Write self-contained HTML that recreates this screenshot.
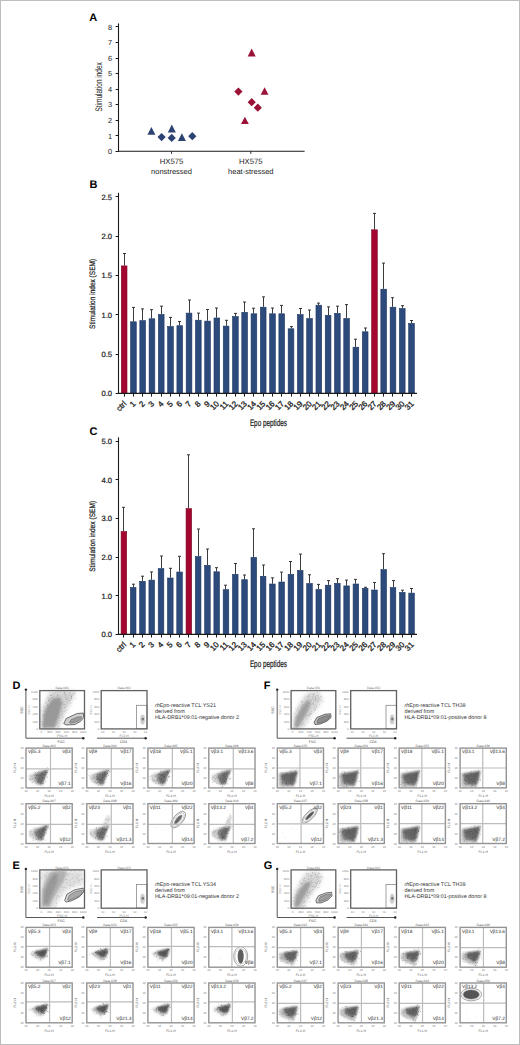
<!DOCTYPE html>
<html><head><meta charset="utf-8"><style>
html,body{margin:0;padding:0;background:#fff;}
body{width:520px;height:1045px;overflow:hidden;position:relative;}
svg{position:absolute;left:0;top:0;display:block;}
svg text{font-family:"Liberation Sans", sans-serif;text-rendering:geometricPrecision;}
.bt{stroke:#222;stroke-width:0.22px;}
</style></head><body>
<svg width="520" height="1045" viewBox="0 0 520 1045">
<defs>
<filter id="b1" x="-30%" y="-30%" width="160%" height="160%"><feGaussianBlur stdDeviation="1.2"/></filter>
<filter id="b2" x="-30%" y="-30%" width="160%" height="160%"><feGaussianBlur stdDeviation="2.2"/></filter>
<linearGradient id="coreg" x1="0" y1="0" x2="1" y2="0.3"><stop offset="0" stop-color="#a4a4a4"/><stop offset="0.45" stop-color="#747474"/><stop offset="1" stop-color="#626262"/></linearGradient>
<linearGradient id="coreF" x1="0" y1="1" x2="1" y2="0.2"><stop offset="0" stop-color="#979797"/><stop offset="0.35" stop-color="#6a6a6a"/><stop offset="1" stop-color="#5c5c5c"/></linearGradient>
<filter id="b07" x="-30%" y="-30%" width="160%" height="160%"><feGaussianBlur stdDeviation="0.8"/></filter>
<filter id="b05" x="-30%" y="-30%" width="160%" height="160%"><feGaussianBlur stdDeviation="0.6"/></filter>
</defs>
<rect x="0" y="0" width="520" height="1045" fill="#fff"/>
<text x="89.2" y="20.7" font-size="11" text-anchor="start" font-weight="bold" fill="#000" >A</text>
<line x1="118.5" y1="23.4" x2="118.5" y2="151.8" stroke="#1a1a1a" stroke-width="1.1" />
<line x1="115.6" y1="151.5" x2="118.5" y2="151.5" stroke="#1a1a1a" stroke-width="1.0" />
<text x="112" y="154.1" font-size="7.4" text-anchor="end" font-weight="normal" fill="#222" >0</text>
<line x1="115.6" y1="135.5" x2="118.5" y2="135.5" stroke="#1a1a1a" stroke-width="1.0" />
<text x="112" y="138.55" font-size="7.4" text-anchor="end" font-weight="normal" fill="#222" >1</text>
<line x1="115.6" y1="120.5" x2="118.5" y2="120.5" stroke="#1a1a1a" stroke-width="1.0" />
<text x="112" y="123" font-size="7.4" text-anchor="end" font-weight="normal" fill="#222" >2</text>
<line x1="115.6" y1="104.5" x2="118.5" y2="104.5" stroke="#1a1a1a" stroke-width="1.0" />
<text x="112" y="107.45" font-size="7.4" text-anchor="end" font-weight="normal" fill="#222" >3</text>
<line x1="115.6" y1="89.5" x2="118.5" y2="89.5" stroke="#1a1a1a" stroke-width="1.0" />
<text x="112" y="91.9" font-size="7.4" text-anchor="end" font-weight="normal" fill="#222" >4</text>
<line x1="115.6" y1="73.5" x2="118.5" y2="73.5" stroke="#1a1a1a" stroke-width="1.0" />
<text x="112" y="76.35" font-size="7.4" text-anchor="end" font-weight="normal" fill="#222" >5</text>
<line x1="115.6" y1="58.5" x2="118.5" y2="58.5" stroke="#1a1a1a" stroke-width="1.0" />
<text x="112" y="60.8" font-size="7.4" text-anchor="end" font-weight="normal" fill="#222" >6</text>
<line x1="115.6" y1="42.5" x2="118.5" y2="42.5" stroke="#1a1a1a" stroke-width="1.0" />
<text x="112" y="45.25" font-size="7.4" text-anchor="end" font-weight="normal" fill="#222" >7</text>
<line x1="115.6" y1="26.5" x2="118.5" y2="26.5" stroke="#1a1a1a" stroke-width="1.0" />
<text x="112" y="29.7" font-size="7.4" text-anchor="end" font-weight="normal" fill="#222" >8</text>
<line x1="118" y1="151.3" x2="304.6" y2="151.3" stroke="#1a1a1a" stroke-width="1.1" />
<line x1="171.5" y1="151.3" x2="171.5" y2="153.9" stroke="#1a1a1a" stroke-width="0.9" />
<line x1="250.8" y1="151.3" x2="250.8" y2="153.9" stroke="#1a1a1a" stroke-width="0.9" />
<text x="171.5" y="164" font-size="7.7" text-anchor="middle" font-weight="normal" fill="#222" >HX575</text>
<text x="171.5" y="173.5" font-size="7.5" text-anchor="middle" font-weight="normal" fill="#222" >nonstressed</text>
<text x="250.8" y="164" font-size="7.7" text-anchor="middle" font-weight="normal" fill="#222" >HX575</text>
<text x="250.8" y="173.5" font-size="7.5" text-anchor="middle" font-weight="normal" fill="#222" >heat-stressed</text>
<text transform="translate(102.2 86.9) rotate(-90)" font-size="9.6" text-anchor="middle" fill="#222" textLength="49.4" lengthAdjust="spacingAndGlyphs">Stimulation index</text>
<polygon points="151.4,126.9 155.4,134.8 147.4,134.8" fill="#2c4272"/>
<polygon points="161.6,133 165.7,137.1 161.6,141.2 157.5,137.1" fill="#2c4272"/>
<polygon points="171.8,124.6 175.8,132.5 167.8,132.5" fill="#2c4272"/>
<polygon points="171.7,133.8 175.8,137.9 171.7,142 167.6,137.9" fill="#2c4272"/>
<polygon points="181.9,133.3 185.9,141 177.9,141" fill="#2c4272"/>
<polygon points="192.3,132.1 196.4,136.2 192.3,140.3 188.2,136.2" fill="#2c4272"/>
<polygon points="251.7,48.6 255.7,56.4 247.7,56.4" fill="#9a1236"/>
<polygon points="238.4,87.5 242.5,91.6 238.4,95.7 234.3,91.6" fill="#9a1236"/>
<polygon points="264.6,87.2 268.5,94.7 260.7,94.7" fill="#9a1236"/>
<polygon points="251.7,98.1 255.8,102.2 251.7,106.3 247.6,102.2" fill="#9a1236"/>
<polygon points="257.8,103.6 261.9,107.7 257.8,111.8 253.7,107.7" fill="#9a1236"/>
<polygon points="244.9,116.7 248.8,124 241,124" fill="#9a1236"/>
<text x="89.6" y="188" font-size="11" text-anchor="start" font-weight="bold" fill="#000" >B</text>
<line x1="118.5" y1="192.8" x2="118.5" y2="393.9" stroke="#1a1a1a" stroke-width="1.1" />
<line x1="115.6" y1="393.5" x2="118.5" y2="393.5" stroke="#1a1a1a" stroke-width="1.0" />
<text class="bt" x="112" y="396.2" font-size="7.6" text-anchor="end" font-weight="normal" fill="#222" >0.0</text>
<line x1="115.6" y1="354.5" x2="118.5" y2="354.5" stroke="#1a1a1a" stroke-width="1.0" />
<text class="bt" x="112" y="356.9" font-size="7.6" text-anchor="end" font-weight="normal" fill="#222" >0.5</text>
<line x1="115.6" y1="314.5" x2="118.5" y2="314.5" stroke="#1a1a1a" stroke-width="1.0" />
<text class="bt" x="112" y="317.6" font-size="7.6" text-anchor="end" font-weight="normal" fill="#222" >1.0</text>
<line x1="115.6" y1="275.5" x2="118.5" y2="275.5" stroke="#1a1a1a" stroke-width="1.0" />
<text class="bt" x="112" y="278.3" font-size="7.6" text-anchor="end" font-weight="normal" fill="#222" >1.5</text>
<line x1="115.6" y1="236.5" x2="118.5" y2="236.5" stroke="#1a1a1a" stroke-width="1.0" />
<text class="bt" x="112" y="239" font-size="7.6" text-anchor="end" font-weight="normal" fill="#222" >2.0</text>
<line x1="115.6" y1="196.5" x2="118.5" y2="196.5" stroke="#1a1a1a" stroke-width="1.0" />
<text class="bt" x="112" y="199.7" font-size="7.6" text-anchor="end" font-weight="normal" fill="#222" >2.5</text>
<line x1="124.5" y1="253.5" x2="124.5" y2="265.6" stroke="#3c3c3c" stroke-width="1.0" />
<line x1="123" y1="253.5" x2="126" y2="253.5" stroke="#333" stroke-width="1.0" />
<rect x="121.3" y="265.9" width="5.7" height="127.5" fill="#a5062f" stroke="#780a24" stroke-width="0.6"/>
<line x1="124.5" y1="393.4" x2="124.5" y2="396.6" stroke="#1a1a1a" stroke-width="1.0" />
<text transform="translate(126.95 404.3) rotate(-45)" font-size="8" text-anchor="end" fill="#222" class="bt" style="stroke-width:0.3px">ctrl</text>
<line x1="133.5" y1="307.4" x2="133.5" y2="321.5" stroke="#3c3c3c" stroke-width="1.0" />
<line x1="132" y1="307.4" x2="135" y2="307.4" stroke="#333" stroke-width="1.0" />
<rect x="130.57" y="321.8" width="5.7" height="71.6" fill="#2c4a7c" stroke="#1f3760" stroke-width="0.6"/>
<line x1="133.5" y1="393.4" x2="133.5" y2="396.6" stroke="#1a1a1a" stroke-width="1.0" />
<text transform="translate(136.22 404.3) rotate(-45)" font-size="8" text-anchor="end" fill="#222" class="bt" style="stroke-width:0.3px">1</text>
<line x1="142.5" y1="308.9" x2="142.5" y2="320.3" stroke="#3c3c3c" stroke-width="1.0" />
<line x1="141" y1="308.9" x2="144" y2="308.9" stroke="#333" stroke-width="1.0" />
<rect x="139.84" y="320.6" width="5.7" height="72.8" fill="#2c4a7c" stroke="#1f3760" stroke-width="0.6"/>
<line x1="142.5" y1="393.4" x2="142.5" y2="396.6" stroke="#1a1a1a" stroke-width="1.0" />
<text transform="translate(145.49 404.3) rotate(-45)" font-size="8" text-anchor="end" fill="#222" class="bt" style="stroke-width:0.3px">2</text>
<line x1="151.5" y1="309.7" x2="151.5" y2="318.5" stroke="#3c3c3c" stroke-width="1.0" />
<line x1="150" y1="309.7" x2="153" y2="309.7" stroke="#333" stroke-width="1.0" />
<rect x="149.11" y="318.8" width="5.7" height="74.6" fill="#2c4a7c" stroke="#1f3760" stroke-width="0.6"/>
<line x1="151.5" y1="393.4" x2="151.5" y2="396.6" stroke="#1a1a1a" stroke-width="1.0" />
<text transform="translate(154.76 404.3) rotate(-45)" font-size="8" text-anchor="end" fill="#222" class="bt" style="stroke-width:0.3px">3</text>
<line x1="161.5" y1="306.2" x2="161.5" y2="314.2" stroke="#3c3c3c" stroke-width="1.0" />
<line x1="160" y1="306.2" x2="163" y2="306.2" stroke="#333" stroke-width="1.0" />
<rect x="158.38" y="314.5" width="5.7" height="78.9" fill="#2c4a7c" stroke="#1f3760" stroke-width="0.6"/>
<line x1="161.5" y1="393.4" x2="161.5" y2="396.6" stroke="#1a1a1a" stroke-width="1.0" />
<text transform="translate(164.03 404.3) rotate(-45)" font-size="8" text-anchor="end" fill="#222" class="bt" style="stroke-width:0.3px">4</text>
<line x1="170.5" y1="317.4" x2="170.5" y2="326.2" stroke="#3c3c3c" stroke-width="1.0" />
<line x1="169" y1="317.4" x2="172" y2="317.4" stroke="#333" stroke-width="1.0" />
<rect x="167.65" y="326.5" width="5.7" height="66.9" fill="#2c4a7c" stroke="#1f3760" stroke-width="0.6"/>
<line x1="170.5" y1="393.4" x2="170.5" y2="396.6" stroke="#1a1a1a" stroke-width="1.0" />
<text transform="translate(173.3 404.3) rotate(-45)" font-size="8" text-anchor="end" fill="#222" class="bt" style="stroke-width:0.3px">5</text>
<line x1="179.5" y1="321.5" x2="179.5" y2="325.4" stroke="#3c3c3c" stroke-width="1.0" />
<line x1="178" y1="321.5" x2="181" y2="321.5" stroke="#333" stroke-width="1.0" />
<rect x="176.92" y="325.7" width="5.7" height="67.7" fill="#2c4a7c" stroke="#1f3760" stroke-width="0.6"/>
<line x1="179.5" y1="393.4" x2="179.5" y2="396.6" stroke="#1a1a1a" stroke-width="1.0" />
<text transform="translate(182.57 404.3) rotate(-45)" font-size="8" text-anchor="end" fill="#222" class="bt" style="stroke-width:0.3px">6</text>
<line x1="189.5" y1="300" x2="189.5" y2="312.8" stroke="#3c3c3c" stroke-width="1.0" />
<line x1="188" y1="300" x2="191" y2="300" stroke="#333" stroke-width="1.0" />
<rect x="186.19" y="313.1" width="5.7" height="80.3" fill="#2c4a7c" stroke="#1f3760" stroke-width="0.6"/>
<line x1="189.5" y1="393.4" x2="189.5" y2="396.6" stroke="#1a1a1a" stroke-width="1.0" />
<text transform="translate(191.84 404.3) rotate(-45)" font-size="8" text-anchor="end" fill="#222" class="bt" style="stroke-width:0.3px">7</text>
<line x1="198.5" y1="313.1" x2="198.5" y2="319.9" stroke="#3c3c3c" stroke-width="1.0" />
<line x1="197" y1="313.1" x2="200" y2="313.1" stroke="#333" stroke-width="1.0" />
<rect x="195.46" y="320.2" width="5.7" height="73.2" fill="#2c4a7c" stroke="#1f3760" stroke-width="0.6"/>
<line x1="198.5" y1="393.4" x2="198.5" y2="396.6" stroke="#1a1a1a" stroke-width="1.0" />
<text transform="translate(201.11 404.3) rotate(-45)" font-size="8" text-anchor="end" fill="#222" class="bt" style="stroke-width:0.3px">8</text>
<line x1="207.5" y1="309.5" x2="207.5" y2="320.8" stroke="#3c3c3c" stroke-width="1.0" />
<line x1="206" y1="309.5" x2="209" y2="309.5" stroke="#333" stroke-width="1.0" />
<rect x="204.73" y="321.1" width="5.7" height="72.3" fill="#2c4a7c" stroke="#1f3760" stroke-width="0.6"/>
<line x1="207.5" y1="393.4" x2="207.5" y2="396.6" stroke="#1a1a1a" stroke-width="1.0" />
<text transform="translate(210.38 404.3) rotate(-45)" font-size="8" text-anchor="end" fill="#222" class="bt" style="stroke-width:0.3px">9</text>
<line x1="216.5" y1="308" x2="216.5" y2="317.7" stroke="#3c3c3c" stroke-width="1.0" />
<line x1="215" y1="308" x2="218" y2="308" stroke="#333" stroke-width="1.0" />
<rect x="214" y="318" width="5.7" height="75.4" fill="#2c4a7c" stroke="#1f3760" stroke-width="0.6"/>
<line x1="216.5" y1="393.4" x2="216.5" y2="396.6" stroke="#1a1a1a" stroke-width="1.0" />
<text transform="translate(219.65 404.3) rotate(-45)" font-size="8" text-anchor="end" fill="#222" class="bt" style="stroke-width:0.3px">10</text>
<line x1="226.5" y1="320.3" x2="226.5" y2="325.8" stroke="#3c3c3c" stroke-width="1.0" />
<line x1="225" y1="320.3" x2="228" y2="320.3" stroke="#333" stroke-width="1.0" />
<rect x="223.27" y="326.1" width="5.7" height="67.3" fill="#2c4a7c" stroke="#1f3760" stroke-width="0.6"/>
<line x1="226.5" y1="393.4" x2="226.5" y2="396.6" stroke="#1a1a1a" stroke-width="1.0" />
<text transform="translate(228.92 404.3) rotate(-45)" font-size="8" text-anchor="end" fill="#222" class="bt" style="stroke-width:0.3px">11</text>
<line x1="235.5" y1="313.4" x2="235.5" y2="316.2" stroke="#3c3c3c" stroke-width="1.0" />
<line x1="234" y1="313.4" x2="237" y2="313.4" stroke="#333" stroke-width="1.0" />
<rect x="232.54" y="316.5" width="5.7" height="76.9" fill="#2c4a7c" stroke="#1f3760" stroke-width="0.6"/>
<line x1="235.5" y1="393.4" x2="235.5" y2="396.6" stroke="#1a1a1a" stroke-width="1.0" />
<text transform="translate(238.19 404.3) rotate(-45)" font-size="8" text-anchor="end" fill="#222" class="bt" style="stroke-width:0.3px">12</text>
<line x1="244.5" y1="302" x2="244.5" y2="312" stroke="#3c3c3c" stroke-width="1.0" />
<line x1="243" y1="302" x2="246" y2="302" stroke="#333" stroke-width="1.0" />
<rect x="241.81" y="312.3" width="5.7" height="81.1" fill="#2c4a7c" stroke="#1f3760" stroke-width="0.6"/>
<line x1="244.5" y1="393.4" x2="244.5" y2="396.6" stroke="#1a1a1a" stroke-width="1.0" />
<text transform="translate(247.46 404.3) rotate(-45)" font-size="8" text-anchor="end" fill="#222" class="bt" style="stroke-width:0.3px">13</text>
<line x1="253.5" y1="308.2" x2="253.5" y2="313.5" stroke="#3c3c3c" stroke-width="1.0" />
<line x1="252" y1="308.2" x2="255" y2="308.2" stroke="#333" stroke-width="1.0" />
<rect x="251.08" y="313.8" width="5.7" height="79.6" fill="#2c4a7c" stroke="#1f3760" stroke-width="0.6"/>
<line x1="253.5" y1="393.4" x2="253.5" y2="396.6" stroke="#1a1a1a" stroke-width="1.0" />
<text transform="translate(256.73 404.3) rotate(-45)" font-size="8" text-anchor="end" fill="#222" class="bt" style="stroke-width:0.3px">14</text>
<line x1="263.5" y1="296.9" x2="263.5" y2="306.9" stroke="#3c3c3c" stroke-width="1.0" />
<line x1="262" y1="296.9" x2="265" y2="296.9" stroke="#333" stroke-width="1.0" />
<rect x="260.35" y="307.2" width="5.7" height="86.2" fill="#2c4a7c" stroke="#1f3760" stroke-width="0.6"/>
<line x1="263.5" y1="393.4" x2="263.5" y2="396.6" stroke="#1a1a1a" stroke-width="1.0" />
<text transform="translate(266 404.3) rotate(-45)" font-size="8" text-anchor="end" fill="#222" class="bt" style="stroke-width:0.3px">15</text>
<line x1="272.5" y1="308" x2="272.5" y2="313.5" stroke="#3c3c3c" stroke-width="1.0" />
<line x1="271" y1="308" x2="274" y2="308" stroke="#333" stroke-width="1.0" />
<rect x="269.62" y="313.8" width="5.7" height="79.6" fill="#2c4a7c" stroke="#1f3760" stroke-width="0.6"/>
<line x1="272.5" y1="393.4" x2="272.5" y2="396.6" stroke="#1a1a1a" stroke-width="1.0" />
<text transform="translate(275.27 404.3) rotate(-45)" font-size="8" text-anchor="end" fill="#222" class="bt" style="stroke-width:0.3px">16</text>
<line x1="281.5" y1="305.4" x2="281.5" y2="313.5" stroke="#3c3c3c" stroke-width="1.0" />
<line x1="280" y1="305.4" x2="283" y2="305.4" stroke="#333" stroke-width="1.0" />
<rect x="278.89" y="313.8" width="5.7" height="79.6" fill="#2c4a7c" stroke="#1f3760" stroke-width="0.6"/>
<line x1="281.5" y1="393.4" x2="281.5" y2="396.6" stroke="#1a1a1a" stroke-width="1.0" />
<text transform="translate(284.54 404.3) rotate(-45)" font-size="8" text-anchor="end" fill="#222" class="bt" style="stroke-width:0.3px">17</text>
<line x1="291.5" y1="326.6" x2="291.5" y2="328.5" stroke="#3c3c3c" stroke-width="1.0" />
<line x1="290" y1="326.6" x2="293" y2="326.6" stroke="#333" stroke-width="1.0" />
<rect x="288.16" y="328.8" width="5.7" height="64.6" fill="#2c4a7c" stroke="#1f3760" stroke-width="0.6"/>
<line x1="291.5" y1="393.4" x2="291.5" y2="396.6" stroke="#1a1a1a" stroke-width="1.0" />
<text transform="translate(293.81 404.3) rotate(-45)" font-size="8" text-anchor="end" fill="#222" class="bt" style="stroke-width:0.3px">18</text>
<line x1="300.5" y1="308.5" x2="300.5" y2="314.3" stroke="#3c3c3c" stroke-width="1.0" />
<line x1="299" y1="308.5" x2="302" y2="308.5" stroke="#333" stroke-width="1.0" />
<rect x="297.43" y="314.6" width="5.7" height="78.8" fill="#2c4a7c" stroke="#1f3760" stroke-width="0.6"/>
<line x1="300.5" y1="393.4" x2="300.5" y2="396.6" stroke="#1a1a1a" stroke-width="1.0" />
<text transform="translate(303.08 404.3) rotate(-45)" font-size="8" text-anchor="end" fill="#222" class="bt" style="stroke-width:0.3px">19</text>
<line x1="309.5" y1="310" x2="309.5" y2="318.2" stroke="#3c3c3c" stroke-width="1.0" />
<line x1="308" y1="310" x2="311" y2="310" stroke="#333" stroke-width="1.0" />
<rect x="306.7" y="318.5" width="5.7" height="74.9" fill="#2c4a7c" stroke="#1f3760" stroke-width="0.6"/>
<line x1="309.5" y1="393.4" x2="309.5" y2="396.6" stroke="#1a1a1a" stroke-width="1.0" />
<text transform="translate(312.35 404.3) rotate(-45)" font-size="8" text-anchor="end" fill="#222" class="bt" style="stroke-width:0.3px">20</text>
<line x1="318.5" y1="303.1" x2="318.5" y2="304.9" stroke="#3c3c3c" stroke-width="1.0" />
<line x1="317" y1="303.1" x2="320" y2="303.1" stroke="#333" stroke-width="1.0" />
<rect x="315.97" y="305.2" width="5.7" height="88.2" fill="#2c4a7c" stroke="#1f3760" stroke-width="0.6"/>
<line x1="318.5" y1="393.4" x2="318.5" y2="396.6" stroke="#1a1a1a" stroke-width="1.0" />
<text transform="translate(321.62 404.3) rotate(-45)" font-size="8" text-anchor="end" fill="#222" class="bt" style="stroke-width:0.3px">21</text>
<line x1="328.5" y1="306.9" x2="328.5" y2="315" stroke="#3c3c3c" stroke-width="1.0" />
<line x1="327" y1="306.9" x2="330" y2="306.9" stroke="#333" stroke-width="1.0" />
<rect x="325.24" y="315.3" width="5.7" height="78.1" fill="#2c4a7c" stroke="#1f3760" stroke-width="0.6"/>
<line x1="328.5" y1="393.4" x2="328.5" y2="396.6" stroke="#1a1a1a" stroke-width="1.0" />
<text transform="translate(330.89 404.3) rotate(-45)" font-size="8" text-anchor="end" fill="#222" class="bt" style="stroke-width:0.3px">22</text>
<line x1="337.5" y1="306.2" x2="337.5" y2="313" stroke="#3c3c3c" stroke-width="1.0" />
<line x1="336" y1="306.2" x2="339" y2="306.2" stroke="#333" stroke-width="1.0" />
<rect x="334.51" y="313.3" width="5.7" height="80.1" fill="#2c4a7c" stroke="#1f3760" stroke-width="0.6"/>
<line x1="337.5" y1="393.4" x2="337.5" y2="396.6" stroke="#1a1a1a" stroke-width="1.0" />
<text transform="translate(340.16 404.3) rotate(-45)" font-size="8" text-anchor="end" fill="#222" class="bt" style="stroke-width:0.3px">23</text>
<line x1="346.5" y1="304.6" x2="346.5" y2="318.2" stroke="#3c3c3c" stroke-width="1.0" />
<line x1="345" y1="304.6" x2="348" y2="304.6" stroke="#333" stroke-width="1.0" />
<rect x="343.78" y="318.5" width="5.7" height="74.9" fill="#2c4a7c" stroke="#1f3760" stroke-width="0.6"/>
<line x1="346.5" y1="393.4" x2="346.5" y2="396.6" stroke="#1a1a1a" stroke-width="1.0" />
<text transform="translate(349.43 404.3) rotate(-45)" font-size="8" text-anchor="end" fill="#222" class="bt" style="stroke-width:0.3px">24</text>
<line x1="355.5" y1="339.2" x2="355.5" y2="346.9" stroke="#3c3c3c" stroke-width="1.0" />
<line x1="354" y1="339.2" x2="357" y2="339.2" stroke="#333" stroke-width="1.0" />
<rect x="353.05" y="347.2" width="5.7" height="46.2" fill="#2c4a7c" stroke="#1f3760" stroke-width="0.6"/>
<line x1="355.5" y1="393.4" x2="355.5" y2="396.6" stroke="#1a1a1a" stroke-width="1.0" />
<text transform="translate(358.7 404.3) rotate(-45)" font-size="8" text-anchor="end" fill="#222" class="bt" style="stroke-width:0.3px">25</text>
<line x1="365.5" y1="328" x2="365.5" y2="331.5" stroke="#3c3c3c" stroke-width="1.0" />
<line x1="364" y1="328" x2="367" y2="328" stroke="#333" stroke-width="1.0" />
<rect x="362.32" y="331.8" width="5.7" height="61.6" fill="#2c4a7c" stroke="#1f3760" stroke-width="0.6"/>
<line x1="365.5" y1="393.4" x2="365.5" y2="396.6" stroke="#1a1a1a" stroke-width="1.0" />
<text transform="translate(367.97 404.3) rotate(-45)" font-size="8" text-anchor="end" fill="#222" class="bt" style="stroke-width:0.3px">26</text>
<line x1="374.5" y1="213.4" x2="374.5" y2="229.5" stroke="#3c3c3c" stroke-width="1.0" />
<line x1="373" y1="213.4" x2="376" y2="213.4" stroke="#333" stroke-width="1.0" />
<rect x="371.59" y="229.8" width="5.7" height="163.6" fill="#a5062f" stroke="#780a24" stroke-width="0.6"/>
<line x1="374.5" y1="393.4" x2="374.5" y2="396.6" stroke="#1a1a1a" stroke-width="1.0" />
<text transform="translate(377.24 404.3) rotate(-45)" font-size="8" text-anchor="end" fill="#222" class="bt" style="stroke-width:0.3px">27</text>
<line x1="383.5" y1="263.1" x2="383.5" y2="288.9" stroke="#3c3c3c" stroke-width="1.0" />
<line x1="382" y1="263.1" x2="385" y2="263.1" stroke="#333" stroke-width="1.0" />
<rect x="380.86" y="289.2" width="5.7" height="104.2" fill="#2c4a7c" stroke="#1f3760" stroke-width="0.6"/>
<line x1="383.5" y1="393.4" x2="383.5" y2="396.6" stroke="#1a1a1a" stroke-width="1.0" />
<text transform="translate(386.51 404.3) rotate(-45)" font-size="8" text-anchor="end" fill="#222" class="bt" style="stroke-width:0.3px">28</text>
<line x1="392.5" y1="297.7" x2="392.5" y2="306.9" stroke="#3c3c3c" stroke-width="1.0" />
<line x1="391" y1="297.7" x2="394" y2="297.7" stroke="#333" stroke-width="1.0" />
<rect x="390.13" y="307.2" width="5.7" height="86.2" fill="#2c4a7c" stroke="#1f3760" stroke-width="0.6"/>
<line x1="392.5" y1="393.4" x2="392.5" y2="396.6" stroke="#1a1a1a" stroke-width="1.0" />
<text transform="translate(395.78 404.3) rotate(-45)" font-size="8" text-anchor="end" fill="#222" class="bt" style="stroke-width:0.3px">29</text>
<line x1="402.5" y1="305.7" x2="402.5" y2="308.2" stroke="#3c3c3c" stroke-width="1.0" />
<line x1="401" y1="305.7" x2="404" y2="305.7" stroke="#333" stroke-width="1.0" />
<rect x="399.4" y="308.5" width="5.7" height="84.9" fill="#2c4a7c" stroke="#1f3760" stroke-width="0.6"/>
<line x1="402.5" y1="393.4" x2="402.5" y2="396.6" stroke="#1a1a1a" stroke-width="1.0" />
<text transform="translate(405.05 404.3) rotate(-45)" font-size="8" text-anchor="end" fill="#222" class="bt" style="stroke-width:0.3px">30</text>
<line x1="411.5" y1="320.5" x2="411.5" y2="323.1" stroke="#3c3c3c" stroke-width="1.0" />
<line x1="410" y1="320.5" x2="413" y2="320.5" stroke="#333" stroke-width="1.0" />
<rect x="408.67" y="323.4" width="5.7" height="70" fill="#2c4a7c" stroke="#1f3760" stroke-width="0.6"/>
<line x1="411.5" y1="393.4" x2="411.5" y2="396.6" stroke="#1a1a1a" stroke-width="1.0" />
<text transform="translate(414.32 404.3) rotate(-45)" font-size="8" text-anchor="end" fill="#222" class="bt" style="stroke-width:0.3px">31</text>
<line x1="117.8" y1="393.4" x2="417" y2="393.4" stroke="#1a1a1a" stroke-width="1.2" />
<text x="268.4" y="425.6" font-size="9.5" text-anchor="middle" fill="#222" textLength="37" lengthAdjust="spacingAndGlyphs" class="bt">Epo peptides</text>
<text transform="translate(95.4 293.9) rotate(-90)" font-size="7.9" text-anchor="middle" fill="#222" textLength="70" lengthAdjust="spacingAndGlyphs" class="bt">Stimulation index (SEM)</text>
<text x="89.6" y="435.4" font-size="11" text-anchor="start" font-weight="bold" fill="#000" >C</text>
<line x1="118.5" y1="437.3" x2="118.5" y2="634.8" stroke="#1a1a1a" stroke-width="1.1" />
<line x1="115.6" y1="634.5" x2="118.5" y2="634.5" stroke="#1a1a1a" stroke-width="1.0" />
<text class="bt" x="112" y="637.1" font-size="7.6" text-anchor="end" font-weight="normal" fill="#222" >0.0</text>
<line x1="115.6" y1="595.5" x2="118.5" y2="595.5" stroke="#1a1a1a" stroke-width="1.0" />
<text class="bt" x="112" y="598.5" font-size="7.6" text-anchor="end" font-weight="normal" fill="#222" >1.0</text>
<line x1="115.6" y1="557.5" x2="118.5" y2="557.5" stroke="#1a1a1a" stroke-width="1.0" />
<text class="bt" x="112" y="559.9" font-size="7.6" text-anchor="end" font-weight="normal" fill="#222" >2.0</text>
<line x1="115.6" y1="518.5" x2="118.5" y2="518.5" stroke="#1a1a1a" stroke-width="1.0" />
<text class="bt" x="112" y="521.3" font-size="7.6" text-anchor="end" font-weight="normal" fill="#222" >3.0</text>
<line x1="115.6" y1="479.5" x2="118.5" y2="479.5" stroke="#1a1a1a" stroke-width="1.0" />
<text class="bt" x="112" y="482.7" font-size="7.6" text-anchor="end" font-weight="normal" fill="#222" >4.0</text>
<line x1="115.6" y1="441.5" x2="118.5" y2="441.5" stroke="#1a1a1a" stroke-width="1.0" />
<text class="bt" x="112" y="444.1" font-size="7.6" text-anchor="end" font-weight="normal" fill="#222" >5.0</text>
<line x1="123.5" y1="507.3" x2="123.5" y2="531.3" stroke="#3c3c3c" stroke-width="1.0" />
<line x1="122" y1="507.3" x2="125" y2="507.3" stroke="#333" stroke-width="1.0" />
<rect x="121.1" y="531.6" width="5.6" height="102.7" fill="#a5062f" stroke="#780a24" stroke-width="0.6"/>
<line x1="123.5" y1="634.3" x2="123.5" y2="637.5" stroke="#1a1a1a" stroke-width="1.0" />
<text transform="translate(126.7 645.2) rotate(-45)" font-size="8" text-anchor="end" fill="#222" class="bt" style="stroke-width:0.3px">ctrl</text>
<line x1="133.5" y1="584.2" x2="133.5" y2="587.1" stroke="#3c3c3c" stroke-width="1.0" />
<line x1="132" y1="584.2" x2="135" y2="584.2" stroke="#333" stroke-width="1.0" />
<rect x="130.38" y="587.4" width="5.6" height="46.9" fill="#2c4a7c" stroke="#1f3760" stroke-width="0.6"/>
<line x1="133.5" y1="634.3" x2="133.5" y2="637.5" stroke="#1a1a1a" stroke-width="1.0" />
<text transform="translate(135.98 645.2) rotate(-45)" font-size="8" text-anchor="end" fill="#222" class="bt" style="stroke-width:0.3px">1</text>
<line x1="142.5" y1="576.2" x2="142.5" y2="581" stroke="#3c3c3c" stroke-width="1.0" />
<line x1="141" y1="576.2" x2="144" y2="576.2" stroke="#333" stroke-width="1.0" />
<rect x="139.66" y="581.3" width="5.6" height="53" fill="#2c4a7c" stroke="#1f3760" stroke-width="0.6"/>
<line x1="142.5" y1="634.3" x2="142.5" y2="637.5" stroke="#1a1a1a" stroke-width="1.0" />
<text transform="translate(145.26 645.2) rotate(-45)" font-size="8" text-anchor="end" fill="#222" class="bt" style="stroke-width:0.3px">2</text>
<line x1="151.5" y1="571.9" x2="151.5" y2="579.8" stroke="#3c3c3c" stroke-width="1.0" />
<line x1="150" y1="571.9" x2="153" y2="571.9" stroke="#333" stroke-width="1.0" />
<rect x="148.94" y="580.1" width="5.6" height="54.2" fill="#2c4a7c" stroke="#1f3760" stroke-width="0.6"/>
<line x1="151.5" y1="634.3" x2="151.5" y2="637.5" stroke="#1a1a1a" stroke-width="1.0" />
<text transform="translate(154.54 645.2) rotate(-45)" font-size="8" text-anchor="end" fill="#222" class="bt" style="stroke-width:0.3px">3</text>
<line x1="161.5" y1="556" x2="161.5" y2="568.3" stroke="#3c3c3c" stroke-width="1.0" />
<line x1="160" y1="556" x2="163" y2="556" stroke="#333" stroke-width="1.0" />
<rect x="158.22" y="568.6" width="5.6" height="65.7" fill="#2c4a7c" stroke="#1f3760" stroke-width="0.6"/>
<line x1="161.5" y1="634.3" x2="161.5" y2="637.5" stroke="#1a1a1a" stroke-width="1.0" />
<text transform="translate(163.82 645.2) rotate(-45)" font-size="8" text-anchor="end" fill="#222" class="bt" style="stroke-width:0.3px">4</text>
<line x1="170.5" y1="568.3" x2="170.5" y2="577.7" stroke="#3c3c3c" stroke-width="1.0" />
<line x1="169" y1="568.3" x2="172" y2="568.3" stroke="#333" stroke-width="1.0" />
<rect x="167.5" y="578" width="5.6" height="56.3" fill="#2c4a7c" stroke="#1f3760" stroke-width="0.6"/>
<line x1="170.5" y1="634.3" x2="170.5" y2="637.5" stroke="#1a1a1a" stroke-width="1.0" />
<text transform="translate(173.1 645.2) rotate(-45)" font-size="8" text-anchor="end" fill="#222" class="bt" style="stroke-width:0.3px">5</text>
<line x1="179.5" y1="556.3" x2="179.5" y2="571.7" stroke="#3c3c3c" stroke-width="1.0" />
<line x1="178" y1="556.3" x2="181" y2="556.3" stroke="#333" stroke-width="1.0" />
<rect x="176.78" y="572" width="5.6" height="62.3" fill="#2c4a7c" stroke="#1f3760" stroke-width="0.6"/>
<line x1="179.5" y1="634.3" x2="179.5" y2="637.5" stroke="#1a1a1a" stroke-width="1.0" />
<text transform="translate(182.38 645.2) rotate(-45)" font-size="8" text-anchor="end" fill="#222" class="bt" style="stroke-width:0.3px">6</text>
<line x1="188.5" y1="454.8" x2="188.5" y2="508.3" stroke="#3c3c3c" stroke-width="1.0" />
<line x1="187" y1="454.8" x2="190" y2="454.8" stroke="#333" stroke-width="1.0" />
<rect x="186.06" y="508.6" width="5.6" height="125.7" fill="#a5062f" stroke="#780a24" stroke-width="0.6"/>
<line x1="188.5" y1="634.3" x2="188.5" y2="637.5" stroke="#1a1a1a" stroke-width="1.0" />
<text transform="translate(191.66 645.2) rotate(-45)" font-size="8" text-anchor="end" fill="#222" class="bt" style="stroke-width:0.3px">7</text>
<line x1="198.5" y1="529" x2="198.5" y2="556.2" stroke="#3c3c3c" stroke-width="1.0" />
<line x1="197" y1="529" x2="200" y2="529" stroke="#333" stroke-width="1.0" />
<rect x="195.34" y="556.5" width="5.6" height="77.8" fill="#2c4a7c" stroke="#1f3760" stroke-width="0.6"/>
<line x1="198.5" y1="634.3" x2="198.5" y2="637.5" stroke="#1a1a1a" stroke-width="1.0" />
<text transform="translate(200.94 645.2) rotate(-45)" font-size="8" text-anchor="end" fill="#222" class="bt" style="stroke-width:0.3px">8</text>
<line x1="207.5" y1="549" x2="207.5" y2="565" stroke="#3c3c3c" stroke-width="1.0" />
<line x1="206" y1="549" x2="209" y2="549" stroke="#333" stroke-width="1.0" />
<rect x="204.62" y="565.3" width="5.6" height="69" fill="#2c4a7c" stroke="#1f3760" stroke-width="0.6"/>
<line x1="207.5" y1="634.3" x2="207.5" y2="637.5" stroke="#1a1a1a" stroke-width="1.0" />
<text transform="translate(210.22 645.2) rotate(-45)" font-size="8" text-anchor="end" fill="#222" class="bt" style="stroke-width:0.3px">9</text>
<line x1="216.5" y1="567.7" x2="216.5" y2="571.5" stroke="#3c3c3c" stroke-width="1.0" />
<line x1="215" y1="567.7" x2="218" y2="567.7" stroke="#333" stroke-width="1.0" />
<rect x="213.9" y="571.8" width="5.6" height="62.5" fill="#2c4a7c" stroke="#1f3760" stroke-width="0.6"/>
<line x1="216.5" y1="634.3" x2="216.5" y2="637.5" stroke="#1a1a1a" stroke-width="1.0" />
<text transform="translate(219.5 645.2) rotate(-45)" font-size="8" text-anchor="end" fill="#222" class="bt" style="stroke-width:0.3px">10</text>
<line x1="225.5" y1="585.2" x2="225.5" y2="589.4" stroke="#3c3c3c" stroke-width="1.0" />
<line x1="224" y1="585.2" x2="227" y2="585.2" stroke="#333" stroke-width="1.0" />
<rect x="223.18" y="589.7" width="5.6" height="44.6" fill="#2c4a7c" stroke="#1f3760" stroke-width="0.6"/>
<line x1="225.5" y1="634.3" x2="225.5" y2="637.5" stroke="#1a1a1a" stroke-width="1.0" />
<text transform="translate(228.78 645.2) rotate(-45)" font-size="8" text-anchor="end" fill="#222" class="bt" style="stroke-width:0.3px">11</text>
<line x1="235.5" y1="563.5" x2="235.5" y2="574" stroke="#3c3c3c" stroke-width="1.0" />
<line x1="234" y1="563.5" x2="237" y2="563.5" stroke="#333" stroke-width="1.0" />
<rect x="232.46" y="574.3" width="5.6" height="60" fill="#2c4a7c" stroke="#1f3760" stroke-width="0.6"/>
<line x1="235.5" y1="634.3" x2="235.5" y2="637.5" stroke="#1a1a1a" stroke-width="1.0" />
<text transform="translate(238.06 645.2) rotate(-45)" font-size="8" text-anchor="end" fill="#222" class="bt" style="stroke-width:0.3px">12</text>
<line x1="244.5" y1="575" x2="244.5" y2="579.4" stroke="#3c3c3c" stroke-width="1.0" />
<line x1="243" y1="575" x2="246" y2="575" stroke="#333" stroke-width="1.0" />
<rect x="241.74" y="579.7" width="5.6" height="54.6" fill="#2c4a7c" stroke="#1f3760" stroke-width="0.6"/>
<line x1="244.5" y1="634.3" x2="244.5" y2="637.5" stroke="#1a1a1a" stroke-width="1.0" />
<text transform="translate(247.34 645.2) rotate(-45)" font-size="8" text-anchor="end" fill="#222" class="bt" style="stroke-width:0.3px">13</text>
<line x1="253.5" y1="528.8" x2="253.5" y2="557.1" stroke="#3c3c3c" stroke-width="1.0" />
<line x1="252" y1="528.8" x2="255" y2="528.8" stroke="#333" stroke-width="1.0" />
<rect x="251.02" y="557.4" width="5.6" height="76.9" fill="#2c4a7c" stroke="#1f3760" stroke-width="0.6"/>
<line x1="253.5" y1="634.3" x2="253.5" y2="637.5" stroke="#1a1a1a" stroke-width="1.0" />
<text transform="translate(256.62 645.2) rotate(-45)" font-size="8" text-anchor="end" fill="#222" class="bt" style="stroke-width:0.3px">14</text>
<line x1="263.5" y1="565" x2="263.5" y2="576" stroke="#3c3c3c" stroke-width="1.0" />
<line x1="262" y1="565" x2="265" y2="565" stroke="#333" stroke-width="1.0" />
<rect x="260.3" y="576.3" width="5.6" height="58" fill="#2c4a7c" stroke="#1f3760" stroke-width="0.6"/>
<line x1="263.5" y1="634.3" x2="263.5" y2="637.5" stroke="#1a1a1a" stroke-width="1.0" />
<text transform="translate(265.9 645.2) rotate(-45)" font-size="8" text-anchor="end" fill="#222" class="bt" style="stroke-width:0.3px">15</text>
<line x1="272.5" y1="577.9" x2="272.5" y2="583.7" stroke="#3c3c3c" stroke-width="1.0" />
<line x1="271" y1="577.9" x2="274" y2="577.9" stroke="#333" stroke-width="1.0" />
<rect x="269.58" y="584" width="5.6" height="50.3" fill="#2c4a7c" stroke="#1f3760" stroke-width="0.6"/>
<line x1="272.5" y1="634.3" x2="272.5" y2="637.5" stroke="#1a1a1a" stroke-width="1.0" />
<text transform="translate(275.18 645.2) rotate(-45)" font-size="8" text-anchor="end" fill="#222" class="bt" style="stroke-width:0.3px">16</text>
<line x1="281.5" y1="572.1" x2="281.5" y2="581.7" stroke="#3c3c3c" stroke-width="1.0" />
<line x1="280" y1="572.1" x2="283" y2="572.1" stroke="#333" stroke-width="1.0" />
<rect x="278.86" y="582" width="5.6" height="52.3" fill="#2c4a7c" stroke="#1f3760" stroke-width="0.6"/>
<line x1="281.5" y1="634.3" x2="281.5" y2="637.5" stroke="#1a1a1a" stroke-width="1.0" />
<text transform="translate(284.46 645.2) rotate(-45)" font-size="8" text-anchor="end" fill="#222" class="bt" style="stroke-width:0.3px">17</text>
<line x1="290.5" y1="561.5" x2="290.5" y2="574" stroke="#3c3c3c" stroke-width="1.0" />
<line x1="289" y1="561.5" x2="292" y2="561.5" stroke="#333" stroke-width="1.0" />
<rect x="288.14" y="574.3" width="5.6" height="60" fill="#2c4a7c" stroke="#1f3760" stroke-width="0.6"/>
<line x1="290.5" y1="634.3" x2="290.5" y2="637.5" stroke="#1a1a1a" stroke-width="1.0" />
<text transform="translate(293.74 645.2) rotate(-45)" font-size="8" text-anchor="end" fill="#222" class="bt" style="stroke-width:0.3px">18</text>
<line x1="300.5" y1="554.1" x2="300.5" y2="570.1" stroke="#3c3c3c" stroke-width="1.0" />
<line x1="299" y1="554.1" x2="302" y2="554.1" stroke="#333" stroke-width="1.0" />
<rect x="297.42" y="570.4" width="5.6" height="63.9" fill="#2c4a7c" stroke="#1f3760" stroke-width="0.6"/>
<line x1="300.5" y1="634.3" x2="300.5" y2="637.5" stroke="#1a1a1a" stroke-width="1.0" />
<text transform="translate(303.02 645.2) rotate(-45)" font-size="8" text-anchor="end" fill="#222" class="bt" style="stroke-width:0.3px">19</text>
<line x1="309.5" y1="574.8" x2="309.5" y2="583.2" stroke="#3c3c3c" stroke-width="1.0" />
<line x1="308" y1="574.8" x2="311" y2="574.8" stroke="#333" stroke-width="1.0" />
<rect x="306.7" y="583.5" width="5.6" height="50.8" fill="#2c4a7c" stroke="#1f3760" stroke-width="0.6"/>
<line x1="309.5" y1="634.3" x2="309.5" y2="637.5" stroke="#1a1a1a" stroke-width="1.0" />
<text transform="translate(312.3 645.2) rotate(-45)" font-size="8" text-anchor="end" fill="#222" class="bt" style="stroke-width:0.3px">20</text>
<line x1="318.5" y1="584.4" x2="318.5" y2="589.2" stroke="#3c3c3c" stroke-width="1.0" />
<line x1="317" y1="584.4" x2="320" y2="584.4" stroke="#333" stroke-width="1.0" />
<rect x="315.98" y="589.5" width="5.6" height="44.8" fill="#2c4a7c" stroke="#1f3760" stroke-width="0.6"/>
<line x1="318.5" y1="634.3" x2="318.5" y2="637.5" stroke="#1a1a1a" stroke-width="1.0" />
<text transform="translate(321.58 645.2) rotate(-45)" font-size="8" text-anchor="end" fill="#222" class="bt" style="stroke-width:0.3px">21</text>
<line x1="328.5" y1="580.6" x2="328.5" y2="584.9" stroke="#3c3c3c" stroke-width="1.0" />
<line x1="327" y1="580.6" x2="330" y2="580.6" stroke="#333" stroke-width="1.0" />
<rect x="325.26" y="585.2" width="5.6" height="49.1" fill="#2c4a7c" stroke="#1f3760" stroke-width="0.6"/>
<line x1="328.5" y1="634.3" x2="328.5" y2="637.5" stroke="#1a1a1a" stroke-width="1.0" />
<text transform="translate(330.86 645.2) rotate(-45)" font-size="8" text-anchor="end" fill="#222" class="bt" style="stroke-width:0.3px">22</text>
<line x1="337.5" y1="578.7" x2="337.5" y2="583" stroke="#3c3c3c" stroke-width="1.0" />
<line x1="336" y1="578.7" x2="339" y2="578.7" stroke="#333" stroke-width="1.0" />
<rect x="334.54" y="583.3" width="5.6" height="51" fill="#2c4a7c" stroke="#1f3760" stroke-width="0.6"/>
<line x1="337.5" y1="634.3" x2="337.5" y2="637.5" stroke="#1a1a1a" stroke-width="1.0" />
<text transform="translate(340.14 645.2) rotate(-45)" font-size="8" text-anchor="end" fill="#222" class="bt" style="stroke-width:0.3px">23</text>
<line x1="346.5" y1="580.1" x2="346.5" y2="585.6" stroke="#3c3c3c" stroke-width="1.0" />
<line x1="345" y1="580.1" x2="348" y2="580.1" stroke="#333" stroke-width="1.0" />
<rect x="343.82" y="585.9" width="5.6" height="48.4" fill="#2c4a7c" stroke="#1f3760" stroke-width="0.6"/>
<line x1="346.5" y1="634.3" x2="346.5" y2="637.5" stroke="#1a1a1a" stroke-width="1.0" />
<text transform="translate(349.42 645.2) rotate(-45)" font-size="8" text-anchor="end" fill="#222" class="bt" style="stroke-width:0.3px">24</text>
<line x1="355.5" y1="579.4" x2="355.5" y2="583.7" stroke="#3c3c3c" stroke-width="1.0" />
<line x1="354" y1="579.4" x2="357" y2="579.4" stroke="#333" stroke-width="1.0" />
<rect x="353.1" y="584" width="5.6" height="50.3" fill="#2c4a7c" stroke="#1f3760" stroke-width="0.6"/>
<line x1="355.5" y1="634.3" x2="355.5" y2="637.5" stroke="#1a1a1a" stroke-width="1.0" />
<text transform="translate(358.7 645.2) rotate(-45)" font-size="8" text-anchor="end" fill="#222" class="bt" style="stroke-width:0.3px">25</text>
<line x1="365.5" y1="587.3" x2="365.5" y2="588" stroke="#3c3c3c" stroke-width="1.0" />
<line x1="364" y1="587.3" x2="367" y2="587.3" stroke="#333" stroke-width="1.0" />
<rect x="362.38" y="588.3" width="5.6" height="46" fill="#2c4a7c" stroke="#1f3760" stroke-width="0.6"/>
<line x1="365.5" y1="634.3" x2="365.5" y2="637.5" stroke="#1a1a1a" stroke-width="1.0" />
<text transform="translate(367.98 645.2) rotate(-45)" font-size="8" text-anchor="end" fill="#222" class="bt" style="stroke-width:0.3px">26</text>
<line x1="374.5" y1="582.5" x2="374.5" y2="589.7" stroke="#3c3c3c" stroke-width="1.0" />
<line x1="373" y1="582.5" x2="376" y2="582.5" stroke="#333" stroke-width="1.0" />
<rect x="371.66" y="590" width="5.6" height="44.3" fill="#2c4a7c" stroke="#1f3760" stroke-width="0.6"/>
<line x1="374.5" y1="634.3" x2="374.5" y2="637.5" stroke="#1a1a1a" stroke-width="1.0" />
<text transform="translate(377.26 645.2) rotate(-45)" font-size="8" text-anchor="end" fill="#222" class="bt" style="stroke-width:0.3px">27</text>
<line x1="383.5" y1="553.7" x2="383.5" y2="569.3" stroke="#3c3c3c" stroke-width="1.0" />
<line x1="382" y1="553.7" x2="385" y2="553.7" stroke="#333" stroke-width="1.0" />
<rect x="380.94" y="569.6" width="5.6" height="64.7" fill="#2c4a7c" stroke="#1f3760" stroke-width="0.6"/>
<line x1="383.5" y1="634.3" x2="383.5" y2="637.5" stroke="#1a1a1a" stroke-width="1.0" />
<text transform="translate(386.54 645.2) rotate(-45)" font-size="8" text-anchor="end" fill="#222" class="bt" style="stroke-width:0.3px">28</text>
<line x1="393.5" y1="580.6" x2="393.5" y2="587.3" stroke="#3c3c3c" stroke-width="1.0" />
<line x1="392" y1="580.6" x2="395" y2="580.6" stroke="#333" stroke-width="1.0" />
<rect x="390.22" y="587.6" width="5.6" height="46.7" fill="#2c4a7c" stroke="#1f3760" stroke-width="0.6"/>
<line x1="393.5" y1="634.3" x2="393.5" y2="637.5" stroke="#1a1a1a" stroke-width="1.0" />
<text transform="translate(395.82 645.2) rotate(-45)" font-size="8" text-anchor="end" fill="#222" class="bt" style="stroke-width:0.3px">29</text>
<line x1="402.5" y1="590.2" x2="402.5" y2="592.1" stroke="#3c3c3c" stroke-width="1.0" />
<line x1="401" y1="590.2" x2="404" y2="590.2" stroke="#333" stroke-width="1.0" />
<rect x="399.5" y="592.4" width="5.6" height="41.9" fill="#2c4a7c" stroke="#1f3760" stroke-width="0.6"/>
<line x1="402.5" y1="634.3" x2="402.5" y2="637.5" stroke="#1a1a1a" stroke-width="1.0" />
<text transform="translate(405.1 645.2) rotate(-45)" font-size="8" text-anchor="end" fill="#222" class="bt" style="stroke-width:0.3px">30</text>
<line x1="411.5" y1="588.5" x2="411.5" y2="592.8" stroke="#3c3c3c" stroke-width="1.0" />
<line x1="410" y1="588.5" x2="413" y2="588.5" stroke="#333" stroke-width="1.0" />
<rect x="408.78" y="593.1" width="5.6" height="41.2" fill="#2c4a7c" stroke="#1f3760" stroke-width="0.6"/>
<line x1="411.5" y1="634.3" x2="411.5" y2="637.5" stroke="#1a1a1a" stroke-width="1.0" />
<text transform="translate(414.38 645.2) rotate(-45)" font-size="8" text-anchor="end" fill="#222" class="bt" style="stroke-width:0.3px">31</text>
<line x1="117.8" y1="634.3" x2="417" y2="634.3" stroke="#1a1a1a" stroke-width="1.2" />
<text x="268.4" y="666.7" font-size="9.5" text-anchor="middle" fill="#222" textLength="37" lengthAdjust="spacingAndGlyphs" class="bt">Epo peptides</text>
<text transform="translate(95.4 536.3) rotate(-90)" font-size="7.9" text-anchor="middle" fill="#222" textLength="71" lengthAdjust="spacingAndGlyphs" class="bt">Stimulation index (SEM)</text>
<text x="12.5" y="689.3" font-size="11" text-anchor="start" font-weight="bold" fill="#000" >D</text>
<polygon points="41.14,728.13 41.59,711.66 45.16,702.09 49.63,692.13 59.91,691.37 75.56,691.37 71.98,700.17 66.62,709.75 62.15,719.33 58.57,728.13" fill="#d0d0d0" filter="url(#b2)"/>
<polygon points="42.48,727.75 43.38,715.5 46.95,706.69 52.32,699.03 59.91,697.49 62.15,703.24 59.47,713.58 56.79,721.24 54.55,727.75" fill="#999999" filter="url(#b1)"/>
<path d="M51.3 695.3h0.6v0.6h-0.6zM64.4 692.1h0.6v0.6h-0.6zM59.8 704.2h0.6v0.6h-0.6zM40.8 710.1h0.6v0.6h-0.6zM55.7 692.0h0.6v0.6h-0.6zM50.0 695.0h0.6v0.6h-0.6zM45.6 713.1h0.6v0.6h-0.6zM63.9 704.5h0.6v0.6h-0.6zM60.2 691.7h0.6v0.6h-0.6zM55.5 702.1h0.6v0.6h-0.6zM61.8 707.8h0.6v0.6h-0.6zM50.4 721.9h0.6v0.6h-0.6zM66.3 699.2h0.6v0.6h-0.6zM61.3 710.8h0.6v0.6h-0.6zM68.6 695.4h0.6v0.6h-0.6zM50.9 717.8h0.6v0.6h-0.6zM62.1 713.1h0.6v0.6h-0.6zM56.6 723.8h0.6v0.6h-0.6zM53.8 716.7h0.6v0.6h-0.6zM73.1 692.4h0.6v0.6h-0.6zM56.3 711.8h0.6v0.6h-0.6zM49.5 706.2h0.6v0.6h-0.6zM52.7 725.6h0.6v0.6h-0.6zM47.7 698.7h0.6v0.6h-0.6zM57.8 713.4h0.6v0.6h-0.6zM53.1 712.5h0.6v0.6h-0.6zM63.0 717.0h0.6v0.6h-0.6zM54.3 693.4h0.6v0.6h-0.6zM63.7 691.6h0.6v0.6h-0.6zM52.9 694.1h0.6v0.6h-0.6zM57.7 692.6h0.6v0.6h-0.6zM71.4 695.7h0.6v0.6h-0.6zM44.3 711.5h0.6v0.6h-0.6zM53.0 696.0h0.6v0.6h-0.6zM51.6 698.3h0.6v0.6h-0.6zM47.5 710.5h0.6v0.6h-0.6zM49.6 699.8h0.6v0.6h-0.6zM53.0 698.2h0.6v0.6h-0.6zM47.5 697.2h0.6v0.6h-0.6zM46.6 714.9h0.6v0.6h-0.6zM69.9 702.8h0.6v0.6h-0.6zM52.4 711.8h0.6v0.6h-0.6zM64.3 710.8h0.6v0.6h-0.6zM71.3 697.8h0.6v0.6h-0.6zM48.5 701.2h0.6v0.6h-0.6zM48.0 713.3h0.6v0.6h-0.6zM48.8 706.4h0.6v0.6h-0.6zM43.7 726.7h0.6v0.6h-0.6zM52.5 708.0h0.6v0.6h-0.6zM45.3 708.7h0.6v0.6h-0.6zM59.1 712.0h0.6v0.6h-0.6zM69.7 693.5h0.6v0.6h-0.6zM60.7 699.3h0.6v0.6h-0.6zM49.5 721.0h0.6v0.6h-0.6zM58.7 712.3h0.6v0.6h-0.6zM62.8 710.0h0.6v0.6h-0.6zM58.8 717.7h0.6v0.6h-0.6zM56.5 711.1h0.6v0.6h-0.6zM57.5 728.0h0.6v0.6h-0.6zM48.8 712.2h0.6v0.6h-0.6zM43.3 707.4h0.6v0.6h-0.6zM44.6 718.7h0.6v0.6h-0.6zM64.7 695.0h0.6v0.6h-0.6zM55.6 710.4h0.6v0.6h-0.6zM52.0 697.2h0.6v0.6h-0.6zM51.1 718.9h0.6v0.6h-0.6zM58.8 691.7h0.6v0.6h-0.6zM69.4 700.3h0.6v0.6h-0.6zM43.6 706.5h0.6v0.6h-0.6zM44.4 727.1h0.6v0.6h-0.6zM61.2 718.0h0.6v0.6h-0.6zM55.4 692.1h0.6v0.6h-0.6zM41.8 724.5h0.6v0.6h-0.6zM52.0 711.9h0.6v0.6h-0.6zM59.4 698.9h0.6v0.6h-0.6zM46.5 702.0h0.6v0.6h-0.6zM50.6 720.5h0.6v0.6h-0.6zM50.0 709.8h0.6v0.6h-0.6zM45.5 703.4h0.6v0.6h-0.6zM57.3 727.7h0.6v0.6h-0.6zM42.7 722.9h0.6v0.6h-0.6zM55.7 709.5h0.6v0.6h-0.6zM54.6 703.4h0.6v0.6h-0.6zM67.9 699.6h0.6v0.6h-0.6zM48.1 701.2h0.6v0.6h-0.6zM56.7 695.6h0.6v0.6h-0.6zM56.2 700.0h0.6v0.6h-0.6zM57.3 709.9h0.6v0.6h-0.6zM46.5 709.9h0.6v0.6h-0.6zM50.6 698.7h0.6v0.6h-0.6zM61.8 711.0h0.6v0.6h-0.6zM70.8 694.8h0.6v0.6h-0.6zM59.3 709.9h0.6v0.6h-0.6zM66.0 698.6h0.6v0.6h-0.6zM42.6 723.6h0.6v0.6h-0.6zM60.7 715.0h0.6v0.6h-0.6zM58.5 711.2h0.6v0.6h-0.6zM64.7 691.8h0.6v0.6h-0.6zM67.8 699.5h0.6v0.6h-0.6zM46.6 719.7h0.6v0.6h-0.6zM57.5 717.3h0.6v0.6h-0.6zM68.0 701.7h0.6v0.6h-0.6zM49.2 716.9h0.6v0.6h-0.6zM59.0 708.3h0.6v0.6h-0.6zM57.0 694.0h0.6v0.6h-0.6zM49.1 697.7h0.6v0.6h-0.6zM44.1 710.7h0.6v0.6h-0.6zM58.7 725.8h0.6v0.6h-0.6zM66.4 698.6h0.6v0.6h-0.6zM50.5 694.9h0.6v0.6h-0.6zM52.1 702.1h0.6v0.6h-0.6zM71.8 694.0h0.6v0.6h-0.6zM50.0 704.5h0.6v0.6h-0.6zM52.8 706.8h0.6v0.6h-0.6zM48.4 700.1h0.6v0.6h-0.6zM58.8 696.9h0.6v0.6h-0.6zM57.2 703.3h0.6v0.6h-0.6zM50.3 719.6h0.6v0.6h-0.6zM50.4 712.1h0.6v0.6h-0.6zM54.1 696.0h0.6v0.6h-0.6zM58.2 698.2h0.6v0.6h-0.6zM52.1 692.8h0.6v0.6h-0.6zM48.0 699.8h0.6v0.6h-0.6zM54.9 706.2h0.6v0.6h-0.6zM59.3 704.7h0.6v0.6h-0.6zM49.2 699.3h0.6v0.6h-0.6zM54.4 707.5h0.6v0.6h-0.6zM59.2 717.3h0.6v0.6h-0.6zM66.3 693.7h0.6v0.6h-0.6zM53.9 698.3h0.6v0.6h-0.6zM65.3 706.4h0.6v0.6h-0.6zM48.7 716.7h0.6v0.6h-0.6zM75.3 698.4h0.6v0.6h-0.6zM51.9 706.5h0.6v0.6h-0.6zM65.6 697.3h0.6v0.6h-0.6zM71.1 698.6h0.6v0.6h-0.6zM47.3 720.5h0.6v0.6h-0.6zM54.1 697.9h0.6v0.6h-0.6zM64.9 704.7h0.6v0.6h-0.6zM53.3 702.8h0.6v0.6h-0.6zM48.7 720.0h0.6v0.6h-0.6zM67.0 702.2h0.6v0.6h-0.6zM48.4 706.9h0.6v0.6h-0.6zM58.1 727.5h0.6v0.6h-0.6zM45.7 722.3h0.6v0.6h-0.6zM62.6 702.6h0.6v0.6h-0.6zM51.2 704.0h0.6v0.6h-0.6zM69.6 692.3h0.6v0.6h-0.6zM46.3 720.2h0.6v0.6h-0.6zM60.4 702.5h0.6v0.6h-0.6zM49.0 692.5h0.6v0.6h-0.6zM58.3 718.4h0.6v0.6h-0.6zM56.2 698.8h0.6v0.6h-0.6zM55.0 714.7h0.6v0.6h-0.6zM64.9 694.1h0.6v0.6h-0.6zM53.3 719.6h0.6v0.6h-0.6zM44.6 725.6h0.6v0.6h-0.6zM61.5 702.6h0.6v0.6h-0.6zM47.7 722.5h0.6v0.6h-0.6zM57.3 722.9h0.6v0.6h-0.6zM50.1 694.0h0.6v0.6h-0.6zM56.3 699.8h0.6v0.6h-0.6zM62.2 714.7h0.6v0.6h-0.6zM47.1 704.3h0.6v0.6h-0.6zM62.3 716.0h0.6v0.6h-0.6zM65.4 696.7h0.6v0.6h-0.6zM50.9 697.5h0.6v0.6h-0.6zM63.9 692.8h0.6v0.6h-0.6zM45.0 717.8h0.6v0.6h-0.6zM54.8 700.8h0.6v0.6h-0.6zM61.0 703.8h0.6v0.6h-0.6zM55.0 724.8h0.6v0.6h-0.6zM67.4 697.5h0.6v0.6h-0.6zM56.8 695.8h0.6v0.6h-0.6zM74.7 692.8h0.6v0.6h-0.6zM63.2 704.4h0.6v0.6h-0.6zM58.5 695.1h0.6v0.6h-0.6zM49.7 710.6h0.6v0.6h-0.6zM43.5 728.1h0.6v0.6h-0.6zM69.7 698.3h0.6v0.6h-0.6zM54.6 724.1h0.6v0.6h-0.6zM71.4 696.6h0.6v0.6h-0.6zM47.1 705.6h0.6v0.6h-0.6zM59.1 704.9h0.6v0.6h-0.6zM43.1 713.9h0.6v0.6h-0.6zM60.3 715.0h0.6v0.6h-0.6zM50.6 706.4h0.6v0.6h-0.6zM61.6 706.7h0.6v0.6h-0.6zM64.7 707.5h0.6v0.6h-0.6zM57.9 698.8h0.6v0.6h-0.6zM45.6 708.6h0.6v0.6h-0.6zM52.4 720.3h0.6v0.6h-0.6zM44.8 726.2h0.6v0.6h-0.6zM49.4 722.8h0.6v0.6h-0.6zM44.2 709.8h0.6v0.6h-0.6zM58.6 702.3h0.6v0.6h-0.6zM45.2 721.5h0.6v0.6h-0.6zM43.0 711.0h0.6v0.6h-0.6zM63.8 703.9h0.6v0.6h-0.6zM73.6 693.4h0.6v0.6h-0.6zM70.2 700.0h0.6v0.6h-0.6zM48.6 715.5h0.6v0.6h-0.6zM44.4 714.6h0.6v0.6h-0.6zM55.7 710.3h0.6v0.6h-0.6zM74.1 694.5h0.6v0.6h-0.6zM47.5 716.1h0.6v0.6h-0.6zM61.7 713.4h0.6v0.6h-0.6zM46.6 714.9h0.6v0.6h-0.6zM57.4 694.6h0.6v0.6h-0.6zM42.3 715.5h0.6v0.6h-0.6zM60.8 703.6h0.6v0.6h-0.6zM64.1 707.4h0.6v0.6h-0.6zM54.6 698.9h0.6v0.6h-0.6zM40.8 721.3h0.6v0.6h-0.6zM46.4 714.2h0.6v0.6h-0.6zM58.6 715.6h0.6v0.6h-0.6zM70.8 696.3h0.6v0.6h-0.6zM50.8 701.5h0.6v0.6h-0.6zM56.5 698.4h0.6v0.6h-0.6zM51.8 720.1h0.6v0.6h-0.6zM49.0 712.0h0.6v0.6h-0.6zM55.8 721.7h0.6v0.6h-0.6zM59.3 700.0h0.6v0.6h-0.6zM47.9 719.8h0.6v0.6h-0.6zM55.9 719.0h0.6v0.6h-0.6zM61.1 701.8h0.6v0.6h-0.6zM46.9 714.8h0.6v0.6h-0.6zM41.6 726.7h0.6v0.6h-0.6zM63.6 701.0h0.6v0.6h-0.6zM46.6 702.3h0.6v0.6h-0.6zM49.7 718.7h0.6v0.6h-0.6zM53.1 702.3h0.6v0.6h-0.6zM55.8 721.0h0.6v0.6h-0.6zM52.3 718.2h0.6v0.6h-0.6zM59.9 698.0h0.6v0.6h-0.6zM72.8 692.8h0.6v0.6h-0.6zM71.1 696.1h0.6v0.6h-0.6zM58.0 722.0h0.6v0.6h-0.6zM45.8 709.5h0.6v0.6h-0.6zM52.3 723.5h0.6v0.6h-0.6zM48.8 728.1h0.6v0.6h-0.6zM49.7 697.9h0.6v0.6h-0.6zM66.3 709.7h0.6v0.6h-0.6zM42.8 715.4h0.6v0.6h-0.6zM41.7 721.7h0.6v0.6h-0.6zM52.6 705.7h0.6v0.6h-0.6zM54.2 725.9h0.6v0.6h-0.6zM41.9 725.8h0.6v0.6h-0.6zM59.6 720.3h0.6v0.6h-0.6zM51.5 695.5h0.6v0.6h-0.6zM45.2 707.2h0.6v0.6h-0.6zM56.8 725.7h0.6v0.6h-0.6zM47.9 697.0h0.6v0.6h-0.6zM50.5 718.2h0.6v0.6h-0.6zM72.0 695.5h0.6v0.6h-0.6zM59.2 695.7h0.6v0.6h-0.6zM51.5 696.9h0.6v0.6h-0.6zM55.8 697.2h0.6v0.6h-0.6zM63.8 693.5h0.6v0.6h-0.6zM46.7 705.1h0.6v0.6h-0.6z" fill="#999"/>
<polygon points="63.8,723.58 66.22,718.44 76.9,713.58 83.25,713.01 83.74,717.49 80.79,721.24 74.98,724.5 66.22,724.99" fill="#d0d0d0" filter="url(#b05)"/>
<polygon points="69.3,722.39 71.09,719.71 77.35,717.03 81.37,716.64 81.37,718.56 78.69,720.86 73.77,722.77 70.2,723.15" fill="#9c9c9c" filter="url(#b05)"/>
<polygon points="63.8,723.58 66.22,718.44 76.9,713.58 83.25,713.01 83.74,717.49 80.79,721.24 74.98,724.5 66.22,724.99" fill="none" stroke="#3a3a3a" stroke-width="0.7" stroke-linejoin="round"/>
<polygon points="69.3,722.39 71.09,719.71 77.35,717.03 81.37,716.64 81.37,718.56 78.69,720.86 73.77,722.77 70.2,723.15" fill="none" stroke="#555" stroke-width="0.5" stroke-linejoin="round"/>
<rect x="39.8" y="690.6" width="44.7" height="38.3" fill="none" stroke="#606060" stroke-width="1.3"/>
<text x="62.15" y="689.4" font-size="3.3" text-anchor="middle" fill="#777" >Data.001</text>
<line x1="25.9" y1="738.2" x2="25.9" y2="689.5" stroke="#444" stroke-width="0.9" />
<line x1="25.9" y1="738.2" x2="83" y2="738.2" stroke="#444" stroke-width="0.9" />
<circle cx="25.9" cy="689.6" r="1.2" fill="#222"/>
<circle cx="83.3" cy="738.2" r="1.2" fill="#222"/>
<text x="37.8" y="729.9" font-size="3.0" text-anchor="end" fill="#888" >0</text>
<text x="41.3" y="733.4" font-size="3.0" text-anchor="middle" fill="#888" >0</text>
<text x="37.8" y="722.54" font-size="3.0" text-anchor="end" fill="#888" >200</text>
<text x="49.64" y="733.4" font-size="3.0" text-anchor="middle" fill="#888" >200</text>
<text x="37.8" y="715.18" font-size="3.0" text-anchor="end" fill="#888" >400</text>
<text x="57.98" y="733.4" font-size="3.0" text-anchor="middle" fill="#888" >400</text>
<text x="37.8" y="707.82" font-size="3.0" text-anchor="end" fill="#888" >600</text>
<text x="66.32" y="733.4" font-size="3.0" text-anchor="middle" fill="#888" >600</text>
<text x="37.8" y="700.46" font-size="3.0" text-anchor="end" fill="#888" >800</text>
<text x="74.66" y="733.4" font-size="3.0" text-anchor="middle" fill="#888" >800</text>
<text x="37.8" y="693.1" font-size="3.0" text-anchor="end" fill="#888" >1000</text>
<text x="83" y="733.4" font-size="3.0" text-anchor="middle" fill="#888" >1000</text>
<text x="62.15" y="737.2" font-size="3.3" text-anchor="middle" fill="#777" >FSC-H</text>
<text x="61.15" y="742.6" font-size="3.6" text-anchor="middle" fill="#444" >FSC</text>
<text transform="translate(22.9 710) rotate(-90)" font-size="3.6" text-anchor="middle" fill="#444">SSC</text>
<text transform="translate(29.9 710) rotate(-90)" font-size="3.0" text-anchor="middle" fill="#888">SSC-H</text>
<ellipse cx="142.6" cy="719.5" rx="2.4" ry="5" fill="#cfcfcf" filter="url(#b05)"/>
<ellipse cx="142.8" cy="719" rx="1.2" ry="1.5" fill="#777" filter="url(#b05)"/>
<rect x="136.5" y="705.3" width="10.5" height="23.4" fill="none" stroke="#8a8a8a" stroke-width="0.8"/>
<rect x="101.2" y="690.6" width="45.8" height="38.3" fill="none" stroke="#606060" stroke-width="1.3"/>
<text x="124.1" y="689.4" font-size="3.3" text-anchor="middle" fill="#777" >Data.002</text>
<text x="99.2" y="729.9" font-size="3.0" text-anchor="end" fill="#888" >0</text>
<text x="99.2" y="722.54" font-size="3.0" text-anchor="end" fill="#888" >200</text>
<text x="99.2" y="715.18" font-size="3.0" text-anchor="end" fill="#888" >400</text>
<text x="99.2" y="707.82" font-size="3.0" text-anchor="end" fill="#888" >600</text>
<text x="99.2" y="700.46" font-size="3.0" text-anchor="end" fill="#888" >800</text>
<text x="99.2" y="693.1" font-size="3.0" text-anchor="end" fill="#888" >1000</text>
<text x="102.7" y="733.4" font-size="3.0" text-anchor="middle" fill="#888" >10</text>
<text x="113.4" y="733.4" font-size="3.0" text-anchor="middle" fill="#888" >10</text>
<text x="124.1" y="733.4" font-size="3.0" text-anchor="middle" fill="#888" >10</text>
<text x="134.8" y="733.4" font-size="3.0" text-anchor="middle" fill="#888" >10</text>
<text x="145.5" y="733.4" font-size="3.0" text-anchor="middle" fill="#888" >10</text>
<text x="124.1" y="737.2" font-size="3.3" text-anchor="middle" fill="#777" >FL3-H</text>
<line x1="97" y1="738.2" x2="145.5" y2="738.2" stroke="#444" stroke-width="0.9" />
<circle cx="145.7" cy="738.2" r="1.2" fill="#222"/>
<text x="123.5" y="742.6" font-size="3.6" text-anchor="middle" fill="#444" >CD4</text>
<text transform="translate(91.7 710) rotate(-90)" font-size="3.0" text-anchor="middle" fill="#888">SSC-H</text>
<text x="154.9" y="706.7" font-size="5.4" fill="#333"><tspan font-style="italic">rh</tspan>Epo-reactive TCL YS21</text>
<text x="154.9" y="712.9" font-size="5.4" text-anchor="start" font-weight="normal" fill="#333" >derived from</text>
<text x="154.9" y="719" font-size="5.4" text-anchor="start" font-weight="normal" fill="#333" >HLA-DRB1*09:01-negative donor 2</text>
<text x="49.1" y="746.8" font-size="3.3" text-anchor="middle" fill="#666" >Data.003</text>
<g>
<polygon points="29.05,774.93 34.13,773.21 41.99,770.55 49.1,768.6 46.51,773.77 44.25,778.43 43.14,784.76 38.61,785.59 32.98,783.04 29.05,779.58" fill="#d4d4d4" filter="url(#b1)"/>
<path d="M44.0 777.1h0.6v0.6h-0.6zM42.5 776.3h0.6v0.6h-0.6zM29.9 779.4h0.6v0.6h-0.6zM36.6 782.3h0.6v0.6h-0.6zM45.5 775.4h0.6v0.6h-0.6zM32.1 781.9h0.6v0.6h-0.6zM37.9 773.0h0.6v0.6h-0.6zM32.7 775.4h0.6v0.6h-0.6zM37.9 779.7h0.6v0.6h-0.6zM36.8 780.9h0.6v0.6h-0.6zM40.1 781.8h0.6v0.6h-0.6zM39.4 780.1h0.6v0.6h-0.6zM36.3 782.8h0.6v0.6h-0.6zM44.1 773.9h0.6v0.6h-0.6zM42.5 776.4h0.6v0.6h-0.6zM40.7 771.1h0.6v0.6h-0.6zM33.8 778.1h0.6v0.6h-0.6zM32.8 775.5h0.6v0.6h-0.6zM38.6 775.5h0.6v0.6h-0.6zM42.6 780.6h0.6v0.6h-0.6zM46.1 773.8h0.6v0.6h-0.6zM44.0 777.8h0.6v0.6h-0.6zM45.3 775.8h0.6v0.6h-0.6zM38.9 777.1h0.6v0.6h-0.6zM40.1 785.0h0.6v0.6h-0.6zM40.7 780.7h0.6v0.6h-0.6zM42.3 773.6h0.6v0.6h-0.6zM39.7 783.0h0.6v0.6h-0.6zM31.7 775.7h0.6v0.6h-0.6zM37.1 778.3h0.6v0.6h-0.6zM36.6 777.2h0.6v0.6h-0.6zM33.2 777.2h0.6v0.6h-0.6zM34.7 773.1h0.6v0.6h-0.6zM33.9 779.0h0.6v0.6h-0.6zM42.5 783.3h0.6v0.6h-0.6zM41.9 780.5h0.6v0.6h-0.6zM42.1 779.9h0.6v0.6h-0.6zM44.1 779.2h0.6v0.6h-0.6zM43.7 770.8h0.6v0.6h-0.6zM43.3 776.2h0.6v0.6h-0.6zM43.1 774.2h0.6v0.6h-0.6zM34.4 775.6h0.6v0.6h-0.6zM42.7 786.5h0.6v0.6h-0.6zM38.4 775.2h0.6v0.6h-0.6zM45.1 770.3h0.6v0.6h-0.6zM42.4 781.6h0.6v0.6h-0.6zM37.5 780.9h0.6v0.6h-0.6zM42.8 779.9h0.6v0.6h-0.6zM37.0 774.6h0.6v0.6h-0.6zM40.8 772.6h0.6v0.6h-0.6zM34.2 775.5h0.6v0.6h-0.6zM37.1 779.0h0.6v0.6h-0.6zM40.9 772.2h0.6v0.6h-0.6zM40.4 783.6h0.6v0.6h-0.6zM32.3 779.4h0.6v0.6h-0.6zM43.6 776.3h0.6v0.6h-0.6zM46.5 776.2h0.6v0.6h-0.6zM39.6 776.6h0.6v0.6h-0.6zM40.7 775.0h0.6v0.6h-0.6zM39.5 769.5h0.6v0.6h-0.6zM42.5 783.4h0.6v0.6h-0.6zM30.3 779.2h0.6v0.6h-0.6zM35.1 777.5h0.6v0.6h-0.6zM40.7 780.2h0.6v0.6h-0.6zM32.8 773.9h0.6v0.6h-0.6zM43.6 772.7h0.6v0.6h-0.6zM41.4 782.7h0.6v0.6h-0.6zM29.5 776.7h0.6v0.6h-0.6zM42.4 776.1h0.6v0.6h-0.6zM38.8 773.1h0.6v0.6h-0.6zM31.7 776.6h0.6v0.6h-0.6zM31.0 775.7h0.6v0.6h-0.6zM44.5 770.5h0.6v0.6h-0.6zM39.0 772.2h0.6v0.6h-0.6zM31.6 779.5h0.6v0.6h-0.6zM36.7 781.9h0.6v0.6h-0.6zM35.8 779.2h0.6v0.6h-0.6zM44.5 774.5h0.6v0.6h-0.6zM39.9 777.9h0.6v0.6h-0.6zM47.2 766.9h0.6v0.6h-0.6zM44.2 770.5h0.6v0.6h-0.6zM39.7 781.5h0.6v0.6h-0.6zM39.1 772.3h0.6v0.6h-0.6zM29.4 775.0h0.6v0.6h-0.6zM29.8 779.1h0.6v0.6h-0.6zM48.3 769.4h0.6v0.6h-0.6zM40.9 782.5h0.6v0.6h-0.6zM36.2 775.4h0.6v0.6h-0.6zM32.7 775.4h0.6v0.6h-0.6zM42.5 774.1h0.6v0.6h-0.6zM42.5 783.8h0.6v0.6h-0.6zM42.7 772.0h0.6v0.6h-0.6zM43.6 772.2h0.6v0.6h-0.6zM32.7 777.5h0.6v0.6h-0.6zM34.1 780.3h0.6v0.6h-0.6zM29.4 779.1h0.6v0.6h-0.6zM38.2 777.8h0.6v0.6h-0.6zM33.8 775.1h0.6v0.6h-0.6zM33.7 771.5h0.6v0.6h-0.6zM40.3 784.5h0.6v0.6h-0.6zM41.9 778.6h0.6v0.6h-0.6zM42.9 770.6h0.6v0.6h-0.6zM44.5 776.2h0.6v0.6h-0.6zM40.3 779.6h0.6v0.6h-0.6zM38.3 773.0h0.6v0.6h-0.6zM36.1 779.0h0.6v0.6h-0.6zM32.4 778.3h0.6v0.6h-0.6zM38.9 772.4h0.6v0.6h-0.6zM37.5 782.2h0.6v0.6h-0.6zM35.3 780.9h0.6v0.6h-0.6z" fill="#9c9c9c"/>
<polygon points="34.69,774.37 47.71,769.79 44.48,778.35 42.63,783.52 38.47,784.12 35.24,779.54" fill="url(#coreg)" filter="url(#b07)"/>
<path d="M41.5 781.5h0.6v0.6h-0.6zM39.0 776.0h0.6v0.6h-0.6zM40.4 781.2h0.6v0.6h-0.6zM37.4 774.9h0.6v0.6h-0.6zM42.2 774.7h0.6v0.6h-0.6zM37.9 782.4h0.6v0.6h-0.6zM42.6 778.5h0.6v0.6h-0.6zM35.7 775.5h0.6v0.6h-0.6zM42.4 776.9h0.6v0.6h-0.6zM44.6 774.8h0.6v0.6h-0.6zM38.6 778.8h0.6v0.6h-0.6zM39.4 778.1h0.6v0.6h-0.6zM41.0 775.8h0.6v0.6h-0.6zM41.8 783.0h0.6v0.6h-0.6zM47.3 777.2h0.6v0.6h-0.6zM43.6 778.9h0.6v0.6h-0.6zM37.6 780.6h0.6v0.6h-0.6zM42.8 780.2h0.6v0.6h-0.6zM35.6 776.9h0.6v0.6h-0.6zM42.2 772.5h0.6v0.6h-0.6zM43.9 777.6h0.6v0.6h-0.6zM41.6 783.1h0.6v0.6h-0.6zM43.3 782.8h0.6v0.6h-0.6zM45.2 774.2h0.6v0.6h-0.6zM35.1 772.5h0.6v0.6h-0.6zM40.3 774.8h0.6v0.6h-0.6zM36.4 774.8h0.6v0.6h-0.6zM45.3 771.6h0.6v0.6h-0.6zM46.6 772.1h0.6v0.6h-0.6zM35.1 774.2h0.6v0.6h-0.6zM39.1 775.1h0.6v0.6h-0.6zM37.2 771.9h0.6v0.6h-0.6zM44.3 773.9h0.6v0.6h-0.6zM34.8 780.9h0.6v0.6h-0.6zM40.1 783.4h0.6v0.6h-0.6zM46.9 770.4h0.6v0.6h-0.6zM38.5 781.2h0.6v0.6h-0.6zM41.4 777.8h0.6v0.6h-0.6zM44.1 778.2h0.6v0.6h-0.6zM37.7 774.9h0.6v0.6h-0.6zM37.9 780.1h0.6v0.6h-0.6zM41.2 773.1h0.6v0.6h-0.6zM44.2 774.1h0.6v0.6h-0.6zM39.6 780.0h0.6v0.6h-0.6zM44.9 772.1h0.6v0.6h-0.6zM45.5 781.0h0.6v0.6h-0.6zM37.5 774.7h0.6v0.6h-0.6zM45.2 772.3h0.6v0.6h-0.6zM40.0 780.5h0.6v0.6h-0.6zM46.3 772.9h0.6v0.6h-0.6zM46.6 771.4h0.6v0.6h-0.6zM44.8 774.9h0.6v0.6h-0.6zM42.4 773.8h0.6v0.6h-0.6zM40.5 782.0h0.6v0.6h-0.6zM38.6 771.3h0.6v0.6h-0.6zM40.6 774.3h0.6v0.6h-0.6zM35.4 777.8h0.6v0.6h-0.6zM37.9 774.4h0.6v0.6h-0.6zM42.1 774.5h0.6v0.6h-0.6zM47.4 772.0h0.6v0.6h-0.6z" fill="#505050"/>
</g>
<line x1="50.49" y1="748.1" x2="50.49" y2="787.9" stroke="#bcbcbc" stroke-width="1.2" />
<line x1="26" y1="768.8" x2="72.2" y2="768.8" stroke="#bcbcbc" stroke-width="1.2" />
<rect x="26" y="748.1" width="46.2" height="39.8" fill="none" stroke="#939393" stroke-width="1.4"/>
<text x="27.9" y="753.2" font-size="4.75" text-anchor="start" font-weight="normal" fill="#2a2a2a" >Vβ5.3</text>
<text x="70.7" y="753.2" font-size="4.75" text-anchor="end" font-weight="normal" fill="#2a2a2a" >Vβ3</text>
<text x="70.7" y="784.9" font-size="4.75" text-anchor="end" font-weight="normal" fill="#2a2a2a" >Vβ7.1</text>
<text x="23.6" y="788.9" font-size="2.8" text-anchor="end" fill="#777" >10</text>
<text x="26" y="791.9" font-size="2.8" text-anchor="middle" fill="#777" >10</text>
<text x="23.6" y="778.95" font-size="2.8" text-anchor="end" fill="#777" >10</text>
<text x="37.55" y="791.9" font-size="2.8" text-anchor="middle" fill="#777" >10</text>
<text x="23.6" y="769" font-size="2.8" text-anchor="end" fill="#777" >10</text>
<text x="49.1" y="791.9" font-size="2.8" text-anchor="middle" fill="#777" >10</text>
<text x="23.6" y="759.05" font-size="2.8" text-anchor="end" fill="#777" >10</text>
<text x="60.65" y="791.9" font-size="2.8" text-anchor="middle" fill="#777" >10</text>
<text x="23.6" y="749.1" font-size="2.8" text-anchor="end" fill="#777" >10</text>
<text x="72.2" y="791.9" font-size="2.8" text-anchor="middle" fill="#777" >10</text>
<text x="49.1" y="796.9" font-size="3.4" text-anchor="middle" fill="#555" >FL1-H</text>
<text transform="translate(16 768) rotate(-90)" font-size="3.4" text-anchor="middle" fill="#555">FL2-H</text>
<text x="109.9" y="746.8" font-size="3.3" text-anchor="middle" fill="#666" >Data.004</text>
<g>
<polygon points="89.85,774.93 94.93,773.21 102.79,770.55 109.9,768.6 107.31,773.77 105.05,778.43 103.94,784.76 99.41,785.59 93.78,783.04 89.85,779.58" fill="#d4d4d4" filter="url(#b1)"/>
<path d="M101.6 779.9h0.6v0.6h-0.6zM94.3 780.6h0.6v0.6h-0.6zM100.2 775.4h0.6v0.6h-0.6zM95.7 775.8h0.6v0.6h-0.6zM101.5 773.8h0.6v0.6h-0.6zM102.9 783.9h0.6v0.6h-0.6zM94.7 778.6h0.6v0.6h-0.6zM94.7 773.7h0.6v0.6h-0.6zM104.4 775.9h0.6v0.6h-0.6zM101.9 775.3h0.6v0.6h-0.6zM100.6 778.5h0.6v0.6h-0.6zM109.1 771.7h0.6v0.6h-0.6zM100.7 771.7h0.6v0.6h-0.6zM99.6 778.3h0.6v0.6h-0.6zM92.9 778.7h0.6v0.6h-0.6zM90.0 777.4h0.6v0.6h-0.6zM101.2 781.8h0.6v0.6h-0.6zM101.5 783.1h0.6v0.6h-0.6zM93.1 774.3h0.6v0.6h-0.6zM94.8 781.6h0.6v0.6h-0.6zM95.8 782.8h0.6v0.6h-0.6zM96.6 782.3h0.6v0.6h-0.6zM104.4 771.8h0.6v0.6h-0.6zM92.0 775.9h0.6v0.6h-0.6zM91.8 778.3h0.6v0.6h-0.6zM94.5 781.2h0.6v0.6h-0.6zM100.9 781.2h0.6v0.6h-0.6zM97.1 776.6h0.6v0.6h-0.6zM96.3 776.4h0.6v0.6h-0.6zM101.8 774.7h0.6v0.6h-0.6zM104.3 772.1h0.6v0.6h-0.6zM94.1 777.1h0.6v0.6h-0.6zM93.8 778.6h0.6v0.6h-0.6zM103.3 774.1h0.6v0.6h-0.6zM103.3 773.8h0.6v0.6h-0.6zM101.2 775.0h0.6v0.6h-0.6zM98.7 775.9h0.6v0.6h-0.6zM101.6 772.8h0.6v0.6h-0.6zM95.0 782.0h0.6v0.6h-0.6zM91.7 778.8h0.6v0.6h-0.6zM98.0 785.1h0.6v0.6h-0.6zM93.9 781.5h0.6v0.6h-0.6zM92.7 774.9h0.6v0.6h-0.6zM92.2 779.3h0.6v0.6h-0.6zM100.8 785.3h0.6v0.6h-0.6zM95.4 782.5h0.6v0.6h-0.6zM103.7 775.0h0.6v0.6h-0.6zM104.5 773.6h0.6v0.6h-0.6zM88.5 775.2h0.6v0.6h-0.6zM103.1 773.5h0.6v0.6h-0.6zM99.7 779.2h0.6v0.6h-0.6zM93.7 776.3h0.6v0.6h-0.6zM105.6 773.4h0.6v0.6h-0.6zM97.9 777.9h0.6v0.6h-0.6zM102.1 778.3h0.6v0.6h-0.6zM103.9 779.3h0.6v0.6h-0.6zM95.5 782.3h0.6v0.6h-0.6zM93.7 781.7h0.6v0.6h-0.6zM94.2 777.6h0.6v0.6h-0.6zM111.2 769.1h0.6v0.6h-0.6zM99.3 780.5h0.6v0.6h-0.6zM106.9 774.1h0.6v0.6h-0.6zM110.7 769.7h0.6v0.6h-0.6zM107.0 771.5h0.6v0.6h-0.6zM95.9 783.6h0.6v0.6h-0.6zM98.9 773.3h0.6v0.6h-0.6zM103.1 771.1h0.6v0.6h-0.6zM103.5 772.7h0.6v0.6h-0.6zM93.9 782.6h0.6v0.6h-0.6zM104.6 779.2h0.6v0.6h-0.6zM98.7 778.8h0.6v0.6h-0.6zM96.3 783.2h0.6v0.6h-0.6zM93.0 775.6h0.6v0.6h-0.6zM91.7 781.1h0.6v0.6h-0.6zM97.5 778.3h0.6v0.6h-0.6zM103.8 778.1h0.6v0.6h-0.6zM101.1 781.2h0.6v0.6h-0.6zM97.3 773.1h0.6v0.6h-0.6zM96.9 775.1h0.6v0.6h-0.6zM102.7 774.4h0.6v0.6h-0.6zM103.6 778.2h0.6v0.6h-0.6zM103.2 782.4h0.6v0.6h-0.6zM96.8 781.7h0.6v0.6h-0.6zM97.1 777.7h0.6v0.6h-0.6zM102.8 781.0h0.6v0.6h-0.6zM95.3 779.9h0.6v0.6h-0.6zM100.6 777.6h0.6v0.6h-0.6zM100.6 783.9h0.6v0.6h-0.6zM98.9 780.2h0.6v0.6h-0.6zM104.9 776.0h0.6v0.6h-0.6zM99.3 783.6h0.6v0.6h-0.6zM96.5 777.5h0.6v0.6h-0.6zM93.2 774.3h0.6v0.6h-0.6zM95.8 774.5h0.6v0.6h-0.6zM105.3 772.6h0.6v0.6h-0.6zM97.5 780.3h0.6v0.6h-0.6zM104.1 773.4h0.6v0.6h-0.6zM100.5 777.0h0.6v0.6h-0.6zM102.2 776.3h0.6v0.6h-0.6zM98.9 784.5h0.6v0.6h-0.6zM97.7 776.5h0.6v0.6h-0.6zM100.2 784.2h0.6v0.6h-0.6zM104.2 782.3h0.6v0.6h-0.6zM101.3 783.0h0.6v0.6h-0.6zM97.8 778.9h0.6v0.6h-0.6zM100.8 774.3h0.6v0.6h-0.6zM99.0 776.9h0.6v0.6h-0.6zM102.0 774.2h0.6v0.6h-0.6zM107.6 770.6h0.6v0.6h-0.6zM95.1 777.8h0.6v0.6h-0.6z" fill="#9c9c9c"/>
<polygon points="95.49,774.37 108.51,769.79 105.28,778.35 103.43,783.52 99.27,784.12 96.04,779.54" fill="url(#coreg)" filter="url(#b07)"/>
<path d="M100.3 778.2h0.6v0.6h-0.6zM98.1 781.0h0.6v0.6h-0.6zM103.1 782.7h0.6v0.6h-0.6zM102.0 780.3h0.6v0.6h-0.6zM105.2 773.0h0.6v0.6h-0.6zM109.8 771.4h0.6v0.6h-0.6zM100.4 780.0h0.6v0.6h-0.6zM97.0 778.5h0.6v0.6h-0.6zM98.6 778.1h0.6v0.6h-0.6zM99.8 779.6h0.6v0.6h-0.6zM96.9 777.8h0.6v0.6h-0.6zM100.7 780.4h0.6v0.6h-0.6zM102.5 773.0h0.6v0.6h-0.6zM99.2 781.7h0.6v0.6h-0.6zM101.9 785.2h0.6v0.6h-0.6zM98.9 776.0h0.6v0.6h-0.6zM107.3 773.1h0.6v0.6h-0.6zM93.3 777.2h0.6v0.6h-0.6zM99.3 774.6h0.6v0.6h-0.6zM101.9 777.6h0.6v0.6h-0.6zM102.7 777.1h0.6v0.6h-0.6zM102.3 773.0h0.6v0.6h-0.6zM97.1 778.8h0.6v0.6h-0.6zM97.3 778.8h0.6v0.6h-0.6zM102.0 782.3h0.6v0.6h-0.6zM96.4 779.3h0.6v0.6h-0.6zM106.0 774.1h0.6v0.6h-0.6zM100.8 783.2h0.6v0.6h-0.6zM96.4 776.2h0.6v0.6h-0.6zM97.1 776.8h0.6v0.6h-0.6zM100.0 782.4h0.6v0.6h-0.6zM108.1 775.2h0.6v0.6h-0.6zM103.9 776.1h0.6v0.6h-0.6zM100.9 780.0h0.6v0.6h-0.6zM97.4 774.1h0.6v0.6h-0.6zM102.3 774.6h0.6v0.6h-0.6zM104.4 774.6h0.6v0.6h-0.6zM102.4 780.3h0.6v0.6h-0.6zM104.6 772.8h0.6v0.6h-0.6zM106.9 773.0h0.6v0.6h-0.6zM102.8 775.4h0.6v0.6h-0.6zM105.3 774.7h0.6v0.6h-0.6zM101.4 778.1h0.6v0.6h-0.6zM98.1 779.4h0.6v0.6h-0.6zM97.5 782.1h0.6v0.6h-0.6zM105.3 775.3h0.6v0.6h-0.6zM100.0 782.8h0.6v0.6h-0.6zM102.6 777.4h0.6v0.6h-0.6zM102.0 783.7h0.6v0.6h-0.6zM105.1 778.4h0.6v0.6h-0.6zM100.2 778.4h0.6v0.6h-0.6zM108.3 770.3h0.6v0.6h-0.6zM104.1 772.7h0.6v0.6h-0.6zM103.0 782.8h0.6v0.6h-0.6zM96.9 779.4h0.6v0.6h-0.6zM99.0 773.7h0.6v0.6h-0.6zM103.6 775.0h0.6v0.6h-0.6zM102.2 778.7h0.6v0.6h-0.6zM105.9 776.1h0.6v0.6h-0.6zM102.3 775.8h0.6v0.6h-0.6z" fill="#505050"/>
</g>
<line x1="111.29" y1="748.1" x2="111.29" y2="787.9" stroke="#bcbcbc" stroke-width="1.2" />
<line x1="86.8" y1="768.8" x2="133" y2="768.8" stroke="#bcbcbc" stroke-width="1.2" />
<rect x="86.8" y="748.1" width="46.2" height="39.8" fill="none" stroke="#939393" stroke-width="1.4"/>
<text x="88.7" y="753.2" font-size="4.75" text-anchor="start" font-weight="normal" fill="#2a2a2a" >Vβ9</text>
<text x="131.5" y="753.2" font-size="4.75" text-anchor="end" font-weight="normal" fill="#2a2a2a" >Vβ17</text>
<text x="131.5" y="784.9" font-size="4.75" text-anchor="end" font-weight="normal" fill="#2a2a2a" >Vβ16</text>
<text x="84.4" y="788.9" font-size="2.8" text-anchor="end" fill="#777" >10</text>
<text x="86.8" y="791.9" font-size="2.8" text-anchor="middle" fill="#777" >10</text>
<text x="84.4" y="778.95" font-size="2.8" text-anchor="end" fill="#777" >10</text>
<text x="98.35" y="791.9" font-size="2.8" text-anchor="middle" fill="#777" >10</text>
<text x="84.4" y="769" font-size="2.8" text-anchor="end" fill="#777" >10</text>
<text x="109.9" y="791.9" font-size="2.8" text-anchor="middle" fill="#777" >10</text>
<text x="84.4" y="759.05" font-size="2.8" text-anchor="end" fill="#777" >10</text>
<text x="121.45" y="791.9" font-size="2.8" text-anchor="middle" fill="#777" >10</text>
<text x="84.4" y="749.1" font-size="2.8" text-anchor="end" fill="#777" >10</text>
<text x="133" y="791.9" font-size="2.8" text-anchor="middle" fill="#777" >10</text>
<text x="109.9" y="796.9" font-size="3.4" text-anchor="middle" fill="#555" >FL1-H</text>
<text transform="translate(76.8 768) rotate(-90)" font-size="3.4" text-anchor="middle" fill="#555">FL2-H</text>
<text x="171" y="746.8" font-size="3.3" text-anchor="middle" fill="#666" >Data.005</text>
<g>
<polygon points="150.95,774.93 156.03,773.21 163.89,770.55 171,768.6 168.41,773.77 166.15,778.43 165.04,784.76 160.51,785.59 154.88,783.04 150.95,779.58" fill="#d4d4d4" filter="url(#b1)"/>
<path d="M153.2 781.5h0.6v0.6h-0.6zM164.3 772.0h0.6v0.6h-0.6zM168.8 776.1h0.6v0.6h-0.6zM166.9 774.6h0.6v0.6h-0.6zM168.3 776.3h0.6v0.6h-0.6zM156.5 779.8h0.6v0.6h-0.6zM163.2 780.1h0.6v0.6h-0.6zM166.3 775.8h0.6v0.6h-0.6zM160.2 774.9h0.6v0.6h-0.6zM165.4 781.7h0.6v0.6h-0.6zM154.3 780.3h0.6v0.6h-0.6zM165.9 776.5h0.6v0.6h-0.6zM154.0 774.7h0.6v0.6h-0.6zM153.8 780.8h0.6v0.6h-0.6zM166.3 770.3h0.6v0.6h-0.6zM168.8 769.8h0.6v0.6h-0.6zM161.0 779.7h0.6v0.6h-0.6zM163.4 783.6h0.6v0.6h-0.6zM155.6 774.9h0.6v0.6h-0.6zM162.2 773.9h0.6v0.6h-0.6zM155.9 782.8h0.6v0.6h-0.6zM152.0 779.4h0.6v0.6h-0.6zM163.5 777.5h0.6v0.6h-0.6zM159.8 775.1h0.6v0.6h-0.6zM163.8 780.3h0.6v0.6h-0.6zM167.4 772.2h0.6v0.6h-0.6zM154.6 775.2h0.6v0.6h-0.6zM156.2 779.9h0.6v0.6h-0.6zM157.6 777.9h0.6v0.6h-0.6zM164.8 777.9h0.6v0.6h-0.6zM167.5 771.6h0.6v0.6h-0.6zM164.6 779.1h0.6v0.6h-0.6zM165.0 779.2h0.6v0.6h-0.6zM166.0 772.8h0.6v0.6h-0.6zM155.2 783.0h0.6v0.6h-0.6zM158.6 781.2h0.6v0.6h-0.6zM159.6 782.1h0.6v0.6h-0.6zM165.3 772.3h0.6v0.6h-0.6zM152.2 780.6h0.6v0.6h-0.6zM163.2 780.6h0.6v0.6h-0.6zM162.8 771.1h0.6v0.6h-0.6zM154.6 774.2h0.6v0.6h-0.6zM168.5 772.4h0.6v0.6h-0.6zM157.9 782.9h0.6v0.6h-0.6zM158.0 774.2h0.6v0.6h-0.6zM164.6 776.5h0.6v0.6h-0.6zM169.6 771.3h0.6v0.6h-0.6zM148.9 775.8h0.6v0.6h-0.6zM159.9 781.7h0.6v0.6h-0.6zM162.6 785.2h0.6v0.6h-0.6zM160.0 782.1h0.6v0.6h-0.6zM153.4 780.6h0.6v0.6h-0.6zM160.5 770.1h0.6v0.6h-0.6zM164.9 777.4h0.6v0.6h-0.6zM161.9 771.3h0.6v0.6h-0.6zM160.9 779.4h0.6v0.6h-0.6zM154.0 779.2h0.6v0.6h-0.6zM160.4 777.3h0.6v0.6h-0.6zM164.1 770.9h0.6v0.6h-0.6zM169.5 770.6h0.6v0.6h-0.6zM157.0 780.8h0.6v0.6h-0.6zM154.8 776.1h0.6v0.6h-0.6zM162.6 781.7h0.6v0.6h-0.6zM161.5 778.9h0.6v0.6h-0.6zM152.5 779.0h0.6v0.6h-0.6zM159.8 775.1h0.6v0.6h-0.6zM158.9 777.7h0.6v0.6h-0.6zM165.0 779.0h0.6v0.6h-0.6zM161.6 781.0h0.6v0.6h-0.6zM160.2 780.8h0.6v0.6h-0.6zM165.5 781.6h0.6v0.6h-0.6zM168.3 771.3h0.6v0.6h-0.6zM154.1 782.2h0.6v0.6h-0.6zM157.4 780.7h0.6v0.6h-0.6zM153.7 772.0h0.6v0.6h-0.6zM151.7 775.1h0.6v0.6h-0.6zM166.2 775.7h0.6v0.6h-0.6zM152.7 776.7h0.6v0.6h-0.6zM167.8 772.8h0.6v0.6h-0.6zM166.7 772.1h0.6v0.6h-0.6zM155.0 781.7h0.6v0.6h-0.6zM156.8 777.6h0.6v0.6h-0.6zM156.4 775.3h0.6v0.6h-0.6zM160.4 771.8h0.6v0.6h-0.6zM156.9 776.9h0.6v0.6h-0.6zM158.0 781.8h0.6v0.6h-0.6zM161.8 782.0h0.6v0.6h-0.6zM155.6 780.1h0.6v0.6h-0.6zM165.9 779.6h0.6v0.6h-0.6zM165.1 771.9h0.6v0.6h-0.6zM168.5 773.0h0.6v0.6h-0.6zM156.3 781.9h0.6v0.6h-0.6zM149.6 779.5h0.6v0.6h-0.6zM161.5 774.1h0.6v0.6h-0.6zM160.6 771.7h0.6v0.6h-0.6zM165.3 771.0h0.6v0.6h-0.6zM156.3 776.6h0.6v0.6h-0.6zM164.5 772.3h0.6v0.6h-0.6zM151.5 776.4h0.6v0.6h-0.6zM164.0 772.7h0.6v0.6h-0.6zM155.5 782.9h0.6v0.6h-0.6zM152.4 777.8h0.6v0.6h-0.6zM169.5 769.9h0.6v0.6h-0.6zM155.6 776.3h0.6v0.6h-0.6zM154.7 776.4h0.6v0.6h-0.6zM157.5 774.4h0.6v0.6h-0.6zM157.2 774.4h0.6v0.6h-0.6zM158.7 780.1h0.6v0.6h-0.6zM154.7 780.5h0.6v0.6h-0.6zM162.0 773.5h0.6v0.6h-0.6z" fill="#9c9c9c"/>
<polygon points="156.59,774.37 169.61,769.79 166.38,778.35 164.53,783.52 160.37,784.12 157.14,779.54" fill="url(#coreg)" filter="url(#b07)"/>
<path d="M164.0 776.1h0.6v0.6h-0.6zM160.1 782.4h0.6v0.6h-0.6zM160.1 772.2h0.6v0.6h-0.6zM167.6 771.2h0.6v0.6h-0.6zM162.4 775.1h0.6v0.6h-0.6zM162.8 775.4h0.6v0.6h-0.6zM160.5 774.3h0.6v0.6h-0.6zM161.8 781.1h0.6v0.6h-0.6zM161.9 774.7h0.6v0.6h-0.6zM159.4 773.7h0.6v0.6h-0.6zM167.4 771.0h0.6v0.6h-0.6zM164.0 777.0h0.6v0.6h-0.6zM171.0 771.4h0.6v0.6h-0.6zM163.3 776.3h0.6v0.6h-0.6zM158.6 777.3h0.6v0.6h-0.6zM157.6 778.6h0.6v0.6h-0.6zM167.0 772.6h0.6v0.6h-0.6zM161.4 779.2h0.6v0.6h-0.6zM161.3 774.2h0.6v0.6h-0.6zM161.7 774.1h0.6v0.6h-0.6zM166.6 774.9h0.6v0.6h-0.6zM160.4 779.4h0.6v0.6h-0.6zM159.4 778.0h0.6v0.6h-0.6zM161.3 770.9h0.6v0.6h-0.6zM159.8 776.6h0.6v0.6h-0.6zM163.0 774.3h0.6v0.6h-0.6zM160.0 774.8h0.6v0.6h-0.6zM160.7 774.8h0.6v0.6h-0.6zM158.9 773.8h0.6v0.6h-0.6zM169.1 770.5h0.6v0.6h-0.6zM165.1 780.3h0.6v0.6h-0.6zM161.9 774.9h0.6v0.6h-0.6zM157.1 774.7h0.6v0.6h-0.6zM168.4 777.2h0.6v0.6h-0.6zM164.4 781.3h0.6v0.6h-0.6zM167.9 772.4h0.6v0.6h-0.6zM162.9 772.7h0.6v0.6h-0.6zM161.7 785.2h0.6v0.6h-0.6zM167.3 772.3h0.6v0.6h-0.6zM167.4 779.8h0.6v0.6h-0.6zM163.0 781.2h0.6v0.6h-0.6zM157.8 779.9h0.6v0.6h-0.6zM159.0 774.5h0.6v0.6h-0.6zM161.7 778.3h0.6v0.6h-0.6zM156.5 780.4h0.6v0.6h-0.6zM158.4 783.0h0.6v0.6h-0.6zM162.5 781.1h0.6v0.6h-0.6zM167.4 774.0h0.6v0.6h-0.6zM163.1 773.8h0.6v0.6h-0.6zM168.4 772.2h0.6v0.6h-0.6zM165.5 777.6h0.6v0.6h-0.6zM169.7 775.9h0.6v0.6h-0.6zM167.6 771.8h0.6v0.6h-0.6zM162.4 783.1h0.6v0.6h-0.6zM166.5 778.0h0.6v0.6h-0.6zM162.5 776.8h0.6v0.6h-0.6zM158.8 774.4h0.6v0.6h-0.6zM164.1 782.0h0.6v0.6h-0.6zM161.0 777.9h0.6v0.6h-0.6zM160.5 779.0h0.6v0.6h-0.6z" fill="#505050"/>
</g>
<line x1="172.39" y1="748.1" x2="172.39" y2="787.9" stroke="#bcbcbc" stroke-width="1.2" />
<line x1="147.9" y1="768.8" x2="194.1" y2="768.8" stroke="#bcbcbc" stroke-width="1.2" />
<rect x="147.9" y="748.1" width="46.2" height="39.8" fill="none" stroke="#939393" stroke-width="1.4"/>
<text x="149.8" y="753.2" font-size="4.75" text-anchor="start" font-weight="normal" fill="#2a2a2a" >Vβ18</text>
<text x="192.6" y="753.2" font-size="4.75" text-anchor="end" font-weight="normal" fill="#2a2a2a" >Vβ5.1</text>
<text x="192.6" y="784.9" font-size="4.75" text-anchor="end" font-weight="normal" fill="#2a2a2a" >Vβ20</text>
<text x="145.5" y="788.9" font-size="2.8" text-anchor="end" fill="#777" >10</text>
<text x="147.9" y="791.9" font-size="2.8" text-anchor="middle" fill="#777" >10</text>
<text x="145.5" y="778.95" font-size="2.8" text-anchor="end" fill="#777" >10</text>
<text x="159.45" y="791.9" font-size="2.8" text-anchor="middle" fill="#777" >10</text>
<text x="145.5" y="769" font-size="2.8" text-anchor="end" fill="#777" >10</text>
<text x="171" y="791.9" font-size="2.8" text-anchor="middle" fill="#777" >10</text>
<text x="145.5" y="759.05" font-size="2.8" text-anchor="end" fill="#777" >10</text>
<text x="182.55" y="791.9" font-size="2.8" text-anchor="middle" fill="#777" >10</text>
<text x="145.5" y="749.1" font-size="2.8" text-anchor="end" fill="#777" >10</text>
<text x="194.1" y="791.9" font-size="2.8" text-anchor="middle" fill="#777" >10</text>
<text x="171" y="796.9" font-size="3.4" text-anchor="middle" fill="#555" >FL1-H</text>
<text transform="translate(137.9 768) rotate(-90)" font-size="3.4" text-anchor="middle" fill="#555">FL2-H</text>
<text x="231.9" y="746.8" font-size="3.3" text-anchor="middle" fill="#666" >Data.006</text>
<g>
<polygon points="211.85,774.93 216.93,773.21 224.79,770.55 231.9,768.6 229.31,773.77 227.05,778.43 225.94,784.76 221.41,785.59 215.78,783.04 211.85,779.58" fill="#d4d4d4" filter="url(#b1)"/>
<path d="M226.4 781.7h0.6v0.6h-0.6zM224.2 784.2h0.6v0.6h-0.6zM224.1 783.6h0.6v0.6h-0.6zM213.2 777.2h0.6v0.6h-0.6zM223.8 778.4h0.6v0.6h-0.6zM219.6 778.0h0.6v0.6h-0.6zM230.2 771.5h0.6v0.6h-0.6zM217.7 782.9h0.6v0.6h-0.6zM214.8 780.8h0.6v0.6h-0.6zM217.0 777.4h0.6v0.6h-0.6zM216.9 773.3h0.6v0.6h-0.6zM227.4 777.3h0.6v0.6h-0.6zM213.4 780.8h0.6v0.6h-0.6zM220.2 780.6h0.6v0.6h-0.6zM214.8 774.9h0.6v0.6h-0.6zM226.2 771.1h0.6v0.6h-0.6zM219.3 781.2h0.6v0.6h-0.6zM214.0 780.8h0.6v0.6h-0.6zM221.8 783.8h0.6v0.6h-0.6zM227.4 783.6h0.6v0.6h-0.6zM227.6 773.8h0.6v0.6h-0.6zM226.9 774.2h0.6v0.6h-0.6zM227.3 772.2h0.6v0.6h-0.6zM214.1 777.5h0.6v0.6h-0.6zM221.4 773.6h0.6v0.6h-0.6zM218.6 777.3h0.6v0.6h-0.6zM224.1 771.1h0.6v0.6h-0.6zM216.2 777.2h0.6v0.6h-0.6zM222.0 775.3h0.6v0.6h-0.6zM226.1 770.2h0.6v0.6h-0.6zM222.7 772.2h0.6v0.6h-0.6zM222.3 771.6h0.6v0.6h-0.6zM216.5 775.0h0.6v0.6h-0.6zM227.8 770.8h0.6v0.6h-0.6zM220.6 774.0h0.6v0.6h-0.6zM216.9 774.0h0.6v0.6h-0.6zM226.4 780.0h0.6v0.6h-0.6zM226.8 772.1h0.6v0.6h-0.6zM216.0 776.8h0.6v0.6h-0.6zM228.9 774.4h0.6v0.6h-0.6zM219.3 779.2h0.6v0.6h-0.6zM228.6 773.5h0.6v0.6h-0.6zM226.5 779.8h0.6v0.6h-0.6zM224.7 772.6h0.6v0.6h-0.6zM215.0 779.0h0.6v0.6h-0.6zM223.8 773.2h0.6v0.6h-0.6zM224.5 777.3h0.6v0.6h-0.6zM219.7 774.1h0.6v0.6h-0.6zM224.1 774.4h0.6v0.6h-0.6zM216.0 783.1h0.6v0.6h-0.6zM219.0 783.6h0.6v0.6h-0.6zM220.9 770.8h0.6v0.6h-0.6zM220.1 777.3h0.6v0.6h-0.6zM216.5 781.5h0.6v0.6h-0.6zM222.1 777.0h0.6v0.6h-0.6zM224.8 778.5h0.6v0.6h-0.6zM222.7 773.3h0.6v0.6h-0.6zM226.1 775.9h0.6v0.6h-0.6zM220.8 784.3h0.6v0.6h-0.6zM218.7 782.2h0.6v0.6h-0.6zM226.5 780.9h0.6v0.6h-0.6zM221.8 776.5h0.6v0.6h-0.6zM226.8 771.8h0.6v0.6h-0.6zM213.5 777.3h0.6v0.6h-0.6zM217.1 778.2h0.6v0.6h-0.6zM212.5 776.7h0.6v0.6h-0.6zM226.4 778.1h0.6v0.6h-0.6zM224.9 783.2h0.6v0.6h-0.6zM223.7 771.0h0.6v0.6h-0.6zM220.4 784.3h0.6v0.6h-0.6zM223.6 782.6h0.6v0.6h-0.6zM218.4 776.0h0.6v0.6h-0.6zM211.8 779.5h0.6v0.6h-0.6zM226.7 777.8h0.6v0.6h-0.6zM229.4 772.3h0.6v0.6h-0.6zM223.2 779.5h0.6v0.6h-0.6zM231.1 769.3h0.6v0.6h-0.6zM227.0 776.3h0.6v0.6h-0.6zM230.4 771.6h0.6v0.6h-0.6zM226.9 774.8h0.6v0.6h-0.6zM218.5 777.3h0.6v0.6h-0.6zM225.9 775.0h0.6v0.6h-0.6zM221.2 777.2h0.6v0.6h-0.6zM229.2 770.5h0.6v0.6h-0.6zM227.6 773.9h0.6v0.6h-0.6zM225.3 776.7h0.6v0.6h-0.6zM218.7 778.8h0.6v0.6h-0.6zM214.7 775.7h0.6v0.6h-0.6zM222.8 775.8h0.6v0.6h-0.6zM222.0 784.4h0.6v0.6h-0.6zM216.9 782.0h0.6v0.6h-0.6zM214.9 778.7h0.6v0.6h-0.6zM225.7 774.3h0.6v0.6h-0.6zM221.6 771.7h0.6v0.6h-0.6zM216.8 776.3h0.6v0.6h-0.6zM218.6 783.4h0.6v0.6h-0.6zM222.2 775.8h0.6v0.6h-0.6zM220.3 782.9h0.6v0.6h-0.6zM226.0 778.4h0.6v0.6h-0.6zM220.9 778.7h0.6v0.6h-0.6zM215.4 778.3h0.6v0.6h-0.6zM225.1 780.0h0.6v0.6h-0.6zM216.8 781.7h0.6v0.6h-0.6zM227.7 770.7h0.6v0.6h-0.6zM225.5 780.5h0.6v0.6h-0.6zM217.4 779.2h0.6v0.6h-0.6zM223.0 783.8h0.6v0.6h-0.6zM212.0 782.1h0.6v0.6h-0.6zM221.9 775.2h0.6v0.6h-0.6zM212.2 777.6h0.6v0.6h-0.6z" fill="#9c9c9c"/>
<polygon points="217.49,774.37 230.51,769.79 227.28,778.35 225.43,783.52 221.27,784.12 218.04,779.54" fill="url(#coreg)" filter="url(#b07)"/>
<path d="M220.7 779.7h0.6v0.6h-0.6zM222.9 782.0h0.6v0.6h-0.6zM219.1 778.1h0.6v0.6h-0.6zM218.3 777.3h0.6v0.6h-0.6zM219.9 776.9h0.6v0.6h-0.6zM218.2 775.8h0.6v0.6h-0.6zM219.9 778.6h0.6v0.6h-0.6zM224.1 781.1h0.6v0.6h-0.6zM221.7 775.3h0.6v0.6h-0.6zM229.8 778.1h0.6v0.6h-0.6zM221.7 780.7h0.6v0.6h-0.6zM225.3 777.2h0.6v0.6h-0.6zM223.5 773.4h0.6v0.6h-0.6zM221.6 782.7h0.6v0.6h-0.6zM218.7 773.8h0.6v0.6h-0.6zM224.9 782.9h0.6v0.6h-0.6zM225.4 782.3h0.6v0.6h-0.6zM226.4 778.8h0.6v0.6h-0.6zM223.3 781.9h0.6v0.6h-0.6zM223.9 773.8h0.6v0.6h-0.6zM232.8 770.7h0.6v0.6h-0.6zM222.1 779.7h0.6v0.6h-0.6zM224.1 773.6h0.6v0.6h-0.6zM225.6 778.5h0.6v0.6h-0.6zM221.7 776.8h0.6v0.6h-0.6zM229.6 778.8h0.6v0.6h-0.6zM227.1 772.7h0.6v0.6h-0.6zM219.3 778.4h0.6v0.6h-0.6zM221.8 773.1h0.6v0.6h-0.6zM223.6 779.5h0.6v0.6h-0.6zM224.6 780.9h0.6v0.6h-0.6zM219.1 774.7h0.6v0.6h-0.6zM226.0 773.6h0.6v0.6h-0.6zM221.9 774.0h0.6v0.6h-0.6zM229.6 770.7h0.6v0.6h-0.6zM225.1 782.2h0.6v0.6h-0.6zM220.8 783.3h0.6v0.6h-0.6zM219.2 780.7h0.6v0.6h-0.6zM228.9 773.3h0.6v0.6h-0.6zM223.4 783.0h0.6v0.6h-0.6zM224.6 780.8h0.6v0.6h-0.6zM220.0 781.5h0.6v0.6h-0.6zM223.1 778.2h0.6v0.6h-0.6zM223.7 774.7h0.6v0.6h-0.6zM224.3 772.9h0.6v0.6h-0.6zM223.0 776.3h0.6v0.6h-0.6zM222.4 786.3h0.6v0.6h-0.6zM223.4 775.3h0.6v0.6h-0.6zM221.7 775.3h0.6v0.6h-0.6zM226.5 774.4h0.6v0.6h-0.6zM225.5 775.9h0.6v0.6h-0.6zM225.7 777.8h0.6v0.6h-0.6zM223.9 775.9h0.6v0.6h-0.6zM219.9 775.9h0.6v0.6h-0.6zM221.2 782.8h0.6v0.6h-0.6zM225.8 779.9h0.6v0.6h-0.6zM222.0 778.1h0.6v0.6h-0.6zM224.6 779.6h0.6v0.6h-0.6zM220.3 781.2h0.6v0.6h-0.6zM221.2 781.9h0.6v0.6h-0.6z" fill="#505050"/>
</g>
<line x1="233.29" y1="748.1" x2="233.29" y2="787.9" stroke="#bcbcbc" stroke-width="1.2" />
<line x1="208.8" y1="768.8" x2="255" y2="768.8" stroke="#bcbcbc" stroke-width="1.2" />
<rect x="208.8" y="748.1" width="46.2" height="39.8" fill="none" stroke="#939393" stroke-width="1.4"/>
<text x="210.7" y="753.2" font-size="4.75" text-anchor="start" font-weight="normal" fill="#2a2a2a" >Vβ3.1</text>
<text x="253.5" y="753.2" font-size="4.75" text-anchor="end" font-weight="normal" fill="#2a2a2a" >Vβ13.6</text>
<text x="253.5" y="784.9" font-size="4.75" text-anchor="end" font-weight="normal" fill="#2a2a2a" >Vβ8</text>
<text x="206.4" y="788.9" font-size="2.8" text-anchor="end" fill="#777" >10</text>
<text x="208.8" y="791.9" font-size="2.8" text-anchor="middle" fill="#777" >10</text>
<text x="206.4" y="778.95" font-size="2.8" text-anchor="end" fill="#777" >10</text>
<text x="220.35" y="791.9" font-size="2.8" text-anchor="middle" fill="#777" >10</text>
<text x="206.4" y="769" font-size="2.8" text-anchor="end" fill="#777" >10</text>
<text x="231.9" y="791.9" font-size="2.8" text-anchor="middle" fill="#777" >10</text>
<text x="206.4" y="759.05" font-size="2.8" text-anchor="end" fill="#777" >10</text>
<text x="243.45" y="791.9" font-size="2.8" text-anchor="middle" fill="#777" >10</text>
<text x="206.4" y="749.1" font-size="2.8" text-anchor="end" fill="#777" >10</text>
<text x="255" y="791.9" font-size="2.8" text-anchor="middle" fill="#777" >10</text>
<text x="231.9" y="796.9" font-size="3.4" text-anchor="middle" fill="#555" >FL1-H</text>
<text transform="translate(198.8 768) rotate(-90)" font-size="3.4" text-anchor="middle" fill="#555">FL2-H</text>
<text x="49.1" y="802.4" font-size="3.3" text-anchor="middle" fill="#666" >Data.007</text>
<g>
<polygon points="29.05,830.53 34.13,828.81 41.99,826.15 49.1,824.2 46.51,829.37 44.25,834.03 43.14,840.36 38.61,841.19 32.98,838.64 29.05,835.18" fill="#d4d4d4" filter="url(#b1)"/>
<path d="M40.9 839.6h0.6v0.6h-0.6zM40.2 830.3h0.6v0.6h-0.6zM46.0 828.7h0.6v0.6h-0.6zM45.6 832.5h0.6v0.6h-0.6zM46.0 826.6h0.6v0.6h-0.6zM43.3 838.4h0.6v0.6h-0.6zM42.6 831.5h0.6v0.6h-0.6zM40.0 834.8h0.6v0.6h-0.6zM44.9 826.1h0.6v0.6h-0.6zM34.2 829.3h0.6v0.6h-0.6zM33.5 838.1h0.6v0.6h-0.6zM44.1 834.0h0.6v0.6h-0.6zM31.4 831.2h0.6v0.6h-0.6zM32.7 834.4h0.6v0.6h-0.6zM37.7 828.4h0.6v0.6h-0.6zM39.7 838.7h0.6v0.6h-0.6zM44.8 829.3h0.6v0.6h-0.6zM38.4 829.0h0.6v0.6h-0.6zM40.0 840.0h0.6v0.6h-0.6zM35.2 832.7h0.6v0.6h-0.6zM43.3 826.0h0.6v0.6h-0.6zM42.3 831.1h0.6v0.6h-0.6zM30.1 833.3h0.6v0.6h-0.6zM43.8 830.7h0.6v0.6h-0.6zM36.1 839.3h0.6v0.6h-0.6zM38.3 839.5h0.6v0.6h-0.6zM34.0 833.7h0.6v0.6h-0.6zM37.5 834.8h0.6v0.6h-0.6zM47.1 827.8h0.6v0.6h-0.6zM45.2 826.4h0.6v0.6h-0.6zM38.0 835.9h0.6v0.6h-0.6zM29.5 830.9h0.6v0.6h-0.6zM45.7 828.4h0.6v0.6h-0.6zM44.9 826.3h0.6v0.6h-0.6zM40.5 834.8h0.6v0.6h-0.6zM46.1 825.5h0.6v0.6h-0.6zM42.9 838.8h0.6v0.6h-0.6zM39.5 834.1h0.6v0.6h-0.6zM41.3 832.6h0.6v0.6h-0.6zM37.2 831.0h0.6v0.6h-0.6zM37.3 834.0h0.6v0.6h-0.6zM35.5 830.3h0.6v0.6h-0.6zM37.2 829.9h0.6v0.6h-0.6zM44.7 830.4h0.6v0.6h-0.6zM37.8 834.7h0.6v0.6h-0.6zM35.7 827.0h0.6v0.6h-0.6zM38.2 828.9h0.6v0.6h-0.6zM35.0 834.3h0.6v0.6h-0.6zM34.6 831.4h0.6v0.6h-0.6zM47.1 825.8h0.6v0.6h-0.6zM44.7 829.0h0.6v0.6h-0.6zM42.2 835.7h0.6v0.6h-0.6zM32.8 834.6h0.6v0.6h-0.6zM33.0 831.4h0.6v0.6h-0.6zM36.4 838.3h0.6v0.6h-0.6zM36.6 832.2h0.6v0.6h-0.6zM36.4 838.7h0.6v0.6h-0.6zM43.7 830.1h0.6v0.6h-0.6zM35.5 837.0h0.6v0.6h-0.6zM38.1 833.3h0.6v0.6h-0.6zM43.7 833.6h0.6v0.6h-0.6zM35.1 839.0h0.6v0.6h-0.6zM43.0 824.3h0.6v0.6h-0.6zM32.8 840.3h0.6v0.6h-0.6zM43.0 829.6h0.6v0.6h-0.6zM49.0 828.3h0.6v0.6h-0.6zM42.7 836.7h0.6v0.6h-0.6zM33.5 827.7h0.6v0.6h-0.6zM42.4 836.1h0.6v0.6h-0.6zM39.4 832.2h0.6v0.6h-0.6zM40.4 837.6h0.6v0.6h-0.6zM29.9 834.9h0.6v0.6h-0.6zM30.3 836.2h0.6v0.6h-0.6zM40.4 833.8h0.6v0.6h-0.6zM36.6 839.2h0.6v0.6h-0.6zM40.0 839.0h0.6v0.6h-0.6zM36.7 833.5h0.6v0.6h-0.6zM35.8 829.3h0.6v0.6h-0.6zM39.4 838.0h0.6v0.6h-0.6zM40.5 829.7h0.6v0.6h-0.6zM39.8 833.9h0.6v0.6h-0.6zM40.1 830.7h0.6v0.6h-0.6zM42.7 839.4h0.6v0.6h-0.6zM30.2 833.4h0.6v0.6h-0.6zM46.0 825.2h0.6v0.6h-0.6zM36.5 832.2h0.6v0.6h-0.6zM43.7 828.4h0.6v0.6h-0.6zM45.0 832.4h0.6v0.6h-0.6zM43.8 831.6h0.6v0.6h-0.6zM40.7 839.3h0.6v0.6h-0.6zM48.0 825.0h0.6v0.6h-0.6zM34.9 837.4h0.6v0.6h-0.6zM33.0 831.6h0.6v0.6h-0.6zM40.6 831.5h0.6v0.6h-0.6zM34.2 834.9h0.6v0.6h-0.6zM44.9 839.8h0.6v0.6h-0.6zM39.8 828.4h0.6v0.6h-0.6zM43.5 834.0h0.6v0.6h-0.6zM41.6 828.3h0.6v0.6h-0.6zM38.3 831.9h0.6v0.6h-0.6zM41.4 839.8h0.6v0.6h-0.6zM35.5 834.4h0.6v0.6h-0.6zM32.8 839.7h0.6v0.6h-0.6zM35.7 834.5h0.6v0.6h-0.6zM32.3 837.2h0.6v0.6h-0.6zM33.3 833.1h0.6v0.6h-0.6zM48.0 826.1h0.6v0.6h-0.6zM41.4 831.1h0.6v0.6h-0.6zM32.3 834.6h0.6v0.6h-0.6zM34.4 832.2h0.6v0.6h-0.6z" fill="#9c9c9c"/>
<polygon points="34.69,829.97 47.71,825.39 44.48,833.95 42.63,839.12 38.47,839.72 35.24,835.14" fill="url(#coreg)" filter="url(#b07)"/>
<path d="M34.9 830.7h0.6v0.6h-0.6zM44.9 829.2h0.6v0.6h-0.6zM46.7 826.5h0.6v0.6h-0.6zM44.4 830.1h0.6v0.6h-0.6zM40.7 832.0h0.6v0.6h-0.6zM35.4 831.9h0.6v0.6h-0.6zM42.3 829.3h0.6v0.6h-0.6zM36.1 835.0h0.6v0.6h-0.6zM45.6 827.7h0.6v0.6h-0.6zM40.8 837.2h0.6v0.6h-0.6zM43.7 826.9h0.6v0.6h-0.6zM38.6 834.8h0.6v0.6h-0.6zM42.0 828.0h0.6v0.6h-0.6zM39.2 833.0h0.6v0.6h-0.6zM39.7 831.4h0.6v0.6h-0.6zM43.6 829.0h0.6v0.6h-0.6zM38.2 830.9h0.6v0.6h-0.6zM42.6 830.8h0.6v0.6h-0.6zM43.4 827.3h0.6v0.6h-0.6zM42.4 830.5h0.6v0.6h-0.6zM36.8 832.7h0.6v0.6h-0.6zM43.8 834.2h0.6v0.6h-0.6zM46.5 830.0h0.6v0.6h-0.6zM38.6 829.2h0.6v0.6h-0.6zM41.2 833.7h0.6v0.6h-0.6zM44.4 827.5h0.6v0.6h-0.6zM43.8 835.2h0.6v0.6h-0.6zM35.8 833.2h0.6v0.6h-0.6zM42.9 833.1h0.6v0.6h-0.6zM36.4 834.3h0.6v0.6h-0.6zM41.8 829.5h0.6v0.6h-0.6zM41.9 839.0h0.6v0.6h-0.6zM42.5 831.4h0.6v0.6h-0.6zM44.3 832.5h0.6v0.6h-0.6zM38.4 832.6h0.6v0.6h-0.6zM41.8 830.4h0.6v0.6h-0.6zM37.8 837.2h0.6v0.6h-0.6zM41.1 838.2h0.6v0.6h-0.6zM38.8 830.6h0.6v0.6h-0.6zM38.9 835.3h0.6v0.6h-0.6zM36.9 832.3h0.6v0.6h-0.6zM40.8 827.9h0.6v0.6h-0.6zM34.7 832.5h0.6v0.6h-0.6zM41.4 834.1h0.6v0.6h-0.6zM40.5 832.0h0.6v0.6h-0.6zM39.1 831.6h0.6v0.6h-0.6zM40.4 832.9h0.6v0.6h-0.6zM46.5 826.6h0.6v0.6h-0.6zM48.2 827.4h0.6v0.6h-0.6zM38.0 838.9h0.6v0.6h-0.6zM44.8 825.3h0.6v0.6h-0.6zM43.3 834.9h0.6v0.6h-0.6zM46.2 832.9h0.6v0.6h-0.6zM36.0 835.5h0.6v0.6h-0.6zM40.0 834.0h0.6v0.6h-0.6zM42.7 829.1h0.6v0.6h-0.6zM40.7 836.6h0.6v0.6h-0.6zM43.6 828.5h0.6v0.6h-0.6zM36.7 832.7h0.6v0.6h-0.6zM41.2 829.8h0.6v0.6h-0.6z" fill="#505050"/>
</g>
<line x1="50.49" y1="803.7" x2="50.49" y2="843.5" stroke="#bcbcbc" stroke-width="1.2" />
<line x1="26" y1="824.4" x2="72.2" y2="824.4" stroke="#bcbcbc" stroke-width="1.2" />
<rect x="26" y="803.7" width="46.2" height="39.8" fill="none" stroke="#939393" stroke-width="1.4"/>
<text x="27.9" y="808.8" font-size="4.75" text-anchor="start" font-weight="normal" fill="#2a2a2a" >Vβ5.2</text>
<text x="70.7" y="808.8" font-size="4.75" text-anchor="end" font-weight="normal" fill="#2a2a2a" >Vβ2</text>
<text x="70.7" y="840.5" font-size="4.75" text-anchor="end" font-weight="normal" fill="#2a2a2a" >Vβ12</text>
<text x="23.6" y="844.5" font-size="2.8" text-anchor="end" fill="#777" >10</text>
<text x="26" y="847.5" font-size="2.8" text-anchor="middle" fill="#777" >10</text>
<text x="23.6" y="834.55" font-size="2.8" text-anchor="end" fill="#777" >10</text>
<text x="37.55" y="847.5" font-size="2.8" text-anchor="middle" fill="#777" >10</text>
<text x="23.6" y="824.6" font-size="2.8" text-anchor="end" fill="#777" >10</text>
<text x="49.1" y="847.5" font-size="2.8" text-anchor="middle" fill="#777" >10</text>
<text x="23.6" y="814.65" font-size="2.8" text-anchor="end" fill="#777" >10</text>
<text x="60.65" y="847.5" font-size="2.8" text-anchor="middle" fill="#777" >10</text>
<text x="23.6" y="804.7" font-size="2.8" text-anchor="end" fill="#777" >10</text>
<text x="72.2" y="847.5" font-size="2.8" text-anchor="middle" fill="#777" >10</text>
<text x="49.1" y="852.5" font-size="3.4" text-anchor="middle" fill="#555" >FL1-H</text>
<text transform="translate(16 823.6) rotate(-90)" font-size="3.4" text-anchor="middle" fill="#555">FL2-H</text>
<text x="109.9" y="802.4" font-size="3.3" text-anchor="middle" fill="#666" >Data.008</text>
<g>
<polygon points="89.85,830.53 94.93,828.81 102.79,826.15 109.9,824.2 107.31,829.37 105.05,834.03 103.94,840.36 99.41,841.19 93.78,838.64 89.85,835.18" fill="#d4d4d4" filter="url(#b1)"/>
<path d="M111.1 827.2h0.6v0.6h-0.6zM104.5 829.1h0.6v0.6h-0.6zM98.4 836.7h0.6v0.6h-0.6zM104.5 834.6h0.6v0.6h-0.6zM99.1 833.1h0.6v0.6h-0.6zM94.3 831.9h0.6v0.6h-0.6zM100.1 832.2h0.6v0.6h-0.6zM103.8 832.7h0.6v0.6h-0.6zM103.6 839.4h0.6v0.6h-0.6zM105.1 825.6h0.6v0.6h-0.6zM99.7 828.9h0.6v0.6h-0.6zM104.0 837.3h0.6v0.6h-0.6zM98.9 827.8h0.6v0.6h-0.6zM97.8 837.4h0.6v0.6h-0.6zM104.1 833.2h0.6v0.6h-0.6zM100.2 837.3h0.6v0.6h-0.6zM99.7 830.2h0.6v0.6h-0.6zM102.6 838.0h0.6v0.6h-0.6zM97.6 829.7h0.6v0.6h-0.6zM99.6 833.7h0.6v0.6h-0.6zM104.6 833.4h0.6v0.6h-0.6zM99.8 827.4h0.6v0.6h-0.6zM92.8 836.4h0.6v0.6h-0.6zM89.7 829.6h0.6v0.6h-0.6zM97.0 831.1h0.6v0.6h-0.6zM102.7 833.3h0.6v0.6h-0.6zM96.3 830.3h0.6v0.6h-0.6zM98.3 831.8h0.6v0.6h-0.6zM100.0 839.2h0.6v0.6h-0.6zM97.9 838.3h0.6v0.6h-0.6zM98.2 830.9h0.6v0.6h-0.6zM97.4 833.1h0.6v0.6h-0.6zM90.5 833.8h0.6v0.6h-0.6zM96.1 837.5h0.6v0.6h-0.6zM95.2 833.4h0.6v0.6h-0.6zM94.3 836.4h0.6v0.6h-0.6zM97.6 837.2h0.6v0.6h-0.6zM94.5 831.7h0.6v0.6h-0.6zM101.3 837.5h0.6v0.6h-0.6zM103.8 831.2h0.6v0.6h-0.6zM104.5 834.4h0.6v0.6h-0.6zM98.0 835.0h0.6v0.6h-0.6zM103.9 831.4h0.6v0.6h-0.6zM96.6 835.7h0.6v0.6h-0.6zM96.6 829.9h0.6v0.6h-0.6zM100.2 827.3h0.6v0.6h-0.6zM98.2 831.1h0.6v0.6h-0.6zM90.8 833.7h0.6v0.6h-0.6zM101.8 827.8h0.6v0.6h-0.6zM108.3 826.4h0.6v0.6h-0.6zM103.7 833.9h0.6v0.6h-0.6zM100.5 839.6h0.6v0.6h-0.6zM107.6 826.9h0.6v0.6h-0.6zM105.2 832.6h0.6v0.6h-0.6zM90.0 832.1h0.6v0.6h-0.6zM97.8 832.8h0.6v0.6h-0.6zM102.5 833.8h0.6v0.6h-0.6zM91.2 834.1h0.6v0.6h-0.6zM103.8 835.1h0.6v0.6h-0.6zM105.0 825.6h0.6v0.6h-0.6zM104.7 835.3h0.6v0.6h-0.6zM104.6 830.5h0.6v0.6h-0.6zM102.4 827.5h0.6v0.6h-0.6zM97.2 839.1h0.6v0.6h-0.6zM103.8 833.6h0.6v0.6h-0.6zM109.4 822.5h0.6v0.6h-0.6zM97.6 834.8h0.6v0.6h-0.6zM100.9 831.9h0.6v0.6h-0.6zM97.6 836.8h0.6v0.6h-0.6zM109.0 825.9h0.6v0.6h-0.6zM95.7 833.0h0.6v0.6h-0.6zM105.7 831.6h0.6v0.6h-0.6zM105.2 829.7h0.6v0.6h-0.6zM104.0 832.5h0.6v0.6h-0.6zM94.0 832.9h0.6v0.6h-0.6zM90.0 833.1h0.6v0.6h-0.6zM95.0 838.0h0.6v0.6h-0.6zM94.3 832.0h0.6v0.6h-0.6zM106.7 827.9h0.6v0.6h-0.6zM102.9 830.0h0.6v0.6h-0.6zM99.2 833.4h0.6v0.6h-0.6zM95.9 837.9h0.6v0.6h-0.6zM101.5 833.3h0.6v0.6h-0.6zM92.1 835.2h0.6v0.6h-0.6zM95.4 838.5h0.6v0.6h-0.6zM101.7 839.8h0.6v0.6h-0.6zM103.3 827.0h0.6v0.6h-0.6zM104.9 830.6h0.6v0.6h-0.6zM94.8 838.2h0.6v0.6h-0.6zM105.4 829.0h0.6v0.6h-0.6zM99.3 832.2h0.6v0.6h-0.6zM93.7 834.6h0.6v0.6h-0.6zM105.9 827.7h0.6v0.6h-0.6zM99.7 836.4h0.6v0.6h-0.6zM94.9 837.3h0.6v0.6h-0.6zM104.7 831.9h0.6v0.6h-0.6zM104.2 830.5h0.6v0.6h-0.6zM99.8 832.9h0.6v0.6h-0.6zM100.1 834.3h0.6v0.6h-0.6zM96.6 831.6h0.6v0.6h-0.6zM105.3 828.7h0.6v0.6h-0.6zM93.2 832.2h0.6v0.6h-0.6zM95.2 836.0h0.6v0.6h-0.6zM102.6 830.4h0.6v0.6h-0.6zM98.7 833.5h0.6v0.6h-0.6zM103.7 828.3h0.6v0.6h-0.6zM108.1 823.6h0.6v0.6h-0.6zM106.4 822.8h0.6v0.6h-0.6zM104.3 826.8h0.6v0.6h-0.6zM103.2 836.9h0.6v0.6h-0.6z" fill="#9c9c9c"/>
<polygon points="95.49,829.97 108.51,825.39 105.28,833.95 103.43,839.12 99.27,839.72 96.04,835.14" fill="url(#coreg)" filter="url(#b07)"/>
<path d="M101.9 837.4h0.6v0.6h-0.6zM102.6 828.3h0.6v0.6h-0.6zM102.3 827.1h0.6v0.6h-0.6zM96.6 832.7h0.6v0.6h-0.6zM103.5 834.1h0.6v0.6h-0.6zM101.3 832.7h0.6v0.6h-0.6zM107.3 836.0h0.6v0.6h-0.6zM101.8 828.6h0.6v0.6h-0.6zM99.2 831.9h0.6v0.6h-0.6zM106.9 826.4h0.6v0.6h-0.6zM97.3 836.1h0.6v0.6h-0.6zM97.6 836.3h0.6v0.6h-0.6zM96.1 827.6h0.6v0.6h-0.6zM107.5 829.4h0.6v0.6h-0.6zM106.9 826.8h0.6v0.6h-0.6zM102.3 837.7h0.6v0.6h-0.6zM100.4 829.4h0.6v0.6h-0.6zM104.8 829.6h0.6v0.6h-0.6zM103.3 837.4h0.6v0.6h-0.6zM103.8 826.6h0.6v0.6h-0.6zM97.4 832.3h0.6v0.6h-0.6zM104.3 833.2h0.6v0.6h-0.6zM98.3 833.1h0.6v0.6h-0.6zM105.3 830.7h0.6v0.6h-0.6zM103.9 827.9h0.6v0.6h-0.6zM100.8 833.1h0.6v0.6h-0.6zM99.7 833.8h0.6v0.6h-0.6zM100.1 832.7h0.6v0.6h-0.6zM99.8 836.6h0.6v0.6h-0.6zM96.4 834.8h0.6v0.6h-0.6zM99.3 837.1h0.6v0.6h-0.6zM100.5 831.9h0.6v0.6h-0.6zM97.2 833.8h0.6v0.6h-0.6zM98.5 838.8h0.6v0.6h-0.6zM104.5 829.5h0.6v0.6h-0.6zM100.5 833.4h0.6v0.6h-0.6zM101.7 837.6h0.6v0.6h-0.6zM96.8 835.2h0.6v0.6h-0.6zM103.5 832.3h0.6v0.6h-0.6zM102.4 829.4h0.6v0.6h-0.6zM102.0 839.1h0.6v0.6h-0.6zM101.8 831.7h0.6v0.6h-0.6zM104.4 834.4h0.6v0.6h-0.6zM102.3 837.8h0.6v0.6h-0.6zM102.5 829.0h0.6v0.6h-0.6zM100.7 839.0h0.6v0.6h-0.6zM101.1 831.3h0.6v0.6h-0.6zM99.4 837.9h0.6v0.6h-0.6zM106.1 829.1h0.6v0.6h-0.6zM99.7 833.1h0.6v0.6h-0.6zM102.5 828.6h0.6v0.6h-0.6zM105.6 830.6h0.6v0.6h-0.6zM96.9 833.0h0.6v0.6h-0.6zM102.2 833.3h0.6v0.6h-0.6zM100.0 833.0h0.6v0.6h-0.6zM103.3 836.7h0.6v0.6h-0.6zM99.1 834.6h0.6v0.6h-0.6zM106.4 830.3h0.6v0.6h-0.6zM102.5 832.2h0.6v0.6h-0.6zM100.0 835.5h0.6v0.6h-0.6z" fill="#505050"/>
<polygon points="102.51,826.78 105.28,818.82 108.05,814.84 109.9,816.44 108.51,823.6 106.2,827.58" fill="#dcdcdc" filter="url(#b1)"/>
<path d="M109.2 819.7h0.6v0.6h-0.6zM104.1 823.8h0.6v0.6h-0.6zM107.0 824.5h0.6v0.6h-0.6zM106.4 825.6h0.6v0.6h-0.6zM106.0 825.7h0.6v0.6h-0.6zM102.7 823.8h0.6v0.6h-0.6zM106.2 819.0h0.6v0.6h-0.6zM105.3 818.8h0.6v0.6h-0.6zM105.2 823.7h0.6v0.6h-0.6zM107.8 818.9h0.6v0.6h-0.6zM104.0 826.7h0.6v0.6h-0.6zM103.8 825.1h0.6v0.6h-0.6zM106.6 819.2h0.6v0.6h-0.6zM106.0 825.3h0.6v0.6h-0.6zM109.3 818.3h0.6v0.6h-0.6zM105.3 823.0h0.6v0.6h-0.6zM109.5 819.8h0.6v0.6h-0.6zM104.7 822.9h0.6v0.6h-0.6zM107.0 825.4h0.6v0.6h-0.6zM103.6 824.3h0.6v0.6h-0.6zM104.5 826.2h0.6v0.6h-0.6zM106.1 823.7h0.6v0.6h-0.6zM103.6 825.8h0.6v0.6h-0.6zM108.0 820.3h0.6v0.6h-0.6zM108.0 815.7h0.6v0.6h-0.6z" fill="#a0a0a0"/>
</g>
<line x1="111.29" y1="803.7" x2="111.29" y2="843.5" stroke="#bcbcbc" stroke-width="1.2" />
<line x1="86.8" y1="824.4" x2="133" y2="824.4" stroke="#bcbcbc" stroke-width="1.2" />
<rect x="86.8" y="803.7" width="46.2" height="39.8" fill="none" stroke="#939393" stroke-width="1.4"/>
<text x="88.7" y="808.8" font-size="4.75" text-anchor="start" font-weight="normal" fill="#2a2a2a" >Vβ23</text>
<text x="131.5" y="808.8" font-size="4.75" text-anchor="end" font-weight="normal" fill="#2a2a2a" >Vβ1</text>
<text x="131.5" y="840.5" font-size="4.75" text-anchor="end" font-weight="normal" fill="#2a2a2a" >Vβ21.3</text>
<text x="84.4" y="844.5" font-size="2.8" text-anchor="end" fill="#777" >10</text>
<text x="86.8" y="847.5" font-size="2.8" text-anchor="middle" fill="#777" >10</text>
<text x="84.4" y="834.55" font-size="2.8" text-anchor="end" fill="#777" >10</text>
<text x="98.35" y="847.5" font-size="2.8" text-anchor="middle" fill="#777" >10</text>
<text x="84.4" y="824.6" font-size="2.8" text-anchor="end" fill="#777" >10</text>
<text x="109.9" y="847.5" font-size="2.8" text-anchor="middle" fill="#777" >10</text>
<text x="84.4" y="814.65" font-size="2.8" text-anchor="end" fill="#777" >10</text>
<text x="121.45" y="847.5" font-size="2.8" text-anchor="middle" fill="#777" >10</text>
<text x="84.4" y="804.7" font-size="2.8" text-anchor="end" fill="#777" >10</text>
<text x="133" y="847.5" font-size="2.8" text-anchor="middle" fill="#777" >10</text>
<text x="109.9" y="852.5" font-size="3.4" text-anchor="middle" fill="#555" >FL1-H</text>
<text transform="translate(76.8 823.6) rotate(-90)" font-size="3.4" text-anchor="middle" fill="#555">FL2-H</text>
<text x="171" y="802.4" font-size="3.3" text-anchor="middle" fill="#666" >Data.009</text>
<g>
<path d="M152.3 833.5h0.6v0.6h-0.6zM156.0 827.2h0.6v0.6h-0.6zM166.9 829.4h0.6v0.6h-0.6zM167.0 838.2h0.6v0.6h-0.6zM162.0 834.4h0.6v0.6h-0.6zM165.5 833.7h0.6v0.6h-0.6zM163.7 830.5h0.6v0.6h-0.6zM162.5 840.0h0.6v0.6h-0.6zM150.9 840.4h0.6v0.6h-0.6zM155.6 826.9h0.6v0.6h-0.6z" fill="#dadada"/>
</g>
<ellipse cx="178.16" cy="819.62" rx="6" ry="2" transform="rotate(-50 178.16 819.62)" fill="#666" filter="url(#b05)"/>
<ellipse cx="178.16" cy="819.62" rx="10" ry="4.8" transform="rotate(-50 178.16 819.62)" fill="none" stroke="#666" stroke-width="0.6"/>
<ellipse cx="178.16" cy="819.62" rx="8.2" ry="3.74" transform="rotate(-50 178.16 819.62)" fill="none" stroke="#888" stroke-width="0.45"/>
<line x1="172.39" y1="803.7" x2="172.39" y2="843.5" stroke="#bcbcbc" stroke-width="1.2" />
<line x1="147.9" y1="824.4" x2="194.1" y2="824.4" stroke="#bcbcbc" stroke-width="1.2" />
<rect x="147.9" y="803.7" width="46.2" height="39.8" fill="none" stroke="#939393" stroke-width="1.4"/>
<text x="149.8" y="808.8" font-size="4.75" text-anchor="start" font-weight="normal" fill="#2a2a2a" >Vβ11</text>
<text x="192.6" y="808.8" font-size="4.75" text-anchor="end" font-weight="normal" fill="#2a2a2a" >Vβ22</text>
<text x="192.6" y="840.5" font-size="4.75" text-anchor="end" font-weight="normal" fill="#2a2a2a" >Vβ14</text>
<text x="145.5" y="844.5" font-size="2.8" text-anchor="end" fill="#777" >10</text>
<text x="147.9" y="847.5" font-size="2.8" text-anchor="middle" fill="#777" >10</text>
<text x="145.5" y="834.55" font-size="2.8" text-anchor="end" fill="#777" >10</text>
<text x="159.45" y="847.5" font-size="2.8" text-anchor="middle" fill="#777" >10</text>
<text x="145.5" y="824.6" font-size="2.8" text-anchor="end" fill="#777" >10</text>
<text x="171" y="847.5" font-size="2.8" text-anchor="middle" fill="#777" >10</text>
<text x="145.5" y="814.65" font-size="2.8" text-anchor="end" fill="#777" >10</text>
<text x="182.55" y="847.5" font-size="2.8" text-anchor="middle" fill="#777" >10</text>
<text x="145.5" y="804.7" font-size="2.8" text-anchor="end" fill="#777" >10</text>
<text x="194.1" y="847.5" font-size="2.8" text-anchor="middle" fill="#777" >10</text>
<text x="171" y="852.5" font-size="3.4" text-anchor="middle" fill="#555" >FL1-H</text>
<text transform="translate(137.9 823.6) rotate(-90)" font-size="3.4" text-anchor="middle" fill="#555">FL2-H</text>
<text x="231.9" y="802.4" font-size="3.3" text-anchor="middle" fill="#666" >Data.010</text>
<g>
<polygon points="211.85,830.53 216.93,828.81 224.79,826.15 231.9,824.2 229.31,829.37 227.05,834.03 225.94,840.36 221.41,841.19 215.78,838.64 211.85,835.18" fill="#d4d4d4" filter="url(#b1)"/>
<path d="M216.5 829.9h0.6v0.6h-0.6zM225.5 829.5h0.6v0.6h-0.6zM226.2 825.1h0.6v0.6h-0.6zM223.9 837.6h0.6v0.6h-0.6zM213.2 830.7h0.6v0.6h-0.6zM225.4 834.5h0.6v0.6h-0.6zM222.2 836.1h0.6v0.6h-0.6zM221.8 830.5h0.6v0.6h-0.6zM220.2 830.6h0.6v0.6h-0.6zM213.9 832.2h0.6v0.6h-0.6zM216.3 834.4h0.6v0.6h-0.6zM213.9 835.9h0.6v0.6h-0.6zM226.4 826.6h0.6v0.6h-0.6zM219.2 831.8h0.6v0.6h-0.6zM214.2 831.8h0.6v0.6h-0.6zM222.2 839.2h0.6v0.6h-0.6zM215.5 834.8h0.6v0.6h-0.6zM221.7 829.7h0.6v0.6h-0.6zM221.1 839.0h0.6v0.6h-0.6zM217.3 833.5h0.6v0.6h-0.6zM224.1 831.6h0.6v0.6h-0.6zM215.5 832.8h0.6v0.6h-0.6zM223.0 834.5h0.6v0.6h-0.6zM213.3 835.7h0.6v0.6h-0.6zM213.5 833.6h0.6v0.6h-0.6zM220.7 831.9h0.6v0.6h-0.6zM227.7 836.1h0.6v0.6h-0.6zM213.8 831.1h0.6v0.6h-0.6zM224.6 840.6h0.6v0.6h-0.6zM231.9 828.9h0.6v0.6h-0.6zM226.1 836.8h0.6v0.6h-0.6zM225.6 839.3h0.6v0.6h-0.6zM221.5 832.8h0.6v0.6h-0.6zM219.0 839.7h0.6v0.6h-0.6zM221.2 839.8h0.6v0.6h-0.6zM218.6 837.1h0.6v0.6h-0.6zM212.7 832.1h0.6v0.6h-0.6zM225.5 826.1h0.6v0.6h-0.6zM225.1 833.8h0.6v0.6h-0.6zM217.6 840.9h0.6v0.6h-0.6zM221.3 833.0h0.6v0.6h-0.6zM222.4 838.2h0.6v0.6h-0.6zM222.0 840.3h0.6v0.6h-0.6zM218.5 837.9h0.6v0.6h-0.6zM218.0 835.2h0.6v0.6h-0.6zM220.9 833.3h0.6v0.6h-0.6zM217.2 838.3h0.6v0.6h-0.6zM227.4 830.9h0.6v0.6h-0.6zM223.5 838.0h0.6v0.6h-0.6zM229.7 827.6h0.6v0.6h-0.6zM224.1 839.3h0.6v0.6h-0.6zM225.0 830.4h0.6v0.6h-0.6zM224.3 830.0h0.6v0.6h-0.6zM217.5 833.2h0.6v0.6h-0.6zM226.2 834.7h0.6v0.6h-0.6zM219.5 830.1h0.6v0.6h-0.6zM219.5 837.4h0.6v0.6h-0.6zM220.4 837.3h0.6v0.6h-0.6zM219.4 826.7h0.6v0.6h-0.6zM220.0 834.9h0.6v0.6h-0.6zM219.4 830.9h0.6v0.6h-0.6zM227.2 828.0h0.6v0.6h-0.6zM218.2 832.8h0.6v0.6h-0.6zM215.1 831.2h0.6v0.6h-0.6zM228.2 832.8h0.6v0.6h-0.6zM218.0 834.2h0.6v0.6h-0.6zM215.0 830.2h0.6v0.6h-0.6zM223.4 829.7h0.6v0.6h-0.6zM223.0 830.7h0.6v0.6h-0.6zM224.4 838.2h0.6v0.6h-0.6zM219.0 828.9h0.6v0.6h-0.6zM226.7 834.2h0.6v0.6h-0.6zM217.5 836.9h0.6v0.6h-0.6zM215.6 837.4h0.6v0.6h-0.6zM221.6 831.5h0.6v0.6h-0.6zM219.3 833.4h0.6v0.6h-0.6zM223.9 827.7h0.6v0.6h-0.6zM218.8 831.9h0.6v0.6h-0.6zM218.4 832.5h0.6v0.6h-0.6zM225.1 827.4h0.6v0.6h-0.6zM218.2 831.5h0.6v0.6h-0.6zM220.2 830.3h0.6v0.6h-0.6zM217.9 833.8h0.6v0.6h-0.6zM219.1 829.3h0.6v0.6h-0.6zM217.6 832.0h0.6v0.6h-0.6zM225.7 828.4h0.6v0.6h-0.6zM220.2 832.7h0.6v0.6h-0.6zM224.3 832.0h0.6v0.6h-0.6zM215.5 835.0h0.6v0.6h-0.6zM218.1 835.0h0.6v0.6h-0.6zM217.3 832.1h0.6v0.6h-0.6zM223.8 826.6h0.6v0.6h-0.6zM225.6 835.7h0.6v0.6h-0.6zM225.3 835.0h0.6v0.6h-0.6zM220.0 839.7h0.6v0.6h-0.6zM222.7 829.5h0.6v0.6h-0.6zM221.8 832.1h0.6v0.6h-0.6zM213.9 836.5h0.6v0.6h-0.6zM219.4 838.5h0.6v0.6h-0.6zM212.4 832.8h0.6v0.6h-0.6zM226.6 833.4h0.6v0.6h-0.6zM213.3 834.9h0.6v0.6h-0.6zM222.5 837.5h0.6v0.6h-0.6zM218.8 837.1h0.6v0.6h-0.6zM226.9 830.7h0.6v0.6h-0.6zM212.2 834.7h0.6v0.6h-0.6zM215.2 831.4h0.6v0.6h-0.6zM226.6 824.7h0.6v0.6h-0.6zM225.8 839.8h0.6v0.6h-0.6zM222.1 828.1h0.6v0.6h-0.6z" fill="#9c9c9c"/>
<polygon points="217.49,829.97 230.51,825.39 227.28,833.95 225.43,839.12 221.27,839.72 218.04,835.14" fill="url(#coreg)" filter="url(#b07)"/>
<path d="M226.5 832.8h0.6v0.6h-0.6zM221.9 838.0h0.6v0.6h-0.6zM228.2 828.2h0.6v0.6h-0.6zM222.3 832.0h0.6v0.6h-0.6zM231.9 826.0h0.6v0.6h-0.6zM222.9 837.1h0.6v0.6h-0.6zM227.4 828.0h0.6v0.6h-0.6zM228.7 829.0h0.6v0.6h-0.6zM218.2 833.3h0.6v0.6h-0.6zM222.5 831.5h0.6v0.6h-0.6zM226.8 829.4h0.6v0.6h-0.6zM226.4 831.1h0.6v0.6h-0.6zM225.4 836.3h0.6v0.6h-0.6zM224.5 832.2h0.6v0.6h-0.6zM222.3 829.6h0.6v0.6h-0.6zM222.8 837.7h0.6v0.6h-0.6zM223.3 836.8h0.6v0.6h-0.6zM225.3 833.7h0.6v0.6h-0.6zM228.0 828.4h0.6v0.6h-0.6zM225.8 837.8h0.6v0.6h-0.6zM228.5 826.4h0.6v0.6h-0.6zM222.2 837.6h0.6v0.6h-0.6zM228.2 830.0h0.6v0.6h-0.6zM226.7 827.5h0.6v0.6h-0.6zM221.7 836.2h0.6v0.6h-0.6zM227.9 827.9h0.6v0.6h-0.6zM223.6 827.1h0.6v0.6h-0.6zM226.8 833.4h0.6v0.6h-0.6zM221.6 836.6h0.6v0.6h-0.6zM218.8 834.6h0.6v0.6h-0.6zM222.8 831.7h0.6v0.6h-0.6zM221.6 833.8h0.6v0.6h-0.6zM225.1 828.2h0.6v0.6h-0.6zM219.3 836.8h0.6v0.6h-0.6zM218.8 831.9h0.6v0.6h-0.6zM225.5 828.8h0.6v0.6h-0.6zM225.9 833.4h0.6v0.6h-0.6zM224.9 831.3h0.6v0.6h-0.6zM222.6 833.3h0.6v0.6h-0.6zM229.1 827.5h0.6v0.6h-0.6zM224.4 837.8h0.6v0.6h-0.6zM222.1 830.6h0.6v0.6h-0.6zM225.3 828.4h0.6v0.6h-0.6zM221.0 833.5h0.6v0.6h-0.6zM218.9 831.1h0.6v0.6h-0.6zM222.8 831.6h0.6v0.6h-0.6zM225.3 828.8h0.6v0.6h-0.6zM222.4 838.0h0.6v0.6h-0.6zM221.0 835.4h0.6v0.6h-0.6zM221.9 836.7h0.6v0.6h-0.6zM221.2 827.4h0.6v0.6h-0.6zM220.2 830.1h0.6v0.6h-0.6zM224.9 830.7h0.6v0.6h-0.6zM224.9 838.6h0.6v0.6h-0.6zM224.4 832.8h0.6v0.6h-0.6zM222.4 833.9h0.6v0.6h-0.6zM226.3 831.2h0.6v0.6h-0.6zM224.9 828.1h0.6v0.6h-0.6zM228.6 830.1h0.6v0.6h-0.6zM222.4 834.7h0.6v0.6h-0.6z" fill="#505050"/>
<polygon points="224.51,826.78 227.28,818.82 230.05,814.84 231.9,816.44 230.51,823.6 228.2,827.58" fill="#dcdcdc" filter="url(#b1)"/>
<path d="M226.1 823.4h0.6v0.6h-0.6zM229.3 824.1h0.6v0.6h-0.6zM228.0 821.1h0.6v0.6h-0.6zM230.3 823.0h0.6v0.6h-0.6zM227.3 820.0h0.6v0.6h-0.6zM227.8 824.3h0.6v0.6h-0.6zM227.1 822.8h0.6v0.6h-0.6zM229.6 813.2h0.6v0.6h-0.6zM230.4 817.7h0.6v0.6h-0.6zM229.9 816.5h0.6v0.6h-0.6zM226.7 821.3h0.6v0.6h-0.6zM228.1 824.0h0.6v0.6h-0.6zM229.1 821.7h0.6v0.6h-0.6zM227.6 826.1h0.6v0.6h-0.6zM230.0 817.7h0.6v0.6h-0.6zM229.4 822.4h0.6v0.6h-0.6zM228.3 819.4h0.6v0.6h-0.6zM230.1 815.1h0.6v0.6h-0.6zM224.8 826.5h0.6v0.6h-0.6zM229.5 819.3h0.6v0.6h-0.6z" fill="#a0a0a0"/>
</g>
<line x1="233.29" y1="803.7" x2="233.29" y2="843.5" stroke="#bcbcbc" stroke-width="1.2" />
<line x1="208.8" y1="824.4" x2="255" y2="824.4" stroke="#bcbcbc" stroke-width="1.2" />
<rect x="208.8" y="803.7" width="46.2" height="39.8" fill="none" stroke="#939393" stroke-width="1.4"/>
<text x="210.7" y="808.8" font-size="4.75" text-anchor="start" font-weight="normal" fill="#2a2a2a" >Vβ13.2</text>
<text x="253.5" y="808.8" font-size="4.75" text-anchor="end" font-weight="normal" fill="#2a2a2a" >Vβ4</text>
<text x="253.5" y="840.5" font-size="4.75" text-anchor="end" font-weight="normal" fill="#2a2a2a" >Vβ7.2</text>
<text x="206.4" y="844.5" font-size="2.8" text-anchor="end" fill="#777" >10</text>
<text x="208.8" y="847.5" font-size="2.8" text-anchor="middle" fill="#777" >10</text>
<text x="206.4" y="834.55" font-size="2.8" text-anchor="end" fill="#777" >10</text>
<text x="220.35" y="847.5" font-size="2.8" text-anchor="middle" fill="#777" >10</text>
<text x="206.4" y="824.6" font-size="2.8" text-anchor="end" fill="#777" >10</text>
<text x="231.9" y="847.5" font-size="2.8" text-anchor="middle" fill="#777" >10</text>
<text x="206.4" y="814.65" font-size="2.8" text-anchor="end" fill="#777" >10</text>
<text x="243.45" y="847.5" font-size="2.8" text-anchor="middle" fill="#777" >10</text>
<text x="206.4" y="804.7" font-size="2.8" text-anchor="end" fill="#777" >10</text>
<text x="255" y="847.5" font-size="2.8" text-anchor="middle" fill="#777" >10</text>
<text x="231.9" y="852.5" font-size="3.4" text-anchor="middle" fill="#555" >FL1-H</text>
<text transform="translate(198.8 823.6) rotate(-90)" font-size="3.4" text-anchor="middle" fill="#555">FL2-H</text>
<text x="12.5" y="868.6" font-size="11" text-anchor="start" font-weight="bold" fill="#000" >E</text>
<polygon points="41.14,907.05 41.14,873.73 44.27,870.67 83.16,870.67 83.16,885.22 75.56,885.99 68.86,889.05 63.04,894.8 58.57,900.54 55.44,907.05" fill="#dedede" filter="url(#b2)"/>
<polygon points="41.59,907.05 42.03,890.97 45.16,881.39 49.63,872.96 55.44,870.67 66.62,870.67 64.39,879.48 59.91,887.14 55.44,894.8 52.32,900.54 49.63,907.05" fill="#b0b0b0" filter="url(#b1)"/>
<polygon points="43.38,904.37 44.27,890.97 48.74,881.39 54.1,873.73 58.57,874.5 56.79,883.31 52.32,892.88 47.85,904.37" fill="#979797" filter="url(#b1)"/>
<path d="M56.7 877.0h0.6v0.6h-0.6zM48.4 896.7h0.6v0.6h-0.6zM53.3 872.7h0.6v0.6h-0.6zM56.7 886.9h0.6v0.6h-0.6zM57.3 877.6h0.6v0.6h-0.6zM45.7 887.7h0.6v0.6h-0.6zM68.8 872.7h0.6v0.6h-0.6zM61.0 875.5h0.6v0.6h-0.6zM67.0 882.5h0.6v0.6h-0.6zM56.6 871.6h0.6v0.6h-0.6zM48.5 893.8h0.6v0.6h-0.6zM76.7 874.0h0.6v0.6h-0.6zM55.8 897.9h0.6v0.6h-0.6zM61.4 886.3h0.6v0.6h-0.6zM65.1 873.1h0.6v0.6h-0.6zM60.8 880.4h0.6v0.6h-0.6zM46.4 889.9h0.6v0.6h-0.6zM70.2 885.6h0.6v0.6h-0.6zM57.4 882.4h0.6v0.6h-0.6zM50.0 900.8h0.6v0.6h-0.6zM79.4 879.8h0.6v0.6h-0.6zM65.2 887.2h0.6v0.6h-0.6zM44.7 898.4h0.6v0.6h-0.6zM81.3 879.1h0.6v0.6h-0.6zM43.7 901.6h0.6v0.6h-0.6zM43.6 896.5h0.6v0.6h-0.6zM46.8 897.3h0.6v0.6h-0.6zM62.9 886.8h0.6v0.6h-0.6zM71.9 884.2h0.6v0.6h-0.6zM60.4 881.2h0.6v0.6h-0.6zM49.2 880.8h0.6v0.6h-0.6zM51.4 876.1h0.6v0.6h-0.6zM79.9 883.9h0.6v0.6h-0.6zM78.2 881.9h0.6v0.6h-0.6zM56.3 897.0h0.6v0.6h-0.6zM42.6 888.8h0.6v0.6h-0.6zM59.4 871.3h0.6v0.6h-0.6zM50.1 900.0h0.6v0.6h-0.6zM56.7 895.7h0.6v0.6h-0.6zM68.5 874.1h0.6v0.6h-0.6zM41.1 871.9h0.6v0.6h-0.6zM52.0 892.1h0.6v0.6h-0.6zM69.6 880.1h0.6v0.6h-0.6zM62.9 882.0h0.6v0.6h-0.6zM65.9 872.8h0.6v0.6h-0.6zM48.4 891.1h0.6v0.6h-0.6zM47.4 886.6h0.6v0.6h-0.6zM51.0 894.6h0.6v0.6h-0.6zM60.0 890.9h0.6v0.6h-0.6zM55.1 880.2h0.6v0.6h-0.6zM73.9 881.6h0.6v0.6h-0.6zM66.8 879.3h0.6v0.6h-0.6zM81.5 871.7h0.6v0.6h-0.6zM57.3 895.8h0.6v0.6h-0.6zM67.1 872.0h0.6v0.6h-0.6zM57.8 889.2h0.6v0.6h-0.6zM65.2 879.3h0.6v0.6h-0.6zM79.8 871.0h0.6v0.6h-0.6zM56.4 877.3h0.6v0.6h-0.6zM66.7 884.5h0.6v0.6h-0.6zM82.1 877.9h0.6v0.6h-0.6zM51.2 906.0h0.6v0.6h-0.6zM72.6 886.0h0.6v0.6h-0.6zM56.2 898.4h0.6v0.6h-0.6zM45.5 898.0h0.6v0.6h-0.6zM49.2 901.4h0.6v0.6h-0.6zM42.0 905.8h0.6v0.6h-0.6zM71.0 885.4h0.6v0.6h-0.6zM45.2 903.2h0.6v0.6h-0.6zM72.5 878.4h0.6v0.6h-0.6zM58.7 896.4h0.6v0.6h-0.6zM56.0 878.9h0.6v0.6h-0.6zM50.4 888.2h0.6v0.6h-0.6zM68.9 874.0h0.6v0.6h-0.6zM48.3 873.9h0.6v0.6h-0.6zM55.9 905.2h0.6v0.6h-0.6zM71.1 871.4h0.6v0.6h-0.6zM81.1 879.6h0.6v0.6h-0.6zM62.8 889.5h0.6v0.6h-0.6zM47.1 888.4h0.6v0.6h-0.6zM54.4 887.3h0.6v0.6h-0.6zM77.0 878.8h0.6v0.6h-0.6zM56.1 903.1h0.6v0.6h-0.6zM69.2 888.4h0.6v0.6h-0.6zM49.7 884.2h0.6v0.6h-0.6zM45.0 902.8h0.6v0.6h-0.6zM46.1 885.7h0.6v0.6h-0.6zM45.5 875.4h0.6v0.6h-0.6zM51.5 893.7h0.6v0.6h-0.6zM41.6 903.9h0.6v0.6h-0.6zM58.8 875.5h0.6v0.6h-0.6zM43.3 889.9h0.6v0.6h-0.6zM55.0 888.9h0.6v0.6h-0.6zM43.6 882.9h0.6v0.6h-0.6zM62.4 871.8h0.6v0.6h-0.6zM44.6 894.2h0.6v0.6h-0.6zM42.4 874.2h0.6v0.6h-0.6zM51.7 873.3h0.6v0.6h-0.6zM80.9 874.3h0.6v0.6h-0.6zM66.1 882.0h0.6v0.6h-0.6zM71.8 874.1h0.6v0.6h-0.6zM61.2 875.9h0.6v0.6h-0.6zM61.4 895.2h0.6v0.6h-0.6zM73.2 881.7h0.6v0.6h-0.6zM51.0 897.5h0.6v0.6h-0.6zM54.2 875.4h0.6v0.6h-0.6zM69.6 872.9h0.6v0.6h-0.6zM61.9 879.7h0.6v0.6h-0.6zM57.5 895.2h0.6v0.6h-0.6zM56.8 877.0h0.6v0.6h-0.6zM44.6 876.6h0.6v0.6h-0.6zM48.3 898.9h0.6v0.6h-0.6zM50.3 904.8h0.6v0.6h-0.6zM58.0 876.3h0.6v0.6h-0.6zM58.1 874.1h0.6v0.6h-0.6zM47.0 905.2h0.6v0.6h-0.6zM74.2 886.5h0.6v0.6h-0.6zM78.6 880.1h0.6v0.6h-0.6zM57.0 892.0h0.6v0.6h-0.6zM64.6 876.2h0.6v0.6h-0.6zM78.4 875.8h0.6v0.6h-0.6zM74.7 876.4h0.6v0.6h-0.6zM66.0 879.6h0.6v0.6h-0.6zM74.3 871.1h0.6v0.6h-0.6zM70.5 878.9h0.6v0.6h-0.6zM73.7 884.0h0.6v0.6h-0.6zM48.0 904.9h0.6v0.6h-0.6zM69.9 882.7h0.6v0.6h-0.6zM41.9 895.0h0.6v0.6h-0.6zM41.3 878.2h0.6v0.6h-0.6zM67.1 874.1h0.6v0.6h-0.6zM47.3 871.9h0.6v0.6h-0.6zM51.7 889.9h0.6v0.6h-0.6zM66.1 874.0h0.6v0.6h-0.6zM55.7 900.9h0.6v0.6h-0.6zM54.2 906.8h0.6v0.6h-0.6zM54.4 894.1h0.6v0.6h-0.6zM50.6 898.0h0.6v0.6h-0.6zM51.9 885.7h0.6v0.6h-0.6zM46.7 877.1h0.6v0.6h-0.6zM76.7 878.0h0.6v0.6h-0.6zM66.9 879.0h0.6v0.6h-0.6zM76.1 877.1h0.6v0.6h-0.6zM59.4 896.4h0.6v0.6h-0.6zM49.0 895.6h0.6v0.6h-0.6zM46.1 878.0h0.6v0.6h-0.6zM42.5 872.9h0.6v0.6h-0.6zM57.0 880.3h0.6v0.6h-0.6zM66.4 876.5h0.6v0.6h-0.6zM41.5 877.4h0.6v0.6h-0.6zM56.2 882.5h0.6v0.6h-0.6zM45.6 873.1h0.6v0.6h-0.6zM49.0 889.9h0.6v0.6h-0.6zM51.1 888.4h0.6v0.6h-0.6zM62.2 879.2h0.6v0.6h-0.6zM44.0 885.5h0.6v0.6h-0.6zM76.9 874.0h0.6v0.6h-0.6zM54.9 906.4h0.6v0.6h-0.6zM61.4 886.8h0.6v0.6h-0.6zM44.7 875.6h0.6v0.6h-0.6zM50.0 872.3h0.6v0.6h-0.6zM60.0 889.7h0.6v0.6h-0.6zM49.1 904.9h0.6v0.6h-0.6zM58.4 885.0h0.6v0.6h-0.6zM61.3 885.7h0.6v0.6h-0.6zM61.1 880.9h0.6v0.6h-0.6zM50.7 900.0h0.6v0.6h-0.6zM55.0 894.0h0.6v0.6h-0.6zM52.8 873.0h0.6v0.6h-0.6zM67.4 875.5h0.6v0.6h-0.6zM41.1 903.0h0.6v0.6h-0.6zM50.5 884.7h0.6v0.6h-0.6zM82.5 879.5h0.6v0.6h-0.6zM50.3 873.4h0.6v0.6h-0.6zM54.1 872.6h0.6v0.6h-0.6zM41.2 905.7h0.6v0.6h-0.6zM50.1 899.9h0.6v0.6h-0.6zM48.2 879.5h0.6v0.6h-0.6zM45.0 890.3h0.6v0.6h-0.6zM51.9 891.8h0.6v0.6h-0.6zM72.3 877.6h0.6v0.6h-0.6zM44.7 889.5h0.6v0.6h-0.6zM57.4 886.7h0.6v0.6h-0.6zM55.9 875.1h0.6v0.6h-0.6zM44.3 898.2h0.6v0.6h-0.6zM62.8 876.4h0.6v0.6h-0.6zM50.8 883.8h0.6v0.6h-0.6zM44.4 892.9h0.6v0.6h-0.6zM51.3 878.0h0.6v0.6h-0.6zM52.8 884.6h0.6v0.6h-0.6zM69.0 885.1h0.6v0.6h-0.6zM79.3 874.7h0.6v0.6h-0.6zM57.2 878.9h0.6v0.6h-0.6zM52.6 904.6h0.6v0.6h-0.6zM46.3 875.4h0.6v0.6h-0.6zM52.8 885.5h0.6v0.6h-0.6zM56.6 887.2h0.6v0.6h-0.6zM44.7 899.5h0.6v0.6h-0.6zM64.0 887.5h0.6v0.6h-0.6zM44.5 891.1h0.6v0.6h-0.6z" fill="#a8a8a8"/>
<polygon points="64.65,900.69 67.02,894.11 74.58,889.89 83.07,888.02 83.56,892.23 79.31,896.94 71.76,900.69 66.08,902.11" fill="#d8d8d8" filter="url(#b05)"/>
<polygon points="67.51,899.77 69.3,895.18 75.11,891.73 81.82,890.2 82.27,892.88 78.69,896.33 71.98,899.39 68.41,900.54" fill="#a8a8a8" filter="url(#b05)"/>
<polygon points="64.65,900.69 67.02,894.11 74.58,889.89 83.07,888.02 83.56,892.23 79.31,896.94 71.76,900.69 66.08,902.11" fill="none" stroke="#3a3a3a" stroke-width="0.7" stroke-linejoin="round"/>
<polygon points="67.51,899.77 69.3,895.18 75.11,891.73 81.82,890.2 82.27,892.88 78.69,896.33 71.98,899.39 68.41,900.54" fill="none" stroke="#555" stroke-width="0.5" stroke-linejoin="round"/>
<rect x="39.8" y="869.9" width="44.7" height="38.3" fill="none" stroke="#606060" stroke-width="1.3"/>
<text x="62.15" y="868.7" font-size="3.3" text-anchor="middle" fill="#777" >Data.021</text>
<line x1="25.9" y1="917.5" x2="25.9" y2="868.8" stroke="#444" stroke-width="0.9" />
<line x1="25.9" y1="917.5" x2="83" y2="917.5" stroke="#444" stroke-width="0.9" />
<circle cx="25.9" cy="868.9" r="1.2" fill="#222"/>
<circle cx="83.3" cy="917.5" r="1.2" fill="#222"/>
<text x="37.8" y="909.2" font-size="3.0" text-anchor="end" fill="#888" >0</text>
<text x="41.3" y="912.7" font-size="3.0" text-anchor="middle" fill="#888" >0</text>
<text x="37.8" y="901.84" font-size="3.0" text-anchor="end" fill="#888" >200</text>
<text x="49.64" y="912.7" font-size="3.0" text-anchor="middle" fill="#888" >200</text>
<text x="37.8" y="894.48" font-size="3.0" text-anchor="end" fill="#888" >400</text>
<text x="57.98" y="912.7" font-size="3.0" text-anchor="middle" fill="#888" >400</text>
<text x="37.8" y="887.12" font-size="3.0" text-anchor="end" fill="#888" >600</text>
<text x="66.32" y="912.7" font-size="3.0" text-anchor="middle" fill="#888" >600</text>
<text x="37.8" y="879.76" font-size="3.0" text-anchor="end" fill="#888" >800</text>
<text x="74.66" y="912.7" font-size="3.0" text-anchor="middle" fill="#888" >800</text>
<text x="37.8" y="872.4" font-size="3.0" text-anchor="end" fill="#888" >1000</text>
<text x="83" y="912.7" font-size="3.0" text-anchor="middle" fill="#888" >1000</text>
<text x="62.15" y="916.5" font-size="3.3" text-anchor="middle" fill="#777" >FSC-H</text>
<text x="61.15" y="921.9" font-size="3.6" text-anchor="middle" fill="#444" >FSC</text>
<text transform="translate(22.9 889.3) rotate(-90)" font-size="3.6" text-anchor="middle" fill="#444">SSC</text>
<text transform="translate(29.9 889.3) rotate(-90)" font-size="3.0" text-anchor="middle" fill="#888">SSC-H</text>
<ellipse cx="142.6" cy="898.8" rx="2.4" ry="5" fill="#cfcfcf" filter="url(#b05)"/>
<ellipse cx="142.8" cy="898.3" rx="1.2" ry="1.5" fill="#777" filter="url(#b05)"/>
<rect x="136.5" y="884.6" width="10.5" height="23.4" fill="none" stroke="#8a8a8a" stroke-width="0.8"/>
<rect x="101.2" y="869.9" width="45.8" height="38.3" fill="none" stroke="#606060" stroke-width="1.3"/>
<text x="124.1" y="868.7" font-size="3.3" text-anchor="middle" fill="#777" >Data.022</text>
<text x="99.2" y="909.2" font-size="3.0" text-anchor="end" fill="#888" >0</text>
<text x="99.2" y="901.84" font-size="3.0" text-anchor="end" fill="#888" >200</text>
<text x="99.2" y="894.48" font-size="3.0" text-anchor="end" fill="#888" >400</text>
<text x="99.2" y="887.12" font-size="3.0" text-anchor="end" fill="#888" >600</text>
<text x="99.2" y="879.76" font-size="3.0" text-anchor="end" fill="#888" >800</text>
<text x="99.2" y="872.4" font-size="3.0" text-anchor="end" fill="#888" >1000</text>
<text x="102.7" y="912.7" font-size="3.0" text-anchor="middle" fill="#888" >10</text>
<text x="113.4" y="912.7" font-size="3.0" text-anchor="middle" fill="#888" >10</text>
<text x="124.1" y="912.7" font-size="3.0" text-anchor="middle" fill="#888" >10</text>
<text x="134.8" y="912.7" font-size="3.0" text-anchor="middle" fill="#888" >10</text>
<text x="145.5" y="912.7" font-size="3.0" text-anchor="middle" fill="#888" >10</text>
<text x="124.1" y="916.5" font-size="3.3" text-anchor="middle" fill="#777" >FL3-H</text>
<line x1="97" y1="917.5" x2="145.5" y2="917.5" stroke="#444" stroke-width="0.9" />
<circle cx="145.7" cy="917.5" r="1.2" fill="#222"/>
<text x="123.5" y="921.9" font-size="3.6" text-anchor="middle" fill="#444" >CD4</text>
<text transform="translate(91.7 889.3) rotate(-90)" font-size="3.0" text-anchor="middle" fill="#888">SSC-H</text>
<text x="154.9" y="886" font-size="5.4" fill="#333"><tspan font-style="italic">rh</tspan>Epo-reactive TCL YS34</text>
<text x="154.9" y="892.2" font-size="5.4" text-anchor="start" font-weight="normal" fill="#333" >derived from</text>
<text x="154.9" y="898.3" font-size="5.4" text-anchor="start" font-weight="normal" fill="#333" >HLA-DRB1*09:01-negative donor 2</text>
<text x="49.1" y="926.1" font-size="3.3" text-anchor="middle" fill="#666" >Data.023</text>
<g>
<polygon points="29.93,953.27 35.24,951.08 47.95,948.1 45.4,956.85 40.78,960.83 32.93,956.06" fill="#cfcfcf" filter="url(#b1)"/>
<path d="M40.7 958.2h0.6v0.6h-0.6zM34.7 953.0h0.6v0.6h-0.6zM34.4 952.7h0.6v0.6h-0.6zM37.2 951.3h0.6v0.6h-0.6zM32.1 951.5h0.6v0.6h-0.6zM43.5 954.4h0.6v0.6h-0.6zM35.8 950.8h0.6v0.6h-0.6zM31.8 954.6h0.6v0.6h-0.6zM46.2 953.5h0.6v0.6h-0.6zM43.4 957.8h0.6v0.6h-0.6zM37.5 954.8h0.6v0.6h-0.6zM35.8 957.5h0.6v0.6h-0.6zM41.6 953.2h0.6v0.6h-0.6zM46.3 952.4h0.6v0.6h-0.6zM44.0 955.3h0.6v0.6h-0.6zM45.7 949.0h0.6v0.6h-0.6zM37.1 957.1h0.6v0.6h-0.6zM43.1 950.7h0.6v0.6h-0.6zM36.5 957.7h0.6v0.6h-0.6zM43.0 949.4h0.6v0.6h-0.6zM46.6 946.9h0.6v0.6h-0.6zM38.7 952.2h0.6v0.6h-0.6zM45.9 948.8h0.6v0.6h-0.6zM31.2 953.3h0.6v0.6h-0.6zM39.9 960.5h0.6v0.6h-0.6zM42.5 957.4h0.6v0.6h-0.6zM47.2 948.6h0.6v0.6h-0.6zM31.8 954.5h0.6v0.6h-0.6zM32.0 954.6h0.6v0.6h-0.6zM40.8 952.9h0.6v0.6h-0.6zM36.2 950.3h0.6v0.6h-0.6zM43.3 953.4h0.6v0.6h-0.6zM39.8 954.3h0.6v0.6h-0.6zM34.1 953.0h0.6v0.6h-0.6zM33.9 953.7h0.6v0.6h-0.6zM38.9 954.0h0.6v0.6h-0.6zM32.3 955.0h0.6v0.6h-0.6zM35.6 955.2h0.6v0.6h-0.6zM45.9 948.6h0.6v0.6h-0.6zM33.0 956.0h0.6v0.6h-0.6zM43.8 955.7h0.6v0.6h-0.6zM40.9 951.1h0.6v0.6h-0.6zM40.6 957.0h0.6v0.6h-0.6zM44.8 957.1h0.6v0.6h-0.6zM40.7 956.5h0.6v0.6h-0.6zM32.0 954.9h0.6v0.6h-0.6zM43.3 951.2h0.6v0.6h-0.6zM43.9 952.7h0.6v0.6h-0.6zM45.9 952.9h0.6v0.6h-0.6zM44.6 950.8h0.6v0.6h-0.6zM38.1 953.5h0.6v0.6h-0.6zM41.7 951.9h0.6v0.6h-0.6zM44.5 956.8h0.6v0.6h-0.6zM41.4 955.5h0.6v0.6h-0.6zM36.5 955.0h0.6v0.6h-0.6zM37.0 951.4h0.6v0.6h-0.6zM40.4 959.1h0.6v0.6h-0.6zM35.3 957.1h0.6v0.6h-0.6zM42.9 955.3h0.6v0.6h-0.6zM40.8 951.4h0.6v0.6h-0.6zM39.6 951.2h0.6v0.6h-0.6zM43.0 953.5h0.6v0.6h-0.6zM45.8 952.4h0.6v0.6h-0.6zM39.9 954.9h0.6v0.6h-0.6zM31.6 955.0h0.6v0.6h-0.6zM40.0 952.5h0.6v0.6h-0.6zM40.3 956.9h0.6v0.6h-0.6zM38.0 952.0h0.6v0.6h-0.6zM47.3 949.9h0.6v0.6h-0.6zM34.2 954.9h0.6v0.6h-0.6z" fill="#9c9c9c"/>
<polygon points="34.78,951.92 47.39,948.53 45.17,955.9 42.35,957.61 36.72,954.78" fill="#575757" filter="url(#b07)"/>
<path d="M38.4 952.6h0.6v0.6h-0.6zM42.6 954.4h0.6v0.6h-0.6zM40.7 952.3h0.6v0.6h-0.6zM39.7 954.0h0.6v0.6h-0.6zM45.6 952.4h0.6v0.6h-0.6zM44.8 951.3h0.6v0.6h-0.6zM42.1 956.3h0.6v0.6h-0.6zM42.6 954.5h0.6v0.6h-0.6zM39.0 951.0h0.6v0.6h-0.6zM43.9 952.3h0.6v0.6h-0.6zM40.0 951.4h0.6v0.6h-0.6zM37.3 954.8h0.6v0.6h-0.6zM41.7 955.0h0.6v0.6h-0.6zM44.0 951.7h0.6v0.6h-0.6zM43.9 951.0h0.6v0.6h-0.6zM40.9 952.4h0.6v0.6h-0.6zM44.6 953.7h0.6v0.6h-0.6zM48.0 950.5h0.6v0.6h-0.6zM39.2 956.6h0.6v0.6h-0.6zM46.8 948.9h0.6v0.6h-0.6zM41.7 950.3h0.6v0.6h-0.6zM41.3 955.1h0.6v0.6h-0.6zM38.0 952.6h0.6v0.6h-0.6zM42.0 952.0h0.6v0.6h-0.6zM46.1 950.3h0.6v0.6h-0.6zM41.1 953.1h0.6v0.6h-0.6zM44.6 954.9h0.6v0.6h-0.6zM35.7 952.5h0.6v0.6h-0.6zM41.8 951.7h0.6v0.6h-0.6zM45.0 952.1h0.6v0.6h-0.6zM44.0 953.5h0.6v0.6h-0.6zM47.1 956.0h0.6v0.6h-0.6zM36.1 952.3h0.6v0.6h-0.6zM45.5 950.6h0.6v0.6h-0.6zM42.5 950.5h0.6v0.6h-0.6zM42.0 953.5h0.6v0.6h-0.6zM46.2 950.6h0.6v0.6h-0.6zM44.9 954.4h0.6v0.6h-0.6zM44.1 955.2h0.6v0.6h-0.6zM42.3 953.5h0.6v0.6h-0.6zM44.2 952.6h0.6v0.6h-0.6zM39.3 951.6h0.6v0.6h-0.6zM43.8 953.3h0.6v0.6h-0.6zM44.1 954.9h0.6v0.6h-0.6zM45.6 951.1h0.6v0.6h-0.6zM46.0 956.1h0.6v0.6h-0.6zM41.5 953.8h0.6v0.6h-0.6zM35.4 952.1h0.6v0.6h-0.6zM42.6 951.5h0.6v0.6h-0.6zM42.7 950.1h0.6v0.6h-0.6zM36.2 951.8h0.6v0.6h-0.6zM42.5 952.6h0.6v0.6h-0.6zM42.6 951.7h0.6v0.6h-0.6zM37.5 950.4h0.6v0.6h-0.6zM44.4 952.6h0.6v0.6h-0.6zM43.9 952.0h0.6v0.6h-0.6zM34.3 951.7h0.6v0.6h-0.6zM47.2 955.4h0.6v0.6h-0.6zM39.8 955.1h0.6v0.6h-0.6zM38.8 954.7h0.6v0.6h-0.6z" fill="#505050"/>
</g>
<line x1="49.56" y1="927.4" x2="49.56" y2="967.2" stroke="#bcbcbc" stroke-width="1.2" />
<line x1="26" y1="946.31" x2="72.2" y2="946.31" stroke="#bcbcbc" stroke-width="1.2" />
<rect x="26" y="927.4" width="46.2" height="39.8" fill="none" stroke="#939393" stroke-width="1.4"/>
<text x="27.9" y="932.5" font-size="4.75" text-anchor="start" font-weight="normal" fill="#2a2a2a" >Vβ5.3</text>
<text x="70.7" y="932.5" font-size="4.75" text-anchor="end" font-weight="normal" fill="#2a2a2a" >Vβ3</text>
<text x="70.7" y="964.2" font-size="4.75" text-anchor="end" font-weight="normal" fill="#2a2a2a" >Vβ7.1</text>
<text x="23.6" y="968.2" font-size="2.8" text-anchor="end" fill="#777" >10</text>
<text x="26" y="971.2" font-size="2.8" text-anchor="middle" fill="#777" >10</text>
<text x="23.6" y="958.25" font-size="2.8" text-anchor="end" fill="#777" >10</text>
<text x="37.55" y="971.2" font-size="2.8" text-anchor="middle" fill="#777" >10</text>
<text x="23.6" y="948.3" font-size="2.8" text-anchor="end" fill="#777" >10</text>
<text x="49.1" y="971.2" font-size="2.8" text-anchor="middle" fill="#777" >10</text>
<text x="23.6" y="938.35" font-size="2.8" text-anchor="end" fill="#777" >10</text>
<text x="60.65" y="971.2" font-size="2.8" text-anchor="middle" fill="#777" >10</text>
<text x="23.6" y="928.4" font-size="2.8" text-anchor="end" fill="#777" >10</text>
<text x="72.2" y="971.2" font-size="2.8" text-anchor="middle" fill="#777" >10</text>
<text x="49.1" y="976.2" font-size="3.4" text-anchor="middle" fill="#555" >FL1-H</text>
<text transform="translate(16 947.3) rotate(-90)" font-size="3.4" text-anchor="middle" fill="#555">FL2-H</text>
<text x="109.9" y="926.1" font-size="3.3" text-anchor="middle" fill="#666" >Data.024</text>
<g>
<polygon points="90.73,953.27 96.04,951.08 108.75,948.1 106.2,956.85 101.58,960.83 93.73,956.06" fill="#cfcfcf" filter="url(#b1)"/>
<path d="M101.0 956.2h0.6v0.6h-0.6zM107.4 957.1h0.6v0.6h-0.6zM100.8 956.2h0.6v0.6h-0.6zM104.6 952.7h0.6v0.6h-0.6zM102.4 951.0h0.6v0.6h-0.6zM89.2 954.2h0.6v0.6h-0.6zM99.5 958.5h0.6v0.6h-0.6zM104.6 956.0h0.6v0.6h-0.6zM102.8 959.0h0.6v0.6h-0.6zM101.7 958.9h0.6v0.6h-0.6zM97.8 957.9h0.6v0.6h-0.6zM95.8 951.2h0.6v0.6h-0.6zM91.9 953.0h0.6v0.6h-0.6zM110.1 950.7h0.6v0.6h-0.6zM104.2 952.3h0.6v0.6h-0.6zM103.5 957.6h0.6v0.6h-0.6zM97.3 950.9h0.6v0.6h-0.6zM105.6 958.6h0.6v0.6h-0.6zM94.0 954.5h0.6v0.6h-0.6zM106.0 956.9h0.6v0.6h-0.6zM93.7 954.6h0.6v0.6h-0.6zM101.6 956.8h0.6v0.6h-0.6zM104.8 948.9h0.6v0.6h-0.6zM101.5 951.1h0.6v0.6h-0.6zM95.0 953.2h0.6v0.6h-0.6zM105.2 952.3h0.6v0.6h-0.6zM104.3 949.3h0.6v0.6h-0.6zM103.3 958.6h0.6v0.6h-0.6zM103.8 952.8h0.6v0.6h-0.6zM100.1 952.7h0.6v0.6h-0.6zM101.1 957.9h0.6v0.6h-0.6zM103.2 951.1h0.6v0.6h-0.6zM104.2 950.2h0.6v0.6h-0.6zM96.8 954.1h0.6v0.6h-0.6zM100.1 956.0h0.6v0.6h-0.6zM106.7 954.9h0.6v0.6h-0.6zM99.5 958.2h0.6v0.6h-0.6zM99.1 955.8h0.6v0.6h-0.6zM107.3 951.6h0.6v0.6h-0.6zM95.6 956.6h0.6v0.6h-0.6zM100.9 958.3h0.6v0.6h-0.6zM110.3 949.7h0.6v0.6h-0.6zM93.1 953.6h0.6v0.6h-0.6zM105.3 952.1h0.6v0.6h-0.6zM102.8 959.1h0.6v0.6h-0.6zM96.0 954.0h0.6v0.6h-0.6zM104.7 950.7h0.6v0.6h-0.6zM92.8 953.8h0.6v0.6h-0.6zM98.2 953.4h0.6v0.6h-0.6zM93.2 952.2h0.6v0.6h-0.6zM105.9 949.5h0.6v0.6h-0.6zM101.3 950.0h0.6v0.6h-0.6zM100.2 959.3h0.6v0.6h-0.6zM91.3 953.4h0.6v0.6h-0.6zM95.5 955.9h0.6v0.6h-0.6zM96.2 951.3h0.6v0.6h-0.6zM103.8 958.3h0.6v0.6h-0.6zM99.0 958.4h0.6v0.6h-0.6zM102.5 952.0h0.6v0.6h-0.6zM94.8 955.2h0.6v0.6h-0.6zM98.9 951.9h0.6v0.6h-0.6zM105.4 951.1h0.6v0.6h-0.6zM97.0 957.4h0.6v0.6h-0.6zM97.5 956.6h0.6v0.6h-0.6zM101.9 950.3h0.6v0.6h-0.6zM101.8 959.2h0.6v0.6h-0.6zM103.7 952.5h0.6v0.6h-0.6zM101.9 949.8h0.6v0.6h-0.6zM94.5 955.2h0.6v0.6h-0.6zM94.7 953.0h0.6v0.6h-0.6z" fill="#9c9c9c"/>
<polygon points="95.58,951.92 108.19,948.53 105.97,955.9 103.15,957.61 97.52,954.78" fill="#575757" filter="url(#b07)"/>
<path d="M100.2 951.2h0.6v0.6h-0.6zM100.2 954.2h0.6v0.6h-0.6zM100.2 953.2h0.6v0.6h-0.6zM107.2 952.0h0.6v0.6h-0.6zM103.2 950.0h0.6v0.6h-0.6zM95.8 951.5h0.6v0.6h-0.6zM96.8 952.2h0.6v0.6h-0.6zM109.5 949.4h0.6v0.6h-0.6zM105.5 955.8h0.6v0.6h-0.6zM98.6 953.4h0.6v0.6h-0.6zM95.1 952.4h0.6v0.6h-0.6zM100.9 952.8h0.6v0.6h-0.6zM105.0 948.1h0.6v0.6h-0.6zM104.5 952.3h0.6v0.6h-0.6zM103.9 953.1h0.6v0.6h-0.6zM104.2 951.8h0.6v0.6h-0.6zM101.4 954.9h0.6v0.6h-0.6zM105.5 955.9h0.6v0.6h-0.6zM103.6 954.8h0.6v0.6h-0.6zM97.7 951.5h0.6v0.6h-0.6zM107.6 953.3h0.6v0.6h-0.6zM107.2 951.1h0.6v0.6h-0.6zM99.7 954.6h0.6v0.6h-0.6zM100.0 955.2h0.6v0.6h-0.6zM101.1 956.1h0.6v0.6h-0.6zM101.2 956.0h0.6v0.6h-0.6zM99.8 953.4h0.6v0.6h-0.6zM103.1 952.2h0.6v0.6h-0.6zM106.2 951.7h0.6v0.6h-0.6zM100.1 948.5h0.6v0.6h-0.6zM100.1 956.8h0.6v0.6h-0.6zM102.9 955.1h0.6v0.6h-0.6zM99.1 952.2h0.6v0.6h-0.6zM97.1 952.8h0.6v0.6h-0.6zM105.4 952.3h0.6v0.6h-0.6zM104.0 955.2h0.6v0.6h-0.6zM103.7 950.1h0.6v0.6h-0.6zM96.4 952.8h0.6v0.6h-0.6zM103.9 959.5h0.6v0.6h-0.6zM100.4 948.6h0.6v0.6h-0.6zM106.6 953.2h0.6v0.6h-0.6zM102.6 955.6h0.6v0.6h-0.6zM106.7 951.7h0.6v0.6h-0.6zM106.9 952.5h0.6v0.6h-0.6zM98.3 950.6h0.6v0.6h-0.6zM101.9 950.3h0.6v0.6h-0.6zM94.9 952.3h0.6v0.6h-0.6zM105.0 949.5h0.6v0.6h-0.6zM95.7 951.9h0.6v0.6h-0.6zM101.0 954.4h0.6v0.6h-0.6zM102.8 955.6h0.6v0.6h-0.6zM103.9 952.7h0.6v0.6h-0.6zM97.9 951.9h0.6v0.6h-0.6zM101.1 949.7h0.6v0.6h-0.6zM95.6 952.5h0.6v0.6h-0.6zM105.8 952.1h0.6v0.6h-0.6zM105.8 954.1h0.6v0.6h-0.6zM104.3 953.3h0.6v0.6h-0.6zM104.1 952.1h0.6v0.6h-0.6zM101.8 951.0h0.6v0.6h-0.6z" fill="#505050"/>
</g>
<line x1="110.36" y1="927.4" x2="110.36" y2="967.2" stroke="#bcbcbc" stroke-width="1.2" />
<line x1="86.8" y1="946.31" x2="133" y2="946.31" stroke="#bcbcbc" stroke-width="1.2" />
<rect x="86.8" y="927.4" width="46.2" height="39.8" fill="none" stroke="#939393" stroke-width="1.4"/>
<text x="88.7" y="932.5" font-size="4.75" text-anchor="start" font-weight="normal" fill="#2a2a2a" >Vβ9</text>
<text x="131.5" y="932.5" font-size="4.75" text-anchor="end" font-weight="normal" fill="#2a2a2a" >Vβ17</text>
<text x="131.5" y="964.2" font-size="4.75" text-anchor="end" font-weight="normal" fill="#2a2a2a" >Vβ16</text>
<text x="84.4" y="968.2" font-size="2.8" text-anchor="end" fill="#777" >10</text>
<text x="86.8" y="971.2" font-size="2.8" text-anchor="middle" fill="#777" >10</text>
<text x="84.4" y="958.25" font-size="2.8" text-anchor="end" fill="#777" >10</text>
<text x="98.35" y="971.2" font-size="2.8" text-anchor="middle" fill="#777" >10</text>
<text x="84.4" y="948.3" font-size="2.8" text-anchor="end" fill="#777" >10</text>
<text x="109.9" y="971.2" font-size="2.8" text-anchor="middle" fill="#777" >10</text>
<text x="84.4" y="938.35" font-size="2.8" text-anchor="end" fill="#777" >10</text>
<text x="121.45" y="971.2" font-size="2.8" text-anchor="middle" fill="#777" >10</text>
<text x="84.4" y="928.4" font-size="2.8" text-anchor="end" fill="#777" >10</text>
<text x="133" y="971.2" font-size="2.8" text-anchor="middle" fill="#777" >10</text>
<text x="109.9" y="976.2" font-size="3.4" text-anchor="middle" fill="#555" >FL1-H</text>
<text transform="translate(76.8 947.3) rotate(-90)" font-size="3.4" text-anchor="middle" fill="#555">FL2-H</text>
<text x="171" y="926.1" font-size="3.3" text-anchor="middle" fill="#666" >Data.025</text>
<g>
<polygon points="151.83,953.27 157.14,951.08 169.84,948.1 167.3,956.85 162.68,960.83 154.83,956.06" fill="#cfcfcf" filter="url(#b1)"/>
<path d="M159.7 957.9h0.6v0.6h-0.6zM166.0 955.8h0.6v0.6h-0.6zM161.5 952.8h0.6v0.6h-0.6zM161.0 951.8h0.6v0.6h-0.6zM163.2 958.9h0.6v0.6h-0.6zM161.0 952.8h0.6v0.6h-0.6zM164.5 949.9h0.6v0.6h-0.6zM155.2 952.8h0.6v0.6h-0.6zM167.4 950.2h0.6v0.6h-0.6zM166.2 950.8h0.6v0.6h-0.6zM155.5 951.9h0.6v0.6h-0.6zM169.3 949.5h0.6v0.6h-0.6zM160.1 958.1h0.6v0.6h-0.6zM159.6 954.5h0.6v0.6h-0.6zM154.0 953.5h0.6v0.6h-0.6zM163.3 957.5h0.6v0.6h-0.6zM164.9 957.0h0.6v0.6h-0.6zM162.2 953.5h0.6v0.6h-0.6zM167.0 951.9h0.6v0.6h-0.6zM162.1 960.3h0.6v0.6h-0.6zM163.0 955.6h0.6v0.6h-0.6zM166.2 950.6h0.6v0.6h-0.6zM154.0 952.9h0.6v0.6h-0.6zM156.0 955.9h0.6v0.6h-0.6zM160.9 955.8h0.6v0.6h-0.6zM162.2 960.8h0.6v0.6h-0.6zM168.5 954.4h0.6v0.6h-0.6zM169.1 950.7h0.6v0.6h-0.6zM155.6 952.1h0.6v0.6h-0.6zM153.3 952.9h0.6v0.6h-0.6zM168.6 950.1h0.6v0.6h-0.6zM163.2 958.8h0.6v0.6h-0.6zM157.1 950.4h0.6v0.6h-0.6zM163.9 952.9h0.6v0.6h-0.6zM165.8 949.4h0.6v0.6h-0.6zM153.8 955.7h0.6v0.6h-0.6zM156.5 955.8h0.6v0.6h-0.6zM168.5 950.0h0.6v0.6h-0.6zM160.5 957.1h0.6v0.6h-0.6zM168.2 949.0h0.6v0.6h-0.6zM161.8 950.4h0.6v0.6h-0.6zM162.5 956.3h0.6v0.6h-0.6zM159.4 955.7h0.6v0.6h-0.6zM161.0 955.8h0.6v0.6h-0.6zM162.3 952.0h0.6v0.6h-0.6zM161.1 957.4h0.6v0.6h-0.6zM159.4 958.6h0.6v0.6h-0.6zM164.4 957.9h0.6v0.6h-0.6zM160.2 950.6h0.6v0.6h-0.6zM157.2 959.8h0.6v0.6h-0.6zM162.9 953.0h0.6v0.6h-0.6zM162.2 954.5h0.6v0.6h-0.6zM162.5 951.3h0.6v0.6h-0.6zM162.8 959.3h0.6v0.6h-0.6zM160.8 951.4h0.6v0.6h-0.6zM161.9 957.8h0.6v0.6h-0.6zM158.9 954.8h0.6v0.6h-0.6zM164.1 954.6h0.6v0.6h-0.6zM161.2 952.4h0.6v0.6h-0.6zM161.9 959.0h0.6v0.6h-0.6zM157.9 952.1h0.6v0.6h-0.6zM161.6 953.0h0.6v0.6h-0.6zM166.9 949.5h0.6v0.6h-0.6zM167.2 951.8h0.6v0.6h-0.6zM161.1 953.6h0.6v0.6h-0.6zM163.6 949.8h0.6v0.6h-0.6zM171.5 951.5h0.6v0.6h-0.6zM159.1 957.2h0.6v0.6h-0.6zM153.7 954.2h0.6v0.6h-0.6zM160.3 954.2h0.6v0.6h-0.6z" fill="#9c9c9c"/>
<polygon points="156.68,951.92 169.29,948.53 167.07,955.9 164.25,957.61 158.62,954.78" fill="#575757" filter="url(#b07)"/>
<path d="M159.8 951.7h0.6v0.6h-0.6zM166.6 952.7h0.6v0.6h-0.6zM161.4 952.5h0.6v0.6h-0.6zM163.5 954.7h0.6v0.6h-0.6zM163.5 952.8h0.6v0.6h-0.6zM163.1 952.3h0.6v0.6h-0.6zM163.8 955.4h0.6v0.6h-0.6zM159.7 954.6h0.6v0.6h-0.6zM164.5 952.4h0.6v0.6h-0.6zM160.0 954.2h0.6v0.6h-0.6zM161.5 955.3h0.6v0.6h-0.6zM164.0 953.5h0.6v0.6h-0.6zM167.4 950.6h0.6v0.6h-0.6zM165.6 955.9h0.6v0.6h-0.6zM160.6 953.1h0.6v0.6h-0.6zM165.5 956.7h0.6v0.6h-0.6zM159.5 953.0h0.6v0.6h-0.6zM165.3 953.8h0.6v0.6h-0.6zM163.6 953.6h0.6v0.6h-0.6zM159.2 954.3h0.6v0.6h-0.6zM162.2 952.6h0.6v0.6h-0.6zM164.5 951.4h0.6v0.6h-0.6zM166.2 955.9h0.6v0.6h-0.6zM168.4 949.0h0.6v0.6h-0.6zM163.7 956.6h0.6v0.6h-0.6zM167.0 955.8h0.6v0.6h-0.6zM166.9 954.8h0.6v0.6h-0.6zM158.0 953.9h0.6v0.6h-0.6zM168.4 949.5h0.6v0.6h-0.6zM165.5 955.5h0.6v0.6h-0.6zM160.1 954.9h0.6v0.6h-0.6zM159.4 952.6h0.6v0.6h-0.6zM165.7 950.0h0.6v0.6h-0.6zM164.7 955.5h0.6v0.6h-0.6zM166.8 949.9h0.6v0.6h-0.6zM163.1 954.8h0.6v0.6h-0.6zM168.0 949.5h0.6v0.6h-0.6zM167.6 953.7h0.6v0.6h-0.6zM160.9 952.1h0.6v0.6h-0.6zM165.2 953.9h0.6v0.6h-0.6zM160.7 954.8h0.6v0.6h-0.6zM165.6 953.0h0.6v0.6h-0.6zM154.9 952.0h0.6v0.6h-0.6zM166.0 950.8h0.6v0.6h-0.6zM163.8 950.6h0.6v0.6h-0.6zM167.4 949.1h0.6v0.6h-0.6zM165.7 954.2h0.6v0.6h-0.6zM161.7 958.3h0.6v0.6h-0.6zM167.3 949.3h0.6v0.6h-0.6zM165.9 953.2h0.6v0.6h-0.6zM164.2 951.9h0.6v0.6h-0.6zM164.2 953.9h0.6v0.6h-0.6zM159.7 951.2h0.6v0.6h-0.6zM163.5 951.6h0.6v0.6h-0.6zM158.7 952.5h0.6v0.6h-0.6zM163.3 956.5h0.6v0.6h-0.6zM166.5 950.8h0.6v0.6h-0.6zM168.6 948.8h0.6v0.6h-0.6zM157.0 953.5h0.6v0.6h-0.6zM164.0 953.0h0.6v0.6h-0.6z" fill="#505050"/>
</g>
<line x1="171.46" y1="927.4" x2="171.46" y2="967.2" stroke="#bcbcbc" stroke-width="1.2" />
<line x1="147.9" y1="946.31" x2="194.1" y2="946.31" stroke="#bcbcbc" stroke-width="1.2" />
<rect x="147.9" y="927.4" width="46.2" height="39.8" fill="none" stroke="#939393" stroke-width="1.4"/>
<text x="149.8" y="932.5" font-size="4.75" text-anchor="start" font-weight="normal" fill="#2a2a2a" >Vβ18</text>
<text x="192.6" y="932.5" font-size="4.75" text-anchor="end" font-weight="normal" fill="#2a2a2a" >Vβ5.1</text>
<text x="192.6" y="964.2" font-size="4.75" text-anchor="end" font-weight="normal" fill="#2a2a2a" >Vβ20</text>
<text x="145.5" y="968.2" font-size="2.8" text-anchor="end" fill="#777" >10</text>
<text x="147.9" y="971.2" font-size="2.8" text-anchor="middle" fill="#777" >10</text>
<text x="145.5" y="958.25" font-size="2.8" text-anchor="end" fill="#777" >10</text>
<text x="159.45" y="971.2" font-size="2.8" text-anchor="middle" fill="#777" >10</text>
<text x="145.5" y="948.3" font-size="2.8" text-anchor="end" fill="#777" >10</text>
<text x="171" y="971.2" font-size="2.8" text-anchor="middle" fill="#777" >10</text>
<text x="145.5" y="938.35" font-size="2.8" text-anchor="end" fill="#777" >10</text>
<text x="182.55" y="971.2" font-size="2.8" text-anchor="middle" fill="#777" >10</text>
<text x="145.5" y="928.4" font-size="2.8" text-anchor="end" fill="#777" >10</text>
<text x="194.1" y="971.2" font-size="2.8" text-anchor="middle" fill="#777" >10</text>
<text x="171" y="976.2" font-size="3.4" text-anchor="middle" fill="#555" >FL1-H</text>
<text transform="translate(137.9 947.3) rotate(-90)" font-size="3.4" text-anchor="middle" fill="#555">FL2-H</text>
<text x="231.9" y="926.1" font-size="3.3" text-anchor="middle" fill="#666" >Data.026</text>
<g>
<path d="M229.0 964.1h0.6v0.6h-0.6zM225.3 964.8h0.6v0.6h-0.6zM215.2 954.7h0.6v0.6h-0.6zM211.2 955.6h0.6v0.6h-0.6zM216.6 949.7h0.6v0.6h-0.6zM219.7 951.5h0.6v0.6h-0.6zM221.2 957.9h0.6v0.6h-0.6zM219.0 958.4h0.6v0.6h-0.6zM219.2 956.2h0.6v0.6h-0.6zM221.1 964.0h0.6v0.6h-0.6z" fill="#dadada"/>
</g>
<ellipse cx="240.68" cy="956.45" rx="3" ry="7.2" transform="rotate(0 240.68 956.45)" fill="#5e5e5e" filter="url(#b05)"/>
<ellipse cx="240.68" cy="956.45" rx="7" ry="9.8" transform="rotate(0 240.68 956.45)" fill="none" stroke="#666" stroke-width="0.6"/>
<ellipse cx="240.68" cy="956.45" rx="5.74" ry="7.64" transform="rotate(0 240.68 956.45)" fill="none" stroke="#888" stroke-width="0.45"/>
<line x1="231.9" y1="927.4" x2="231.9" y2="967.2" stroke="#bcbcbc" stroke-width="1.2" />
<line x1="208.8" y1="946.7" x2="255" y2="946.7" stroke="#bcbcbc" stroke-width="1.2" />
<rect x="208.8" y="927.4" width="46.2" height="39.8" fill="none" stroke="#939393" stroke-width="1.4"/>
<text x="210.7" y="932.5" font-size="4.75" text-anchor="start" font-weight="normal" fill="#2a2a2a" >Vβ3.1</text>
<text x="253.5" y="932.5" font-size="4.75" text-anchor="end" font-weight="normal" fill="#2a2a2a" >Vβ13.6</text>
<text x="253.5" y="964.2" font-size="4.75" text-anchor="end" font-weight="normal" fill="#2a2a2a" >Vβ8</text>
<text x="206.4" y="968.2" font-size="2.8" text-anchor="end" fill="#777" >10</text>
<text x="208.8" y="971.2" font-size="2.8" text-anchor="middle" fill="#777" >10</text>
<text x="206.4" y="958.25" font-size="2.8" text-anchor="end" fill="#777" >10</text>
<text x="220.35" y="971.2" font-size="2.8" text-anchor="middle" fill="#777" >10</text>
<text x="206.4" y="948.3" font-size="2.8" text-anchor="end" fill="#777" >10</text>
<text x="231.9" y="971.2" font-size="2.8" text-anchor="middle" fill="#777" >10</text>
<text x="206.4" y="938.35" font-size="2.8" text-anchor="end" fill="#777" >10</text>
<text x="243.45" y="971.2" font-size="2.8" text-anchor="middle" fill="#777" >10</text>
<text x="206.4" y="928.4" font-size="2.8" text-anchor="end" fill="#777" >10</text>
<text x="255" y="971.2" font-size="2.8" text-anchor="middle" fill="#777" >10</text>
<text x="231.9" y="976.2" font-size="3.4" text-anchor="middle" fill="#555" >FL1-H</text>
<text transform="translate(198.8 947.3) rotate(-90)" font-size="3.4" text-anchor="middle" fill="#555">FL2-H</text>
<text x="49.1" y="981.7" font-size="3.3" text-anchor="middle" fill="#666" >Data.027</text>
<g>
<polygon points="29.93,1008.87 35.24,1006.68 47.95,1003.7 45.4,1012.45 40.78,1016.43 32.93,1011.66" fill="#cfcfcf" filter="url(#b1)"/>
<path d="M42.3 1005.1h0.6v0.6h-0.6zM35.3 1010.7h0.6v0.6h-0.6zM42.7 1008.5h0.6v0.6h-0.6zM46.2 1007.0h0.6v0.6h-0.6zM38.9 1010.1h0.6v0.6h-0.6zM32.9 1008.9h0.6v0.6h-0.6zM46.8 1005.2h0.6v0.6h-0.6zM45.2 1007.7h0.6v0.6h-0.6zM40.5 1010.0h0.6v0.6h-0.6zM39.5 1006.8h0.6v0.6h-0.6zM36.3 1013.6h0.6v0.6h-0.6zM39.3 1009.6h0.6v0.6h-0.6zM35.9 1015.6h0.6v0.6h-0.6zM44.2 1013.4h0.6v0.6h-0.6zM40.5 1012.1h0.6v0.6h-0.6zM38.1 1008.8h0.6v0.6h-0.6zM38.4 1012.0h0.6v0.6h-0.6zM34.2 1009.9h0.6v0.6h-0.6zM49.5 1005.6h0.6v0.6h-0.6zM36.5 1013.2h0.6v0.6h-0.6zM43.9 1007.7h0.6v0.6h-0.6zM29.6 1009.3h0.6v0.6h-0.6zM43.0 1013.1h0.6v0.6h-0.6zM35.0 1008.7h0.6v0.6h-0.6zM42.8 1012.7h0.6v0.6h-0.6zM42.4 1012.3h0.6v0.6h-0.6zM43.1 1014.1h0.6v0.6h-0.6zM37.1 1010.0h0.6v0.6h-0.6zM32.1 1008.6h0.6v0.6h-0.6zM41.1 1014.5h0.6v0.6h-0.6zM38.5 1014.8h0.6v0.6h-0.6zM47.0 1011.0h0.6v0.6h-0.6zM38.2 1010.8h0.6v0.6h-0.6zM47.3 1004.2h0.6v0.6h-0.6zM39.7 1013.0h0.6v0.6h-0.6zM33.9 1008.7h0.6v0.6h-0.6zM44.3 1011.6h0.6v0.6h-0.6zM45.7 1003.2h0.6v0.6h-0.6zM37.4 1007.3h0.6v0.6h-0.6zM47.2 1007.8h0.6v0.6h-0.6zM34.7 1012.7h0.6v0.6h-0.6zM38.0 1012.6h0.6v0.6h-0.6zM37.6 1010.6h0.6v0.6h-0.6zM37.9 1008.5h0.6v0.6h-0.6zM40.7 1008.2h0.6v0.6h-0.6zM34.1 1008.6h0.6v0.6h-0.6zM33.9 1008.5h0.6v0.6h-0.6zM42.9 1012.2h0.6v0.6h-0.6zM46.3 1007.8h0.6v0.6h-0.6zM42.4 1005.1h0.6v0.6h-0.6zM34.1 1011.8h0.6v0.6h-0.6zM42.8 1015.2h0.6v0.6h-0.6zM36.9 1006.5h0.6v0.6h-0.6zM40.4 1009.0h0.6v0.6h-0.6zM44.0 1006.9h0.6v0.6h-0.6zM42.4 1012.4h0.6v0.6h-0.6zM46.1 1005.8h0.6v0.6h-0.6zM46.5 1004.7h0.6v0.6h-0.6zM35.0 1007.0h0.6v0.6h-0.6zM41.6 1007.0h0.6v0.6h-0.6zM37.0 1011.2h0.6v0.6h-0.6zM28.5 1010.0h0.6v0.6h-0.6zM36.7 1008.4h0.6v0.6h-0.6zM32.5 1008.5h0.6v0.6h-0.6zM35.5 1011.7h0.6v0.6h-0.6zM40.3 1014.6h0.6v0.6h-0.6zM40.0 1014.7h0.6v0.6h-0.6zM35.4 1011.2h0.6v0.6h-0.6zM38.9 1005.9h0.6v0.6h-0.6zM41.1 1013.3h0.6v0.6h-0.6z" fill="#9c9c9c"/>
<polygon points="34.78,1007.52 47.39,1004.13 45.17,1011.5 42.35,1013.21 36.72,1010.38" fill="#575757" filter="url(#b07)"/>
<path d="M46.0 1006.3h0.6v0.6h-0.6zM45.7 1006.7h0.6v0.6h-0.6zM40.9 1006.7h0.6v0.6h-0.6zM43.3 1008.2h0.6v0.6h-0.6zM43.3 1011.4h0.6v0.6h-0.6zM42.5 1012.6h0.6v0.6h-0.6zM46.3 1008.6h0.6v0.6h-0.6zM42.4 1005.7h0.6v0.6h-0.6zM41.8 1012.3h0.6v0.6h-0.6zM36.0 1008.3h0.6v0.6h-0.6zM36.1 1009.1h0.6v0.6h-0.6zM45.6 1006.3h0.6v0.6h-0.6zM48.9 1004.7h0.6v0.6h-0.6zM44.6 1010.2h0.6v0.6h-0.6zM47.7 1011.3h0.6v0.6h-0.6zM41.0 1011.8h0.6v0.6h-0.6zM48.8 1004.7h0.6v0.6h-0.6zM40.5 1010.9h0.6v0.6h-0.6zM46.3 1005.5h0.6v0.6h-0.6zM38.1 1011.8h0.6v0.6h-0.6zM45.4 1007.5h0.6v0.6h-0.6zM37.8 1008.7h0.6v0.6h-0.6zM43.6 1007.4h0.6v0.6h-0.6zM44.2 1013.1h0.6v0.6h-0.6zM44.5 1008.1h0.6v0.6h-0.6zM42.6 1005.7h0.6v0.6h-0.6zM38.4 1007.1h0.6v0.6h-0.6zM38.9 1006.6h0.6v0.6h-0.6zM40.3 1010.8h0.6v0.6h-0.6zM36.5 1009.0h0.6v0.6h-0.6zM47.0 1004.4h0.6v0.6h-0.6zM38.4 1009.9h0.6v0.6h-0.6zM37.7 1010.3h0.6v0.6h-0.6zM42.7 1012.9h0.6v0.6h-0.6zM45.3 1007.2h0.6v0.6h-0.6zM40.9 1008.5h0.6v0.6h-0.6zM46.0 1010.0h0.6v0.6h-0.6zM35.7 1008.2h0.6v0.6h-0.6zM42.9 1004.8h0.6v0.6h-0.6zM41.0 1011.2h0.6v0.6h-0.6zM41.1 1009.0h0.6v0.6h-0.6zM41.3 1007.4h0.6v0.6h-0.6zM41.4 1006.8h0.6v0.6h-0.6zM49.9 1005.0h0.6v0.6h-0.6zM45.3 1008.5h0.6v0.6h-0.6zM44.8 1007.7h0.6v0.6h-0.6zM41.5 1010.8h0.6v0.6h-0.6zM36.4 1009.3h0.6v0.6h-0.6zM37.6 1008.5h0.6v0.6h-0.6zM41.1 1005.2h0.6v0.6h-0.6zM37.5 1007.0h0.6v0.6h-0.6zM46.1 1007.4h0.6v0.6h-0.6zM42.2 1008.7h0.6v0.6h-0.6zM45.3 1009.0h0.6v0.6h-0.6zM45.0 1006.7h0.6v0.6h-0.6zM43.7 1005.3h0.6v0.6h-0.6zM46.0 1007.7h0.6v0.6h-0.6zM40.1 1010.2h0.6v0.6h-0.6zM43.1 1007.0h0.6v0.6h-0.6zM36.7 1004.9h0.6v0.6h-0.6z" fill="#505050"/>
</g>
<line x1="49.56" y1="983" x2="49.56" y2="1022.8" stroke="#bcbcbc" stroke-width="1.2" />
<line x1="26" y1="1001.9" x2="72.2" y2="1001.9" stroke="#bcbcbc" stroke-width="1.2" />
<rect x="26" y="983" width="46.2" height="39.8" fill="none" stroke="#939393" stroke-width="1.4"/>
<text x="27.9" y="988.1" font-size="4.75" text-anchor="start" font-weight="normal" fill="#2a2a2a" >Vβ5.2</text>
<text x="70.7" y="988.1" font-size="4.75" text-anchor="end" font-weight="normal" fill="#2a2a2a" >Vβ2</text>
<text x="70.7" y="1019.8" font-size="4.75" text-anchor="end" font-weight="normal" fill="#2a2a2a" >Vβ12</text>
<text x="23.6" y="1023.8" font-size="2.8" text-anchor="end" fill="#777" >10</text>
<text x="26" y="1026.8" font-size="2.8" text-anchor="middle" fill="#777" >10</text>
<text x="23.6" y="1013.85" font-size="2.8" text-anchor="end" fill="#777" >10</text>
<text x="37.55" y="1026.8" font-size="2.8" text-anchor="middle" fill="#777" >10</text>
<text x="23.6" y="1003.9" font-size="2.8" text-anchor="end" fill="#777" >10</text>
<text x="49.1" y="1026.8" font-size="2.8" text-anchor="middle" fill="#777" >10</text>
<text x="23.6" y="993.95" font-size="2.8" text-anchor="end" fill="#777" >10</text>
<text x="60.65" y="1026.8" font-size="2.8" text-anchor="middle" fill="#777" >10</text>
<text x="23.6" y="984" font-size="2.8" text-anchor="end" fill="#777" >10</text>
<text x="72.2" y="1026.8" font-size="2.8" text-anchor="middle" fill="#777" >10</text>
<text x="49.1" y="1031.8" font-size="3.4" text-anchor="middle" fill="#555" >FL1-H</text>
<text transform="translate(16 1002.9) rotate(-90)" font-size="3.4" text-anchor="middle" fill="#555">FL2-H</text>
<text x="109.9" y="981.7" font-size="3.3" text-anchor="middle" fill="#666" >Data.028</text>
<g>
<polygon points="90.73,1008.87 96.04,1006.68 108.75,1003.7 106.2,1012.45 101.58,1016.43 93.73,1011.66" fill="#cfcfcf" filter="url(#b1)"/>
<path d="M107.3 1006.8h0.6v0.6h-0.6zM99.2 1013.1h0.6v0.6h-0.6zM105.5 1007.5h0.6v0.6h-0.6zM105.7 1011.1h0.6v0.6h-0.6zM101.5 1013.5h0.6v0.6h-0.6zM103.0 1011.1h0.6v0.6h-0.6zM99.3 1010.4h0.6v0.6h-0.6zM107.1 1008.4h0.6v0.6h-0.6zM106.0 1011.6h0.6v0.6h-0.6zM97.8 1011.3h0.6v0.6h-0.6zM98.2 1009.9h0.6v0.6h-0.6zM92.6 1008.2h0.6v0.6h-0.6zM104.4 1009.3h0.6v0.6h-0.6zM100.4 1014.4h0.6v0.6h-0.6zM103.3 1005.5h0.6v0.6h-0.6zM94.3 1010.5h0.6v0.6h-0.6zM96.3 1008.3h0.6v0.6h-0.6zM103.7 1006.2h0.6v0.6h-0.6zM107.2 1005.0h0.6v0.6h-0.6zM94.5 1008.2h0.6v0.6h-0.6zM106.0 1006.4h0.6v0.6h-0.6zM96.2 1009.9h0.6v0.6h-0.6zM101.0 1010.6h0.6v0.6h-0.6zM100.8 1008.8h0.6v0.6h-0.6zM104.9 1009.2h0.6v0.6h-0.6zM96.1 1007.8h0.6v0.6h-0.6zM96.7 1010.6h0.6v0.6h-0.6zM102.8 1012.6h0.6v0.6h-0.6zM97.2 1013.2h0.6v0.6h-0.6zM98.6 1006.8h0.6v0.6h-0.6zM95.3 1008.8h0.6v0.6h-0.6zM107.2 1004.6h0.6v0.6h-0.6zM93.0 1010.0h0.6v0.6h-0.6zM94.7 1014.0h0.6v0.6h-0.6zM106.6 1010.0h0.6v0.6h-0.6zM104.6 1005.0h0.6v0.6h-0.6zM104.1 1012.9h0.6v0.6h-0.6zM107.4 1008.1h0.6v0.6h-0.6zM95.1 1010.0h0.6v0.6h-0.6zM99.8 1015.1h0.6v0.6h-0.6zM101.2 1007.4h0.6v0.6h-0.6zM109.9 1008.8h0.6v0.6h-0.6zM96.2 1012.3h0.6v0.6h-0.6zM98.6 1006.9h0.6v0.6h-0.6zM99.4 1010.8h0.6v0.6h-0.6zM94.5 1007.6h0.6v0.6h-0.6zM94.5 1007.7h0.6v0.6h-0.6zM104.1 1005.4h0.6v0.6h-0.6zM105.1 1012.8h0.6v0.6h-0.6zM100.7 1007.6h0.6v0.6h-0.6zM100.3 1005.7h0.6v0.6h-0.6zM92.9 1012.0h0.6v0.6h-0.6zM100.2 1009.5h0.6v0.6h-0.6zM95.7 1010.4h0.6v0.6h-0.6zM106.3 1007.6h0.6v0.6h-0.6zM104.8 1008.1h0.6v0.6h-0.6zM93.2 1009.2h0.6v0.6h-0.6zM97.4 1007.7h0.6v0.6h-0.6zM108.0 1005.9h0.6v0.6h-0.6zM94.4 1010.1h0.6v0.6h-0.6zM95.0 1009.2h0.6v0.6h-0.6zM101.5 1006.7h0.6v0.6h-0.6zM103.6 1004.2h0.6v0.6h-0.6zM92.8 1010.0h0.6v0.6h-0.6zM96.8 1013.3h0.6v0.6h-0.6zM110.7 1005.7h0.6v0.6h-0.6zM101.9 1013.8h0.6v0.6h-0.6zM100.5 1017.6h0.6v0.6h-0.6zM99.7 1007.7h0.6v0.6h-0.6zM106.0 1010.8h0.6v0.6h-0.6z" fill="#9c9c9c"/>
<polygon points="95.58,1007.52 108.19,1004.13 105.97,1011.5 103.15,1013.21 97.52,1010.38" fill="#575757" filter="url(#b07)"/>
<path d="M104.8 1011.9h0.6v0.6h-0.6zM103.2 1011.2h0.6v0.6h-0.6zM107.8 1011.9h0.6v0.6h-0.6zM105.3 1008.9h0.6v0.6h-0.6zM102.8 1007.1h0.6v0.6h-0.6zM103.9 1012.6h0.6v0.6h-0.6zM98.0 1007.8h0.6v0.6h-0.6zM98.4 1009.1h0.6v0.6h-0.6zM101.5 1007.3h0.6v0.6h-0.6zM99.3 1005.3h0.6v0.6h-0.6zM107.0 1006.1h0.6v0.6h-0.6zM105.4 1006.5h0.6v0.6h-0.6zM105.6 1007.4h0.6v0.6h-0.6zM104.6 1007.4h0.6v0.6h-0.6zM105.6 1006.2h0.6v0.6h-0.6zM104.5 1014.2h0.6v0.6h-0.6zM99.1 1011.3h0.6v0.6h-0.6zM101.9 1007.1h0.6v0.6h-0.6zM103.8 1006.9h0.6v0.6h-0.6zM105.7 1005.4h0.6v0.6h-0.6zM98.7 1012.6h0.6v0.6h-0.6zM98.3 1008.6h0.6v0.6h-0.6zM103.1 1006.2h0.6v0.6h-0.6zM103.5 1009.8h0.6v0.6h-0.6zM106.5 1005.3h0.6v0.6h-0.6zM102.4 1011.1h0.6v0.6h-0.6zM102.8 1009.2h0.6v0.6h-0.6zM104.4 1012.4h0.6v0.6h-0.6zM100.8 1010.8h0.6v0.6h-0.6zM106.8 1010.9h0.6v0.6h-0.6zM97.4 1008.8h0.6v0.6h-0.6zM108.1 1004.2h0.6v0.6h-0.6zM104.0 1009.2h0.6v0.6h-0.6zM100.8 1009.9h0.6v0.6h-0.6zM105.7 1007.4h0.6v0.6h-0.6zM99.2 1010.4h0.6v0.6h-0.6zM105.2 1006.3h0.6v0.6h-0.6zM101.9 1003.7h0.6v0.6h-0.6zM102.9 1007.8h0.6v0.6h-0.6zM103.3 1003.3h0.6v0.6h-0.6zM98.3 1006.8h0.6v0.6h-0.6zM104.1 1006.7h0.6v0.6h-0.6zM98.9 1006.7h0.6v0.6h-0.6zM106.6 1007.0h0.6v0.6h-0.6zM106.0 1011.1h0.6v0.6h-0.6zM102.1 1011.5h0.6v0.6h-0.6zM103.5 1007.8h0.6v0.6h-0.6zM105.1 1008.6h0.6v0.6h-0.6zM102.4 1010.3h0.6v0.6h-0.6zM99.9 1007.6h0.6v0.6h-0.6zM103.7 1014.0h0.6v0.6h-0.6zM105.4 1007.7h0.6v0.6h-0.6zM97.8 1009.1h0.6v0.6h-0.6zM104.0 1012.4h0.6v0.6h-0.6zM105.1 1009.5h0.6v0.6h-0.6zM102.4 1006.7h0.6v0.6h-0.6zM103.9 1006.4h0.6v0.6h-0.6zM100.1 1013.2h0.6v0.6h-0.6zM100.3 1006.3h0.6v0.6h-0.6zM104.9 1009.5h0.6v0.6h-0.6z" fill="#505050"/>
</g>
<line x1="110.36" y1="983" x2="110.36" y2="1022.8" stroke="#bcbcbc" stroke-width="1.2" />
<line x1="86.8" y1="1001.9" x2="133" y2="1001.9" stroke="#bcbcbc" stroke-width="1.2" />
<rect x="86.8" y="983" width="46.2" height="39.8" fill="none" stroke="#939393" stroke-width="1.4"/>
<text x="88.7" y="988.1" font-size="4.75" text-anchor="start" font-weight="normal" fill="#2a2a2a" >Vβ23</text>
<text x="131.5" y="988.1" font-size="4.75" text-anchor="end" font-weight="normal" fill="#2a2a2a" >Vβ1</text>
<text x="131.5" y="1019.8" font-size="4.75" text-anchor="end" font-weight="normal" fill="#2a2a2a" >Vβ21.3</text>
<text x="84.4" y="1023.8" font-size="2.8" text-anchor="end" fill="#777" >10</text>
<text x="86.8" y="1026.8" font-size="2.8" text-anchor="middle" fill="#777" >10</text>
<text x="84.4" y="1013.85" font-size="2.8" text-anchor="end" fill="#777" >10</text>
<text x="98.35" y="1026.8" font-size="2.8" text-anchor="middle" fill="#777" >10</text>
<text x="84.4" y="1003.9" font-size="2.8" text-anchor="end" fill="#777" >10</text>
<text x="109.9" y="1026.8" font-size="2.8" text-anchor="middle" fill="#777" >10</text>
<text x="84.4" y="993.95" font-size="2.8" text-anchor="end" fill="#777" >10</text>
<text x="121.45" y="1026.8" font-size="2.8" text-anchor="middle" fill="#777" >10</text>
<text x="84.4" y="984" font-size="2.8" text-anchor="end" fill="#777" >10</text>
<text x="133" y="1026.8" font-size="2.8" text-anchor="middle" fill="#777" >10</text>
<text x="109.9" y="1031.8" font-size="3.4" text-anchor="middle" fill="#555" >FL1-H</text>
<text transform="translate(76.8 1002.9) rotate(-90)" font-size="3.4" text-anchor="middle" fill="#555">FL2-H</text>
<text x="171" y="981.7" font-size="3.3" text-anchor="middle" fill="#666" >Data.029</text>
<g>
<polygon points="151.83,1008.87 157.14,1006.68 169.84,1003.7 167.3,1012.45 162.68,1016.43 154.83,1011.66" fill="#cfcfcf" filter="url(#b1)"/>
<path d="M164.4 1005.7h0.6v0.6h-0.6zM164.2 1010.6h0.6v0.6h-0.6zM155.7 1010.4h0.6v0.6h-0.6zM156.4 1007.9h0.6v0.6h-0.6zM160.8 1011.2h0.6v0.6h-0.6zM157.5 1007.4h0.6v0.6h-0.6zM162.5 1012.3h0.6v0.6h-0.6zM166.5 1012.3h0.6v0.6h-0.6zM163.2 1012.0h0.6v0.6h-0.6zM155.4 1011.4h0.6v0.6h-0.6zM157.7 1007.1h0.6v0.6h-0.6zM156.3 1010.3h0.6v0.6h-0.6zM169.1 1005.4h0.6v0.6h-0.6zM161.1 1013.4h0.6v0.6h-0.6zM160.4 1008.1h0.6v0.6h-0.6zM158.4 1009.3h0.6v0.6h-0.6zM162.4 1014.9h0.6v0.6h-0.6zM159.8 1012.1h0.6v0.6h-0.6zM164.7 1006.2h0.6v0.6h-0.6zM153.5 1009.5h0.6v0.6h-0.6zM169.1 1004.5h0.6v0.6h-0.6zM161.5 1006.2h0.6v0.6h-0.6zM161.3 1012.1h0.6v0.6h-0.6zM163.3 1013.8h0.6v0.6h-0.6zM163.4 1010.1h0.6v0.6h-0.6zM161.3 1005.0h0.6v0.6h-0.6zM169.5 1004.4h0.6v0.6h-0.6zM166.3 1006.2h0.6v0.6h-0.6zM155.9 1008.3h0.6v0.6h-0.6zM162.9 1015.1h0.6v0.6h-0.6zM162.3 1006.9h0.6v0.6h-0.6zM159.9 1014.0h0.6v0.6h-0.6zM171.3 1004.4h0.6v0.6h-0.6zM165.6 1013.6h0.6v0.6h-0.6zM160.8 1006.6h0.6v0.6h-0.6zM159.9 1007.6h0.6v0.6h-0.6zM162.5 1010.1h0.6v0.6h-0.6zM162.8 1011.8h0.6v0.6h-0.6zM161.0 1014.8h0.6v0.6h-0.6zM167.5 1006.4h0.6v0.6h-0.6zM163.0 1009.2h0.6v0.6h-0.6zM160.2 1012.0h0.6v0.6h-0.6zM162.5 1009.6h0.6v0.6h-0.6zM158.2 1010.5h0.6v0.6h-0.6zM163.3 1008.5h0.6v0.6h-0.6zM150.2 1009.2h0.6v0.6h-0.6zM164.0 1010.9h0.6v0.6h-0.6zM166.0 1009.9h0.6v0.6h-0.6zM159.8 1008.2h0.6v0.6h-0.6zM157.7 1007.5h0.6v0.6h-0.6zM160.1 1011.7h0.6v0.6h-0.6zM162.6 1009.9h0.6v0.6h-0.6zM161.3 1007.5h0.6v0.6h-0.6zM156.1 1011.8h0.6v0.6h-0.6zM156.2 1008.7h0.6v0.6h-0.6zM163.6 1014.8h0.6v0.6h-0.6zM155.3 1011.0h0.6v0.6h-0.6zM154.5 1010.3h0.6v0.6h-0.6zM167.1 1005.8h0.6v0.6h-0.6zM160.9 1010.6h0.6v0.6h-0.6zM156.4 1008.6h0.6v0.6h-0.6zM165.1 1011.5h0.6v0.6h-0.6zM162.2 1009.4h0.6v0.6h-0.6zM159.7 1009.1h0.6v0.6h-0.6zM167.0 1013.1h0.6v0.6h-0.6zM167.4 1010.6h0.6v0.6h-0.6zM167.0 1007.4h0.6v0.6h-0.6zM167.1 1007.9h0.6v0.6h-0.6zM159.8 1013.3h0.6v0.6h-0.6zM165.3 1012.7h0.6v0.6h-0.6z" fill="#9c9c9c"/>
<polygon points="156.68,1007.52 169.29,1004.13 167.07,1011.5 164.25,1013.21 158.62,1010.38" fill="#575757" filter="url(#b07)"/>
<path d="M165.7 1009.4h0.6v0.6h-0.6zM160.7 1011.1h0.6v0.6h-0.6zM164.0 1010.4h0.6v0.6h-0.6zM161.7 1010.6h0.6v0.6h-0.6zM166.8 1003.4h0.6v0.6h-0.6zM163.3 1009.7h0.6v0.6h-0.6zM159.5 1006.8h0.6v0.6h-0.6zM157.9 1007.2h0.6v0.6h-0.6zM164.7 1007.0h0.6v0.6h-0.6zM158.8 1009.5h0.6v0.6h-0.6zM169.8 1007.1h0.6v0.6h-0.6zM158.5 1010.2h0.6v0.6h-0.6zM158.6 1008.9h0.6v0.6h-0.6zM164.4 1009.2h0.6v0.6h-0.6zM168.5 1005.2h0.6v0.6h-0.6zM165.3 1012.0h0.6v0.6h-0.6zM158.9 1008.5h0.6v0.6h-0.6zM162.6 1007.4h0.6v0.6h-0.6zM161.0 1007.4h0.6v0.6h-0.6zM163.1 1010.0h0.6v0.6h-0.6zM160.2 1008.1h0.6v0.6h-0.6zM165.2 1009.5h0.6v0.6h-0.6zM159.1 1010.5h0.6v0.6h-0.6zM164.2 1010.8h0.6v0.6h-0.6zM168.2 1004.7h0.6v0.6h-0.6zM163.3 1008.0h0.6v0.6h-0.6zM162.4 1011.4h0.6v0.6h-0.6zM163.8 1007.2h0.6v0.6h-0.6zM167.3 1005.1h0.6v0.6h-0.6zM166.6 1007.6h0.6v0.6h-0.6zM160.1 1006.7h0.6v0.6h-0.6zM155.9 1009.4h0.6v0.6h-0.6zM160.9 1008.4h0.6v0.6h-0.6zM163.7 1008.9h0.6v0.6h-0.6zM166.0 1006.9h0.6v0.6h-0.6zM161.9 1004.7h0.6v0.6h-0.6zM168.2 1005.9h0.6v0.6h-0.6zM165.0 1006.8h0.6v0.6h-0.6zM159.7 1009.9h0.6v0.6h-0.6zM159.8 1010.5h0.6v0.6h-0.6zM165.0 1006.2h0.6v0.6h-0.6zM171.2 1005.8h0.6v0.6h-0.6zM165.0 1009.1h0.6v0.6h-0.6zM161.9 1006.5h0.6v0.6h-0.6zM170.9 1007.2h0.6v0.6h-0.6zM164.5 1006.9h0.6v0.6h-0.6zM167.4 1005.7h0.6v0.6h-0.6zM167.6 1005.8h0.6v0.6h-0.6zM166.3 1008.7h0.6v0.6h-0.6zM164.7 1009.9h0.6v0.6h-0.6zM161.7 1006.3h0.6v0.6h-0.6zM162.6 1006.4h0.6v0.6h-0.6zM165.5 1011.2h0.6v0.6h-0.6zM158.2 1007.3h0.6v0.6h-0.6zM166.8 1009.9h0.6v0.6h-0.6zM163.9 1003.6h0.6v0.6h-0.6zM164.3 1010.6h0.6v0.6h-0.6zM165.5 1009.7h0.6v0.6h-0.6zM160.1 1010.7h0.6v0.6h-0.6zM166.1 1007.6h0.6v0.6h-0.6z" fill="#505050"/>
</g>
<line x1="171.46" y1="983" x2="171.46" y2="1022.8" stroke="#bcbcbc" stroke-width="1.2" />
<line x1="147.9" y1="1001.9" x2="194.1" y2="1001.9" stroke="#bcbcbc" stroke-width="1.2" />
<rect x="147.9" y="983" width="46.2" height="39.8" fill="none" stroke="#939393" stroke-width="1.4"/>
<text x="149.8" y="988.1" font-size="4.75" text-anchor="start" font-weight="normal" fill="#2a2a2a" >Vβ11</text>
<text x="192.6" y="988.1" font-size="4.75" text-anchor="end" font-weight="normal" fill="#2a2a2a" >Vβ22</text>
<text x="192.6" y="1019.8" font-size="4.75" text-anchor="end" font-weight="normal" fill="#2a2a2a" >Vβ14</text>
<text x="145.5" y="1023.8" font-size="2.8" text-anchor="end" fill="#777" >10</text>
<text x="147.9" y="1026.8" font-size="2.8" text-anchor="middle" fill="#777" >10</text>
<text x="145.5" y="1013.85" font-size="2.8" text-anchor="end" fill="#777" >10</text>
<text x="159.45" y="1026.8" font-size="2.8" text-anchor="middle" fill="#777" >10</text>
<text x="145.5" y="1003.9" font-size="2.8" text-anchor="end" fill="#777" >10</text>
<text x="171" y="1026.8" font-size="2.8" text-anchor="middle" fill="#777" >10</text>
<text x="145.5" y="993.95" font-size="2.8" text-anchor="end" fill="#777" >10</text>
<text x="182.55" y="1026.8" font-size="2.8" text-anchor="middle" fill="#777" >10</text>
<text x="145.5" y="984" font-size="2.8" text-anchor="end" fill="#777" >10</text>
<text x="194.1" y="1026.8" font-size="2.8" text-anchor="middle" fill="#777" >10</text>
<text x="171" y="1031.8" font-size="3.4" text-anchor="middle" fill="#555" >FL1-H</text>
<text transform="translate(137.9 1002.9) rotate(-90)" font-size="3.4" text-anchor="middle" fill="#555">FL2-H</text>
<text x="231.9" y="981.7" font-size="3.3" text-anchor="middle" fill="#666" >Data.030</text>
<g>
<polygon points="212.73,1008.87 218.04,1006.68 230.75,1003.7 228.2,1012.45 223.58,1016.43 215.73,1011.66" fill="#cfcfcf" filter="url(#b1)"/>
<path d="M219.8 1007.0h0.6v0.6h-0.6zM227.2 1008.0h0.6v0.6h-0.6zM221.0 1010.8h0.6v0.6h-0.6zM222.2 1006.5h0.6v0.6h-0.6zM219.4 1012.0h0.6v0.6h-0.6zM223.8 1005.5h0.6v0.6h-0.6zM225.1 1005.8h0.6v0.6h-0.6zM228.0 1010.6h0.6v0.6h-0.6zM227.7 1004.9h0.6v0.6h-0.6zM223.3 1015.4h0.6v0.6h-0.6zM220.8 1004.2h0.6v0.6h-0.6zM225.5 1014.3h0.6v0.6h-0.6zM222.4 1010.0h0.6v0.6h-0.6zM226.9 1009.2h0.6v0.6h-0.6zM215.4 1008.8h0.6v0.6h-0.6zM225.4 1009.7h0.6v0.6h-0.6zM214.2 1011.1h0.6v0.6h-0.6zM222.0 1009.9h0.6v0.6h-0.6zM228.5 1004.6h0.6v0.6h-0.6zM219.9 1007.8h0.6v0.6h-0.6zM221.3 1007.2h0.6v0.6h-0.6zM226.6 1013.0h0.6v0.6h-0.6zM217.5 1008.4h0.6v0.6h-0.6zM230.2 1011.7h0.6v0.6h-0.6zM220.6 1014.6h0.6v0.6h-0.6zM225.3 1008.1h0.6v0.6h-0.6zM219.6 1013.2h0.6v0.6h-0.6zM217.0 1009.7h0.6v0.6h-0.6zM224.7 1010.9h0.6v0.6h-0.6zM218.4 1004.4h0.6v0.6h-0.6zM224.6 1008.5h0.6v0.6h-0.6zM219.3 1010.3h0.6v0.6h-0.6zM221.0 1009.6h0.6v0.6h-0.6zM217.6 1008.4h0.6v0.6h-0.6zM221.9 1015.1h0.6v0.6h-0.6zM223.2 1012.6h0.6v0.6h-0.6zM225.8 1014.6h0.6v0.6h-0.6zM222.6 1004.8h0.6v0.6h-0.6zM223.8 1013.9h0.6v0.6h-0.6zM224.3 1007.3h0.6v0.6h-0.6zM221.5 1014.5h0.6v0.6h-0.6zM217.3 1007.7h0.6v0.6h-0.6zM217.2 1011.2h0.6v0.6h-0.6zM221.5 1005.3h0.6v0.6h-0.6zM227.8 1006.8h0.6v0.6h-0.6zM217.6 1010.8h0.6v0.6h-0.6zM228.9 1014.2h0.6v0.6h-0.6zM221.6 1009.1h0.6v0.6h-0.6zM227.1 1011.1h0.6v0.6h-0.6zM224.4 1006.0h0.6v0.6h-0.6zM227.1 1008.1h0.6v0.6h-0.6zM221.3 1011.9h0.6v0.6h-0.6zM222.5 1007.2h0.6v0.6h-0.6zM216.6 1009.5h0.6v0.6h-0.6zM220.7 1008.7h0.6v0.6h-0.6zM226.5 1011.7h0.6v0.6h-0.6zM227.3 1006.4h0.6v0.6h-0.6zM226.0 1006.5h0.6v0.6h-0.6zM223.4 1014.3h0.6v0.6h-0.6zM222.0 1006.5h0.6v0.6h-0.6zM221.8 1015.3h0.6v0.6h-0.6zM214.8 1010.5h0.6v0.6h-0.6zM220.0 1011.3h0.6v0.6h-0.6zM217.6 1006.8h0.6v0.6h-0.6zM216.8 1009.0h0.6v0.6h-0.6zM218.3 1012.3h0.6v0.6h-0.6zM220.6 1006.9h0.6v0.6h-0.6zM219.0 1009.1h0.6v0.6h-0.6zM217.2 1007.8h0.6v0.6h-0.6zM225.5 1007.5h0.6v0.6h-0.6z" fill="#9c9c9c"/>
<polygon points="217.58,1007.52 230.19,1004.13 227.97,1011.5 225.15,1013.21 219.52,1010.38" fill="#575757" filter="url(#b07)"/>
<path d="M218.4 1007.4h0.6v0.6h-0.6zM219.4 1007.6h0.6v0.6h-0.6zM227.0 1012.5h0.6v0.6h-0.6zM227.8 1009.7h0.6v0.6h-0.6zM219.7 1007.1h0.6v0.6h-0.6zM222.7 1009.6h0.6v0.6h-0.6zM227.3 1009.1h0.6v0.6h-0.6zM229.1 1006.2h0.6v0.6h-0.6zM216.5 1008.8h0.6v0.6h-0.6zM228.4 1007.2h0.6v0.6h-0.6zM217.5 1008.9h0.6v0.6h-0.6zM220.6 1009.1h0.6v0.6h-0.6zM221.8 1011.4h0.6v0.6h-0.6zM222.5 1010.3h0.6v0.6h-0.6zM226.6 1010.1h0.6v0.6h-0.6zM222.1 1008.6h0.6v0.6h-0.6zM226.0 1011.6h0.6v0.6h-0.6zM224.1 1009.6h0.6v0.6h-0.6zM219.8 1009.8h0.6v0.6h-0.6zM223.3 1010.4h0.6v0.6h-0.6zM226.0 1010.6h0.6v0.6h-0.6zM221.7 1010.0h0.6v0.6h-0.6zM228.1 1007.5h0.6v0.6h-0.6zM222.4 1009.8h0.6v0.6h-0.6zM227.2 1008.8h0.6v0.6h-0.6zM219.8 1010.7h0.6v0.6h-0.6zM227.1 1008.1h0.6v0.6h-0.6zM223.8 1006.3h0.6v0.6h-0.6zM229.0 1004.8h0.6v0.6h-0.6zM223.3 1008.7h0.6v0.6h-0.6zM226.4 1007.5h0.6v0.6h-0.6zM217.7 1007.7h0.6v0.6h-0.6zM221.2 1004.8h0.6v0.6h-0.6zM224.1 1010.2h0.6v0.6h-0.6zM222.3 1010.3h0.6v0.6h-0.6zM227.2 1007.8h0.6v0.6h-0.6zM224.3 1006.5h0.6v0.6h-0.6zM224.7 1010.2h0.6v0.6h-0.6zM229.0 1004.6h0.6v0.6h-0.6zM223.4 1009.5h0.6v0.6h-0.6zM228.0 1009.0h0.6v0.6h-0.6zM227.9 1009.5h0.6v0.6h-0.6zM223.8 1012.1h0.6v0.6h-0.6zM229.8 1005.2h0.6v0.6h-0.6zM221.9 1008.7h0.6v0.6h-0.6zM223.8 1010.6h0.6v0.6h-0.6zM223.7 1007.4h0.6v0.6h-0.6zM229.7 1007.3h0.6v0.6h-0.6zM222.4 1011.2h0.6v0.6h-0.6zM226.4 1009.8h0.6v0.6h-0.6zM223.7 1010.3h0.6v0.6h-0.6zM225.6 1005.9h0.6v0.6h-0.6zM222.6 1011.1h0.6v0.6h-0.6zM225.9 1010.5h0.6v0.6h-0.6zM225.5 1005.8h0.6v0.6h-0.6zM226.7 1010.7h0.6v0.6h-0.6zM228.6 1003.1h0.6v0.6h-0.6zM218.5 1007.3h0.6v0.6h-0.6zM227.4 1006.5h0.6v0.6h-0.6zM223.5 1010.8h0.6v0.6h-0.6z" fill="#505050"/>
</g>
<line x1="232.36" y1="983" x2="232.36" y2="1022.8" stroke="#bcbcbc" stroke-width="1.2" />
<line x1="208.8" y1="1001.9" x2="255" y2="1001.9" stroke="#bcbcbc" stroke-width="1.2" />
<rect x="208.8" y="983" width="46.2" height="39.8" fill="none" stroke="#939393" stroke-width="1.4"/>
<text x="210.7" y="988.1" font-size="4.75" text-anchor="start" font-weight="normal" fill="#2a2a2a" >Vβ13.2</text>
<text x="253.5" y="988.1" font-size="4.75" text-anchor="end" font-weight="normal" fill="#2a2a2a" >Vβ4</text>
<text x="253.5" y="1019.8" font-size="4.75" text-anchor="end" font-weight="normal" fill="#2a2a2a" >Vβ7.2</text>
<text x="206.4" y="1023.8" font-size="2.8" text-anchor="end" fill="#777" >10</text>
<text x="208.8" y="1026.8" font-size="2.8" text-anchor="middle" fill="#777" >10</text>
<text x="206.4" y="1013.85" font-size="2.8" text-anchor="end" fill="#777" >10</text>
<text x="220.35" y="1026.8" font-size="2.8" text-anchor="middle" fill="#777" >10</text>
<text x="206.4" y="1003.9" font-size="2.8" text-anchor="end" fill="#777" >10</text>
<text x="231.9" y="1026.8" font-size="2.8" text-anchor="middle" fill="#777" >10</text>
<text x="206.4" y="993.95" font-size="2.8" text-anchor="end" fill="#777" >10</text>
<text x="243.45" y="1026.8" font-size="2.8" text-anchor="middle" fill="#777" >10</text>
<text x="206.4" y="984" font-size="2.8" text-anchor="end" fill="#777" >10</text>
<text x="255" y="1026.8" font-size="2.8" text-anchor="middle" fill="#777" >10</text>
<text x="231.9" y="1031.8" font-size="3.4" text-anchor="middle" fill="#555" >FL1-H</text>
<text transform="translate(198.8 1002.9) rotate(-90)" font-size="3.4" text-anchor="middle" fill="#555">FL2-H</text>
<text x="263.8" y="689.3" font-size="11" text-anchor="start" font-weight="bold" fill="#000" >F</text>
<polygon points="292.89,728.13 293.34,718.18 297.36,707.84 302.28,699.03 307.19,692.9 318.81,692.51 322.39,698.26 318.81,705.92 313.45,711.66 308.09,719.33 303.62,728.13" fill="#d6d6d6" filter="url(#b2)"/>
<polygon points="294.23,727.37 295.57,718.18 300.04,709.75 305.4,702.09 311.22,700.56 308.09,710.52 302.72,719.71 298.7,727.37" fill="#a0a0a0" filter="url(#b1)"/>
<path d="M297.8 706.8h0.6v0.6h-0.6zM297.7 708.1h0.6v0.6h-0.6zM308.3 695.3h0.6v0.6h-0.6zM305.7 703.6h0.6v0.6h-0.6zM302.3 718.1h0.6v0.6h-0.6zM308.9 714.6h0.6v0.6h-0.6zM297.7 718.8h0.6v0.6h-0.6zM293.8 719.7h0.6v0.6h-0.6zM304.3 714.2h0.6v0.6h-0.6zM314.5 707.3h0.6v0.6h-0.6zM304.7 696.5h0.6v0.6h-0.6zM318.8 693.5h0.6v0.6h-0.6zM301.1 705.5h0.6v0.6h-0.6zM307.4 696.2h0.6v0.6h-0.6zM311.1 711.3h0.6v0.6h-0.6zM303.2 701.0h0.6v0.6h-0.6zM306.4 698.9h0.6v0.6h-0.6zM313.2 695.8h0.6v0.6h-0.6zM305.7 716.3h0.6v0.6h-0.6zM312.7 702.7h0.6v0.6h-0.6zM299.9 727.8h0.6v0.6h-0.6zM301.4 706.1h0.6v0.6h-0.6zM307.4 701.6h0.6v0.6h-0.6zM301.6 720.4h0.6v0.6h-0.6zM314.8 700.2h0.6v0.6h-0.6zM308.8 702.4h0.6v0.6h-0.6zM303.5 707.0h0.6v0.6h-0.6zM309.6 703.8h0.6v0.6h-0.6zM316.5 697.9h0.6v0.6h-0.6zM319.3 704.2h0.6v0.6h-0.6zM297.3 719.5h0.6v0.6h-0.6zM302.4 713.8h0.6v0.6h-0.6zM318.2 700.7h0.6v0.6h-0.6zM292.7 727.3h0.6v0.6h-0.6zM313.5 702.5h0.6v0.6h-0.6zM300.9 710.8h0.6v0.6h-0.6zM315.0 696.0h0.6v0.6h-0.6zM293.8 712.8h0.6v0.6h-0.6zM312.8 694.4h0.6v0.6h-0.6zM311.9 697.5h0.6v0.6h-0.6zM320.9 696.3h0.6v0.6h-0.6zM308.1 714.8h0.6v0.6h-0.6zM307.2 704.2h0.6v0.6h-0.6zM304.8 712.7h0.6v0.6h-0.6zM304.6 724.0h0.6v0.6h-0.6zM295.8 717.5h0.6v0.6h-0.6zM303.2 722.8h0.6v0.6h-0.6zM301.4 720.0h0.6v0.6h-0.6zM310.7 714.4h0.6v0.6h-0.6zM304.2 706.4h0.6v0.6h-0.6zM299.7 721.9h0.6v0.6h-0.6zM308.0 709.7h0.6v0.6h-0.6zM320.2 696.7h0.6v0.6h-0.6zM295.0 714.4h0.6v0.6h-0.6zM317.9 696.5h0.6v0.6h-0.6zM304.6 710.7h0.6v0.6h-0.6zM299.6 711.2h0.6v0.6h-0.6zM296.8 726.3h0.6v0.6h-0.6zM301.9 704.3h0.6v0.6h-0.6zM300.2 722.0h0.6v0.6h-0.6zM312.3 696.2h0.6v0.6h-0.6zM300.8 713.5h0.6v0.6h-0.6zM301.0 724.5h0.6v0.6h-0.6zM310.1 703.0h0.6v0.6h-0.6zM314.9 698.7h0.6v0.6h-0.6zM314.9 708.9h0.6v0.6h-0.6zM304.7 713.6h0.6v0.6h-0.6zM295.5 723.5h0.6v0.6h-0.6zM304.1 711.8h0.6v0.6h-0.6zM299.2 706.2h0.6v0.6h-0.6zM305.5 704.1h0.6v0.6h-0.6zM303.8 710.8h0.6v0.6h-0.6zM301.4 714.8h0.6v0.6h-0.6zM310.5 696.2h0.6v0.6h-0.6zM303.3 712.2h0.6v0.6h-0.6zM320.8 699.6h0.6v0.6h-0.6zM298.8 711.9h0.6v0.6h-0.6zM297.3 728.0h0.6v0.6h-0.6zM309.6 714.9h0.6v0.6h-0.6zM301.9 703.6h0.6v0.6h-0.6zM297.2 722.5h0.6v0.6h-0.6zM303.8 707.0h0.6v0.6h-0.6zM315.4 704.0h0.6v0.6h-0.6zM302.5 707.3h0.6v0.6h-0.6zM311.0 718.9h0.6v0.6h-0.6zM308.3 703.2h0.6v0.6h-0.6zM301.5 712.2h0.6v0.6h-0.6zM311.5 703.9h0.6v0.6h-0.6zM306.5 718.1h0.6v0.6h-0.6zM319.1 699.0h0.6v0.6h-0.6zM313.3 704.3h0.6v0.6h-0.6zM300.2 719.5h0.6v0.6h-0.6zM308.8 707.1h0.6v0.6h-0.6zM312.4 702.9h0.6v0.6h-0.6zM305.2 715.2h0.6v0.6h-0.6zM313.8 694.5h0.6v0.6h-0.6zM299.7 713.3h0.6v0.6h-0.6zM301.7 705.8h0.6v0.6h-0.6zM319.5 698.4h0.6v0.6h-0.6zM297.4 707.9h0.6v0.6h-0.6zM303.2 707.7h0.6v0.6h-0.6zM316.7 691.6h0.6v0.6h-0.6zM302.4 724.1h0.6v0.6h-0.6zM311.7 693.0h0.6v0.6h-0.6zM306.9 700.1h0.6v0.6h-0.6zM303.9 714.8h0.6v0.6h-0.6zM299.7 704.2h0.6v0.6h-0.6zM302.9 715.1h0.6v0.6h-0.6zM310.4 693.4h0.6v0.6h-0.6zM301.0 701.8h0.6v0.6h-0.6zM305.8 716.6h0.6v0.6h-0.6zM310.0 693.9h0.6v0.6h-0.6zM315.4 708.6h0.6v0.6h-0.6zM295.0 723.1h0.6v0.6h-0.6zM316.8 700.6h0.6v0.6h-0.6zM301.0 709.7h0.6v0.6h-0.6zM317.9 695.4h0.6v0.6h-0.6zM299.9 707.3h0.6v0.6h-0.6zM301.5 716.6h0.6v0.6h-0.6zM308.9 716.8h0.6v0.6h-0.6zM300.2 718.5h0.6v0.6h-0.6zM296.4 727.6h0.6v0.6h-0.6zM311.0 708.5h0.6v0.6h-0.6zM313.3 693.4h0.6v0.6h-0.6zM307.9 706.7h0.6v0.6h-0.6zM315.0 699.4h0.6v0.6h-0.6zM314.7 700.3h0.6v0.6h-0.6zM317.5 692.7h0.6v0.6h-0.6zM308.2 695.2h0.6v0.6h-0.6zM309.3 713.9h0.6v0.6h-0.6zM308.7 705.6h0.6v0.6h-0.6zM306.4 714.5h0.6v0.6h-0.6zM306.7 710.2h0.6v0.6h-0.6zM313.3 699.1h0.6v0.6h-0.6zM302.2 719.6h0.6v0.6h-0.6zM296.2 710.9h0.6v0.6h-0.6zM314.4 707.2h0.6v0.6h-0.6zM312.8 711.7h0.6v0.6h-0.6zM304.3 703.7h0.6v0.6h-0.6zM311.4 703.9h0.6v0.6h-0.6zM309.2 694.1h0.6v0.6h-0.6zM315.7 706.4h0.6v0.6h-0.6zM295.5 708.2h0.6v0.6h-0.6zM306.3 711.7h0.6v0.6h-0.6zM308.2 706.8h0.6v0.6h-0.6zM313.2 703.8h0.6v0.6h-0.6zM310.8 699.2h0.6v0.6h-0.6zM301.2 701.1h0.6v0.6h-0.6zM316.4 695.4h0.6v0.6h-0.6zM296.9 709.0h0.6v0.6h-0.6zM294.0 723.5h0.6v0.6h-0.6zM308.2 709.9h0.6v0.6h-0.6zM314.7 700.9h0.6v0.6h-0.6zM302.3 701.4h0.6v0.6h-0.6zM308.1 700.8h0.6v0.6h-0.6zM310.6 699.2h0.6v0.6h-0.6zM295.6 724.7h0.6v0.6h-0.6zM310.0 713.3h0.6v0.6h-0.6zM317.5 699.6h0.6v0.6h-0.6zM318.3 697.6h0.6v0.6h-0.6zM304.0 708.7h0.6v0.6h-0.6zM305.8 700.7h0.6v0.6h-0.6zM306.5 714.3h0.6v0.6h-0.6zM293.9 727.1h0.6v0.6h-0.6zM315.5 698.7h0.6v0.6h-0.6zM309.2 707.3h0.6v0.6h-0.6zM301.6 725.2h0.6v0.6h-0.6zM307.2 701.3h0.6v0.6h-0.6zM307.4 715.0h0.6v0.6h-0.6zM308.3 721.6h0.6v0.6h-0.6zM310.3 712.8h0.6v0.6h-0.6zM315.5 696.9h0.6v0.6h-0.6zM307.6 715.4h0.6v0.6h-0.6zM316.0 706.7h0.6v0.6h-0.6zM308.8 712.3h0.6v0.6h-0.6zM303.2 719.0h0.6v0.6h-0.6zM314.3 708.9h0.6v0.6h-0.6zM314.5 710.1h0.6v0.6h-0.6zM297.7 716.4h0.6v0.6h-0.6zM322.9 701.3h0.6v0.6h-0.6zM301.7 709.6h0.6v0.6h-0.6zM302.5 722.9h0.6v0.6h-0.6zM301.8 717.8h0.6v0.6h-0.6zM310.9 699.9h0.6v0.6h-0.6zM298.2 715.5h0.6v0.6h-0.6zM312.4 698.3h0.6v0.6h-0.6zM299.7 715.9h0.6v0.6h-0.6zM299.9 714.6h0.6v0.6h-0.6zM303.2 706.8h0.6v0.6h-0.6zM303.2 713.3h0.6v0.6h-0.6zM308.4 699.5h0.6v0.6h-0.6zM310.4 705.2h0.6v0.6h-0.6zM306.3 705.1h0.6v0.6h-0.6zM302.6 716.6h0.6v0.6h-0.6zM298.6 710.5h0.6v0.6h-0.6zM314.0 692.8h0.6v0.6h-0.6zM309.6 699.3h0.6v0.6h-0.6zM303.9 698.0h0.6v0.6h-0.6zM308.5 696.1h0.6v0.6h-0.6zM309.1 702.7h0.6v0.6h-0.6zM307.2 709.4h0.6v0.6h-0.6zM294.8 727.0h0.6v0.6h-0.6zM305.9 703.4h0.6v0.6h-0.6zM312.1 694.4h0.6v0.6h-0.6zM305.5 712.4h0.6v0.6h-0.6zM311.2 713.3h0.6v0.6h-0.6zM305.8 703.3h0.6v0.6h-0.6zM307.8 696.9h0.6v0.6h-0.6zM310.6 700.3h0.6v0.6h-0.6zM306.9 697.0h0.6v0.6h-0.6zM305.9 700.3h0.6v0.6h-0.6zM314.7 698.2h0.6v0.6h-0.6zM316.9 695.4h0.6v0.6h-0.6zM303.0 705.6h0.6v0.6h-0.6zM308.2 703.8h0.6v0.6h-0.6zM303.4 703.9h0.6v0.6h-0.6zM306.0 714.6h0.6v0.6h-0.6zM317.5 692.6h0.6v0.6h-0.6zM308.8 697.4h0.6v0.6h-0.6zM313.4 700.2h0.6v0.6h-0.6zM312.4 698.4h0.6v0.6h-0.6zM307.6 705.8h0.6v0.6h-0.6zM313.3 694.6h0.6v0.6h-0.6zM307.6 696.5h0.6v0.6h-0.6zM299.9 722.3h0.6v0.6h-0.6zM314.8 697.1h0.6v0.6h-0.6zM301.2 705.8h0.6v0.6h-0.6zM311.9 703.0h0.6v0.6h-0.6zM307.3 719.0h0.6v0.6h-0.6zM295.8 715.5h0.6v0.6h-0.6zM297.4 709.6h0.6v0.6h-0.6zM305.5 701.2h0.6v0.6h-0.6zM309.3 714.2h0.6v0.6h-0.6zM301.1 707.8h0.6v0.6h-0.6zM305.9 701.4h0.6v0.6h-0.6zM316.2 706.2h0.6v0.6h-0.6zM294.7 717.3h0.6v0.6h-0.6zM305.4 706.8h0.6v0.6h-0.6zM296.8 726.2h0.6v0.6h-0.6zM308.5 701.6h0.6v0.6h-0.6z" fill="#a2a2a2"/>
<polygon points="314.08,722.16 316.89,717.49 324.94,714.23 330.61,713.77 331.06,717.49 326.82,721.24 320.2,724.04 315.01,724.5" fill="#bcbcbc" filter="url(#b05)"/>
<polygon points="317.03,721.62 318.81,718.56 325.07,715.88 329.54,715.5 329.54,717.79 326.41,720.47 320.6,722.77 317.47,723.15" fill="#8c8c8c" filter="url(#b05)"/>
<polygon points="314.08,722.16 316.89,717.49 324.94,714.23 330.61,713.77 331.06,717.49 326.82,721.24 320.2,724.04 315.01,724.5" fill="none" stroke="#3a3a3a" stroke-width="0.7" stroke-linejoin="round"/>
<polygon points="317.03,721.62 318.81,718.56 325.07,715.88 329.54,715.5 329.54,717.79 326.41,720.47 320.6,722.77 317.47,723.15" fill="none" stroke="#555" stroke-width="0.5" stroke-linejoin="round"/>
<rect x="291.1" y="690.6" width="44.7" height="38.3" fill="none" stroke="#606060" stroke-width="1.3"/>
<text x="313.45" y="689.4" font-size="3.3" text-anchor="middle" fill="#777" >Data.031</text>
<line x1="277.2" y1="738.2" x2="277.2" y2="689.5" stroke="#444" stroke-width="0.9" />
<line x1="277.2" y1="738.2" x2="334.3" y2="738.2" stroke="#444" stroke-width="0.9" />
<circle cx="277.2" cy="689.6" r="1.2" fill="#222"/>
<circle cx="334.6" cy="738.2" r="1.2" fill="#222"/>
<text x="289.1" y="729.9" font-size="3.0" text-anchor="end" fill="#888" >0</text>
<text x="292.6" y="733.4" font-size="3.0" text-anchor="middle" fill="#888" >0</text>
<text x="289.1" y="722.54" font-size="3.0" text-anchor="end" fill="#888" >200</text>
<text x="300.94" y="733.4" font-size="3.0" text-anchor="middle" fill="#888" >200</text>
<text x="289.1" y="715.18" font-size="3.0" text-anchor="end" fill="#888" >400</text>
<text x="309.28" y="733.4" font-size="3.0" text-anchor="middle" fill="#888" >400</text>
<text x="289.1" y="707.82" font-size="3.0" text-anchor="end" fill="#888" >600</text>
<text x="317.62" y="733.4" font-size="3.0" text-anchor="middle" fill="#888" >600</text>
<text x="289.1" y="700.46" font-size="3.0" text-anchor="end" fill="#888" >800</text>
<text x="325.96" y="733.4" font-size="3.0" text-anchor="middle" fill="#888" >800</text>
<text x="289.1" y="693.1" font-size="3.0" text-anchor="end" fill="#888" >1000</text>
<text x="334.3" y="733.4" font-size="3.0" text-anchor="middle" fill="#888" >1000</text>
<text x="313.45" y="737.2" font-size="3.3" text-anchor="middle" fill="#777" >FSC-H</text>
<text x="312.45" y="742.6" font-size="3.6" text-anchor="middle" fill="#444" >FSC</text>
<text transform="translate(274.2 710) rotate(-90)" font-size="3.6" text-anchor="middle" fill="#444">SSC</text>
<text transform="translate(281.2 710) rotate(-90)" font-size="3.0" text-anchor="middle" fill="#888">SSC-H</text>
<ellipse cx="392.1" cy="719.5" rx="2.4" ry="5" fill="#cfcfcf" filter="url(#b05)"/>
<ellipse cx="392.3" cy="719" rx="1.2" ry="1.5" fill="#777" filter="url(#b05)"/>
<rect x="386" y="705.3" width="10.5" height="23.4" fill="none" stroke="#8a8a8a" stroke-width="0.8"/>
<rect x="350.7" y="690.6" width="45.8" height="38.3" fill="none" stroke="#606060" stroke-width="1.3"/>
<text x="373.6" y="689.4" font-size="3.3" text-anchor="middle" fill="#777" >Data.032</text>
<text x="348.7" y="729.9" font-size="3.0" text-anchor="end" fill="#888" >0</text>
<text x="348.7" y="722.54" font-size="3.0" text-anchor="end" fill="#888" >200</text>
<text x="348.7" y="715.18" font-size="3.0" text-anchor="end" fill="#888" >400</text>
<text x="348.7" y="707.82" font-size="3.0" text-anchor="end" fill="#888" >600</text>
<text x="348.7" y="700.46" font-size="3.0" text-anchor="end" fill="#888" >800</text>
<text x="348.7" y="693.1" font-size="3.0" text-anchor="end" fill="#888" >1000</text>
<text x="352.2" y="733.4" font-size="3.0" text-anchor="middle" fill="#888" >10</text>
<text x="362.9" y="733.4" font-size="3.0" text-anchor="middle" fill="#888" >10</text>
<text x="373.6" y="733.4" font-size="3.0" text-anchor="middle" fill="#888" >10</text>
<text x="384.3" y="733.4" font-size="3.0" text-anchor="middle" fill="#888" >10</text>
<text x="395" y="733.4" font-size="3.0" text-anchor="middle" fill="#888" >10</text>
<text x="373.6" y="737.2" font-size="3.3" text-anchor="middle" fill="#777" >FL3-H</text>
<line x1="346.5" y1="738.2" x2="395" y2="738.2" stroke="#444" stroke-width="0.9" />
<circle cx="395.2" cy="738.2" r="1.2" fill="#222"/>
<text x="373" y="742.6" font-size="3.6" text-anchor="middle" fill="#444" >CD4</text>
<text transform="translate(341.2 710) rotate(-90)" font-size="3.0" text-anchor="middle" fill="#888">SSC-H</text>
<text x="404.4" y="706.7" font-size="5.4" fill="#333"><tspan font-style="italic">rh</tspan>Epo-reactive TCL TH38</text>
<text x="404.4" y="712.9" font-size="5.4" text-anchor="start" font-weight="normal" fill="#333" >derived from</text>
<text x="404.4" y="719" font-size="5.4" text-anchor="start" font-weight="normal" fill="#333" >HLA-DRB1*09:01-positive donor 8</text>
<text x="300.4" y="746.8" font-size="3.3" text-anchor="middle" fill="#666" >Data.033</text>
<g>
<polygon points="278.45,773.17 288.85,771.78 298.09,769.99 295.78,781.13 293.93,786.9 278.45,786.9" fill="#c4c4c4" filter="url(#b1)"/>
<path d="M286.6 782.0h0.6v0.6h-0.6zM282.8 777.5h0.6v0.6h-0.6zM293.9 781.7h0.6v0.6h-0.6zM289.0 782.0h0.6v0.6h-0.6zM296.7 782.5h0.6v0.6h-0.6zM284.5 773.6h0.6v0.6h-0.6zM291.9 779.6h0.6v0.6h-0.6zM295.5 781.2h0.6v0.6h-0.6zM285.1 775.9h0.6v0.6h-0.6zM293.1 775.0h0.6v0.6h-0.6zM287.2 779.9h0.6v0.6h-0.6zM282.2 786.0h0.6v0.6h-0.6zM290.7 777.3h0.6v0.6h-0.6zM291.0 778.0h0.6v0.6h-0.6zM285.5 779.2h0.6v0.6h-0.6zM287.5 775.8h0.6v0.6h-0.6zM289.5 780.3h0.6v0.6h-0.6zM279.7 779.3h0.6v0.6h-0.6zM283.1 771.9h0.6v0.6h-0.6zM292.0 783.3h0.6v0.6h-0.6zM283.8 785.9h0.6v0.6h-0.6zM283.6 775.3h0.6v0.6h-0.6zM287.6 786.0h0.6v0.6h-0.6zM281.3 778.4h0.6v0.6h-0.6zM285.6 774.0h0.6v0.6h-0.6zM296.8 768.0h0.6v0.6h-0.6zM282.1 783.8h0.6v0.6h-0.6zM294.5 783.2h0.6v0.6h-0.6zM288.5 776.5h0.6v0.6h-0.6zM279.6 783.4h0.6v0.6h-0.6zM281.8 773.2h0.6v0.6h-0.6zM283.7 779.6h0.6v0.6h-0.6zM288.8 783.7h0.6v0.6h-0.6zM286.0 776.9h0.6v0.6h-0.6zM283.2 784.2h0.6v0.6h-0.6zM286.3 780.3h0.6v0.6h-0.6zM281.9 780.9h0.6v0.6h-0.6zM291.7 769.0h0.6v0.6h-0.6zM293.8 772.9h0.6v0.6h-0.6zM283.1 784.4h0.6v0.6h-0.6zM283.3 773.3h0.6v0.6h-0.6zM297.7 771.7h0.6v0.6h-0.6zM295.8 773.4h0.6v0.6h-0.6zM295.6 776.5h0.6v0.6h-0.6zM295.4 770.6h0.6v0.6h-0.6zM283.9 778.9h0.6v0.6h-0.6zM285.5 781.4h0.6v0.6h-0.6zM292.6 774.2h0.6v0.6h-0.6zM287.8 784.1h0.6v0.6h-0.6zM282.3 773.9h0.6v0.6h-0.6zM292.6 772.2h0.6v0.6h-0.6zM286.8 784.9h0.6v0.6h-0.6zM285.1 781.0h0.6v0.6h-0.6zM285.9 773.4h0.6v0.6h-0.6zM285.3 775.3h0.6v0.6h-0.6zM289.3 775.4h0.6v0.6h-0.6zM291.6 785.3h0.6v0.6h-0.6zM285.1 774.3h0.6v0.6h-0.6zM281.2 778.3h0.6v0.6h-0.6zM286.0 772.5h0.6v0.6h-0.6zM280.7 781.9h0.6v0.6h-0.6zM290.1 770.4h0.6v0.6h-0.6zM290.4 781.0h0.6v0.6h-0.6zM292.2 779.6h0.6v0.6h-0.6zM284.1 777.5h0.6v0.6h-0.6zM283.0 786.4h0.6v0.6h-0.6zM285.1 785.3h0.6v0.6h-0.6zM282.1 774.4h0.6v0.6h-0.6zM292.2 775.5h0.6v0.6h-0.6zM287.6 784.2h0.6v0.6h-0.6zM286.7 778.8h0.6v0.6h-0.6zM291.3 782.3h0.6v0.6h-0.6zM283.8 779.0h0.6v0.6h-0.6zM295.3 771.2h0.6v0.6h-0.6zM284.1 775.6h0.6v0.6h-0.6zM291.9 777.3h0.6v0.6h-0.6zM290.5 775.0h0.6v0.6h-0.6zM290.7 777.9h0.6v0.6h-0.6zM290.5 774.7h0.6v0.6h-0.6zM280.6 776.4h0.6v0.6h-0.6z" fill="#9c9c9c"/>
<polygon points="280.53,774.17 297.17,771.18 295.09,780.74 293.01,785.11 281.92,783.92" fill="url(#coreF)" filter="url(#b07)"/>
<path d="M296.1 771.9h0.6v0.6h-0.6zM296.4 773.3h0.6v0.6h-0.6zM292.1 776.6h0.6v0.6h-0.6zM291.7 777.7h0.6v0.6h-0.6zM282.5 776.5h0.6v0.6h-0.6zM284.0 777.1h0.6v0.6h-0.6zM290.5 782.0h0.6v0.6h-0.6zM290.2 778.6h0.6v0.6h-0.6zM285.8 774.7h0.6v0.6h-0.6zM291.9 784.2h0.6v0.6h-0.6zM295.4 774.2h0.6v0.6h-0.6zM286.0 783.4h0.6v0.6h-0.6zM293.7 781.2h0.6v0.6h-0.6zM286.9 773.3h0.6v0.6h-0.6zM284.6 775.2h0.6v0.6h-0.6zM290.2 783.3h0.6v0.6h-0.6zM286.2 784.1h0.6v0.6h-0.6zM291.5 773.7h0.6v0.6h-0.6zM281.9 782.8h0.6v0.6h-0.6zM285.7 772.7h0.6v0.6h-0.6zM284.2 778.0h0.6v0.6h-0.6zM285.4 783.1h0.6v0.6h-0.6zM284.7 783.9h0.6v0.6h-0.6zM295.6 775.0h0.6v0.6h-0.6zM286.3 782.8h0.6v0.6h-0.6zM284.9 774.6h0.6v0.6h-0.6zM287.3 784.9h0.6v0.6h-0.6zM292.4 779.3h0.6v0.6h-0.6zM282.5 783.7h0.6v0.6h-0.6zM290.7 775.8h0.6v0.6h-0.6zM286.9 773.9h0.6v0.6h-0.6zM289.7 770.9h0.6v0.6h-0.6zM282.5 779.3h0.6v0.6h-0.6zM286.4 783.8h0.6v0.6h-0.6zM292.6 777.7h0.6v0.6h-0.6zM294.2 778.8h0.6v0.6h-0.6zM294.5 781.2h0.6v0.6h-0.6zM290.5 774.8h0.6v0.6h-0.6zM296.5 773.5h0.6v0.6h-0.6zM295.3 772.4h0.6v0.6h-0.6zM290.4 779.9h0.6v0.6h-0.6zM284.8 779.9h0.6v0.6h-0.6zM288.0 783.8h0.6v0.6h-0.6zM293.7 783.6h0.6v0.6h-0.6zM282.3 781.9h0.6v0.6h-0.6zM291.4 780.2h0.6v0.6h-0.6zM292.1 773.7h0.6v0.6h-0.6zM291.6 784.2h0.6v0.6h-0.6zM292.3 784.2h0.6v0.6h-0.6zM284.2 778.4h0.6v0.6h-0.6zM292.8 775.2h0.6v0.6h-0.6zM295.3 779.9h0.6v0.6h-0.6zM280.8 772.0h0.6v0.6h-0.6zM295.7 774.0h0.6v0.6h-0.6zM293.1 775.5h0.6v0.6h-0.6zM282.4 778.3h0.6v0.6h-0.6zM289.3 778.4h0.6v0.6h-0.6zM282.6 774.0h0.6v0.6h-0.6zM290.9 773.4h0.6v0.6h-0.6zM292.5 782.9h0.6v0.6h-0.6z" fill="#505050"/>
</g>
<line x1="299.94" y1="748.1" x2="299.94" y2="787.9" stroke="#bcbcbc" stroke-width="1.2" />
<line x1="277.3" y1="768" x2="323.5" y2="768" stroke="#bcbcbc" stroke-width="1.2" />
<rect x="277.3" y="748.1" width="46.2" height="39.8" fill="none" stroke="#939393" stroke-width="1.4"/>
<text x="279.2" y="753.2" font-size="4.75" text-anchor="start" font-weight="normal" fill="#2a2a2a" >Vβ5.3</text>
<text x="322" y="753.2" font-size="4.75" text-anchor="end" font-weight="normal" fill="#2a2a2a" >Vβ3</text>
<text x="322" y="784.9" font-size="4.75" text-anchor="end" font-weight="normal" fill="#2a2a2a" >Vβ7.1</text>
<text x="274.9" y="788.9" font-size="2.8" text-anchor="end" fill="#777" >10</text>
<text x="277.3" y="791.9" font-size="2.8" text-anchor="middle" fill="#777" >10</text>
<text x="274.9" y="778.95" font-size="2.8" text-anchor="end" fill="#777" >10</text>
<text x="288.85" y="791.9" font-size="2.8" text-anchor="middle" fill="#777" >10</text>
<text x="274.9" y="769" font-size="2.8" text-anchor="end" fill="#777" >10</text>
<text x="300.4" y="791.9" font-size="2.8" text-anchor="middle" fill="#777" >10</text>
<text x="274.9" y="759.05" font-size="2.8" text-anchor="end" fill="#777" >10</text>
<text x="311.95" y="791.9" font-size="2.8" text-anchor="middle" fill="#777" >10</text>
<text x="274.9" y="749.1" font-size="2.8" text-anchor="end" fill="#777" >10</text>
<text x="323.5" y="791.9" font-size="2.8" text-anchor="middle" fill="#777" >10</text>
<text x="300.4" y="796.9" font-size="3.4" text-anchor="middle" fill="#555" >FL1-H</text>
<text transform="translate(267.3 768) rotate(-90)" font-size="3.4" text-anchor="middle" fill="#555">FL2-H</text>
<text x="361.2" y="746.8" font-size="3.3" text-anchor="middle" fill="#666" >Data.034</text>
<g>
<polygon points="339.25,773.17 349.65,771.78 358.89,769.99 356.58,781.13 354.73,786.9 339.25,786.9" fill="#c4c4c4" filter="url(#b1)"/>
<path d="M355.5 775.6h0.6v0.6h-0.6zM344.5 774.1h0.6v0.6h-0.6zM357.6 771.3h0.6v0.6h-0.6zM343.2 778.4h0.6v0.6h-0.6zM358.7 772.8h0.6v0.6h-0.6zM343.9 778.5h0.6v0.6h-0.6zM349.2 775.9h0.6v0.6h-0.6zM353.5 785.4h0.6v0.6h-0.6zM344.7 776.3h0.6v0.6h-0.6zM357.1 772.3h0.6v0.6h-0.6zM340.8 785.5h0.6v0.6h-0.6zM356.6 777.1h0.6v0.6h-0.6zM343.2 777.3h0.6v0.6h-0.6zM347.9 779.7h0.6v0.6h-0.6zM347.5 779.8h0.6v0.6h-0.6zM351.3 773.7h0.6v0.6h-0.6zM346.4 775.7h0.6v0.6h-0.6zM358.0 772.9h0.6v0.6h-0.6zM345.9 775.2h0.6v0.6h-0.6zM339.4 775.8h0.6v0.6h-0.6zM358.0 769.3h0.6v0.6h-0.6zM345.3 773.9h0.6v0.6h-0.6zM354.0 778.0h0.6v0.6h-0.6zM348.4 779.0h0.6v0.6h-0.6zM343.4 783.4h0.6v0.6h-0.6zM346.8 773.4h0.6v0.6h-0.6zM354.0 774.7h0.6v0.6h-0.6zM346.0 784.9h0.6v0.6h-0.6zM339.3 785.2h0.6v0.6h-0.6zM347.7 786.9h0.6v0.6h-0.6zM356.7 770.8h0.6v0.6h-0.6zM344.3 786.3h0.6v0.6h-0.6zM346.1 785.8h0.6v0.6h-0.6zM339.7 777.4h0.6v0.6h-0.6zM356.9 778.6h0.6v0.6h-0.6zM345.3 773.6h0.6v0.6h-0.6zM346.3 778.7h0.6v0.6h-0.6zM352.2 786.5h0.6v0.6h-0.6zM339.4 776.5h0.6v0.6h-0.6zM352.1 778.0h0.6v0.6h-0.6zM343.2 778.5h0.6v0.6h-0.6zM351.0 782.1h0.6v0.6h-0.6zM351.2 782.3h0.6v0.6h-0.6zM344.5 772.0h0.6v0.6h-0.6zM350.3 776.4h0.6v0.6h-0.6zM344.1 774.7h0.6v0.6h-0.6zM357.7 781.4h0.6v0.6h-0.6zM357.2 771.2h0.6v0.6h-0.6zM356.2 773.0h0.6v0.6h-0.6zM343.5 786.1h0.6v0.6h-0.6zM346.8 776.4h0.6v0.6h-0.6zM347.9 772.3h0.6v0.6h-0.6zM342.2 771.3h0.6v0.6h-0.6zM354.5 771.6h0.6v0.6h-0.6zM353.6 775.8h0.6v0.6h-0.6zM344.7 779.8h0.6v0.6h-0.6zM356.7 772.4h0.6v0.6h-0.6zM359.1 781.3h0.6v0.6h-0.6zM344.9 772.7h0.6v0.6h-0.6zM344.0 773.9h0.6v0.6h-0.6zM340.6 780.7h0.6v0.6h-0.6zM339.3 776.9h0.6v0.6h-0.6zM345.7 772.6h0.6v0.6h-0.6zM342.7 785.9h0.6v0.6h-0.6zM350.7 775.9h0.6v0.6h-0.6zM341.3 773.4h0.6v0.6h-0.6zM342.8 778.3h0.6v0.6h-0.6zM355.3 779.4h0.6v0.6h-0.6zM355.6 771.3h0.6v0.6h-0.6zM357.4 772.2h0.6v0.6h-0.6zM345.2 780.7h0.6v0.6h-0.6zM354.5 774.8h0.6v0.6h-0.6zM352.4 772.7h0.6v0.6h-0.6zM350.7 784.3h0.6v0.6h-0.6zM348.4 779.2h0.6v0.6h-0.6zM341.1 781.8h0.6v0.6h-0.6zM340.2 779.2h0.6v0.6h-0.6zM348.6 782.7h0.6v0.6h-0.6zM357.6 770.8h0.6v0.6h-0.6zM347.7 782.9h0.6v0.6h-0.6z" fill="#9c9c9c"/>
<polygon points="341.33,774.17 357.97,771.18 355.89,780.74 353.81,785.11 342.72,783.92" fill="url(#coreF)" filter="url(#b07)"/>
<path d="M355.1 780.1h0.6v0.6h-0.6zM347.4 775.9h0.6v0.6h-0.6zM348.7 775.3h0.6v0.6h-0.6zM350.9 777.0h0.6v0.6h-0.6zM351.7 783.4h0.6v0.6h-0.6zM349.1 781.2h0.6v0.6h-0.6zM344.9 781.4h0.6v0.6h-0.6zM343.7 774.1h0.6v0.6h-0.6zM345.2 779.5h0.6v0.6h-0.6zM346.5 775.2h0.6v0.6h-0.6zM348.5 775.3h0.6v0.6h-0.6zM348.8 783.8h0.6v0.6h-0.6zM352.2 780.3h0.6v0.6h-0.6zM344.2 779.2h0.6v0.6h-0.6zM351.9 779.5h0.6v0.6h-0.6zM354.5 782.2h0.6v0.6h-0.6zM350.2 777.2h0.6v0.6h-0.6zM347.0 775.8h0.6v0.6h-0.6zM350.3 780.6h0.6v0.6h-0.6zM344.2 775.4h0.6v0.6h-0.6zM347.5 780.0h0.6v0.6h-0.6zM344.4 771.8h0.6v0.6h-0.6zM345.4 777.3h0.6v0.6h-0.6zM347.5 779.3h0.6v0.6h-0.6zM349.0 782.7h0.6v0.6h-0.6zM353.5 776.4h0.6v0.6h-0.6zM352.2 784.2h0.6v0.6h-0.6zM344.7 781.8h0.6v0.6h-0.6zM343.8 775.2h0.6v0.6h-0.6zM346.7 786.7h0.6v0.6h-0.6zM346.9 776.8h0.6v0.6h-0.6zM355.5 773.7h0.6v0.6h-0.6zM346.3 774.2h0.6v0.6h-0.6zM344.7 783.3h0.6v0.6h-0.6zM347.0 781.6h0.6v0.6h-0.6zM354.1 784.1h0.6v0.6h-0.6zM346.0 786.6h0.6v0.6h-0.6zM346.0 779.1h0.6v0.6h-0.6zM346.5 784.0h0.6v0.6h-0.6zM356.3 771.6h0.6v0.6h-0.6zM350.4 784.7h0.6v0.6h-0.6zM343.1 775.1h0.6v0.6h-0.6zM349.7 775.5h0.6v0.6h-0.6zM351.6 775.5h0.6v0.6h-0.6zM346.5 781.7h0.6v0.6h-0.6zM347.7 777.6h0.6v0.6h-0.6zM353.8 782.4h0.6v0.6h-0.6zM357.3 772.7h0.6v0.6h-0.6zM345.9 779.4h0.6v0.6h-0.6zM353.1 779.3h0.6v0.6h-0.6zM351.5 773.8h0.6v0.6h-0.6zM354.3 772.7h0.6v0.6h-0.6zM351.9 775.4h0.6v0.6h-0.6zM346.7 776.0h0.6v0.6h-0.6zM348.9 781.2h0.6v0.6h-0.6zM344.5 779.8h0.6v0.6h-0.6zM349.0 773.1h0.6v0.6h-0.6zM344.4 783.2h0.6v0.6h-0.6zM344.4 781.0h0.6v0.6h-0.6zM348.0 780.1h0.6v0.6h-0.6z" fill="#505050"/>
</g>
<line x1="360.74" y1="748.1" x2="360.74" y2="787.9" stroke="#bcbcbc" stroke-width="1.2" />
<line x1="338.1" y1="768" x2="384.3" y2="768" stroke="#bcbcbc" stroke-width="1.2" />
<rect x="338.1" y="748.1" width="46.2" height="39.8" fill="none" stroke="#939393" stroke-width="1.4"/>
<text x="340" y="753.2" font-size="4.75" text-anchor="start" font-weight="normal" fill="#2a2a2a" >Vβ9</text>
<text x="382.8" y="753.2" font-size="4.75" text-anchor="end" font-weight="normal" fill="#2a2a2a" >Vβ17</text>
<text x="382.8" y="784.9" font-size="4.75" text-anchor="end" font-weight="normal" fill="#2a2a2a" >Vβ16</text>
<text x="335.7" y="788.9" font-size="2.8" text-anchor="end" fill="#777" >10</text>
<text x="338.1" y="791.9" font-size="2.8" text-anchor="middle" fill="#777" >10</text>
<text x="335.7" y="778.95" font-size="2.8" text-anchor="end" fill="#777" >10</text>
<text x="349.65" y="791.9" font-size="2.8" text-anchor="middle" fill="#777" >10</text>
<text x="335.7" y="769" font-size="2.8" text-anchor="end" fill="#777" >10</text>
<text x="361.2" y="791.9" font-size="2.8" text-anchor="middle" fill="#777" >10</text>
<text x="335.7" y="759.05" font-size="2.8" text-anchor="end" fill="#777" >10</text>
<text x="372.75" y="791.9" font-size="2.8" text-anchor="middle" fill="#777" >10</text>
<text x="335.7" y="749.1" font-size="2.8" text-anchor="end" fill="#777" >10</text>
<text x="384.3" y="791.9" font-size="2.8" text-anchor="middle" fill="#777" >10</text>
<text x="361.2" y="796.9" font-size="3.4" text-anchor="middle" fill="#555" >FL1-H</text>
<text transform="translate(328.1 768) rotate(-90)" font-size="3.4" text-anchor="middle" fill="#555">FL2-H</text>
<text x="422.3" y="746.8" font-size="3.3" text-anchor="middle" fill="#666" >Data.035</text>
<g>
<polygon points="400.36,773.17 410.75,771.78 419.99,769.99 417.68,781.13 415.83,786.9 400.36,786.9" fill="#c4c4c4" filter="url(#b1)"/>
<path d="M411.3 777.3h0.6v0.6h-0.6zM416.0 785.1h0.6v0.6h-0.6zM416.7 783.6h0.6v0.6h-0.6zM415.4 775.0h0.6v0.6h-0.6zM410.8 779.8h0.6v0.6h-0.6zM410.7 777.2h0.6v0.6h-0.6zM409.8 786.0h0.6v0.6h-0.6zM415.5 780.6h0.6v0.6h-0.6zM409.6 782.3h0.6v0.6h-0.6zM413.9 773.1h0.6v0.6h-0.6zM408.6 779.9h0.6v0.6h-0.6zM411.5 782.6h0.6v0.6h-0.6zM411.2 773.4h0.6v0.6h-0.6zM419.5 776.8h0.6v0.6h-0.6zM412.1 779.5h0.6v0.6h-0.6zM412.7 782.3h0.6v0.6h-0.6zM406.3 778.9h0.6v0.6h-0.6zM401.0 781.4h0.6v0.6h-0.6zM413.3 773.2h0.6v0.6h-0.6zM411.7 774.6h0.6v0.6h-0.6zM406.2 781.7h0.6v0.6h-0.6zM415.7 781.3h0.6v0.6h-0.6zM416.6 780.5h0.6v0.6h-0.6zM416.7 773.7h0.6v0.6h-0.6zM415.9 786.5h0.6v0.6h-0.6zM414.9 773.9h0.6v0.6h-0.6zM406.8 777.7h0.6v0.6h-0.6zM414.6 781.5h0.6v0.6h-0.6zM401.9 786.8h0.6v0.6h-0.6zM406.9 777.8h0.6v0.6h-0.6zM415.8 777.2h0.6v0.6h-0.6zM409.7 774.0h0.6v0.6h-0.6zM402.4 785.4h0.6v0.6h-0.6zM416.9 775.1h0.6v0.6h-0.6zM407.1 774.4h0.6v0.6h-0.6zM410.0 777.2h0.6v0.6h-0.6zM408.6 776.0h0.6v0.6h-0.6zM406.6 777.9h0.6v0.6h-0.6zM409.2 774.7h0.6v0.6h-0.6zM408.6 780.2h0.6v0.6h-0.6zM408.7 784.4h0.6v0.6h-0.6zM414.3 786.7h0.6v0.6h-0.6zM402.3 783.3h0.6v0.6h-0.6zM403.7 778.1h0.6v0.6h-0.6zM412.5 782.3h0.6v0.6h-0.6zM412.7 782.1h0.6v0.6h-0.6zM402.7 777.8h0.6v0.6h-0.6zM413.9 777.5h0.6v0.6h-0.6zM411.6 780.9h0.6v0.6h-0.6zM400.9 775.9h0.6v0.6h-0.6zM416.5 777.7h0.6v0.6h-0.6zM404.7 785.0h0.6v0.6h-0.6zM409.0 781.6h0.6v0.6h-0.6zM400.5 784.3h0.6v0.6h-0.6zM404.1 784.8h0.6v0.6h-0.6zM413.2 785.2h0.6v0.6h-0.6zM400.4 784.3h0.6v0.6h-0.6zM412.0 776.7h0.6v0.6h-0.6zM413.5 776.6h0.6v0.6h-0.6zM407.5 779.1h0.6v0.6h-0.6zM416.7 771.6h0.6v0.6h-0.6zM414.2 780.1h0.6v0.6h-0.6zM410.1 772.0h0.6v0.6h-0.6zM408.0 774.2h0.6v0.6h-0.6zM415.9 771.9h0.6v0.6h-0.6zM404.2 785.8h0.6v0.6h-0.6zM415.0 780.3h0.6v0.6h-0.6zM417.6 779.6h0.6v0.6h-0.6zM407.6 780.3h0.6v0.6h-0.6zM410.1 775.4h0.6v0.6h-0.6zM412.8 780.7h0.6v0.6h-0.6zM415.1 782.7h0.6v0.6h-0.6zM419.5 771.0h0.6v0.6h-0.6zM406.9 778.9h0.6v0.6h-0.6zM403.8 779.7h0.6v0.6h-0.6zM404.9 781.8h0.6v0.6h-0.6zM403.9 782.6h0.6v0.6h-0.6zM406.3 770.1h0.6v0.6h-0.6zM404.3 783.0h0.6v0.6h-0.6zM401.7 786.3h0.6v0.6h-0.6z" fill="#9c9c9c"/>
<polygon points="402.43,774.17 419.07,771.18 416.99,780.74 414.91,785.11 403.82,783.92" fill="url(#coreF)" filter="url(#b07)"/>
<path d="M410.1 773.5h0.6v0.6h-0.6zM408.0 781.9h0.6v0.6h-0.6zM412.9 784.3h0.6v0.6h-0.6zM408.2 774.8h0.6v0.6h-0.6zM418.0 772.5h0.6v0.6h-0.6zM404.7 776.1h0.6v0.6h-0.6zM419.0 771.3h0.6v0.6h-0.6zM411.5 777.7h0.6v0.6h-0.6zM411.5 784.7h0.6v0.6h-0.6zM405.3 779.1h0.6v0.6h-0.6zM403.3 778.0h0.6v0.6h-0.6zM416.0 779.1h0.6v0.6h-0.6zM416.1 775.6h0.6v0.6h-0.6zM409.1 777.1h0.6v0.6h-0.6zM416.2 777.7h0.6v0.6h-0.6zM408.0 783.1h0.6v0.6h-0.6zM410.0 777.9h0.6v0.6h-0.6zM412.3 779.7h0.6v0.6h-0.6zM411.7 775.8h0.6v0.6h-0.6zM409.1 784.4h0.6v0.6h-0.6zM405.9 776.9h0.6v0.6h-0.6zM413.9 775.0h0.6v0.6h-0.6zM415.7 779.7h0.6v0.6h-0.6zM411.1 773.7h0.6v0.6h-0.6zM406.8 781.9h0.6v0.6h-0.6zM414.1 779.6h0.6v0.6h-0.6zM411.1 781.6h0.6v0.6h-0.6zM410.0 779.7h0.6v0.6h-0.6zM413.8 779.4h0.6v0.6h-0.6zM406.9 774.7h0.6v0.6h-0.6zM416.2 774.2h0.6v0.6h-0.6zM404.0 777.0h0.6v0.6h-0.6zM410.9 779.0h0.6v0.6h-0.6zM412.8 781.5h0.6v0.6h-0.6zM408.2 782.1h0.6v0.6h-0.6zM412.0 777.9h0.6v0.6h-0.6zM418.7 770.3h0.6v0.6h-0.6zM415.1 777.3h0.6v0.6h-0.6zM404.7 779.2h0.6v0.6h-0.6zM410.2 781.8h0.6v0.6h-0.6zM408.9 775.6h0.6v0.6h-0.6zM412.3 778.9h0.6v0.6h-0.6zM407.1 775.9h0.6v0.6h-0.6zM416.3 776.3h0.6v0.6h-0.6zM407.2 780.1h0.6v0.6h-0.6zM401.1 776.9h0.6v0.6h-0.6zM411.6 775.7h0.6v0.6h-0.6zM416.4 775.3h0.6v0.6h-0.6zM402.6 782.4h0.6v0.6h-0.6zM408.5 773.4h0.6v0.6h-0.6zM407.1 782.1h0.6v0.6h-0.6zM407.5 775.4h0.6v0.6h-0.6zM405.6 786.3h0.6v0.6h-0.6zM417.7 773.0h0.6v0.6h-0.6zM414.0 778.4h0.6v0.6h-0.6zM407.5 776.5h0.6v0.6h-0.6zM416.6 772.8h0.6v0.6h-0.6zM417.1 771.7h0.6v0.6h-0.6zM411.7 774.2h0.6v0.6h-0.6zM407.5 778.4h0.6v0.6h-0.6z" fill="#505050"/>
</g>
<line x1="421.84" y1="748.1" x2="421.84" y2="787.9" stroke="#bcbcbc" stroke-width="1.2" />
<line x1="399.2" y1="768" x2="445.4" y2="768" stroke="#bcbcbc" stroke-width="1.2" />
<rect x="399.2" y="748.1" width="46.2" height="39.8" fill="none" stroke="#939393" stroke-width="1.4"/>
<text x="401.1" y="753.2" font-size="4.75" text-anchor="start" font-weight="normal" fill="#2a2a2a" >Vβ18</text>
<text x="443.9" y="753.2" font-size="4.75" text-anchor="end" font-weight="normal" fill="#2a2a2a" >Vβ5.1</text>
<text x="443.9" y="784.9" font-size="4.75" text-anchor="end" font-weight="normal" fill="#2a2a2a" >Vβ20</text>
<text x="396.8" y="788.9" font-size="2.8" text-anchor="end" fill="#777" >10</text>
<text x="399.2" y="791.9" font-size="2.8" text-anchor="middle" fill="#777" >10</text>
<text x="396.8" y="778.95" font-size="2.8" text-anchor="end" fill="#777" >10</text>
<text x="410.75" y="791.9" font-size="2.8" text-anchor="middle" fill="#777" >10</text>
<text x="396.8" y="769" font-size="2.8" text-anchor="end" fill="#777" >10</text>
<text x="422.3" y="791.9" font-size="2.8" text-anchor="middle" fill="#777" >10</text>
<text x="396.8" y="759.05" font-size="2.8" text-anchor="end" fill="#777" >10</text>
<text x="433.85" y="791.9" font-size="2.8" text-anchor="middle" fill="#777" >10</text>
<text x="396.8" y="749.1" font-size="2.8" text-anchor="end" fill="#777" >10</text>
<text x="445.4" y="791.9" font-size="2.8" text-anchor="middle" fill="#777" >10</text>
<text x="422.3" y="796.9" font-size="3.4" text-anchor="middle" fill="#555" >FL1-H</text>
<text transform="translate(389.2 768) rotate(-90)" font-size="3.4" text-anchor="middle" fill="#555">FL2-H</text>
<text x="483.2" y="746.8" font-size="3.3" text-anchor="middle" fill="#666" >Data.036</text>
<g>
<polygon points="461.25,773.17 471.65,771.78 480.89,769.99 478.58,781.13 476.73,786.9 461.25,786.9" fill="#c4c4c4" filter="url(#b1)"/>
<path d="M474.9 773.0h0.6v0.6h-0.6zM471.2 778.6h0.6v0.6h-0.6zM462.1 782.8h0.6v0.6h-0.6zM463.0 781.7h0.6v0.6h-0.6zM473.1 776.5h0.6v0.6h-0.6zM470.6 785.3h0.6v0.6h-0.6zM478.5 779.0h0.6v0.6h-0.6zM473.3 774.0h0.6v0.6h-0.6zM462.9 779.2h0.6v0.6h-0.6zM461.9 774.2h0.6v0.6h-0.6zM469.7 772.1h0.6v0.6h-0.6zM472.9 786.0h0.6v0.6h-0.6zM474.5 770.5h0.6v0.6h-0.6zM473.9 784.4h0.6v0.6h-0.6zM477.3 782.4h0.6v0.6h-0.6zM465.5 772.7h0.6v0.6h-0.6zM462.0 773.5h0.6v0.6h-0.6zM466.6 776.6h0.6v0.6h-0.6zM462.9 782.0h0.6v0.6h-0.6zM478.8 779.4h0.6v0.6h-0.6zM469.4 772.1h0.6v0.6h-0.6zM478.5 771.0h0.6v0.6h-0.6zM463.8 774.7h0.6v0.6h-0.6zM478.6 779.2h0.6v0.6h-0.6zM471.8 785.6h0.6v0.6h-0.6zM471.9 784.3h0.6v0.6h-0.6zM470.7 773.3h0.6v0.6h-0.6zM463.5 779.9h0.6v0.6h-0.6zM468.2 775.1h0.6v0.6h-0.6zM471.1 785.9h0.6v0.6h-0.6zM474.2 778.4h0.6v0.6h-0.6zM470.7 782.7h0.6v0.6h-0.6zM467.7 778.3h0.6v0.6h-0.6zM464.8 784.8h0.6v0.6h-0.6zM473.2 777.0h0.6v0.6h-0.6zM465.6 786.1h0.6v0.6h-0.6zM466.4 784.6h0.6v0.6h-0.6zM469.7 773.1h0.6v0.6h-0.6zM463.9 780.5h0.6v0.6h-0.6zM470.9 786.7h0.6v0.6h-0.6zM465.8 779.8h0.6v0.6h-0.6zM464.3 786.9h0.6v0.6h-0.6zM474.8 787.0h0.6v0.6h-0.6zM478.3 771.3h0.6v0.6h-0.6zM467.7 775.1h0.6v0.6h-0.6zM463.2 775.4h0.6v0.6h-0.6zM470.3 772.2h0.6v0.6h-0.6zM476.1 778.5h0.6v0.6h-0.6zM476.1 780.6h0.6v0.6h-0.6zM478.7 777.1h0.6v0.6h-0.6zM466.5 775.8h0.6v0.6h-0.6zM467.8 786.0h0.6v0.6h-0.6zM463.6 775.2h0.6v0.6h-0.6zM477.7 780.3h0.6v0.6h-0.6zM476.3 773.4h0.6v0.6h-0.6zM470.6 777.1h0.6v0.6h-0.6zM469.5 773.2h0.6v0.6h-0.6zM466.7 773.2h0.6v0.6h-0.6zM462.7 784.9h0.6v0.6h-0.6zM474.6 772.5h0.6v0.6h-0.6zM474.7 780.4h0.6v0.6h-0.6zM468.0 781.8h0.6v0.6h-0.6zM471.9 779.4h0.6v0.6h-0.6zM475.0 780.4h0.6v0.6h-0.6zM467.0 775.4h0.6v0.6h-0.6zM470.6 775.2h0.6v0.6h-0.6zM464.7 780.2h0.6v0.6h-0.6zM472.9 772.6h0.6v0.6h-0.6zM473.6 779.9h0.6v0.6h-0.6zM475.0 777.0h0.6v0.6h-0.6zM477.3 782.2h0.6v0.6h-0.6zM476.0 777.9h0.6v0.6h-0.6zM464.3 778.4h0.6v0.6h-0.6zM471.3 786.1h0.6v0.6h-0.6zM468.7 772.6h0.6v0.6h-0.6zM476.2 777.8h0.6v0.6h-0.6zM463.1 775.0h0.6v0.6h-0.6zM472.8 778.2h0.6v0.6h-0.6zM478.3 776.2h0.6v0.6h-0.6zM473.3 776.9h0.6v0.6h-0.6z" fill="#9c9c9c"/>
<polygon points="463.33,774.17 479.97,771.18 477.89,780.74 475.81,785.11 464.72,783.92" fill="url(#coreF)" filter="url(#b07)"/>
<path d="M470.8 773.7h0.6v0.6h-0.6zM466.8 773.7h0.6v0.6h-0.6zM472.1 781.3h0.6v0.6h-0.6zM471.3 779.2h0.6v0.6h-0.6zM469.4 773.9h0.6v0.6h-0.6zM469.2 779.0h0.6v0.6h-0.6zM475.9 774.4h0.6v0.6h-0.6zM476.7 773.1h0.6v0.6h-0.6zM471.5 778.8h0.6v0.6h-0.6zM469.0 778.6h0.6v0.6h-0.6zM478.1 779.0h0.6v0.6h-0.6zM473.9 780.1h0.6v0.6h-0.6zM468.5 774.2h0.6v0.6h-0.6zM465.2 780.5h0.6v0.6h-0.6zM471.1 783.7h0.6v0.6h-0.6zM475.1 775.5h0.6v0.6h-0.6zM480.4 779.6h0.6v0.6h-0.6zM471.5 771.3h0.6v0.6h-0.6zM467.2 775.6h0.6v0.6h-0.6zM471.4 773.8h0.6v0.6h-0.6zM469.6 780.1h0.6v0.6h-0.6zM477.0 774.5h0.6v0.6h-0.6zM475.2 782.7h0.6v0.6h-0.6zM464.9 777.3h0.6v0.6h-0.6zM466.2 780.1h0.6v0.6h-0.6zM468.9 779.3h0.6v0.6h-0.6zM465.5 780.3h0.6v0.6h-0.6zM465.1 783.7h0.6v0.6h-0.6zM478.1 775.4h0.6v0.6h-0.6zM474.4 775.7h0.6v0.6h-0.6zM467.2 784.2h0.6v0.6h-0.6zM477.6 777.3h0.6v0.6h-0.6zM473.0 779.2h0.6v0.6h-0.6zM470.7 780.4h0.6v0.6h-0.6zM473.5 773.6h0.6v0.6h-0.6zM468.9 783.3h0.6v0.6h-0.6zM471.6 782.7h0.6v0.6h-0.6zM476.1 783.5h0.6v0.6h-0.6zM473.7 781.5h0.6v0.6h-0.6zM463.9 783.5h0.6v0.6h-0.6zM472.4 778.2h0.6v0.6h-0.6zM472.3 781.5h0.6v0.6h-0.6zM468.8 782.4h0.6v0.6h-0.6zM469.8 781.0h0.6v0.6h-0.6zM468.5 777.0h0.6v0.6h-0.6zM476.3 772.9h0.6v0.6h-0.6zM475.3 785.8h0.6v0.6h-0.6zM478.5 771.7h0.6v0.6h-0.6zM464.1 779.3h0.6v0.6h-0.6zM478.3 772.7h0.6v0.6h-0.6zM468.6 779.7h0.6v0.6h-0.6zM472.0 785.3h0.6v0.6h-0.6zM473.6 778.7h0.6v0.6h-0.6zM471.3 775.6h0.6v0.6h-0.6zM467.9 780.9h0.6v0.6h-0.6zM465.3 780.7h0.6v0.6h-0.6zM464.4 779.6h0.6v0.6h-0.6zM466.5 775.7h0.6v0.6h-0.6zM464.0 773.8h0.6v0.6h-0.6zM468.3 783.3h0.6v0.6h-0.6z" fill="#505050"/>
</g>
<line x1="482.74" y1="748.1" x2="482.74" y2="787.9" stroke="#bcbcbc" stroke-width="1.2" />
<line x1="460.1" y1="768" x2="506.3" y2="768" stroke="#bcbcbc" stroke-width="1.2" />
<rect x="460.1" y="748.1" width="46.2" height="39.8" fill="none" stroke="#939393" stroke-width="1.4"/>
<text x="462" y="753.2" font-size="4.75" text-anchor="start" font-weight="normal" fill="#2a2a2a" >Vβ3.1</text>
<text x="504.8" y="753.2" font-size="4.75" text-anchor="end" font-weight="normal" fill="#2a2a2a" >Vβ13.6</text>
<text x="504.8" y="784.9" font-size="4.75" text-anchor="end" font-weight="normal" fill="#2a2a2a" >Vβ8</text>
<text x="457.7" y="788.9" font-size="2.8" text-anchor="end" fill="#777" >10</text>
<text x="460.1" y="791.9" font-size="2.8" text-anchor="middle" fill="#777" >10</text>
<text x="457.7" y="778.95" font-size="2.8" text-anchor="end" fill="#777" >10</text>
<text x="471.65" y="791.9" font-size="2.8" text-anchor="middle" fill="#777" >10</text>
<text x="457.7" y="769" font-size="2.8" text-anchor="end" fill="#777" >10</text>
<text x="483.2" y="791.9" font-size="2.8" text-anchor="middle" fill="#777" >10</text>
<text x="457.7" y="759.05" font-size="2.8" text-anchor="end" fill="#777" >10</text>
<text x="494.75" y="791.9" font-size="2.8" text-anchor="middle" fill="#777" >10</text>
<text x="457.7" y="749.1" font-size="2.8" text-anchor="end" fill="#777" >10</text>
<text x="506.3" y="791.9" font-size="2.8" text-anchor="middle" fill="#777" >10</text>
<text x="483.2" y="796.9" font-size="3.4" text-anchor="middle" fill="#555" >FL1-H</text>
<text transform="translate(450.1 768) rotate(-90)" font-size="3.4" text-anchor="middle" fill="#555">FL2-H</text>
<text x="300.4" y="802.4" font-size="3.3" text-anchor="middle" fill="#666" >Data.037</text>
<g>
<path d="M282.0 832.3h0.6v0.6h-0.6zM289.9 826.7h0.6v0.6h-0.6zM286.7 836.7h0.6v0.6h-0.6zM279.7 827.8h0.6v0.6h-0.6zM292.0 828.3h0.6v0.6h-0.6zM297.5 828.7h0.6v0.6h-0.6zM282.5 834.6h0.6v0.6h-0.6zM285.4 837.6h0.6v0.6h-0.6zM291.8 834.7h0.6v0.6h-0.6zM294.3 830.5h0.6v0.6h-0.6z" fill="#dadada"/>
</g>
<ellipse cx="309.64" cy="815.64" rx="6" ry="1.7" transform="rotate(-45 309.64 815.64)" fill="#555" filter="url(#b05)"/>
<ellipse cx="309.64" cy="815.64" rx="10" ry="3.8" transform="rotate(-45 309.64 815.64)" fill="none" stroke="#666" stroke-width="0.6"/>
<ellipse cx="309.64" cy="815.64" rx="8.2" ry="2.96" transform="rotate(-45 309.64 815.64)" fill="none" stroke="#888" stroke-width="0.45"/>
<line x1="301.09" y1="803.7" x2="301.09" y2="843.5" stroke="#bcbcbc" stroke-width="1.2" />
<line x1="277.3" y1="823.84" x2="323.5" y2="823.84" stroke="#bcbcbc" stroke-width="1.2" />
<rect x="277.3" y="803.7" width="46.2" height="39.8" fill="none" stroke="#939393" stroke-width="1.4"/>
<text x="279.2" y="808.8" font-size="4.75" text-anchor="start" font-weight="normal" fill="#2a2a2a" >Vβ5.2</text>
<text x="322" y="808.8" font-size="4.75" text-anchor="end" font-weight="normal" fill="#2a2a2a" >Vβ2</text>
<text x="322" y="840.5" font-size="4.75" text-anchor="end" font-weight="normal" fill="#2a2a2a" >Vβ12</text>
<text x="274.9" y="844.5" font-size="2.8" text-anchor="end" fill="#777" >10</text>
<text x="277.3" y="847.5" font-size="2.8" text-anchor="middle" fill="#777" >10</text>
<text x="274.9" y="834.55" font-size="2.8" text-anchor="end" fill="#777" >10</text>
<text x="288.85" y="847.5" font-size="2.8" text-anchor="middle" fill="#777" >10</text>
<text x="274.9" y="824.6" font-size="2.8" text-anchor="end" fill="#777" >10</text>
<text x="300.4" y="847.5" font-size="2.8" text-anchor="middle" fill="#777" >10</text>
<text x="274.9" y="814.65" font-size="2.8" text-anchor="end" fill="#777" >10</text>
<text x="311.95" y="847.5" font-size="2.8" text-anchor="middle" fill="#777" >10</text>
<text x="274.9" y="804.7" font-size="2.8" text-anchor="end" fill="#777" >10</text>
<text x="323.5" y="847.5" font-size="2.8" text-anchor="middle" fill="#777" >10</text>
<text x="300.4" y="852.5" font-size="3.4" text-anchor="middle" fill="#555" >FL1-H</text>
<text transform="translate(267.3 823.6) rotate(-90)" font-size="3.4" text-anchor="middle" fill="#555">FL2-H</text>
<text x="361.2" y="802.4" font-size="3.3" text-anchor="middle" fill="#666" >Data.038</text>
<g>
<polygon points="339.25,828.77 349.65,827.38 358.89,825.59 356.58,836.73 354.73,842.5 339.25,842.5" fill="#c4c4c4" filter="url(#b1)"/>
<path d="M348.0 833.1h0.6v0.6h-0.6zM355.7 836.6h0.6v0.6h-0.6zM344.8 840.9h0.6v0.6h-0.6zM357.9 828.3h0.6v0.6h-0.6zM352.5 834.2h0.6v0.6h-0.6zM349.3 834.8h0.6v0.6h-0.6zM353.9 841.3h0.6v0.6h-0.6zM353.4 833.0h0.6v0.6h-0.6zM339.3 831.1h0.6v0.6h-0.6zM340.9 839.7h0.6v0.6h-0.6zM351.5 841.2h0.6v0.6h-0.6zM352.5 830.6h0.6v0.6h-0.6zM344.7 831.1h0.6v0.6h-0.6zM346.4 827.9h0.6v0.6h-0.6zM351.1 834.6h0.6v0.6h-0.6zM356.6 832.1h0.6v0.6h-0.6zM348.7 829.6h0.6v0.6h-0.6zM356.6 835.5h0.6v0.6h-0.6zM352.6 831.4h0.6v0.6h-0.6zM351.6 826.0h0.6v0.6h-0.6zM348.7 830.5h0.6v0.6h-0.6zM339.7 829.0h0.6v0.6h-0.6zM350.1 830.6h0.6v0.6h-0.6zM355.3 828.4h0.6v0.6h-0.6zM342.3 837.7h0.6v0.6h-0.6zM361.3 827.2h0.6v0.6h-0.6zM340.5 830.9h0.6v0.6h-0.6zM354.9 834.7h0.6v0.6h-0.6zM356.4 833.7h0.6v0.6h-0.6zM345.4 839.2h0.6v0.6h-0.6zM353.0 838.7h0.6v0.6h-0.6zM346.8 830.1h0.6v0.6h-0.6zM355.4 834.3h0.6v0.6h-0.6zM342.7 835.5h0.6v0.6h-0.6zM342.5 828.6h0.6v0.6h-0.6zM349.9 832.1h0.6v0.6h-0.6zM353.3 831.8h0.6v0.6h-0.6zM344.2 837.3h0.6v0.6h-0.6zM340.5 836.0h0.6v0.6h-0.6zM357.5 829.7h0.6v0.6h-0.6zM350.0 842.1h0.6v0.6h-0.6zM354.3 834.6h0.6v0.6h-0.6zM352.5 834.1h0.6v0.6h-0.6zM351.6 839.6h0.6v0.6h-0.6zM340.9 834.2h0.6v0.6h-0.6zM356.1 833.3h0.6v0.6h-0.6zM347.4 831.8h0.6v0.6h-0.6zM344.2 838.4h0.6v0.6h-0.6zM339.9 835.8h0.6v0.6h-0.6zM355.3 837.2h0.6v0.6h-0.6zM353.8 830.3h0.6v0.6h-0.6zM351.4 830.3h0.6v0.6h-0.6zM346.8 829.8h0.6v0.6h-0.6zM348.8 827.7h0.6v0.6h-0.6zM343.2 834.4h0.6v0.6h-0.6zM351.9 841.5h0.6v0.6h-0.6zM353.6 832.1h0.6v0.6h-0.6zM351.5 831.7h0.6v0.6h-0.6zM342.3 833.5h0.6v0.6h-0.6zM348.3 828.6h0.6v0.6h-0.6zM349.5 829.6h0.6v0.6h-0.6zM343.2 833.0h0.6v0.6h-0.6zM351.9 838.3h0.6v0.6h-0.6zM344.6 837.2h0.6v0.6h-0.6zM343.4 838.7h0.6v0.6h-0.6zM349.8 840.2h0.6v0.6h-0.6zM341.6 833.9h0.6v0.6h-0.6zM340.3 835.7h0.6v0.6h-0.6zM356.2 830.8h0.6v0.6h-0.6zM355.0 829.6h0.6v0.6h-0.6zM352.9 834.6h0.6v0.6h-0.6zM349.2 838.6h0.6v0.6h-0.6zM341.9 833.0h0.6v0.6h-0.6zM355.9 827.3h0.6v0.6h-0.6zM342.1 835.5h0.6v0.6h-0.6zM352.8 838.4h0.6v0.6h-0.6zM351.4 840.0h0.6v0.6h-0.6zM348.8 835.7h0.6v0.6h-0.6zM342.5 842.3h0.6v0.6h-0.6zM342.8 842.4h0.6v0.6h-0.6z" fill="#9c9c9c"/>
<polygon points="341.33,829.77 357.97,826.78 355.89,836.34 353.81,840.71 342.72,839.52" fill="url(#coreF)" filter="url(#b07)"/>
<path d="M354.8 835.5h0.6v0.6h-0.6zM348.2 829.1h0.6v0.6h-0.6zM346.3 833.0h0.6v0.6h-0.6zM347.3 830.6h0.6v0.6h-0.6zM348.7 838.1h0.6v0.6h-0.6zM353.0 840.2h0.6v0.6h-0.6zM357.2 832.8h0.6v0.6h-0.6zM347.9 827.1h0.6v0.6h-0.6zM351.7 840.0h0.6v0.6h-0.6zM349.0 831.0h0.6v0.6h-0.6zM358.5 828.0h0.6v0.6h-0.6zM354.9 836.1h0.6v0.6h-0.6zM352.6 838.9h0.6v0.6h-0.6zM349.7 832.8h0.6v0.6h-0.6zM353.0 827.9h0.6v0.6h-0.6zM349.2 832.1h0.6v0.6h-0.6zM348.8 829.7h0.6v0.6h-0.6zM353.7 827.7h0.6v0.6h-0.6zM354.0 832.7h0.6v0.6h-0.6zM355.0 827.9h0.6v0.6h-0.6zM350.6 838.3h0.6v0.6h-0.6zM346.1 838.8h0.6v0.6h-0.6zM339.1 832.4h0.6v0.6h-0.6zM342.4 832.3h0.6v0.6h-0.6zM352.8 831.2h0.6v0.6h-0.6zM342.7 831.3h0.6v0.6h-0.6zM345.0 829.2h0.6v0.6h-0.6zM350.8 837.8h0.6v0.6h-0.6zM352.4 839.6h0.6v0.6h-0.6zM342.5 828.3h0.6v0.6h-0.6zM345.6 834.0h0.6v0.6h-0.6zM347.2 833.1h0.6v0.6h-0.6zM347.6 834.9h0.6v0.6h-0.6zM344.8 834.2h0.6v0.6h-0.6zM344.5 838.9h0.6v0.6h-0.6zM348.4 832.2h0.6v0.6h-0.6zM343.8 829.4h0.6v0.6h-0.6zM349.6 831.5h0.6v0.6h-0.6zM351.9 830.0h0.6v0.6h-0.6zM342.4 834.2h0.6v0.6h-0.6zM348.5 831.6h0.6v0.6h-0.6zM349.2 835.9h0.6v0.6h-0.6zM346.6 831.2h0.6v0.6h-0.6zM353.5 840.6h0.6v0.6h-0.6zM353.6 828.6h0.6v0.6h-0.6zM353.4 836.7h0.6v0.6h-0.6zM353.4 835.8h0.6v0.6h-0.6zM350.2 833.4h0.6v0.6h-0.6zM345.3 834.9h0.6v0.6h-0.6zM351.3 836.5h0.6v0.6h-0.6zM350.6 834.4h0.6v0.6h-0.6zM356.7 830.2h0.6v0.6h-0.6zM346.8 833.3h0.6v0.6h-0.6zM352.5 832.2h0.6v0.6h-0.6zM353.9 837.3h0.6v0.6h-0.6zM352.2 835.3h0.6v0.6h-0.6zM354.1 831.7h0.6v0.6h-0.6zM344.6 830.4h0.6v0.6h-0.6zM349.7 832.7h0.6v0.6h-0.6zM348.4 831.6h0.6v0.6h-0.6z" fill="#505050"/>
</g>
<line x1="360.74" y1="803.7" x2="360.74" y2="843.5" stroke="#bcbcbc" stroke-width="1.2" />
<line x1="338.1" y1="823.6" x2="384.3" y2="823.6" stroke="#bcbcbc" stroke-width="1.2" />
<rect x="338.1" y="803.7" width="46.2" height="39.8" fill="none" stroke="#939393" stroke-width="1.4"/>
<text x="340" y="808.8" font-size="4.75" text-anchor="start" font-weight="normal" fill="#2a2a2a" >Vβ23</text>
<text x="382.8" y="808.8" font-size="4.75" text-anchor="end" font-weight="normal" fill="#2a2a2a" >Vβ1</text>
<text x="382.8" y="840.5" font-size="4.75" text-anchor="end" font-weight="normal" fill="#2a2a2a" >Vβ21.3</text>
<text x="335.7" y="844.5" font-size="2.8" text-anchor="end" fill="#777" >10</text>
<text x="338.1" y="847.5" font-size="2.8" text-anchor="middle" fill="#777" >10</text>
<text x="335.7" y="834.55" font-size="2.8" text-anchor="end" fill="#777" >10</text>
<text x="349.65" y="847.5" font-size="2.8" text-anchor="middle" fill="#777" >10</text>
<text x="335.7" y="824.6" font-size="2.8" text-anchor="end" fill="#777" >10</text>
<text x="361.2" y="847.5" font-size="2.8" text-anchor="middle" fill="#777" >10</text>
<text x="335.7" y="814.65" font-size="2.8" text-anchor="end" fill="#777" >10</text>
<text x="372.75" y="847.5" font-size="2.8" text-anchor="middle" fill="#777" >10</text>
<text x="335.7" y="804.7" font-size="2.8" text-anchor="end" fill="#777" >10</text>
<text x="384.3" y="847.5" font-size="2.8" text-anchor="middle" fill="#777" >10</text>
<text x="361.2" y="852.5" font-size="3.4" text-anchor="middle" fill="#555" >FL1-H</text>
<text transform="translate(328.1 823.6) rotate(-90)" font-size="3.4" text-anchor="middle" fill="#555">FL2-H</text>
<text x="422.3" y="802.4" font-size="3.3" text-anchor="middle" fill="#666" >Data.039</text>
<g>
<polygon points="400.36,828.77 410.75,827.38 419.99,825.59 417.68,836.73 415.83,842.5 400.36,842.5" fill="#c4c4c4" filter="url(#b1)"/>
<path d="M409.8 827.9h0.6v0.6h-0.6zM419.2 826.9h0.6v0.6h-0.6zM408.7 835.2h0.6v0.6h-0.6zM409.6 840.9h0.6v0.6h-0.6zM403.3 835.3h0.6v0.6h-0.6zM406.6 828.4h0.6v0.6h-0.6zM401.0 832.7h0.6v0.6h-0.6zM406.5 841.7h0.6v0.6h-0.6zM417.1 836.9h0.6v0.6h-0.6zM419.1 828.1h0.6v0.6h-0.6zM414.1 840.0h0.6v0.6h-0.6zM410.6 840.8h0.6v0.6h-0.6zM414.9 828.5h0.6v0.6h-0.6zM414.2 839.2h0.6v0.6h-0.6zM413.7 828.9h0.6v0.6h-0.6zM409.9 830.1h0.6v0.6h-0.6zM410.9 842.4h0.6v0.6h-0.6zM411.4 842.2h0.6v0.6h-0.6zM404.2 840.2h0.6v0.6h-0.6zM415.2 832.1h0.6v0.6h-0.6zM415.3 841.6h0.6v0.6h-0.6zM411.3 830.3h0.6v0.6h-0.6zM408.3 831.7h0.6v0.6h-0.6zM403.7 830.2h0.6v0.6h-0.6zM404.1 834.3h0.6v0.6h-0.6zM408.4 840.4h0.6v0.6h-0.6zM410.1 830.0h0.6v0.6h-0.6zM412.5 838.6h0.6v0.6h-0.6zM414.6 831.4h0.6v0.6h-0.6zM413.2 840.5h0.6v0.6h-0.6zM404.3 828.4h0.6v0.6h-0.6zM418.7 826.5h0.6v0.6h-0.6zM416.8 834.4h0.6v0.6h-0.6zM404.4 829.1h0.6v0.6h-0.6zM403.6 835.0h0.6v0.6h-0.6zM405.5 840.4h0.6v0.6h-0.6zM412.0 840.3h0.6v0.6h-0.6zM403.3 828.7h0.6v0.6h-0.6zM403.5 831.0h0.6v0.6h-0.6zM411.0 833.2h0.6v0.6h-0.6zM404.8 839.3h0.6v0.6h-0.6zM400.4 842.0h0.6v0.6h-0.6zM404.4 830.6h0.6v0.6h-0.6zM407.3 831.2h0.6v0.6h-0.6zM411.6 842.5h0.6v0.6h-0.6zM418.6 841.2h0.6v0.6h-0.6zM409.8 834.2h0.6v0.6h-0.6zM416.1 826.8h0.6v0.6h-0.6zM408.1 838.3h0.6v0.6h-0.6zM412.8 842.3h0.6v0.6h-0.6zM416.1 836.5h0.6v0.6h-0.6zM417.2 830.7h0.6v0.6h-0.6zM411.1 835.7h0.6v0.6h-0.6zM416.0 834.2h0.6v0.6h-0.6zM416.6 837.5h0.6v0.6h-0.6zM413.3 842.4h0.6v0.6h-0.6zM401.3 841.8h0.6v0.6h-0.6zM406.8 831.4h0.6v0.6h-0.6zM410.9 840.1h0.6v0.6h-0.6zM400.5 837.5h0.6v0.6h-0.6zM407.8 829.3h0.6v0.6h-0.6zM411.5 835.9h0.6v0.6h-0.6zM416.9 831.7h0.6v0.6h-0.6zM414.4 834.0h0.6v0.6h-0.6zM409.5 838.8h0.6v0.6h-0.6zM409.4 832.6h0.6v0.6h-0.6zM405.5 829.2h0.6v0.6h-0.6zM406.8 830.7h0.6v0.6h-0.6zM415.1 836.0h0.6v0.6h-0.6zM415.6 828.9h0.6v0.6h-0.6zM417.5 836.0h0.6v0.6h-0.6zM416.1 840.2h0.6v0.6h-0.6zM404.1 831.4h0.6v0.6h-0.6zM410.1 833.8h0.6v0.6h-0.6zM412.2 827.6h0.6v0.6h-0.6zM407.2 841.7h0.6v0.6h-0.6zM403.6 841.8h0.6v0.6h-0.6zM412.2 838.6h0.6v0.6h-0.6zM401.2 837.4h0.6v0.6h-0.6zM410.3 829.4h0.6v0.6h-0.6z" fill="#9c9c9c"/>
<polygon points="402.43,829.77 419.07,826.78 416.99,836.34 414.91,840.71 403.82,839.52" fill="url(#coreF)" filter="url(#b07)"/>
<path d="M413.1 827.2h0.6v0.6h-0.6zM408.3 832.4h0.6v0.6h-0.6zM415.8 829.5h0.6v0.6h-0.6zM403.6 837.4h0.6v0.6h-0.6zM412.3 837.5h0.6v0.6h-0.6zM415.1 831.1h0.6v0.6h-0.6zM413.3 829.3h0.6v0.6h-0.6zM415.3 830.5h0.6v0.6h-0.6zM414.6 839.9h0.6v0.6h-0.6zM411.9 838.9h0.6v0.6h-0.6zM407.9 835.0h0.6v0.6h-0.6zM417.9 830.1h0.6v0.6h-0.6zM412.6 837.2h0.6v0.6h-0.6zM415.2 838.0h0.6v0.6h-0.6zM415.3 829.1h0.6v0.6h-0.6zM405.8 831.8h0.6v0.6h-0.6zM411.2 833.5h0.6v0.6h-0.6zM406.6 833.9h0.6v0.6h-0.6zM403.6 832.0h0.6v0.6h-0.6zM415.1 827.6h0.6v0.6h-0.6zM409.6 834.0h0.6v0.6h-0.6zM406.2 837.4h0.6v0.6h-0.6zM403.6 834.7h0.6v0.6h-0.6zM411.0 830.0h0.6v0.6h-0.6zM401.4 835.2h0.6v0.6h-0.6zM414.1 835.5h0.6v0.6h-0.6zM412.9 830.0h0.6v0.6h-0.6zM415.2 830.2h0.6v0.6h-0.6zM403.4 836.2h0.6v0.6h-0.6zM414.0 834.1h0.6v0.6h-0.6zM414.0 835.2h0.6v0.6h-0.6zM416.4 837.1h0.6v0.6h-0.6zM405.3 837.3h0.6v0.6h-0.6zM411.7 834.1h0.6v0.6h-0.6zM405.9 841.9h0.6v0.6h-0.6zM410.9 834.5h0.6v0.6h-0.6zM408.3 830.3h0.6v0.6h-0.6zM415.8 831.9h0.6v0.6h-0.6zM411.8 838.8h0.6v0.6h-0.6zM413.3 836.5h0.6v0.6h-0.6zM403.1 832.5h0.6v0.6h-0.6zM405.3 833.2h0.6v0.6h-0.6zM414.2 837.8h0.6v0.6h-0.6zM408.0 839.2h0.6v0.6h-0.6zM409.8 839.3h0.6v0.6h-0.6zM410.2 841.2h0.6v0.6h-0.6zM411.0 830.3h0.6v0.6h-0.6zM416.9 832.0h0.6v0.6h-0.6zM410.0 834.1h0.6v0.6h-0.6zM418.2 830.8h0.6v0.6h-0.6zM406.7 832.5h0.6v0.6h-0.6zM415.1 833.2h0.6v0.6h-0.6zM411.0 839.4h0.6v0.6h-0.6zM415.2 837.4h0.6v0.6h-0.6zM412.8 830.7h0.6v0.6h-0.6zM410.3 836.5h0.6v0.6h-0.6zM411.6 837.0h0.6v0.6h-0.6zM418.0 831.4h0.6v0.6h-0.6zM414.2 831.8h0.6v0.6h-0.6zM410.0 832.0h0.6v0.6h-0.6z" fill="#505050"/>
</g>
<line x1="421.84" y1="803.7" x2="421.84" y2="843.5" stroke="#bcbcbc" stroke-width="1.2" />
<line x1="399.2" y1="823.6" x2="445.4" y2="823.6" stroke="#bcbcbc" stroke-width="1.2" />
<rect x="399.2" y="803.7" width="46.2" height="39.8" fill="none" stroke="#939393" stroke-width="1.4"/>
<text x="401.1" y="808.8" font-size="4.75" text-anchor="start" font-weight="normal" fill="#2a2a2a" >Vβ11</text>
<text x="443.9" y="808.8" font-size="4.75" text-anchor="end" font-weight="normal" fill="#2a2a2a" >Vβ22</text>
<text x="443.9" y="840.5" font-size="4.75" text-anchor="end" font-weight="normal" fill="#2a2a2a" >Vβ14</text>
<text x="396.8" y="844.5" font-size="2.8" text-anchor="end" fill="#777" >10</text>
<text x="399.2" y="847.5" font-size="2.8" text-anchor="middle" fill="#777" >10</text>
<text x="396.8" y="834.55" font-size="2.8" text-anchor="end" fill="#777" >10</text>
<text x="410.75" y="847.5" font-size="2.8" text-anchor="middle" fill="#777" >10</text>
<text x="396.8" y="824.6" font-size="2.8" text-anchor="end" fill="#777" >10</text>
<text x="422.3" y="847.5" font-size="2.8" text-anchor="middle" fill="#777" >10</text>
<text x="396.8" y="814.65" font-size="2.8" text-anchor="end" fill="#777" >10</text>
<text x="433.85" y="847.5" font-size="2.8" text-anchor="middle" fill="#777" >10</text>
<text x="396.8" y="804.7" font-size="2.8" text-anchor="end" fill="#777" >10</text>
<text x="445.4" y="847.5" font-size="2.8" text-anchor="middle" fill="#777" >10</text>
<text x="422.3" y="852.5" font-size="3.4" text-anchor="middle" fill="#555" >FL1-H</text>
<text transform="translate(389.2 823.6) rotate(-90)" font-size="3.4" text-anchor="middle" fill="#555">FL2-H</text>
<text x="483.2" y="802.4" font-size="3.3" text-anchor="middle" fill="#666" >Data.040</text>
<g>
<polygon points="461.25,828.77 471.65,827.38 480.89,825.59 478.58,836.73 476.73,842.5 461.25,842.5" fill="#c4c4c4" filter="url(#b1)"/>
<path d="M471.6 842.1h0.6v0.6h-0.6zM471.9 841.8h0.6v0.6h-0.6zM475.5 835.1h0.6v0.6h-0.6zM468.1 839.4h0.6v0.6h-0.6zM468.7 829.6h0.6v0.6h-0.6zM479.5 830.5h0.6v0.6h-0.6zM472.3 831.9h0.6v0.6h-0.6zM476.8 830.2h0.6v0.6h-0.6zM464.1 840.6h0.6v0.6h-0.6zM466.6 831.1h0.6v0.6h-0.6zM467.4 839.0h0.6v0.6h-0.6zM473.5 842.2h0.6v0.6h-0.6zM475.6 832.6h0.6v0.6h-0.6zM463.8 829.7h0.6v0.6h-0.6zM479.7 826.3h0.6v0.6h-0.6zM466.4 838.5h0.6v0.6h-0.6zM476.8 840.9h0.6v0.6h-0.6zM469.6 839.8h0.6v0.6h-0.6zM466.9 842.4h0.6v0.6h-0.6zM470.0 837.9h0.6v0.6h-0.6zM466.1 838.8h0.6v0.6h-0.6zM470.7 834.5h0.6v0.6h-0.6zM476.5 834.7h0.6v0.6h-0.6zM477.1 827.7h0.6v0.6h-0.6zM470.5 833.3h0.6v0.6h-0.6zM466.9 833.5h0.6v0.6h-0.6zM461.6 835.6h0.6v0.6h-0.6zM474.8 835.0h0.6v0.6h-0.6zM469.9 831.2h0.6v0.6h-0.6zM462.1 831.5h0.6v0.6h-0.6zM463.2 837.4h0.6v0.6h-0.6zM471.5 831.5h0.6v0.6h-0.6zM471.1 838.6h0.6v0.6h-0.6zM463.1 835.7h0.6v0.6h-0.6zM473.4 832.6h0.6v0.6h-0.6zM471.8 830.2h0.6v0.6h-0.6zM462.7 834.4h0.6v0.6h-0.6zM474.0 835.6h0.6v0.6h-0.6zM466.3 837.0h0.6v0.6h-0.6zM461.9 832.6h0.6v0.6h-0.6zM466.3 841.1h0.6v0.6h-0.6zM477.7 837.3h0.6v0.6h-0.6zM482.2 831.4h0.6v0.6h-0.6zM463.8 841.1h0.6v0.6h-0.6zM467.7 839.1h0.6v0.6h-0.6zM476.2 829.5h0.6v0.6h-0.6zM464.6 833.9h0.6v0.6h-0.6zM475.8 834.4h0.6v0.6h-0.6zM478.7 832.4h0.6v0.6h-0.6zM471.1 826.4h0.6v0.6h-0.6zM473.0 836.9h0.6v0.6h-0.6zM471.0 839.3h0.6v0.6h-0.6zM465.7 833.7h0.6v0.6h-0.6zM476.8 830.5h0.6v0.6h-0.6zM472.8 831.9h0.6v0.6h-0.6zM473.9 827.8h0.6v0.6h-0.6zM476.7 835.4h0.6v0.6h-0.6zM477.9 832.3h0.6v0.6h-0.6zM473.2 829.0h0.6v0.6h-0.6zM474.6 830.9h0.6v0.6h-0.6zM465.9 832.1h0.6v0.6h-0.6zM464.0 839.8h0.6v0.6h-0.6zM462.2 834.5h0.6v0.6h-0.6zM470.3 832.6h0.6v0.6h-0.6zM480.0 834.3h0.6v0.6h-0.6zM480.5 826.3h0.6v0.6h-0.6zM472.1 834.5h0.6v0.6h-0.6zM471.8 828.7h0.6v0.6h-0.6zM464.4 833.7h0.6v0.6h-0.6zM471.6 828.6h0.6v0.6h-0.6zM461.9 839.4h0.6v0.6h-0.6zM476.7 842.0h0.6v0.6h-0.6zM477.2 831.6h0.6v0.6h-0.6zM475.0 836.9h0.6v0.6h-0.6zM469.5 828.5h0.6v0.6h-0.6zM474.0 827.4h0.6v0.6h-0.6zM477.9 826.4h0.6v0.6h-0.6zM477.1 833.5h0.6v0.6h-0.6zM473.9 842.1h0.6v0.6h-0.6zM468.7 835.9h0.6v0.6h-0.6z" fill="#9c9c9c"/>
<polygon points="463.33,829.77 479.97,826.78 477.89,836.34 475.81,840.71 464.72,839.52" fill="url(#coreF)" filter="url(#b07)"/>
<path d="M474.9 836.2h0.6v0.6h-0.6zM471.3 831.3h0.6v0.6h-0.6zM469.1 839.4h0.6v0.6h-0.6zM465.9 838.8h0.6v0.6h-0.6zM474.0 828.4h0.6v0.6h-0.6zM467.8 837.4h0.6v0.6h-0.6zM477.5 827.5h0.6v0.6h-0.6zM479.1 829.7h0.6v0.6h-0.6zM470.2 831.5h0.6v0.6h-0.6zM478.9 829.8h0.6v0.6h-0.6zM472.2 833.0h0.6v0.6h-0.6zM472.1 837.4h0.6v0.6h-0.6zM468.4 831.3h0.6v0.6h-0.6zM464.5 830.3h0.6v0.6h-0.6zM475.4 828.8h0.6v0.6h-0.6zM469.0 829.2h0.6v0.6h-0.6zM473.6 841.2h0.6v0.6h-0.6zM470.4 830.9h0.6v0.6h-0.6zM467.1 831.0h0.6v0.6h-0.6zM471.5 834.0h0.6v0.6h-0.6zM476.0 835.8h0.6v0.6h-0.6zM474.1 825.6h0.6v0.6h-0.6zM469.3 832.5h0.6v0.6h-0.6zM472.4 834.4h0.6v0.6h-0.6zM475.7 831.3h0.6v0.6h-0.6zM476.2 832.6h0.6v0.6h-0.6zM474.3 831.6h0.6v0.6h-0.6zM475.4 839.9h0.6v0.6h-0.6zM472.7 832.4h0.6v0.6h-0.6zM473.4 829.0h0.6v0.6h-0.6zM466.1 838.4h0.6v0.6h-0.6zM463.9 832.7h0.6v0.6h-0.6zM475.0 836.0h0.6v0.6h-0.6zM475.7 835.6h0.6v0.6h-0.6zM476.4 835.4h0.6v0.6h-0.6zM477.3 832.9h0.6v0.6h-0.6zM466.0 835.6h0.6v0.6h-0.6zM471.2 829.5h0.6v0.6h-0.6zM474.9 836.0h0.6v0.6h-0.6zM475.5 840.6h0.6v0.6h-0.6zM472.6 836.9h0.6v0.6h-0.6zM470.3 828.8h0.6v0.6h-0.6zM477.9 833.3h0.6v0.6h-0.6zM476.5 831.8h0.6v0.6h-0.6zM476.5 839.3h0.6v0.6h-0.6zM475.1 832.7h0.6v0.6h-0.6zM464.9 831.9h0.6v0.6h-0.6zM467.5 831.9h0.6v0.6h-0.6zM469.9 831.1h0.6v0.6h-0.6zM468.8 833.6h0.6v0.6h-0.6zM472.3 835.9h0.6v0.6h-0.6zM473.7 828.8h0.6v0.6h-0.6zM475.2 828.9h0.6v0.6h-0.6zM467.3 832.7h0.6v0.6h-0.6zM474.2 836.9h0.6v0.6h-0.6zM465.4 831.9h0.6v0.6h-0.6zM467.4 833.8h0.6v0.6h-0.6zM465.1 835.6h0.6v0.6h-0.6zM472.1 838.6h0.6v0.6h-0.6zM464.5 836.3h0.6v0.6h-0.6z" fill="#505050"/>
</g>
<line x1="482.74" y1="803.7" x2="482.74" y2="843.5" stroke="#bcbcbc" stroke-width="1.2" />
<line x1="460.1" y1="823.6" x2="506.3" y2="823.6" stroke="#bcbcbc" stroke-width="1.2" />
<rect x="460.1" y="803.7" width="46.2" height="39.8" fill="none" stroke="#939393" stroke-width="1.4"/>
<text x="462" y="808.8" font-size="4.75" text-anchor="start" font-weight="normal" fill="#2a2a2a" >Vβ13.2</text>
<text x="504.8" y="808.8" font-size="4.75" text-anchor="end" font-weight="normal" fill="#2a2a2a" >Vβ4</text>
<text x="504.8" y="840.5" font-size="4.75" text-anchor="end" font-weight="normal" fill="#2a2a2a" >Vβ7.2</text>
<text x="457.7" y="844.5" font-size="2.8" text-anchor="end" fill="#777" >10</text>
<text x="460.1" y="847.5" font-size="2.8" text-anchor="middle" fill="#777" >10</text>
<text x="457.7" y="834.55" font-size="2.8" text-anchor="end" fill="#777" >10</text>
<text x="471.65" y="847.5" font-size="2.8" text-anchor="middle" fill="#777" >10</text>
<text x="457.7" y="824.6" font-size="2.8" text-anchor="end" fill="#777" >10</text>
<text x="483.2" y="847.5" font-size="2.8" text-anchor="middle" fill="#777" >10</text>
<text x="457.7" y="814.65" font-size="2.8" text-anchor="end" fill="#777" >10</text>
<text x="494.75" y="847.5" font-size="2.8" text-anchor="middle" fill="#777" >10</text>
<text x="457.7" y="804.7" font-size="2.8" text-anchor="end" fill="#777" >10</text>
<text x="506.3" y="847.5" font-size="2.8" text-anchor="middle" fill="#777" >10</text>
<text x="483.2" y="852.5" font-size="3.4" text-anchor="middle" fill="#555" >FL1-H</text>
<text transform="translate(450.1 823.6) rotate(-90)" font-size="3.4" text-anchor="middle" fill="#555">FL2-H</text>
<text x="263.8" y="868.6" font-size="11" text-anchor="start" font-weight="bold" fill="#000" >G</text>
<polygon points="292.89,907.43 293.34,897.48 297.36,887.14 302.28,878.33 307.19,872.2 318.81,871.82 322.39,877.56 318.81,885.22 313.45,890.97 308.09,898.62 303.62,907.43" fill="#d6d6d6" filter="url(#b2)"/>
<polygon points="294.23,906.67 295.57,897.48 300.04,889.05 305.4,882.54 311.22,881.39 308.09,889.82 302.72,899.01 298.7,906.67" fill="#9e9e9e" filter="url(#b1)"/>
<path d="M319.1 877.8h0.6v0.6h-0.6zM311.9 894.5h0.6v0.6h-0.6zM310.3 894.4h0.6v0.6h-0.6zM298.3 902.5h0.6v0.6h-0.6zM303.3 906.0h0.6v0.6h-0.6zM314.6 872.0h0.6v0.6h-0.6zM321.9 876.9h0.6v0.6h-0.6zM296.4 894.3h0.6v0.6h-0.6zM302.1 891.2h0.6v0.6h-0.6zM303.4 887.9h0.6v0.6h-0.6zM304.1 896.8h0.6v0.6h-0.6zM298.0 890.1h0.6v0.6h-0.6zM299.2 901.0h0.6v0.6h-0.6zM300.2 901.8h0.6v0.6h-0.6zM304.4 889.0h0.6v0.6h-0.6zM307.7 893.6h0.6v0.6h-0.6zM310.8 887.2h0.6v0.6h-0.6zM301.7 889.4h0.6v0.6h-0.6zM308.6 884.6h0.6v0.6h-0.6zM317.3 887.3h0.6v0.6h-0.6zM303.5 894.7h0.6v0.6h-0.6zM296.7 895.1h0.6v0.6h-0.6zM300.0 906.4h0.6v0.6h-0.6zM300.9 887.6h0.6v0.6h-0.6zM317.5 881.3h0.6v0.6h-0.6zM297.9 892.9h0.6v0.6h-0.6zM307.8 887.7h0.6v0.6h-0.6zM298.0 902.8h0.6v0.6h-0.6zM295.4 896.2h0.6v0.6h-0.6zM312.7 889.3h0.6v0.6h-0.6zM309.6 901.0h0.6v0.6h-0.6zM307.5 896.1h0.6v0.6h-0.6zM303.8 877.8h0.6v0.6h-0.6zM316.3 884.2h0.6v0.6h-0.6zM300.8 882.4h0.6v0.6h-0.6zM297.8 901.8h0.6v0.6h-0.6zM296.4 895.9h0.6v0.6h-0.6zM312.1 882.7h0.6v0.6h-0.6zM302.1 885.7h0.6v0.6h-0.6zM312.1 872.9h0.6v0.6h-0.6zM305.5 886.6h0.6v0.6h-0.6zM297.3 888.4h0.6v0.6h-0.6zM315.8 885.1h0.6v0.6h-0.6zM302.3 897.7h0.6v0.6h-0.6zM316.8 874.2h0.6v0.6h-0.6zM308.9 890.7h0.6v0.6h-0.6zM303.3 900.4h0.6v0.6h-0.6zM311.7 888.9h0.6v0.6h-0.6zM293.4 900.3h0.6v0.6h-0.6zM308.4 889.5h0.6v0.6h-0.6zM306.4 896.4h0.6v0.6h-0.6zM319.0 877.9h0.6v0.6h-0.6zM316.8 882.8h0.6v0.6h-0.6zM304.2 880.2h0.6v0.6h-0.6zM295.8 892.5h0.6v0.6h-0.6zM303.2 902.5h0.6v0.6h-0.6zM311.8 885.8h0.6v0.6h-0.6zM311.3 882.3h0.6v0.6h-0.6zM311.1 875.9h0.6v0.6h-0.6zM319.3 887.0h0.6v0.6h-0.6zM310.2 893.5h0.6v0.6h-0.6zM302.2 898.9h0.6v0.6h-0.6zM317.1 874.9h0.6v0.6h-0.6zM311.1 891.0h0.6v0.6h-0.6zM307.9 892.5h0.6v0.6h-0.6zM311.0 878.1h0.6v0.6h-0.6zM313.4 886.2h0.6v0.6h-0.6zM309.1 896.9h0.6v0.6h-0.6zM295.8 895.2h0.6v0.6h-0.6zM294.1 897.4h0.6v0.6h-0.6zM320.2 876.3h0.6v0.6h-0.6zM310.7 875.1h0.6v0.6h-0.6zM315.5 886.4h0.6v0.6h-0.6zM318.6 881.1h0.6v0.6h-0.6zM313.9 884.9h0.6v0.6h-0.6zM312.6 890.2h0.6v0.6h-0.6zM298.3 896.2h0.6v0.6h-0.6zM311.2 890.8h0.6v0.6h-0.6zM318.6 873.3h0.6v0.6h-0.6zM303.9 898.4h0.6v0.6h-0.6zM314.1 873.9h0.6v0.6h-0.6zM298.9 900.7h0.6v0.6h-0.6zM302.3 896.1h0.6v0.6h-0.6zM297.0 891.3h0.6v0.6h-0.6zM318.0 876.5h0.6v0.6h-0.6zM300.7 887.5h0.6v0.6h-0.6zM301.9 905.1h0.6v0.6h-0.6zM298.5 903.4h0.6v0.6h-0.6zM306.1 888.0h0.6v0.6h-0.6zM303.9 901.1h0.6v0.6h-0.6zM309.1 885.7h0.6v0.6h-0.6zM298.7 888.1h0.6v0.6h-0.6zM310.7 885.3h0.6v0.6h-0.6zM304.1 890.3h0.6v0.6h-0.6zM307.1 898.0h0.6v0.6h-0.6zM300.1 884.0h0.6v0.6h-0.6zM315.9 883.6h0.6v0.6h-0.6zM302.6 902.1h0.6v0.6h-0.6zM318.3 879.9h0.6v0.6h-0.6zM307.9 879.3h0.6v0.6h-0.6zM308.1 878.6h0.6v0.6h-0.6zM315.6 882.1h0.6v0.6h-0.6zM307.5 892.3h0.6v0.6h-0.6zM315.4 873.0h0.6v0.6h-0.6zM301.6 901.2h0.6v0.6h-0.6zM302.1 882.8h0.6v0.6h-0.6zM299.2 899.2h0.6v0.6h-0.6zM319.8 880.5h0.6v0.6h-0.6zM297.0 891.3h0.6v0.6h-0.6zM304.4 898.9h0.6v0.6h-0.6zM309.5 878.7h0.6v0.6h-0.6zM306.4 873.3h0.6v0.6h-0.6zM319.2 881.7h0.6v0.6h-0.6zM310.2 874.5h0.6v0.6h-0.6zM300.4 905.2h0.6v0.6h-0.6zM312.0 872.5h0.6v0.6h-0.6zM300.0 897.9h0.6v0.6h-0.6zM305.4 901.0h0.6v0.6h-0.6zM315.5 874.1h0.6v0.6h-0.6zM312.6 886.4h0.6v0.6h-0.6zM301.1 905.8h0.6v0.6h-0.6zM299.2 906.8h0.6v0.6h-0.6zM298.1 903.2h0.6v0.6h-0.6zM313.3 888.7h0.6v0.6h-0.6zM314.8 886.6h0.6v0.6h-0.6zM311.7 892.4h0.6v0.6h-0.6zM304.6 904.9h0.6v0.6h-0.6zM305.1 888.8h0.6v0.6h-0.6zM307.2 883.0h0.6v0.6h-0.6zM306.7 894.0h0.6v0.6h-0.6zM309.2 892.1h0.6v0.6h-0.6zM309.4 892.4h0.6v0.6h-0.6zM307.5 892.0h0.6v0.6h-0.6zM294.1 890.0h0.6v0.6h-0.6zM314.2 881.2h0.6v0.6h-0.6zM308.6 887.0h0.6v0.6h-0.6zM295.8 893.1h0.6v0.6h-0.6zM309.9 894.3h0.6v0.6h-0.6zM305.7 890.0h0.6v0.6h-0.6zM304.4 894.1h0.6v0.6h-0.6zM302.9 879.6h0.6v0.6h-0.6zM306.7 873.6h0.6v0.6h-0.6zM307.1 896.9h0.6v0.6h-0.6zM303.0 906.6h0.6v0.6h-0.6zM296.8 890.6h0.6v0.6h-0.6zM299.4 890.6h0.6v0.6h-0.6zM295.6 900.8h0.6v0.6h-0.6zM321.8 876.8h0.6v0.6h-0.6zM299.4 894.3h0.6v0.6h-0.6zM295.7 902.3h0.6v0.6h-0.6zM315.3 882.1h0.6v0.6h-0.6zM301.9 903.3h0.6v0.6h-0.6zM300.1 894.8h0.6v0.6h-0.6zM307.7 872.9h0.6v0.6h-0.6zM306.5 894.8h0.6v0.6h-0.6zM302.0 882.2h0.6v0.6h-0.6zM317.1 879.5h0.6v0.6h-0.6zM317.7 877.2h0.6v0.6h-0.6zM305.3 880.5h0.6v0.6h-0.6zM296.9 892.6h0.6v0.6h-0.6zM293.4 901.3h0.6v0.6h-0.6zM321.7 877.5h0.6v0.6h-0.6zM296.2 902.6h0.6v0.6h-0.6zM307.3 885.7h0.6v0.6h-0.6zM307.4 889.6h0.6v0.6h-0.6zM309.4 891.4h0.6v0.6h-0.6zM297.4 890.1h0.6v0.6h-0.6zM297.5 903.5h0.6v0.6h-0.6zM299.0 895.6h0.6v0.6h-0.6zM297.9 904.9h0.6v0.6h-0.6zM300.0 883.1h0.6v0.6h-0.6zM308.4 897.7h0.6v0.6h-0.6zM312.5 872.4h0.6v0.6h-0.6zM302.5 879.5h0.6v0.6h-0.6zM293.9 894.6h0.6v0.6h-0.6zM316.2 877.2h0.6v0.6h-0.6zM307.9 875.3h0.6v0.6h-0.6zM316.7 876.3h0.6v0.6h-0.6zM318.3 872.5h0.6v0.6h-0.6zM314.9 881.9h0.6v0.6h-0.6zM304.3 901.7h0.6v0.6h-0.6zM312.8 879.0h0.6v0.6h-0.6zM311.6 881.0h0.6v0.6h-0.6zM306.9 892.9h0.6v0.6h-0.6zM305.4 894.4h0.6v0.6h-0.6zM316.0 882.9h0.6v0.6h-0.6zM305.7 906.3h0.6v0.6h-0.6zM306.9 895.5h0.6v0.6h-0.6zM295.5 895.6h0.6v0.6h-0.6zM301.4 901.0h0.6v0.6h-0.6zM296.5 900.3h0.6v0.6h-0.6zM310.3 875.8h0.6v0.6h-0.6zM306.4 874.4h0.6v0.6h-0.6zM302.1 898.8h0.6v0.6h-0.6zM300.3 900.7h0.6v0.6h-0.6zM300.0 880.2h0.6v0.6h-0.6zM298.8 897.1h0.6v0.6h-0.6zM298.6 894.3h0.6v0.6h-0.6zM311.2 880.6h0.6v0.6h-0.6zM298.8 881.4h0.6v0.6h-0.6zM299.6 889.8h0.6v0.6h-0.6zM303.8 891.1h0.6v0.6h-0.6zM302.6 883.6h0.6v0.6h-0.6zM310.0 893.2h0.6v0.6h-0.6zM308.6 885.9h0.6v0.6h-0.6zM307.4 890.8h0.6v0.6h-0.6zM295.8 906.8h0.6v0.6h-0.6zM301.1 883.1h0.6v0.6h-0.6zM308.2 895.3h0.6v0.6h-0.6zM301.3 884.2h0.6v0.6h-0.6zM319.4 873.0h0.6v0.6h-0.6zM303.5 886.6h0.6v0.6h-0.6zM309.4 884.6h0.6v0.6h-0.6zM305.5 895.5h0.6v0.6h-0.6zM317.9 881.0h0.6v0.6h-0.6zM294.1 903.7h0.6v0.6h-0.6zM312.5 886.1h0.6v0.6h-0.6zM307.7 887.5h0.6v0.6h-0.6zM320.2 880.9h0.6v0.6h-0.6zM311.9 881.9h0.6v0.6h-0.6zM304.6 905.5h0.6v0.6h-0.6zM301.7 904.8h0.6v0.6h-0.6zM303.4 889.4h0.6v0.6h-0.6zM304.4 901.5h0.6v0.6h-0.6zM294.8 906.4h0.6v0.6h-0.6zM309.9 890.8h0.6v0.6h-0.6zM317.3 883.0h0.6v0.6h-0.6zM320.1 881.7h0.6v0.6h-0.6zM304.5 878.3h0.6v0.6h-0.6zM309.9 890.7h0.6v0.6h-0.6zM296.8 904.3h0.6v0.6h-0.6zM298.8 885.7h0.6v0.6h-0.6zM293.6 897.3h0.6v0.6h-0.6zM319.2 883.1h0.6v0.6h-0.6zM294.5 898.5h0.6v0.6h-0.6zM299.9 888.8h0.6v0.6h-0.6zM308.8 882.7h0.6v0.6h-0.6zM314.2 887.1h0.6v0.6h-0.6zM299.9 882.8h0.6v0.6h-0.6zM303.0 880.6h0.6v0.6h-0.6z" fill="#a2a2a2"/>
<polygon points="315.95,900.08 318.32,895.87 325.88,892.88 331.55,892.31 332,895.87 327.75,900.08 321.14,902.88 316.44,902.88" fill="#d4d4d4" filter="url(#b05)"/>
<polygon points="318.81,899.39 320.16,896.71 325.97,894.41 330.44,894.03 330.44,895.94 327.31,899.01 321.5,901.31 318.81,901.31" fill="#9c9c9c" filter="url(#b05)"/>
<polygon points="315.95,900.08 318.32,895.87 325.88,892.88 331.55,892.31 332,895.87 327.75,900.08 321.14,902.88 316.44,902.88" fill="none" stroke="#3a3a3a" stroke-width="0.7" stroke-linejoin="round"/>
<polygon points="318.81,899.39 320.16,896.71 325.97,894.41 330.44,894.03 330.44,895.94 327.31,899.01 321.5,901.31 318.81,901.31" fill="none" stroke="#555" stroke-width="0.5" stroke-linejoin="round"/>
<rect x="291.1" y="869.9" width="44.7" height="38.3" fill="none" stroke="#606060" stroke-width="1.3"/>
<text x="313.45" y="868.7" font-size="3.3" text-anchor="middle" fill="#777" >Data.041</text>
<line x1="277.2" y1="917.5" x2="277.2" y2="868.8" stroke="#444" stroke-width="0.9" />
<line x1="277.2" y1="917.5" x2="334.3" y2="917.5" stroke="#444" stroke-width="0.9" />
<circle cx="277.2" cy="868.9" r="1.2" fill="#222"/>
<circle cx="334.6" cy="917.5" r="1.2" fill="#222"/>
<text x="289.1" y="909.2" font-size="3.0" text-anchor="end" fill="#888" >0</text>
<text x="292.6" y="912.7" font-size="3.0" text-anchor="middle" fill="#888" >0</text>
<text x="289.1" y="901.84" font-size="3.0" text-anchor="end" fill="#888" >200</text>
<text x="300.94" y="912.7" font-size="3.0" text-anchor="middle" fill="#888" >200</text>
<text x="289.1" y="894.48" font-size="3.0" text-anchor="end" fill="#888" >400</text>
<text x="309.28" y="912.7" font-size="3.0" text-anchor="middle" fill="#888" >400</text>
<text x="289.1" y="887.12" font-size="3.0" text-anchor="end" fill="#888" >600</text>
<text x="317.62" y="912.7" font-size="3.0" text-anchor="middle" fill="#888" >600</text>
<text x="289.1" y="879.76" font-size="3.0" text-anchor="end" fill="#888" >800</text>
<text x="325.96" y="912.7" font-size="3.0" text-anchor="middle" fill="#888" >800</text>
<text x="289.1" y="872.4" font-size="3.0" text-anchor="end" fill="#888" >1000</text>
<text x="334.3" y="912.7" font-size="3.0" text-anchor="middle" fill="#888" >1000</text>
<text x="313.45" y="916.5" font-size="3.3" text-anchor="middle" fill="#777" >FSC-H</text>
<text x="312.45" y="921.9" font-size="3.6" text-anchor="middle" fill="#444" >FSC</text>
<text transform="translate(274.2 889.3) rotate(-90)" font-size="3.6" text-anchor="middle" fill="#444">SSC</text>
<text transform="translate(281.2 889.3) rotate(-90)" font-size="3.0" text-anchor="middle" fill="#888">SSC-H</text>
<ellipse cx="392.1" cy="898.8" rx="2.4" ry="5" fill="#cfcfcf" filter="url(#b05)"/>
<ellipse cx="392.3" cy="898.3" rx="1.2" ry="1.5" fill="#777" filter="url(#b05)"/>
<rect x="386" y="884.6" width="10.5" height="23.4" fill="none" stroke="#8a8a8a" stroke-width="0.8"/>
<rect x="350.7" y="869.9" width="45.8" height="38.3" fill="none" stroke="#606060" stroke-width="1.3"/>
<text x="373.6" y="868.7" font-size="3.3" text-anchor="middle" fill="#777" >Data.042</text>
<text x="348.7" y="909.2" font-size="3.0" text-anchor="end" fill="#888" >0</text>
<text x="348.7" y="901.84" font-size="3.0" text-anchor="end" fill="#888" >200</text>
<text x="348.7" y="894.48" font-size="3.0" text-anchor="end" fill="#888" >400</text>
<text x="348.7" y="887.12" font-size="3.0" text-anchor="end" fill="#888" >600</text>
<text x="348.7" y="879.76" font-size="3.0" text-anchor="end" fill="#888" >800</text>
<text x="348.7" y="872.4" font-size="3.0" text-anchor="end" fill="#888" >1000</text>
<text x="352.2" y="912.7" font-size="3.0" text-anchor="middle" fill="#888" >10</text>
<text x="362.9" y="912.7" font-size="3.0" text-anchor="middle" fill="#888" >10</text>
<text x="373.6" y="912.7" font-size="3.0" text-anchor="middle" fill="#888" >10</text>
<text x="384.3" y="912.7" font-size="3.0" text-anchor="middle" fill="#888" >10</text>
<text x="395" y="912.7" font-size="3.0" text-anchor="middle" fill="#888" >10</text>
<text x="373.6" y="916.5" font-size="3.3" text-anchor="middle" fill="#777" >FL3-H</text>
<line x1="346.5" y1="917.5" x2="395" y2="917.5" stroke="#444" stroke-width="0.9" />
<circle cx="395.2" cy="917.5" r="1.2" fill="#222"/>
<text x="373" y="921.9" font-size="3.6" text-anchor="middle" fill="#444" >CD4</text>
<text transform="translate(341.2 889.3) rotate(-90)" font-size="3.0" text-anchor="middle" fill="#888">SSC-H</text>
<text x="404.4" y="886" font-size="5.4" fill="#333"><tspan font-style="italic">rh</tspan>Epo-reactive TCL TH39</text>
<text x="404.4" y="892.2" font-size="5.4" text-anchor="start" font-weight="normal" fill="#333" >derived from</text>
<text x="404.4" y="898.3" font-size="5.4" text-anchor="start" font-weight="normal" fill="#333" >HLA-DRB1*09:01-positive donor 8</text>
<text x="300.4" y="926.1" font-size="3.3" text-anchor="middle" fill="#666" >Data.043</text>
<g>
<polygon points="279.15,953.35 288.85,951.68 298.09,950.29 295.78,959.12 293.47,965.61 284.14,962.42 279.15,959.24" fill="#c4c4c4" filter="url(#b1)"/>
<path d="M290.3 952.0h0.6v0.6h-0.6zM286.0 959.4h0.6v0.6h-0.6zM289.1 952.5h0.6v0.6h-0.6zM281.2 953.5h0.6v0.6h-0.6zM293.7 964.5h0.6v0.6h-0.6zM287.8 958.0h0.6v0.6h-0.6zM296.2 950.8h0.6v0.6h-0.6zM281.2 954.3h0.6v0.6h-0.6zM280.4 961.2h0.6v0.6h-0.6zM286.8 962.5h0.6v0.6h-0.6zM296.1 956.4h0.6v0.6h-0.6zM289.5 961.3h0.6v0.6h-0.6zM295.3 951.3h0.6v0.6h-0.6zM287.7 952.9h0.6v0.6h-0.6zM291.0 962.6h0.6v0.6h-0.6zM295.0 953.4h0.6v0.6h-0.6zM279.7 957.1h0.6v0.6h-0.6zM292.5 958.8h0.6v0.6h-0.6zM291.6 959.8h0.6v0.6h-0.6zM285.5 956.9h0.6v0.6h-0.6zM281.3 956.0h0.6v0.6h-0.6zM290.9 959.9h0.6v0.6h-0.6zM281.8 958.1h0.6v0.6h-0.6zM291.4 964.9h0.6v0.6h-0.6zM288.2 962.7h0.6v0.6h-0.6zM280.1 958.4h0.6v0.6h-0.6zM283.8 953.4h0.6v0.6h-0.6zM296.2 955.2h0.6v0.6h-0.6zM292.9 959.6h0.6v0.6h-0.6zM293.5 957.1h0.6v0.6h-0.6zM294.7 956.6h0.6v0.6h-0.6zM292.3 962.3h0.6v0.6h-0.6zM281.2 955.7h0.6v0.6h-0.6zM279.3 953.7h0.6v0.6h-0.6zM284.6 959.7h0.6v0.6h-0.6zM286.7 961.7h0.6v0.6h-0.6zM295.2 958.0h0.6v0.6h-0.6zM280.6 958.1h0.6v0.6h-0.6zM281.9 960.8h0.6v0.6h-0.6zM281.1 960.4h0.6v0.6h-0.6zM287.2 957.6h0.6v0.6h-0.6zM286.0 961.9h0.6v0.6h-0.6zM286.7 962.0h0.6v0.6h-0.6zM290.4 955.2h0.6v0.6h-0.6zM284.5 956.1h0.6v0.6h-0.6zM289.0 958.7h0.6v0.6h-0.6zM289.6 960.2h0.6v0.6h-0.6zM286.5 963.2h0.6v0.6h-0.6zM290.6 958.4h0.6v0.6h-0.6zM289.6 958.5h0.6v0.6h-0.6zM297.0 960.1h0.6v0.6h-0.6zM286.6 959.1h0.6v0.6h-0.6zM291.0 963.6h0.6v0.6h-0.6zM300.5 950.9h0.6v0.6h-0.6zM282.6 955.4h0.6v0.6h-0.6zM292.6 959.1h0.6v0.6h-0.6zM292.6 952.4h0.6v0.6h-0.6zM283.3 959.5h0.6v0.6h-0.6zM289.2 955.1h0.6v0.6h-0.6zM281.8 959.3h0.6v0.6h-0.6zM292.2 961.3h0.6v0.6h-0.6zM284.6 958.9h0.6v0.6h-0.6zM289.8 953.6h0.6v0.6h-0.6zM288.8 952.6h0.6v0.6h-0.6zM285.3 952.5h0.6v0.6h-0.6zM292.1 953.8h0.6v0.6h-0.6zM286.9 955.8h0.6v0.6h-0.6zM282.5 957.8h0.6v0.6h-0.6zM282.8 954.0h0.6v0.6h-0.6zM292.8 954.6h0.6v0.6h-0.6zM295.9 958.3h0.6v0.6h-0.6zM295.9 956.4h0.6v0.6h-0.6zM287.2 952.1h0.6v0.6h-0.6zM291.2 951.7h0.6v0.6h-0.6zM287.9 956.6h0.6v0.6h-0.6zM288.9 954.1h0.6v0.6h-0.6zM293.1 955.0h0.6v0.6h-0.6zM286.0 958.3h0.6v0.6h-0.6zM286.4 962.2h0.6v0.6h-0.6zM294.4 953.9h0.6v0.6h-0.6z" fill="#9c9c9c"/>
<polygon points="283.77,952.87 297.17,950.88 295.09,959.24 290.7,961.63 284.23,957.65" fill="url(#coreF)" filter="url(#b07)"/>
<path d="M288.8 954.8h0.6v0.6h-0.6zM288.7 952.7h0.6v0.6h-0.6zM293.4 951.7h0.6v0.6h-0.6zM289.8 959.9h0.6v0.6h-0.6zM295.5 956.7h0.6v0.6h-0.6zM288.4 954.6h0.6v0.6h-0.6zM295.1 956.5h0.6v0.6h-0.6zM287.2 957.1h0.6v0.6h-0.6zM287.2 959.3h0.6v0.6h-0.6zM292.5 954.5h0.6v0.6h-0.6zM291.3 957.4h0.6v0.6h-0.6zM294.1 958.3h0.6v0.6h-0.6zM288.6 954.4h0.6v0.6h-0.6zM292.6 952.6h0.6v0.6h-0.6zM286.7 958.9h0.6v0.6h-0.6zM294.4 956.8h0.6v0.6h-0.6zM288.8 960.4h0.6v0.6h-0.6zM296.7 951.3h0.6v0.6h-0.6zM296.7 952.5h0.6v0.6h-0.6zM289.8 959.6h0.6v0.6h-0.6zM288.0 952.5h0.6v0.6h-0.6zM291.1 957.8h0.6v0.6h-0.6zM295.2 954.3h0.6v0.6h-0.6zM292.5 950.3h0.6v0.6h-0.6zM291.8 957.8h0.6v0.6h-0.6zM290.4 961.0h0.6v0.6h-0.6zM285.5 957.9h0.6v0.6h-0.6zM292.6 961.3h0.6v0.6h-0.6zM290.4 959.0h0.6v0.6h-0.6zM293.4 959.4h0.6v0.6h-0.6zM295.1 952.3h0.6v0.6h-0.6zM290.9 952.9h0.6v0.6h-0.6zM296.2 952.6h0.6v0.6h-0.6zM294.0 951.4h0.6v0.6h-0.6zM294.0 954.7h0.6v0.6h-0.6zM286.6 951.6h0.6v0.6h-0.6zM289.5 959.3h0.6v0.6h-0.6zM284.6 953.2h0.6v0.6h-0.6zM286.6 955.8h0.6v0.6h-0.6zM289.6 952.9h0.6v0.6h-0.6zM287.3 956.7h0.6v0.6h-0.6zM291.7 959.1h0.6v0.6h-0.6zM292.5 955.0h0.6v0.6h-0.6zM297.7 952.2h0.6v0.6h-0.6zM294.1 951.3h0.6v0.6h-0.6zM295.4 957.3h0.6v0.6h-0.6zM293.7 955.8h0.6v0.6h-0.6zM289.6 956.0h0.6v0.6h-0.6zM294.1 952.1h0.6v0.6h-0.6zM289.7 952.8h0.6v0.6h-0.6zM288.0 958.1h0.6v0.6h-0.6zM292.5 959.9h0.6v0.6h-0.6zM291.3 952.7h0.6v0.6h-0.6zM285.8 954.7h0.6v0.6h-0.6zM288.9 957.7h0.6v0.6h-0.6zM290.1 957.4h0.6v0.6h-0.6zM289.5 953.4h0.6v0.6h-0.6zM285.5 954.9h0.6v0.6h-0.6zM297.9 954.6h0.6v0.6h-0.6zM281.6 956.8h0.6v0.6h-0.6z" fill="#505050"/>
</g>
<line x1="300.63" y1="927.4" x2="300.63" y2="967.2" stroke="#bcbcbc" stroke-width="1.2" />
<line x1="277.3" y1="947.7" x2="323.5" y2="947.7" stroke="#bcbcbc" stroke-width="1.2" />
<rect x="277.3" y="927.4" width="46.2" height="39.8" fill="none" stroke="#939393" stroke-width="1.4"/>
<text x="279.2" y="932.5" font-size="4.75" text-anchor="start" font-weight="normal" fill="#2a2a2a" >Vβ5.3</text>
<text x="322" y="932.5" font-size="4.75" text-anchor="end" font-weight="normal" fill="#2a2a2a" >Vβ3</text>
<text x="322" y="964.2" font-size="4.75" text-anchor="end" font-weight="normal" fill="#2a2a2a" >Vβ7.1</text>
<text x="274.9" y="968.2" font-size="2.8" text-anchor="end" fill="#777" >10</text>
<text x="277.3" y="971.2" font-size="2.8" text-anchor="middle" fill="#777" >10</text>
<text x="274.9" y="958.25" font-size="2.8" text-anchor="end" fill="#777" >10</text>
<text x="288.85" y="971.2" font-size="2.8" text-anchor="middle" fill="#777" >10</text>
<text x="274.9" y="948.3" font-size="2.8" text-anchor="end" fill="#777" >10</text>
<text x="300.4" y="971.2" font-size="2.8" text-anchor="middle" fill="#777" >10</text>
<text x="274.9" y="938.35" font-size="2.8" text-anchor="end" fill="#777" >10</text>
<text x="311.95" y="971.2" font-size="2.8" text-anchor="middle" fill="#777" >10</text>
<text x="274.9" y="928.4" font-size="2.8" text-anchor="end" fill="#777" >10</text>
<text x="323.5" y="971.2" font-size="2.8" text-anchor="middle" fill="#777" >10</text>
<text x="300.4" y="976.2" font-size="3.4" text-anchor="middle" fill="#555" >FL1-H</text>
<text transform="translate(267.3 947.3) rotate(-90)" font-size="3.4" text-anchor="middle" fill="#555">FL2-H</text>
<text x="361.2" y="926.1" font-size="3.3" text-anchor="middle" fill="#666" >Data.044</text>
<g>
<polygon points="339.95,953.35 349.65,951.68 358.89,950.29 356.58,959.12 354.27,965.61 344.94,962.42 339.95,959.24" fill="#c4c4c4" filter="url(#b1)"/>
<path d="M346.4 955.2h0.6v0.6h-0.6zM355.5 957.9h0.6v0.6h-0.6zM351.9 952.6h0.6v0.6h-0.6zM346.3 953.0h0.6v0.6h-0.6zM352.9 963.5h0.6v0.6h-0.6zM350.3 960.0h0.6v0.6h-0.6zM350.1 957.4h0.6v0.6h-0.6zM355.9 954.9h0.6v0.6h-0.6zM352.6 954.7h0.6v0.6h-0.6zM352.8 955.6h0.6v0.6h-0.6zM343.1 959.9h0.6v0.6h-0.6zM347.8 953.9h0.6v0.6h-0.6zM351.3 951.8h0.6v0.6h-0.6zM344.0 958.5h0.6v0.6h-0.6zM344.4 962.0h0.6v0.6h-0.6zM340.3 955.0h0.6v0.6h-0.6zM355.0 956.7h0.6v0.6h-0.6zM351.6 963.2h0.6v0.6h-0.6zM348.3 956.7h0.6v0.6h-0.6zM357.2 955.7h0.6v0.6h-0.6zM351.7 953.4h0.6v0.6h-0.6zM351.4 964.1h0.6v0.6h-0.6zM345.7 955.3h0.6v0.6h-0.6zM347.2 962.2h0.6v0.6h-0.6zM348.5 954.7h0.6v0.6h-0.6zM357.8 953.3h0.6v0.6h-0.6zM356.8 962.2h0.6v0.6h-0.6zM340.5 955.6h0.6v0.6h-0.6zM356.5 958.8h0.6v0.6h-0.6zM355.9 962.8h0.6v0.6h-0.6zM348.0 961.4h0.6v0.6h-0.6zM340.8 954.4h0.6v0.6h-0.6zM355.3 959.7h0.6v0.6h-0.6zM348.0 954.2h0.6v0.6h-0.6zM341.5 956.8h0.6v0.6h-0.6zM349.9 957.8h0.6v0.6h-0.6zM350.3 962.3h0.6v0.6h-0.6zM355.3 956.5h0.6v0.6h-0.6zM343.9 961.5h0.6v0.6h-0.6zM348.5 961.3h0.6v0.6h-0.6zM341.6 960.0h0.6v0.6h-0.6zM351.5 955.5h0.6v0.6h-0.6zM353.8 955.3h0.6v0.6h-0.6zM355.2 955.1h0.6v0.6h-0.6zM351.2 957.8h0.6v0.6h-0.6zM340.1 956.2h0.6v0.6h-0.6zM353.4 963.6h0.6v0.6h-0.6zM350.9 959.9h0.6v0.6h-0.6zM348.0 961.1h0.6v0.6h-0.6zM342.3 953.3h0.6v0.6h-0.6zM354.9 961.3h0.6v0.6h-0.6zM344.5 956.5h0.6v0.6h-0.6zM347.9 959.5h0.6v0.6h-0.6zM353.4 952.8h0.6v0.6h-0.6zM356.0 956.9h0.6v0.6h-0.6zM350.0 958.5h0.6v0.6h-0.6zM341.9 959.2h0.6v0.6h-0.6zM349.7 960.2h0.6v0.6h-0.6zM355.1 957.2h0.6v0.6h-0.6zM355.5 952.5h0.6v0.6h-0.6zM346.2 959.4h0.6v0.6h-0.6zM347.4 961.1h0.6v0.6h-0.6zM356.5 956.0h0.6v0.6h-0.6zM348.8 961.0h0.6v0.6h-0.6zM350.5 960.2h0.6v0.6h-0.6zM356.4 954.3h0.6v0.6h-0.6zM352.9 959.8h0.6v0.6h-0.6zM349.8 956.3h0.6v0.6h-0.6zM354.2 961.6h0.6v0.6h-0.6zM351.6 959.5h0.6v0.6h-0.6zM350.0 964.0h0.6v0.6h-0.6zM346.8 961.8h0.6v0.6h-0.6zM356.9 956.7h0.6v0.6h-0.6zM355.9 959.9h0.6v0.6h-0.6zM342.5 953.6h0.6v0.6h-0.6zM349.9 960.8h0.6v0.6h-0.6zM343.7 953.5h0.6v0.6h-0.6zM354.4 951.1h0.6v0.6h-0.6zM354.7 951.8h0.6v0.6h-0.6zM355.4 955.2h0.6v0.6h-0.6z" fill="#9c9c9c"/>
<polygon points="344.57,952.87 357.97,950.88 355.89,959.24 351.5,961.63 345.03,957.65" fill="url(#coreF)" filter="url(#b07)"/>
<path d="M351.0 957.2h0.6v0.6h-0.6zM352.8 955.3h0.6v0.6h-0.6zM352.3 952.3h0.6v0.6h-0.6zM351.2 953.4h0.6v0.6h-0.6zM350.0 955.0h0.6v0.6h-0.6zM352.2 960.6h0.6v0.6h-0.6zM352.6 956.0h0.6v0.6h-0.6zM345.6 957.0h0.6v0.6h-0.6zM347.7 958.5h0.6v0.6h-0.6zM352.1 956.6h0.6v0.6h-0.6zM355.6 948.9h0.6v0.6h-0.6zM352.5 957.2h0.6v0.6h-0.6zM353.8 957.9h0.6v0.6h-0.6zM354.4 959.4h0.6v0.6h-0.6zM355.8 954.2h0.6v0.6h-0.6zM353.3 953.4h0.6v0.6h-0.6zM347.4 958.9h0.6v0.6h-0.6zM347.2 956.1h0.6v0.6h-0.6zM351.9 952.0h0.6v0.6h-0.6zM345.5 954.9h0.6v0.6h-0.6zM355.2 955.1h0.6v0.6h-0.6zM352.0 956.7h0.6v0.6h-0.6zM351.7 961.2h0.6v0.6h-0.6zM348.9 955.6h0.6v0.6h-0.6zM352.2 957.6h0.6v0.6h-0.6zM345.1 956.5h0.6v0.6h-0.6zM349.4 955.6h0.6v0.6h-0.6zM352.9 960.8h0.6v0.6h-0.6zM348.4 960.9h0.6v0.6h-0.6zM346.4 954.5h0.6v0.6h-0.6zM343.1 954.5h0.6v0.6h-0.6zM346.1 956.7h0.6v0.6h-0.6zM348.6 959.2h0.6v0.6h-0.6zM351.6 961.5h0.6v0.6h-0.6zM347.7 959.9h0.6v0.6h-0.6zM358.8 958.5h0.6v0.6h-0.6zM352.2 955.7h0.6v0.6h-0.6zM350.7 954.1h0.6v0.6h-0.6zM356.5 956.6h0.6v0.6h-0.6zM350.7 958.3h0.6v0.6h-0.6zM346.1 954.2h0.6v0.6h-0.6zM350.0 954.5h0.6v0.6h-0.6zM349.6 958.9h0.6v0.6h-0.6zM354.2 958.2h0.6v0.6h-0.6zM353.4 955.3h0.6v0.6h-0.6zM357.6 950.1h0.6v0.6h-0.6zM350.0 958.2h0.6v0.6h-0.6zM353.4 958.4h0.6v0.6h-0.6zM357.4 952.8h0.6v0.6h-0.6zM346.1 951.5h0.6v0.6h-0.6zM352.5 959.2h0.6v0.6h-0.6zM350.4 956.4h0.6v0.6h-0.6zM344.8 951.5h0.6v0.6h-0.6zM354.0 952.1h0.6v0.6h-0.6zM352.3 958.9h0.6v0.6h-0.6zM347.0 956.8h0.6v0.6h-0.6zM349.7 954.9h0.6v0.6h-0.6zM360.2 951.3h0.6v0.6h-0.6zM351.3 961.7h0.6v0.6h-0.6zM355.4 958.6h0.6v0.6h-0.6z" fill="#505050"/>
</g>
<line x1="361.43" y1="927.4" x2="361.43" y2="967.2" stroke="#bcbcbc" stroke-width="1.2" />
<line x1="338.1" y1="947.7" x2="384.3" y2="947.7" stroke="#bcbcbc" stroke-width="1.2" />
<rect x="338.1" y="927.4" width="46.2" height="39.8" fill="none" stroke="#939393" stroke-width="1.4"/>
<text x="340" y="932.5" font-size="4.75" text-anchor="start" font-weight="normal" fill="#2a2a2a" >Vβ9</text>
<text x="382.8" y="932.5" font-size="4.75" text-anchor="end" font-weight="normal" fill="#2a2a2a" >Vβ17</text>
<text x="382.8" y="964.2" font-size="4.75" text-anchor="end" font-weight="normal" fill="#2a2a2a" >Vβ16</text>
<text x="335.7" y="968.2" font-size="2.8" text-anchor="end" fill="#777" >10</text>
<text x="338.1" y="971.2" font-size="2.8" text-anchor="middle" fill="#777" >10</text>
<text x="335.7" y="958.25" font-size="2.8" text-anchor="end" fill="#777" >10</text>
<text x="349.65" y="971.2" font-size="2.8" text-anchor="middle" fill="#777" >10</text>
<text x="335.7" y="948.3" font-size="2.8" text-anchor="end" fill="#777" >10</text>
<text x="361.2" y="971.2" font-size="2.8" text-anchor="middle" fill="#777" >10</text>
<text x="335.7" y="938.35" font-size="2.8" text-anchor="end" fill="#777" >10</text>
<text x="372.75" y="971.2" font-size="2.8" text-anchor="middle" fill="#777" >10</text>
<text x="335.7" y="928.4" font-size="2.8" text-anchor="end" fill="#777" >10</text>
<text x="384.3" y="971.2" font-size="2.8" text-anchor="middle" fill="#777" >10</text>
<text x="361.2" y="976.2" font-size="3.4" text-anchor="middle" fill="#555" >FL1-H</text>
<text transform="translate(328.1 947.3) rotate(-90)" font-size="3.4" text-anchor="middle" fill="#555">FL2-H</text>
<text x="422.3" y="926.1" font-size="3.3" text-anchor="middle" fill="#666" >Data.045</text>
<g>
<polygon points="401.05,953.35 410.75,951.68 419.99,950.29 417.68,959.12 415.37,965.61 406.04,962.42 401.05,959.24" fill="#c4c4c4" filter="url(#b1)"/>
<path d="M403.2 959.6h0.6v0.6h-0.6zM404.6 953.7h0.6v0.6h-0.6zM418.3 953.6h0.6v0.6h-0.6zM407.1 960.4h0.6v0.6h-0.6zM415.9 950.8h0.6v0.6h-0.6zM411.3 963.4h0.6v0.6h-0.6zM403.8 954.1h0.6v0.6h-0.6zM403.3 960.4h0.6v0.6h-0.6zM416.9 952.4h0.6v0.6h-0.6zM416.1 962.9h0.6v0.6h-0.6zM415.2 961.7h0.6v0.6h-0.6zM417.7 958.9h0.6v0.6h-0.6zM407.7 959.3h0.6v0.6h-0.6zM405.2 960.3h0.6v0.6h-0.6zM413.1 953.0h0.6v0.6h-0.6zM412.3 952.0h0.6v0.6h-0.6zM418.0 951.4h0.6v0.6h-0.6zM415.9 958.0h0.6v0.6h-0.6zM410.8 959.5h0.6v0.6h-0.6zM411.0 963.4h0.6v0.6h-0.6zM403.6 955.2h0.6v0.6h-0.6zM409.5 952.3h0.6v0.6h-0.6zM418.2 960.9h0.6v0.6h-0.6zM411.7 961.3h0.6v0.6h-0.6zM407.4 962.2h0.6v0.6h-0.6zM411.7 958.1h0.6v0.6h-0.6zM415.8 951.3h0.6v0.6h-0.6zM407.7 956.2h0.6v0.6h-0.6zM406.3 952.5h0.6v0.6h-0.6zM416.1 964.2h0.6v0.6h-0.6zM410.0 963.1h0.6v0.6h-0.6zM406.7 955.6h0.6v0.6h-0.6zM409.6 956.1h0.6v0.6h-0.6zM413.6 961.5h0.6v0.6h-0.6zM409.1 957.9h0.6v0.6h-0.6zM405.2 963.6h0.6v0.6h-0.6zM412.4 963.4h0.6v0.6h-0.6zM413.5 964.8h0.6v0.6h-0.6zM405.8 960.6h0.6v0.6h-0.6zM414.9 964.6h0.6v0.6h-0.6zM411.9 966.4h0.6v0.6h-0.6zM402.2 956.7h0.6v0.6h-0.6zM413.7 951.2h0.6v0.6h-0.6zM405.9 958.3h0.6v0.6h-0.6zM408.5 960.6h0.6v0.6h-0.6zM410.2 959.7h0.6v0.6h-0.6zM411.7 960.9h0.6v0.6h-0.6zM409.7 959.1h0.6v0.6h-0.6zM414.3 954.5h0.6v0.6h-0.6zM413.5 958.3h0.6v0.6h-0.6zM402.3 960.3h0.6v0.6h-0.6zM409.9 952.3h0.6v0.6h-0.6zM410.8 955.9h0.6v0.6h-0.6zM418.9 951.3h0.6v0.6h-0.6zM406.9 955.8h0.6v0.6h-0.6zM416.1 951.5h0.6v0.6h-0.6zM402.8 953.4h0.6v0.6h-0.6zM412.2 961.2h0.6v0.6h-0.6zM413.9 963.7h0.6v0.6h-0.6zM411.0 958.2h0.6v0.6h-0.6zM402.9 957.4h0.6v0.6h-0.6zM413.1 960.0h0.6v0.6h-0.6zM412.9 954.7h0.6v0.6h-0.6zM413.7 961.1h0.6v0.6h-0.6zM418.1 954.3h0.6v0.6h-0.6zM402.8 958.2h0.6v0.6h-0.6zM416.8 957.0h0.6v0.6h-0.6zM409.0 961.7h0.6v0.6h-0.6zM409.3 957.1h0.6v0.6h-0.6zM411.7 958.7h0.6v0.6h-0.6zM405.6 960.1h0.6v0.6h-0.6zM414.2 964.6h0.6v0.6h-0.6zM411.8 957.0h0.6v0.6h-0.6zM401.4 958.2h0.6v0.6h-0.6zM402.9 953.4h0.6v0.6h-0.6zM409.6 953.4h0.6v0.6h-0.6zM406.7 960.6h0.6v0.6h-0.6zM401.5 957.1h0.6v0.6h-0.6zM418.3 948.6h0.6v0.6h-0.6zM411.1 953.8h0.6v0.6h-0.6z" fill="#9c9c9c"/>
<polygon points="405.67,952.87 419.07,950.88 416.99,959.24 412.6,961.63 406.13,957.65" fill="url(#coreF)" filter="url(#b07)"/>
<path d="M413.3 961.9h0.6v0.6h-0.6zM413.5 958.3h0.6v0.6h-0.6zM420.1 953.7h0.6v0.6h-0.6zM410.5 951.3h0.6v0.6h-0.6zM406.8 956.4h0.6v0.6h-0.6zM420.3 953.7h0.6v0.6h-0.6zM417.6 955.4h0.6v0.6h-0.6zM415.8 959.6h0.6v0.6h-0.6zM416.8 954.8h0.6v0.6h-0.6zM409.6 953.0h0.6v0.6h-0.6zM415.1 955.7h0.6v0.6h-0.6zM411.6 954.2h0.6v0.6h-0.6zM407.6 958.4h0.6v0.6h-0.6zM420.7 952.9h0.6v0.6h-0.6zM416.8 957.9h0.6v0.6h-0.6zM410.9 954.4h0.6v0.6h-0.6zM418.0 954.4h0.6v0.6h-0.6zM414.5 949.2h0.6v0.6h-0.6zM415.2 957.3h0.6v0.6h-0.6zM407.6 954.3h0.6v0.6h-0.6zM407.4 957.5h0.6v0.6h-0.6zM411.7 955.6h0.6v0.6h-0.6zM411.4 960.7h0.6v0.6h-0.6zM409.7 953.9h0.6v0.6h-0.6zM416.2 954.3h0.6v0.6h-0.6zM417.1 953.5h0.6v0.6h-0.6zM411.2 957.8h0.6v0.6h-0.6zM403.2 953.1h0.6v0.6h-0.6zM413.7 953.3h0.6v0.6h-0.6zM416.0 958.6h0.6v0.6h-0.6zM417.0 953.7h0.6v0.6h-0.6zM417.7 952.9h0.6v0.6h-0.6zM408.4 953.7h0.6v0.6h-0.6zM412.8 960.4h0.6v0.6h-0.6zM408.2 954.6h0.6v0.6h-0.6zM412.4 958.3h0.6v0.6h-0.6zM413.2 956.6h0.6v0.6h-0.6zM415.3 952.9h0.6v0.6h-0.6zM413.9 956.1h0.6v0.6h-0.6zM415.9 959.7h0.6v0.6h-0.6zM411.9 957.9h0.6v0.6h-0.6zM417.2 955.5h0.6v0.6h-0.6zM415.8 954.9h0.6v0.6h-0.6zM407.8 954.3h0.6v0.6h-0.6zM416.1 953.9h0.6v0.6h-0.6zM408.7 955.9h0.6v0.6h-0.6zM407.7 956.9h0.6v0.6h-0.6zM408.5 954.6h0.6v0.6h-0.6zM415.8 957.6h0.6v0.6h-0.6zM415.4 960.1h0.6v0.6h-0.6zM413.4 955.3h0.6v0.6h-0.6zM413.8 955.9h0.6v0.6h-0.6zM409.5 952.6h0.6v0.6h-0.6zM409.7 955.1h0.6v0.6h-0.6zM407.0 957.6h0.6v0.6h-0.6zM416.1 952.7h0.6v0.6h-0.6zM411.6 955.0h0.6v0.6h-0.6zM414.1 953.4h0.6v0.6h-0.6zM410.6 954.4h0.6v0.6h-0.6zM407.2 953.5h0.6v0.6h-0.6z" fill="#505050"/>
</g>
<line x1="422.53" y1="927.4" x2="422.53" y2="967.2" stroke="#bcbcbc" stroke-width="1.2" />
<line x1="399.2" y1="947.7" x2="445.4" y2="947.7" stroke="#bcbcbc" stroke-width="1.2" />
<rect x="399.2" y="927.4" width="46.2" height="39.8" fill="none" stroke="#939393" stroke-width="1.4"/>
<text x="401.1" y="932.5" font-size="4.75" text-anchor="start" font-weight="normal" fill="#2a2a2a" >Vβ18</text>
<text x="443.9" y="932.5" font-size="4.75" text-anchor="end" font-weight="normal" fill="#2a2a2a" >Vβ5.1</text>
<text x="443.9" y="964.2" font-size="4.75" text-anchor="end" font-weight="normal" fill="#2a2a2a" >Vβ20</text>
<text x="396.8" y="968.2" font-size="2.8" text-anchor="end" fill="#777" >10</text>
<text x="399.2" y="971.2" font-size="2.8" text-anchor="middle" fill="#777" >10</text>
<text x="396.8" y="958.25" font-size="2.8" text-anchor="end" fill="#777" >10</text>
<text x="410.75" y="971.2" font-size="2.8" text-anchor="middle" fill="#777" >10</text>
<text x="396.8" y="948.3" font-size="2.8" text-anchor="end" fill="#777" >10</text>
<text x="422.3" y="971.2" font-size="2.8" text-anchor="middle" fill="#777" >10</text>
<text x="396.8" y="938.35" font-size="2.8" text-anchor="end" fill="#777" >10</text>
<text x="433.85" y="971.2" font-size="2.8" text-anchor="middle" fill="#777" >10</text>
<text x="396.8" y="928.4" font-size="2.8" text-anchor="end" fill="#777" >10</text>
<text x="445.4" y="971.2" font-size="2.8" text-anchor="middle" fill="#777" >10</text>
<text x="422.3" y="976.2" font-size="3.4" text-anchor="middle" fill="#555" >FL1-H</text>
<text transform="translate(389.2 947.3) rotate(-90)" font-size="3.4" text-anchor="middle" fill="#555">FL2-H</text>
<text x="483.2" y="926.1" font-size="3.3" text-anchor="middle" fill="#666" >Data.046</text>
<g>
<polygon points="461.95,953.35 471.65,951.68 480.89,950.29 478.58,959.12 476.27,965.61 466.94,962.42 461.95,959.24" fill="#c4c4c4" filter="url(#b1)"/>
<path d="M468.6 961.9h0.6v0.6h-0.6zM473.4 961.6h0.6v0.6h-0.6zM463.8 961.9h0.6v0.6h-0.6zM476.1 952.6h0.6v0.6h-0.6zM473.4 960.1h0.6v0.6h-0.6zM479.3 952.5h0.6v0.6h-0.6zM474.6 952.4h0.6v0.6h-0.6zM477.0 962.1h0.6v0.6h-0.6zM471.6 953.1h0.6v0.6h-0.6zM473.5 952.6h0.6v0.6h-0.6zM469.1 958.4h0.6v0.6h-0.6zM469.1 962.6h0.6v0.6h-0.6zM476.2 953.3h0.6v0.6h-0.6zM477.8 952.0h0.6v0.6h-0.6zM475.5 965.3h0.6v0.6h-0.6zM465.2 956.8h0.6v0.6h-0.6zM476.9 957.3h0.6v0.6h-0.6zM476.3 963.1h0.6v0.6h-0.6zM467.9 954.8h0.6v0.6h-0.6zM471.6 953.5h0.6v0.6h-0.6zM476.5 953.4h0.6v0.6h-0.6zM468.9 961.0h0.6v0.6h-0.6zM464.4 955.1h0.6v0.6h-0.6zM481.1 957.9h0.6v0.6h-0.6zM468.7 958.0h0.6v0.6h-0.6zM469.4 958.5h0.6v0.6h-0.6zM464.7 954.2h0.6v0.6h-0.6zM463.6 958.8h0.6v0.6h-0.6zM479.8 953.0h0.6v0.6h-0.6zM472.8 956.3h0.6v0.6h-0.6zM481.2 955.9h0.6v0.6h-0.6zM477.5 961.7h0.6v0.6h-0.6zM470.8 954.4h0.6v0.6h-0.6zM471.8 958.8h0.6v0.6h-0.6zM462.9 958.5h0.6v0.6h-0.6zM463.6 951.4h0.6v0.6h-0.6zM463.7 955.9h0.6v0.6h-0.6zM471.0 956.9h0.6v0.6h-0.6zM466.1 955.8h0.6v0.6h-0.6zM465.0 957.2h0.6v0.6h-0.6zM480.2 951.1h0.6v0.6h-0.6zM467.2 955.4h0.6v0.6h-0.6zM472.7 956.4h0.6v0.6h-0.6zM465.3 956.3h0.6v0.6h-0.6zM476.5 952.1h0.6v0.6h-0.6zM480.4 954.4h0.6v0.6h-0.6zM465.2 958.6h0.6v0.6h-0.6zM480.2 951.0h0.6v0.6h-0.6zM472.7 958.0h0.6v0.6h-0.6zM475.4 964.8h0.6v0.6h-0.6zM463.3 953.2h0.6v0.6h-0.6zM462.6 958.6h0.6v0.6h-0.6zM464.5 956.0h0.6v0.6h-0.6zM466.4 959.7h0.6v0.6h-0.6zM475.5 962.3h0.6v0.6h-0.6zM471.9 954.5h0.6v0.6h-0.6zM475.0 965.1h0.6v0.6h-0.6zM463.8 960.9h0.6v0.6h-0.6zM462.6 961.5h0.6v0.6h-0.6zM468.3 952.6h0.6v0.6h-0.6zM478.8 957.7h0.6v0.6h-0.6zM470.7 961.4h0.6v0.6h-0.6zM471.3 957.4h0.6v0.6h-0.6zM462.9 957.8h0.6v0.6h-0.6zM469.5 962.8h0.6v0.6h-0.6zM467.4 962.1h0.6v0.6h-0.6zM472.3 962.9h0.6v0.6h-0.6zM473.5 952.6h0.6v0.6h-0.6zM474.9 962.3h0.6v0.6h-0.6zM471.1 954.1h0.6v0.6h-0.6zM463.5 955.7h0.6v0.6h-0.6zM476.9 959.1h0.6v0.6h-0.6zM466.8 960.7h0.6v0.6h-0.6zM474.1 955.3h0.6v0.6h-0.6zM465.3 953.7h0.6v0.6h-0.6zM466.6 959.0h0.6v0.6h-0.6zM471.2 958.9h0.6v0.6h-0.6zM479.3 953.3h0.6v0.6h-0.6zM476.3 960.8h0.6v0.6h-0.6zM478.1 948.4h0.6v0.6h-0.6z" fill="#9c9c9c"/>
<polygon points="466.57,952.87 479.97,950.88 477.89,959.24 473.5,961.63 467.03,957.65" fill="url(#coreF)" filter="url(#b07)"/>
<path d="M468.1 955.1h0.6v0.6h-0.6zM473.6 958.1h0.6v0.6h-0.6zM474.5 954.6h0.6v0.6h-0.6zM469.3 955.0h0.6v0.6h-0.6zM476.6 953.4h0.6v0.6h-0.6zM473.2 957.3h0.6v0.6h-0.6zM473.9 960.1h0.6v0.6h-0.6zM467.9 957.4h0.6v0.6h-0.6zM474.5 959.5h0.6v0.6h-0.6zM474.9 957.1h0.6v0.6h-0.6zM475.5 962.2h0.6v0.6h-0.6zM469.7 952.5h0.6v0.6h-0.6zM465.9 957.7h0.6v0.6h-0.6zM468.4 957.9h0.6v0.6h-0.6zM468.4 957.3h0.6v0.6h-0.6zM469.5 953.0h0.6v0.6h-0.6zM475.2 960.3h0.6v0.6h-0.6zM467.5 954.2h0.6v0.6h-0.6zM474.2 954.4h0.6v0.6h-0.6zM476.6 955.9h0.6v0.6h-0.6zM473.0 960.3h0.6v0.6h-0.6zM469.6 955.3h0.6v0.6h-0.6zM472.3 959.6h0.6v0.6h-0.6zM477.6 951.4h0.6v0.6h-0.6zM478.8 953.8h0.6v0.6h-0.6zM474.2 959.5h0.6v0.6h-0.6zM470.3 958.4h0.6v0.6h-0.6zM476.5 956.5h0.6v0.6h-0.6zM473.2 955.5h0.6v0.6h-0.6zM477.1 955.7h0.6v0.6h-0.6zM468.8 957.6h0.6v0.6h-0.6zM471.2 958.5h0.6v0.6h-0.6zM473.8 959.7h0.6v0.6h-0.6zM474.5 952.2h0.6v0.6h-0.6zM468.6 957.5h0.6v0.6h-0.6zM473.1 957.3h0.6v0.6h-0.6zM476.4 953.7h0.6v0.6h-0.6zM474.3 959.1h0.6v0.6h-0.6zM475.7 955.9h0.6v0.6h-0.6zM478.3 953.4h0.6v0.6h-0.6zM465.2 954.3h0.6v0.6h-0.6zM467.2 955.8h0.6v0.6h-0.6zM472.7 953.0h0.6v0.6h-0.6zM475.5 952.7h0.6v0.6h-0.6zM473.0 960.6h0.6v0.6h-0.6zM479.0 953.9h0.6v0.6h-0.6zM474.0 954.7h0.6v0.6h-0.6zM472.2 954.9h0.6v0.6h-0.6zM470.6 953.2h0.6v0.6h-0.6zM472.5 959.3h0.6v0.6h-0.6zM471.0 954.1h0.6v0.6h-0.6zM470.3 954.2h0.6v0.6h-0.6zM473.4 956.1h0.6v0.6h-0.6zM475.9 955.5h0.6v0.6h-0.6zM478.0 954.6h0.6v0.6h-0.6zM473.6 959.0h0.6v0.6h-0.6zM471.5 957.9h0.6v0.6h-0.6zM467.2 956.4h0.6v0.6h-0.6zM476.4 959.2h0.6v0.6h-0.6zM474.4 956.1h0.6v0.6h-0.6z" fill="#505050"/>
</g>
<line x1="483.43" y1="927.4" x2="483.43" y2="967.2" stroke="#bcbcbc" stroke-width="1.2" />
<line x1="460.1" y1="947.7" x2="506.3" y2="947.7" stroke="#bcbcbc" stroke-width="1.2" />
<rect x="460.1" y="927.4" width="46.2" height="39.8" fill="none" stroke="#939393" stroke-width="1.4"/>
<text x="462" y="932.5" font-size="4.75" text-anchor="start" font-weight="normal" fill="#2a2a2a" >Vβ3.1</text>
<text x="504.8" y="932.5" font-size="4.75" text-anchor="end" font-weight="normal" fill="#2a2a2a" >Vβ13.6</text>
<text x="504.8" y="964.2" font-size="4.75" text-anchor="end" font-weight="normal" fill="#2a2a2a" >Vβ8</text>
<text x="457.7" y="968.2" font-size="2.8" text-anchor="end" fill="#777" >10</text>
<text x="460.1" y="971.2" font-size="2.8" text-anchor="middle" fill="#777" >10</text>
<text x="457.7" y="958.25" font-size="2.8" text-anchor="end" fill="#777" >10</text>
<text x="471.65" y="971.2" font-size="2.8" text-anchor="middle" fill="#777" >10</text>
<text x="457.7" y="948.3" font-size="2.8" text-anchor="end" fill="#777" >10</text>
<text x="483.2" y="971.2" font-size="2.8" text-anchor="middle" fill="#777" >10</text>
<text x="457.7" y="938.35" font-size="2.8" text-anchor="end" fill="#777" >10</text>
<text x="494.75" y="971.2" font-size="2.8" text-anchor="middle" fill="#777" >10</text>
<text x="457.7" y="928.4" font-size="2.8" text-anchor="end" fill="#777" >10</text>
<text x="506.3" y="971.2" font-size="2.8" text-anchor="middle" fill="#777" >10</text>
<text x="483.2" y="976.2" font-size="3.4" text-anchor="middle" fill="#555" >FL1-H</text>
<text transform="translate(450.1 947.3) rotate(-90)" font-size="3.4" text-anchor="middle" fill="#555">FL2-H</text>
<text x="300.4" y="981.7" font-size="3.3" text-anchor="middle" fill="#666" >Data.047</text>
<g>
<polygon points="279.15,1008.95 288.85,1007.28 298.09,1005.88 295.78,1014.72 293.47,1021.21 284.14,1018.02 279.15,1014.84" fill="#c4c4c4" filter="url(#b1)"/>
<path d="M290.9 1010.2h0.6v0.6h-0.6zM279.4 1014.2h0.6v0.6h-0.6zM288.5 1018.8h0.6v0.6h-0.6zM294.0 1009.9h0.6v0.6h-0.6zM290.5 1012.5h0.6v0.6h-0.6zM285.0 1010.0h0.6v0.6h-0.6zM292.4 1012.7h0.6v0.6h-0.6zM293.6 1018.0h0.6v0.6h-0.6zM292.4 1018.8h0.6v0.6h-0.6zM286.5 1009.8h0.6v0.6h-0.6zM297.3 1006.7h0.6v0.6h-0.6zM294.6 1015.0h0.6v0.6h-0.6zM285.0 1013.7h0.6v0.6h-0.6zM281.9 1012.6h0.6v0.6h-0.6zM289.3 1008.3h0.6v0.6h-0.6zM287.2 1016.9h0.6v0.6h-0.6zM287.2 1011.8h0.6v0.6h-0.6zM292.2 1015.9h0.6v0.6h-0.6zM295.4 1015.0h0.6v0.6h-0.6zM285.0 1009.0h0.6v0.6h-0.6zM289.1 1008.7h0.6v0.6h-0.6zM282.1 1013.9h0.6v0.6h-0.6zM289.0 1013.8h0.6v0.6h-0.6zM293.0 1010.6h0.6v0.6h-0.6zM287.9 1010.2h0.6v0.6h-0.6zM288.3 1014.5h0.6v0.6h-0.6zM295.8 1013.1h0.6v0.6h-0.6zM288.7 1016.8h0.6v0.6h-0.6zM282.0 1009.6h0.6v0.6h-0.6zM293.0 1013.3h0.6v0.6h-0.6zM288.3 1009.0h0.6v0.6h-0.6zM299.0 1008.7h0.6v0.6h-0.6zM294.5 1009.9h0.6v0.6h-0.6zM279.8 1011.2h0.6v0.6h-0.6zM286.9 1015.7h0.6v0.6h-0.6zM284.0 1012.1h0.6v0.6h-0.6zM292.8 1007.9h0.6v0.6h-0.6zM289.3 1011.5h0.6v0.6h-0.6zM291.9 1012.4h0.6v0.6h-0.6zM291.0 1016.8h0.6v0.6h-0.6zM291.5 1007.4h0.6v0.6h-0.6zM291.4 1014.3h0.6v0.6h-0.6zM290.6 1015.2h0.6v0.6h-0.6zM285.6 1007.6h0.6v0.6h-0.6zM284.5 1011.4h0.6v0.6h-0.6zM283.6 1016.6h0.6v0.6h-0.6zM290.4 1011.1h0.6v0.6h-0.6zM293.3 1018.1h0.6v0.6h-0.6zM288.6 1008.5h0.6v0.6h-0.6zM287.0 1017.5h0.6v0.6h-0.6zM289.1 1008.2h0.6v0.6h-0.6zM288.3 1013.6h0.6v0.6h-0.6zM290.8 1014.8h0.6v0.6h-0.6zM283.0 1011.7h0.6v0.6h-0.6zM288.8 1021.2h0.6v0.6h-0.6zM283.7 1014.4h0.6v0.6h-0.6zM290.7 1012.1h0.6v0.6h-0.6zM291.5 1018.6h0.6v0.6h-0.6zM288.9 1012.8h0.6v0.6h-0.6zM295.0 1015.7h0.6v0.6h-0.6zM295.8 1006.3h0.6v0.6h-0.6zM292.4 1017.8h0.6v0.6h-0.6zM283.9 1014.1h0.6v0.6h-0.6zM295.2 1014.4h0.6v0.6h-0.6zM291.6 1016.4h0.6v0.6h-0.6zM294.3 1007.1h0.6v0.6h-0.6zM289.7 1008.3h0.6v0.6h-0.6zM293.8 1013.5h0.6v0.6h-0.6zM289.1 1013.9h0.6v0.6h-0.6zM291.7 1016.1h0.6v0.6h-0.6zM281.1 1015.8h0.6v0.6h-0.6zM286.9 1007.2h0.6v0.6h-0.6zM283.9 1009.1h0.6v0.6h-0.6zM293.8 1019.6h0.6v0.6h-0.6zM282.4 1008.7h0.6v0.6h-0.6zM294.2 1007.6h0.6v0.6h-0.6zM279.5 1011.5h0.6v0.6h-0.6zM288.3 1008.7h0.6v0.6h-0.6zM293.8 1008.1h0.6v0.6h-0.6zM285.8 1015.4h0.6v0.6h-0.6z" fill="#9c9c9c"/>
<polygon points="283.77,1008.47 297.17,1006.48 295.09,1014.84 290.7,1017.23 284.23,1013.25" fill="url(#coreF)" filter="url(#b07)"/>
<path d="M291.0 1009.4h0.6v0.6h-0.6zM288.5 1013.3h0.6v0.6h-0.6zM291.8 1011.2h0.6v0.6h-0.6zM286.4 1012.1h0.6v0.6h-0.6zM284.1 1009.3h0.6v0.6h-0.6zM288.7 1011.2h0.6v0.6h-0.6zM291.7 1008.7h0.6v0.6h-0.6zM290.5 1009.0h0.6v0.6h-0.6zM296.5 1014.4h0.6v0.6h-0.6zM289.2 1015.2h0.6v0.6h-0.6zM286.0 1007.7h0.6v0.6h-0.6zM291.1 1008.9h0.6v0.6h-0.6zM293.8 1013.7h0.6v0.6h-0.6zM292.3 1007.5h0.6v0.6h-0.6zM286.9 1015.5h0.6v0.6h-0.6zM288.7 1010.4h0.6v0.6h-0.6zM291.0 1016.2h0.6v0.6h-0.6zM291.5 1013.1h0.6v0.6h-0.6zM289.3 1011.9h0.6v0.6h-0.6zM288.5 1015.5h0.6v0.6h-0.6zM286.2 1011.0h0.6v0.6h-0.6zM282.7 1013.1h0.6v0.6h-0.6zM290.4 1010.6h0.6v0.6h-0.6zM294.1 1012.2h0.6v0.6h-0.6zM286.0 1015.0h0.6v0.6h-0.6zM284.7 1009.7h0.6v0.6h-0.6zM293.4 1008.0h0.6v0.6h-0.6zM289.4 1014.9h0.6v0.6h-0.6zM285.8 1008.5h0.6v0.6h-0.6zM287.3 1011.7h0.6v0.6h-0.6zM288.8 1010.9h0.6v0.6h-0.6zM292.5 1013.8h0.6v0.6h-0.6zM286.9 1012.9h0.6v0.6h-0.6zM293.3 1016.9h0.6v0.6h-0.6zM292.7 1012.9h0.6v0.6h-0.6zM291.3 1014.3h0.6v0.6h-0.6zM292.4 1015.4h0.6v0.6h-0.6zM292.7 1010.5h0.6v0.6h-0.6zM285.6 1009.2h0.6v0.6h-0.6zM292.5 1011.6h0.6v0.6h-0.6zM297.8 1013.6h0.6v0.6h-0.6zM289.3 1011.7h0.6v0.6h-0.6zM288.8 1015.3h0.6v0.6h-0.6zM290.2 1009.9h0.6v0.6h-0.6zM295.2 1013.2h0.6v0.6h-0.6zM288.7 1015.1h0.6v0.6h-0.6zM292.0 1011.4h0.6v0.6h-0.6zM288.3 1015.0h0.6v0.6h-0.6zM292.3 1004.9h0.6v0.6h-0.6zM289.5 1017.1h0.6v0.6h-0.6zM291.3 1010.5h0.6v0.6h-0.6zM288.4 1009.0h0.6v0.6h-0.6zM290.3 1008.6h0.6v0.6h-0.6zM285.4 1011.6h0.6v0.6h-0.6zM296.0 1007.4h0.6v0.6h-0.6zM283.6 1009.4h0.6v0.6h-0.6zM287.8 1014.1h0.6v0.6h-0.6zM291.2 1009.2h0.6v0.6h-0.6zM286.1 1012.1h0.6v0.6h-0.6zM296.3 1009.9h0.6v0.6h-0.6z" fill="#505050"/>
</g>
<line x1="300.63" y1="983" x2="300.63" y2="1022.8" stroke="#bcbcbc" stroke-width="1.2" />
<line x1="277.3" y1="1003.3" x2="323.5" y2="1003.3" stroke="#bcbcbc" stroke-width="1.2" />
<rect x="277.3" y="983" width="46.2" height="39.8" fill="none" stroke="#939393" stroke-width="1.4"/>
<text x="279.2" y="988.1" font-size="4.75" text-anchor="start" font-weight="normal" fill="#2a2a2a" >Vβ5.2</text>
<text x="322" y="988.1" font-size="4.75" text-anchor="end" font-weight="normal" fill="#2a2a2a" >Vβ2</text>
<text x="322" y="1019.8" font-size="4.75" text-anchor="end" font-weight="normal" fill="#2a2a2a" >Vβ12</text>
<text x="274.9" y="1023.8" font-size="2.8" text-anchor="end" fill="#777" >10</text>
<text x="277.3" y="1026.8" font-size="2.8" text-anchor="middle" fill="#777" >10</text>
<text x="274.9" y="1013.85" font-size="2.8" text-anchor="end" fill="#777" >10</text>
<text x="288.85" y="1026.8" font-size="2.8" text-anchor="middle" fill="#777" >10</text>
<text x="274.9" y="1003.9" font-size="2.8" text-anchor="end" fill="#777" >10</text>
<text x="300.4" y="1026.8" font-size="2.8" text-anchor="middle" fill="#777" >10</text>
<text x="274.9" y="993.95" font-size="2.8" text-anchor="end" fill="#777" >10</text>
<text x="311.95" y="1026.8" font-size="2.8" text-anchor="middle" fill="#777" >10</text>
<text x="274.9" y="984" font-size="2.8" text-anchor="end" fill="#777" >10</text>
<text x="323.5" y="1026.8" font-size="2.8" text-anchor="middle" fill="#777" >10</text>
<text x="300.4" y="1031.8" font-size="3.4" text-anchor="middle" fill="#555" >FL1-H</text>
<text transform="translate(267.3 1002.9) rotate(-90)" font-size="3.4" text-anchor="middle" fill="#555">FL2-H</text>
<text x="361.2" y="981.7" font-size="3.3" text-anchor="middle" fill="#666" >Data.048</text>
<g>
<polygon points="339.95,1008.95 349.65,1007.28 358.89,1005.88 356.58,1014.72 354.27,1021.21 344.94,1018.02 339.95,1014.84" fill="#c4c4c4" filter="url(#b1)"/>
<path d="M346.4 1013.2h0.6v0.6h-0.6zM352.8 1012.8h0.6v0.6h-0.6zM345.4 1008.5h0.6v0.6h-0.6zM358.2 1008.0h0.6v0.6h-0.6zM356.0 1013.3h0.6v0.6h-0.6zM342.7 1010.4h0.6v0.6h-0.6zM352.9 1009.7h0.6v0.6h-0.6zM343.1 1014.9h0.6v0.6h-0.6zM355.9 1008.2h0.6v0.6h-0.6zM347.0 1014.9h0.6v0.6h-0.6zM345.0 1013.2h0.6v0.6h-0.6zM343.9 1009.9h0.6v0.6h-0.6zM353.7 1006.7h0.6v0.6h-0.6zM345.8 1013.9h0.6v0.6h-0.6zM341.8 1014.1h0.6v0.6h-0.6zM351.2 1008.9h0.6v0.6h-0.6zM348.1 1019.0h0.6v0.6h-0.6zM352.5 1014.0h0.6v0.6h-0.6zM340.7 1010.0h0.6v0.6h-0.6zM354.0 1020.3h0.6v0.6h-0.6zM349.6 1018.2h0.6v0.6h-0.6zM342.0 1006.8h0.6v0.6h-0.6zM350.6 1017.4h0.6v0.6h-0.6zM346.0 1015.6h0.6v0.6h-0.6zM353.1 1011.4h0.6v0.6h-0.6zM356.2 1010.8h0.6v0.6h-0.6zM345.6 1009.0h0.6v0.6h-0.6zM344.2 1010.5h0.6v0.6h-0.6zM355.5 1006.7h0.6v0.6h-0.6zM352.2 1015.2h0.6v0.6h-0.6zM350.8 1017.4h0.6v0.6h-0.6zM356.8 1012.3h0.6v0.6h-0.6zM349.1 1017.7h0.6v0.6h-0.6zM353.5 1010.5h0.6v0.6h-0.6zM348.1 1013.7h0.6v0.6h-0.6zM352.2 1018.4h0.6v0.6h-0.6zM347.0 1008.2h0.6v0.6h-0.6zM357.9 1007.4h0.6v0.6h-0.6zM354.0 1013.2h0.6v0.6h-0.6zM340.9 1015.0h0.6v0.6h-0.6zM343.8 1016.1h0.6v0.6h-0.6zM347.2 1006.4h0.6v0.6h-0.6zM351.0 1009.9h0.6v0.6h-0.6zM351.5 1012.6h0.6v0.6h-0.6zM353.3 1019.1h0.6v0.6h-0.6zM347.1 1010.4h0.6v0.6h-0.6zM352.6 1008.5h0.6v0.6h-0.6zM355.3 1009.4h0.6v0.6h-0.6zM344.7 1013.0h0.6v0.6h-0.6zM343.8 1014.3h0.6v0.6h-0.6zM355.0 1011.4h0.6v0.6h-0.6zM350.9 1019.6h0.6v0.6h-0.6zM350.0 1016.7h0.6v0.6h-0.6zM341.3 1013.6h0.6v0.6h-0.6zM345.7 1014.0h0.6v0.6h-0.6zM347.8 1008.9h0.6v0.6h-0.6zM359.3 1012.0h0.6v0.6h-0.6zM355.3 1009.9h0.6v0.6h-0.6zM352.5 1013.6h0.6v0.6h-0.6zM347.8 1015.6h0.6v0.6h-0.6zM349.8 1007.3h0.6v0.6h-0.6zM353.1 1008.2h0.6v0.6h-0.6zM350.8 1018.7h0.6v0.6h-0.6zM351.9 1015.9h0.6v0.6h-0.6zM340.1 1012.2h0.6v0.6h-0.6zM347.3 1016.6h0.6v0.6h-0.6zM349.2 1012.2h0.6v0.6h-0.6zM348.0 1009.7h0.6v0.6h-0.6zM346.0 1009.2h0.6v0.6h-0.6zM354.8 1014.2h0.6v0.6h-0.6zM353.9 1020.0h0.6v0.6h-0.6zM358.3 1007.6h0.6v0.6h-0.6zM352.5 1007.6h0.6v0.6h-0.6zM352.5 1013.6h0.6v0.6h-0.6zM345.3 1017.2h0.6v0.6h-0.6zM345.8 1009.6h0.6v0.6h-0.6zM356.2 1011.2h0.6v0.6h-0.6zM341.4 1011.0h0.6v0.6h-0.6zM345.8 1006.3h0.6v0.6h-0.6zM351.0 1008.2h0.6v0.6h-0.6z" fill="#9c9c9c"/>
<polygon points="344.57,1008.47 357.97,1006.48 355.89,1014.84 351.5,1017.23 345.03,1013.25" fill="url(#coreF)" filter="url(#b07)"/>
<path d="M352.2 1012.9h0.6v0.6h-0.6zM346.9 1008.3h0.6v0.6h-0.6zM349.5 1015.2h0.6v0.6h-0.6zM346.8 1011.8h0.6v0.6h-0.6zM352.1 1012.2h0.6v0.6h-0.6zM354.2 1011.8h0.6v0.6h-0.6zM353.9 1007.1h0.6v0.6h-0.6zM356.7 1006.8h0.6v0.6h-0.6zM355.6 1007.1h0.6v0.6h-0.6zM347.0 1010.3h0.6v0.6h-0.6zM349.2 1012.3h0.6v0.6h-0.6zM351.4 1013.5h0.6v0.6h-0.6zM353.3 1009.3h0.6v0.6h-0.6zM352.0 1016.4h0.6v0.6h-0.6zM352.1 1013.1h0.6v0.6h-0.6zM345.1 1012.8h0.6v0.6h-0.6zM348.8 1011.4h0.6v0.6h-0.6zM350.4 1009.0h0.6v0.6h-0.6zM346.6 1010.7h0.6v0.6h-0.6zM352.1 1016.1h0.6v0.6h-0.6zM353.9 1009.5h0.6v0.6h-0.6zM354.7 1009.3h0.6v0.6h-0.6zM353.0 1010.3h0.6v0.6h-0.6zM351.0 1009.9h0.6v0.6h-0.6zM352.0 1013.3h0.6v0.6h-0.6zM345.2 1011.9h0.6v0.6h-0.6zM352.7 1015.9h0.6v0.6h-0.6zM350.6 1011.2h0.6v0.6h-0.6zM356.4 1009.0h0.6v0.6h-0.6zM355.5 1016.9h0.6v0.6h-0.6zM350.9 1009.1h0.6v0.6h-0.6zM348.1 1015.0h0.6v0.6h-0.6zM355.6 1014.8h0.6v0.6h-0.6zM351.8 1007.0h0.6v0.6h-0.6zM349.0 1009.9h0.6v0.6h-0.6zM354.1 1013.4h0.6v0.6h-0.6zM350.3 1014.5h0.6v0.6h-0.6zM351.2 1016.2h0.6v0.6h-0.6zM349.7 1011.2h0.6v0.6h-0.6zM351.4 1011.0h0.6v0.6h-0.6zM354.6 1013.6h0.6v0.6h-0.6zM354.9 1012.0h0.6v0.6h-0.6zM346.0 1013.7h0.6v0.6h-0.6zM351.1 1015.9h0.6v0.6h-0.6zM355.1 1011.7h0.6v0.6h-0.6zM354.9 1014.1h0.6v0.6h-0.6zM348.5 1013.7h0.6v0.6h-0.6zM350.9 1014.2h0.6v0.6h-0.6zM352.9 1009.4h0.6v0.6h-0.6zM353.5 1015.8h0.6v0.6h-0.6zM346.8 1010.5h0.6v0.6h-0.6zM355.8 1014.0h0.6v0.6h-0.6zM345.1 1006.3h0.6v0.6h-0.6zM352.8 1008.2h0.6v0.6h-0.6zM348.0 1012.6h0.6v0.6h-0.6zM353.9 1013.0h0.6v0.6h-0.6zM346.9 1013.9h0.6v0.6h-0.6zM352.8 1015.5h0.6v0.6h-0.6zM349.2 1013.4h0.6v0.6h-0.6zM349.2 1009.5h0.6v0.6h-0.6z" fill="#505050"/>
</g>
<line x1="361.43" y1="983" x2="361.43" y2="1022.8" stroke="#bcbcbc" stroke-width="1.2" />
<line x1="338.1" y1="1003.3" x2="384.3" y2="1003.3" stroke="#bcbcbc" stroke-width="1.2" />
<rect x="338.1" y="983" width="46.2" height="39.8" fill="none" stroke="#939393" stroke-width="1.4"/>
<text x="340" y="988.1" font-size="4.75" text-anchor="start" font-weight="normal" fill="#2a2a2a" >Vβ23</text>
<text x="382.8" y="988.1" font-size="4.75" text-anchor="end" font-weight="normal" fill="#2a2a2a" >Vβ1</text>
<text x="382.8" y="1019.8" font-size="4.75" text-anchor="end" font-weight="normal" fill="#2a2a2a" >Vβ21.3</text>
<text x="335.7" y="1023.8" font-size="2.8" text-anchor="end" fill="#777" >10</text>
<text x="338.1" y="1026.8" font-size="2.8" text-anchor="middle" fill="#777" >10</text>
<text x="335.7" y="1013.85" font-size="2.8" text-anchor="end" fill="#777" >10</text>
<text x="349.65" y="1026.8" font-size="2.8" text-anchor="middle" fill="#777" >10</text>
<text x="335.7" y="1003.9" font-size="2.8" text-anchor="end" fill="#777" >10</text>
<text x="361.2" y="1026.8" font-size="2.8" text-anchor="middle" fill="#777" >10</text>
<text x="335.7" y="993.95" font-size="2.8" text-anchor="end" fill="#777" >10</text>
<text x="372.75" y="1026.8" font-size="2.8" text-anchor="middle" fill="#777" >10</text>
<text x="335.7" y="984" font-size="2.8" text-anchor="end" fill="#777" >10</text>
<text x="384.3" y="1026.8" font-size="2.8" text-anchor="middle" fill="#777" >10</text>
<text x="361.2" y="1031.8" font-size="3.4" text-anchor="middle" fill="#555" >FL1-H</text>
<text transform="translate(328.1 1002.9) rotate(-90)" font-size="3.4" text-anchor="middle" fill="#555">FL2-H</text>
<text x="422.3" y="981.7" font-size="3.3" text-anchor="middle" fill="#666" >Data.049</text>
<g>
<polygon points="401.05,1008.95 410.75,1007.28 419.99,1005.88 417.68,1014.72 415.37,1021.21 406.04,1018.02 401.05,1014.84" fill="#c4c4c4" filter="url(#b1)"/>
<path d="M415.2 1018.7h0.6v0.6h-0.6zM405.5 1016.8h0.6v0.6h-0.6zM411.3 1013.5h0.6v0.6h-0.6zM417.1 1014.0h0.6v0.6h-0.6zM416.4 1012.6h0.6v0.6h-0.6zM409.5 1013.7h0.6v0.6h-0.6zM415.7 1015.0h0.6v0.6h-0.6zM403.2 1011.9h0.6v0.6h-0.6zM407.3 1012.8h0.6v0.6h-0.6zM406.2 1010.1h0.6v0.6h-0.6zM419.0 1006.6h0.6v0.6h-0.6zM418.2 1011.4h0.6v0.6h-0.6zM417.0 1007.2h0.6v0.6h-0.6zM414.0 1014.1h0.6v0.6h-0.6zM410.9 1016.4h0.6v0.6h-0.6zM418.4 1015.1h0.6v0.6h-0.6zM414.3 1016.8h0.6v0.6h-0.6zM403.9 1016.4h0.6v0.6h-0.6zM412.7 1019.9h0.6v0.6h-0.6zM410.6 1011.6h0.6v0.6h-0.6zM415.1 1010.3h0.6v0.6h-0.6zM412.7 1017.6h0.6v0.6h-0.6zM402.8 1015.6h0.6v0.6h-0.6zM407.7 1012.2h0.6v0.6h-0.6zM412.6 1009.6h0.6v0.6h-0.6zM415.0 1020.8h0.6v0.6h-0.6zM409.5 1010.7h0.6v0.6h-0.6zM408.4 1011.1h0.6v0.6h-0.6zM414.4 1012.6h0.6v0.6h-0.6zM407.2 1008.6h0.6v0.6h-0.6zM407.1 1017.8h0.6v0.6h-0.6zM413.0 1012.0h0.6v0.6h-0.6zM401.5 1013.1h0.6v0.6h-0.6zM413.7 1010.7h0.6v0.6h-0.6zM410.1 1010.9h0.6v0.6h-0.6zM413.9 1008.0h0.6v0.6h-0.6zM408.7 1015.6h0.6v0.6h-0.6zM402.1 1012.2h0.6v0.6h-0.6zM412.1 1015.2h0.6v0.6h-0.6zM416.8 1014.1h0.6v0.6h-0.6zM412.5 1008.5h0.6v0.6h-0.6zM413.4 1008.1h0.6v0.6h-0.6zM406.1 1009.5h0.6v0.6h-0.6zM418.2 1011.2h0.6v0.6h-0.6zM411.8 1013.8h0.6v0.6h-0.6zM415.2 1014.3h0.6v0.6h-0.6zM419.1 1006.9h0.6v0.6h-0.6zM409.4 1009.3h0.6v0.6h-0.6zM403.7 1011.3h0.6v0.6h-0.6zM407.5 1010.2h0.6v0.6h-0.6zM403.9 1014.8h0.6v0.6h-0.6zM413.8 1015.6h0.6v0.6h-0.6zM409.2 1018.5h0.6v0.6h-0.6zM417.3 1009.0h0.6v0.6h-0.6zM410.7 1015.6h0.6v0.6h-0.6zM416.9 1004.7h0.6v0.6h-0.6zM408.0 1011.5h0.6v0.6h-0.6zM414.2 1020.6h0.6v0.6h-0.6zM416.7 1012.3h0.6v0.6h-0.6zM408.9 1014.6h0.6v0.6h-0.6zM415.6 1012.5h0.6v0.6h-0.6zM416.7 1006.4h0.6v0.6h-0.6zM409.5 1012.8h0.6v0.6h-0.6zM411.0 1017.4h0.6v0.6h-0.6zM413.9 1018.0h0.6v0.6h-0.6zM415.1 1009.3h0.6v0.6h-0.6zM411.8 1008.3h0.6v0.6h-0.6zM405.7 1008.6h0.6v0.6h-0.6zM415.0 1020.2h0.6v0.6h-0.6zM407.3 1013.0h0.6v0.6h-0.6zM403.0 1011.8h0.6v0.6h-0.6zM402.8 1010.9h0.6v0.6h-0.6zM415.5 1007.5h0.6v0.6h-0.6zM415.7 1007.6h0.6v0.6h-0.6zM410.5 1011.8h0.6v0.6h-0.6zM404.2 1009.6h0.6v0.6h-0.6zM414.0 1017.0h0.6v0.6h-0.6zM407.7 1010.8h0.6v0.6h-0.6zM416.2 1017.9h0.6v0.6h-0.6zM411.8 1007.6h0.6v0.6h-0.6z" fill="#9c9c9c"/>
<polygon points="405.67,1008.47 419.07,1006.48 416.99,1014.84 412.6,1017.23 406.13,1013.25" fill="url(#coreF)" filter="url(#b07)"/>
<path d="M412.8 1008.0h0.6v0.6h-0.6zM415.2 1015.2h0.6v0.6h-0.6zM413.2 1010.1h0.6v0.6h-0.6zM413.3 1013.2h0.6v0.6h-0.6zM420.1 1011.1h0.6v0.6h-0.6zM416.9 1013.7h0.6v0.6h-0.6zM409.2 1013.1h0.6v0.6h-0.6zM416.6 1014.7h0.6v0.6h-0.6zM414.9 1012.7h0.6v0.6h-0.6zM418.8 1006.6h0.6v0.6h-0.6zM406.1 1009.4h0.6v0.6h-0.6zM415.8 1013.4h0.6v0.6h-0.6zM416.2 1011.8h0.6v0.6h-0.6zM407.3 1009.5h0.6v0.6h-0.6zM414.2 1015.5h0.6v0.6h-0.6zM411.8 1009.0h0.6v0.6h-0.6zM412.4 1011.0h0.6v0.6h-0.6zM408.1 1013.6h0.6v0.6h-0.6zM414.4 1009.9h0.6v0.6h-0.6zM410.2 1011.0h0.6v0.6h-0.6zM416.3 1007.1h0.6v0.6h-0.6zM406.8 1010.2h0.6v0.6h-0.6zM414.1 1016.2h0.6v0.6h-0.6zM410.0 1010.0h0.6v0.6h-0.6zM411.4 1012.7h0.6v0.6h-0.6zM409.2 1010.6h0.6v0.6h-0.6zM412.4 1013.2h0.6v0.6h-0.6zM417.3 1009.5h0.6v0.6h-0.6zM412.3 1012.2h0.6v0.6h-0.6zM416.5 1006.9h0.6v0.6h-0.6zM413.3 1014.0h0.6v0.6h-0.6zM408.4 1012.4h0.6v0.6h-0.6zM417.3 1013.7h0.6v0.6h-0.6zM406.9 1012.2h0.6v0.6h-0.6zM416.2 1008.3h0.6v0.6h-0.6zM408.9 1012.0h0.6v0.6h-0.6zM409.6 1013.7h0.6v0.6h-0.6zM416.5 1012.8h0.6v0.6h-0.6zM410.0 1012.2h0.6v0.6h-0.6zM418.2 1011.7h0.6v0.6h-0.6zM412.4 1011.7h0.6v0.6h-0.6zM412.7 1009.0h0.6v0.6h-0.6zM409.0 1011.7h0.6v0.6h-0.6zM416.6 1017.4h0.6v0.6h-0.6zM406.8 1012.4h0.6v0.6h-0.6zM410.9 1012.3h0.6v0.6h-0.6zM406.4 1012.6h0.6v0.6h-0.6zM414.2 1010.4h0.6v0.6h-0.6zM413.4 1019.1h0.6v0.6h-0.6zM416.6 1011.1h0.6v0.6h-0.6zM415.8 1007.4h0.6v0.6h-0.6zM412.6 1013.6h0.6v0.6h-0.6zM413.6 1011.1h0.6v0.6h-0.6zM415.1 1014.6h0.6v0.6h-0.6zM414.7 1010.5h0.6v0.6h-0.6zM414.5 1011.2h0.6v0.6h-0.6zM417.5 1004.8h0.6v0.6h-0.6zM406.0 1010.1h0.6v0.6h-0.6zM407.1 1013.7h0.6v0.6h-0.6zM416.9 1014.3h0.6v0.6h-0.6z" fill="#505050"/>
</g>
<line x1="422.53" y1="983" x2="422.53" y2="1022.8" stroke="#bcbcbc" stroke-width="1.2" />
<line x1="399.2" y1="1003.3" x2="445.4" y2="1003.3" stroke="#bcbcbc" stroke-width="1.2" />
<rect x="399.2" y="983" width="46.2" height="39.8" fill="none" stroke="#939393" stroke-width="1.4"/>
<text x="401.1" y="988.1" font-size="4.75" text-anchor="start" font-weight="normal" fill="#2a2a2a" >Vβ11</text>
<text x="443.9" y="988.1" font-size="4.75" text-anchor="end" font-weight="normal" fill="#2a2a2a" >Vβ22</text>
<text x="443.9" y="1019.8" font-size="4.75" text-anchor="end" font-weight="normal" fill="#2a2a2a" >Vβ14</text>
<text x="396.8" y="1023.8" font-size="2.8" text-anchor="end" fill="#777" >10</text>
<text x="399.2" y="1026.8" font-size="2.8" text-anchor="middle" fill="#777" >10</text>
<text x="396.8" y="1013.85" font-size="2.8" text-anchor="end" fill="#777" >10</text>
<text x="410.75" y="1026.8" font-size="2.8" text-anchor="middle" fill="#777" >10</text>
<text x="396.8" y="1003.9" font-size="2.8" text-anchor="end" fill="#777" >10</text>
<text x="422.3" y="1026.8" font-size="2.8" text-anchor="middle" fill="#777" >10</text>
<text x="396.8" y="993.95" font-size="2.8" text-anchor="end" fill="#777" >10</text>
<text x="433.85" y="1026.8" font-size="2.8" text-anchor="middle" fill="#777" >10</text>
<text x="396.8" y="984" font-size="2.8" text-anchor="end" fill="#777" >10</text>
<text x="445.4" y="1026.8" font-size="2.8" text-anchor="middle" fill="#777" >10</text>
<text x="422.3" y="1031.8" font-size="3.4" text-anchor="middle" fill="#555" >FL1-H</text>
<text transform="translate(389.2 1002.9) rotate(-90)" font-size="3.4" text-anchor="middle" fill="#555">FL2-H</text>
<text x="483.2" y="981.7" font-size="3.3" text-anchor="middle" fill="#666" >Data.050</text>
<g>
<path d="M477.9 1004.4h0.6v0.6h-0.6zM475.9 1016.3h0.6v0.6h-0.6zM465.9 1017.4h0.6v0.6h-0.6zM465.9 1015.4h0.6v0.6h-0.6zM466.5 1011.0h0.6v0.6h-0.6zM466.4 1018.0h0.6v0.6h-0.6zM467.7 1019.4h0.6v0.6h-0.6zM469.0 1017.6h0.6v0.6h-0.6zM466.3 1009.2h0.6v0.6h-0.6zM482.6 1012.6h0.6v0.6h-0.6z" fill="#dadada"/>
</g>
<ellipse cx="471.19" cy="994.54" rx="8" ry="4.5" transform="rotate(0 471.19 994.54)" fill="#555" filter="url(#b05)"/>
<ellipse cx="471.19" cy="994.54" rx="10.4" ry="6.3" transform="rotate(0 471.19 994.54)" fill="none" stroke="#666" stroke-width="0.6"/>
<ellipse cx="471.19" cy="994.54" rx="8.53" ry="4.91" transform="rotate(0 471.19 994.54)" fill="none" stroke="#888" stroke-width="0.45"/>
<line x1="483.66" y1="983" x2="483.66" y2="1022.8" stroke="#bcbcbc" stroke-width="1.2" />
<line x1="460.1" y1="1003.1" x2="506.3" y2="1003.1" stroke="#bcbcbc" stroke-width="1.2" />
<rect x="460.1" y="983" width="46.2" height="39.8" fill="none" stroke="#939393" stroke-width="1.4"/>
<text x="462" y="988.1" font-size="4.75" text-anchor="start" font-weight="normal" fill="#2a2a2a" >Vβ13.2</text>
<text x="504.8" y="988.1" font-size="4.75" text-anchor="end" font-weight="normal" fill="#2a2a2a" >Vβ4</text>
<text x="504.8" y="1019.8" font-size="4.75" text-anchor="end" font-weight="normal" fill="#2a2a2a" >Vβ7.2</text>
<text x="457.7" y="1023.8" font-size="2.8" text-anchor="end" fill="#777" >10</text>
<text x="460.1" y="1026.8" font-size="2.8" text-anchor="middle" fill="#777" >10</text>
<text x="457.7" y="1013.85" font-size="2.8" text-anchor="end" fill="#777" >10</text>
<text x="471.65" y="1026.8" font-size="2.8" text-anchor="middle" fill="#777" >10</text>
<text x="457.7" y="1003.9" font-size="2.8" text-anchor="end" fill="#777" >10</text>
<text x="483.2" y="1026.8" font-size="2.8" text-anchor="middle" fill="#777" >10</text>
<text x="457.7" y="993.95" font-size="2.8" text-anchor="end" fill="#777" >10</text>
<text x="494.75" y="1026.8" font-size="2.8" text-anchor="middle" fill="#777" >10</text>
<text x="457.7" y="984" font-size="2.8" text-anchor="end" fill="#777" >10</text>
<text x="506.3" y="1026.8" font-size="2.8" text-anchor="middle" fill="#777" >10</text>
<text x="483.2" y="1031.8" font-size="3.4" text-anchor="middle" fill="#555" >FL1-H</text>
<text transform="translate(450.1 1002.9) rotate(-90)" font-size="3.4" text-anchor="middle" fill="#555">FL2-H</text>
<rect x="0.5" y="0.5" width="519" height="1044" fill="none" stroke="#bdbdbd" stroke-width="1"/>
</svg>
</body></html>
